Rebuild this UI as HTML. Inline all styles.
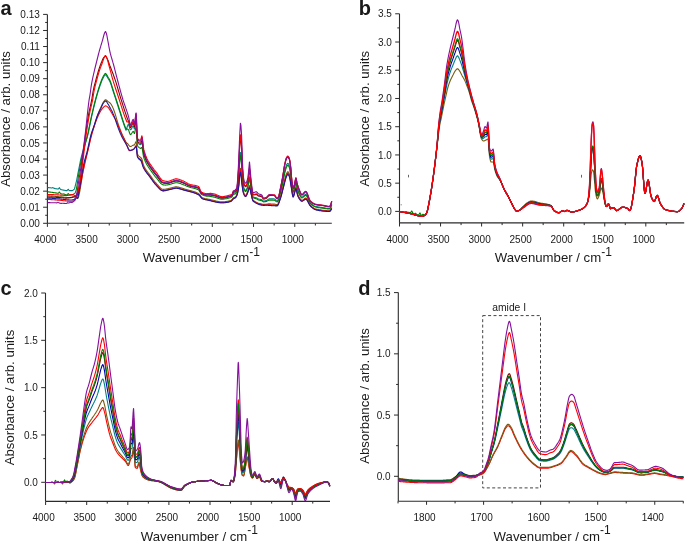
<!DOCTYPE html>
<html><head><meta charset="utf-8"><style>
html,body{margin:0;padding:0;background:#fff;}
svg{display:block;will-change:transform;}
text{font-family:"Liberation Sans", sans-serif;fill:#1a1a1a;}
</style></head><body>
<svg width="685" height="542" viewBox="0 0 685 542">
<rect width="685" height="542" fill="#fff"/>
<path d="M47.40 14.40 V223.30" stroke="#2b2b2b" stroke-width="1.1" fill="none"/>
<path d="M47.40 223.30 H331.80" stroke="#2b2b2b" stroke-width="1.1" fill="none"/>
<text x="39.80" y="226.90" font-size="10" text-anchor="end" font-weight="normal" >0.00</text>
<text x="39.80" y="210.83" font-size="10" text-anchor="end" font-weight="normal" >0.01</text>
<text x="39.80" y="194.76" font-size="10" text-anchor="end" font-weight="normal" >0.02</text>
<text x="39.80" y="178.69" font-size="10" text-anchor="end" font-weight="normal" >0.03</text>
<text x="39.80" y="162.62" font-size="10" text-anchor="end" font-weight="normal" >0.04</text>
<text x="39.80" y="146.55" font-size="10" text-anchor="end" font-weight="normal" >0.05</text>
<text x="39.80" y="130.49" font-size="10" text-anchor="end" font-weight="normal" >0.06</text>
<text x="39.80" y="114.42" font-size="10" text-anchor="end" font-weight="normal" >0.07</text>
<text x="39.80" y="98.35" font-size="10" text-anchor="end" font-weight="normal" >0.08</text>
<text x="39.80" y="82.28" font-size="10" text-anchor="end" font-weight="normal" >0.09</text>
<text x="39.80" y="66.21" font-size="10" text-anchor="end" font-weight="normal" >0.10</text>
<text x="39.80" y="50.14" font-size="10" text-anchor="end" font-weight="normal" >0.11</text>
<text x="39.80" y="34.07" font-size="10" text-anchor="end" font-weight="normal" >0.12</text>
<text x="39.80" y="18.00" font-size="10" text-anchor="end" font-weight="normal" >0.13</text>
<text x="45.40" y="243.10" font-size="10" text-anchor="middle" font-weight="normal" >4000</text>
<text x="86.62" y="243.10" font-size="10" text-anchor="middle" font-weight="normal" >3500</text>
<text x="127.85" y="243.10" font-size="10" text-anchor="middle" font-weight="normal" >3000</text>
<text x="169.07" y="243.10" font-size="10" text-anchor="middle" font-weight="normal" >2500</text>
<text x="210.30" y="243.10" font-size="10" text-anchor="middle" font-weight="normal" >2000</text>
<text x="251.53" y="243.10" font-size="10" text-anchor="middle" font-weight="normal" >1500</text>
<text x="292.75" y="243.10" font-size="10" text-anchor="middle" font-weight="normal" >1000</text>
<path d="M47.40 223.30 H43.10M47.40 207.23 H43.10M47.40 191.16 H43.10M47.40 175.09 H43.10M47.40 159.02 H43.10M47.40 142.95 H43.10M47.40 126.89 H43.10M47.40 110.82 H43.10M47.40 94.75 H43.10M47.40 78.68 H43.10M47.40 62.61 H43.10M47.40 46.54 H43.10M47.40 30.47 H43.10M47.40 14.40 H43.10M47.40 215.27 H45.20M47.40 199.20 H45.20M47.40 183.13 H45.20M47.40 167.06 H45.20M47.40 150.99 H45.20M47.40 134.92 H45.20M47.40 118.85 H45.20M47.40 102.78 H45.20M47.40 86.71 H45.20M47.40 70.64 H45.20M47.40 54.58 H45.20M47.40 38.51 H45.20M47.40 22.44 H45.20M47.40 223.30 V226.90M88.62 223.30 V226.90M129.85 223.30 V226.90M171.07 223.30 V226.90M212.30 223.30 V226.90M253.53 223.30 V226.90M294.75 223.30 V226.90M68.01 223.30 V225.50M109.24 223.30 V225.50M150.46 223.30 V225.50M191.69 223.30 V225.50M232.91 223.30 V225.50M274.14 223.30 V225.50M315.36 223.30 V225.50" stroke="#2b2b2b" stroke-width="1" fill="none"/>
<text x="142.70" y="262.30" font-size="13.2">Wavenumber / cm<tspan font-size="12" dy="-6.2">-1</tspan></text>
<text transform="translate(10.00 119.00) rotate(-90)" x="0" y="0" font-size="13.2" text-anchor="middle">Absorbance / arb. units</text>
<text x="0.60" y="14.50" font-size="20" font-weight="bold" fill="#000">a</text>
<path d="M47.4 187.4L47.9 187.5L48.4 187.6L48.9 187.6L49.4 187.7L49.9 187.8L50.4 187.8L50.9 187.9L51.4 188.0L51.9 188.0L52.4 187.8L52.9 187.6L53.4 187.9L53.9 188.3L54.4 188.4L54.9 188.5L55.0 188.5L55.4 188.6L55.9 188.7L56.4 188.8L56.9 188.9L57.4 189.0L57.9 189.0L58.4 188.9L58.9 188.3L59.4 187.7L59.9 188.4L60.0 188.7L60.4 189.3L60.9 189.6L61.4 189.7L61.9 189.8L62.0 189.8L62.4 189.9L62.9 190.0L63.4 190.1L63.9 190.2L64.4 190.3L64.9 190.4L65.4 190.5L65.9 190.6L66.0 190.6L66.4 190.6L66.9 190.6L67.4 190.3L67.9 189.5L68.4 189.3L68.9 190.1L69.4 190.6L69.9 190.6L70.0 190.6L70.4 190.6L70.9 190.6L71.0 190.6L71.4 190.6L71.9 190.6L72.4 190.5L72.5 190.5L72.9 190.3L73.4 189.9L73.9 189.5L74.0 189.5L74.4 189.0L74.9 187.5L75.3 185.7L75.4 185.3L75.9 183.3L76.0 182.9L76.4 181.3L76.9 179.0L77.0 178.4L77.4 176.3L77.9 173.6L78.4 171.1L78.7 169.6L78.9 168.6L79.3 166.6L79.4 166.1L79.9 163.5L80.4 160.9L80.9 158.7L81.4 156.6L81.9 154.7L82.4 152.9L82.9 151.1L83.1 150.4L83.4 149.3L83.9 147.6L84.4 146.0L84.9 144.3L85.4 142.7L85.9 141.3L86.4 139.8L86.9 138.3L87.3 137.0L87.4 136.6L87.7 135.5L87.9 134.7L88.4 132.6L88.9 130.2L89.1 129.2L89.4 127.7L89.9 125.2L90.4 122.6L90.9 120.1L91.4 117.7L91.5 117.3L91.9 115.5L92.4 113.3L92.9 111.2L93.4 109.1L93.8 107.4L93.9 107.0L94.4 105.0L94.5 104.6L94.9 103.0L95.4 101.1L95.9 99.2L96.4 97.4L96.5 97.1L96.9 95.6L97.4 93.9L97.5 93.6L97.9 92.2L98.4 90.6L98.9 89.0L99.3 87.8L99.4 87.5L99.9 86.0L100.4 84.6L100.5 84.3L100.9 83.2L101.4 81.8L101.9 80.6L102.4 79.4L102.6 79.0L102.9 78.4L103.0 78.2L103.4 77.4L103.9 76.5L104.4 75.8L104.9 75.1L105.4 74.7L105.6 74.8L105.9 75.0L106.4 75.7L106.9 76.4L107.4 77.2L107.8 78.0L107.9 78.1L108.0 78.3L108.4 79.0L108.9 79.8L109.4 80.6L109.9 81.6L110.0 81.8L110.4 82.8L110.9 84.1L111.4 85.7L111.9 87.3L112.4 88.9L112.9 90.5L113.0 90.8L113.4 92.0L113.5 92.3L113.9 93.6L114.4 95.1L114.9 96.6L115.4 98.2L115.9 99.7L116.4 101.3L116.6 101.9L116.9 102.8L117.4 104.4L117.5 104.7L117.9 105.9L118.4 107.5L118.9 109.0L119.4 110.6L119.9 112.1L120.4 113.7L120.9 115.3L121.4 116.9L121.9 118.5L122.4 120.0L122.6 120.7L122.9 121.6L123.0 121.9L123.4 123.1L123.9 124.6L124.4 126.0L124.9 127.4L125.4 128.7L125.9 130.0L126.0 130.3L126.4 129.1L126.9 127.7L127.4 126.3L127.9 125.1L128.4 124.1L128.6 124.2L128.9 125.2L129.4 127.2L129.6 127.9L129.9 128.9L130.4 129.8L130.5 129.8L130.9 129.6L131.4 128.9L131.9 127.9L132.0 127.6L132.4 126.9L132.9 126.2L133.2 126.0L133.4 126.2L133.9 127.7L134.0 128.0L134.4 128.9L134.5 128.9L134.9 127.5L135.4 123.9L135.9 120.9L136.1 120.6L136.4 123.3L136.9 134.4L137.4 141.8L137.9 142.7L138.4 143.3L138.9 143.8L139.4 144.2L139.9 144.4L140.4 144.6L140.6 144.7L140.9 144.4L141.3 143.5L141.4 143.3L141.9 142.8L142.4 144.8L142.9 148.6L143.2 151.0L143.4 152.4L143.8 154.4L143.9 154.7L144.4 156.2L144.9 157.5L145.4 158.8L145.9 159.9L146.4 161.0L146.9 161.9L147.4 162.8L147.9 163.7L148.4 164.5L148.9 165.3L149.4 166.0L149.9 166.7L150.0 166.9L150.4 167.5L150.9 168.2L151.4 168.9L151.9 169.6L152.4 170.3L152.9 171.0L153.4 171.7L153.9 172.4L154.4 173.1L154.9 173.7L155.4 174.3L155.9 174.9L156.0 175.0L156.4 175.5L156.6 175.7L156.9 176.1L157.4 176.7L157.9 177.4L158.4 178.1L158.9 178.8L159.4 179.5L159.9 180.1L160.4 180.7L160.9 181.3L161.4 181.8L161.9 182.2L162.4 182.5L162.9 182.8L163.1 182.8L163.4 182.9L163.9 183.0L164.4 183.0L164.9 183.1L165.4 183.1L165.9 183.2L166.4 183.2L166.9 183.2L167.1 183.1L167.4 183.1L167.9 183.1L168.4 183.0L168.9 182.8L169.4 182.7L169.9 182.6L170.0 182.5L170.4 182.4L170.9 182.2L171.4 182.1L171.9 181.9L172.4 181.7L172.9 181.5L173.4 181.4L173.9 181.2L174.4 181.1L174.9 181.0L175.4 180.9L175.9 180.9L176.3 180.9L176.4 180.9L176.9 180.9L177.4 181.0L177.9 181.0L178.4 181.2L178.9 181.3L179.4 181.4L179.9 181.6L180.4 181.8L180.9 182.0L181.4 182.2L181.9 182.4L182.4 182.5L182.9 182.7L183.4 182.9L183.9 183.1L184.2 183.3L184.4 183.4L184.9 183.6L185.4 183.8L185.9 184.1L186.4 184.3L186.9 184.6L187.4 184.8L187.9 185.0L188.4 185.3L188.9 185.4L189.4 185.6L189.9 185.8L190.4 185.9L190.9 186.1L191.4 186.2L191.9 186.3L192.4 186.4L192.9 186.5L193.4 186.6L193.9 186.7L194.4 186.8L194.9 187.0L195.4 187.1L195.9 187.2L196.4 187.4L196.9 187.6L197.4 187.8L197.9 188.0L198.4 188.2L198.6 188.3L198.9 188.6L199.4 189.4L199.9 190.4L200.4 191.5L200.9 192.4L201.2 192.7L201.4 192.9L201.9 193.2L202.4 193.6L202.6 193.7L202.9 193.8L203.4 194.0L203.9 194.2L204.4 194.4L204.9 194.5L205.4 194.6L205.9 194.7L206.4 194.8L206.5 194.8L206.9 194.8L207.4 194.8L207.8 194.8L207.9 194.8L208.4 194.9L208.9 194.9L209.4 194.9L209.9 194.9L210.4 195.0L210.9 195.0L211.4 195.1L211.9 195.2L212.4 195.3L212.9 195.4L213.4 195.5L213.9 195.6L214.4 195.7L214.9 195.8L215.4 196.0L215.9 196.2L216.4 196.3L216.9 196.5L217.4 196.7L217.9 196.9L218.4 197.1L218.9 197.3L219.4 197.4L219.9 197.6L220.4 197.7L220.9 197.8L221.4 197.9L221.9 197.9L222.0 197.9L222.4 197.9L222.9 197.9L223.4 197.8L223.9 197.8L224.4 197.7L224.9 197.7L225.4 197.6L225.9 197.5L226.4 197.4L226.9 197.3L227.4 197.2L227.9 197.0L228.4 196.9L228.9 196.8L229.4 196.6L229.9 196.5L230.4 196.4L230.9 196.2L231.4 195.9L231.9 195.6L232.0 195.5L232.4 194.9L232.9 193.8L233.1 193.4L233.4 193.1L233.9 193.0L234.4 192.9L234.9 192.9L235.3 192.8L235.4 192.7L235.7 192.6L235.9 192.5L236.4 192.0L236.8 191.3L236.9 191.1L237.1 190.2L237.4 188.3L237.5 187.6L237.9 184.3L238.2 181.3L238.4 179.1L238.6 176.7L238.9 172.4L239.4 163.8L239.7 159.5L239.9 157.1L240.4 152.6L240.5 152.4L240.9 154.5L241.4 160.5L241.6 162.9L241.9 167.4L242.4 176.4L242.5 177.7L242.9 181.8L243.4 185.7L243.5 186.3L243.9 187.9L244.4 189.0L244.9 189.9L245.4 190.4L245.6 190.4L245.9 190.3L246.4 189.6L246.9 188.5L247.4 187.1L247.8 185.9L247.9 185.6L248.4 182.9L248.7 181.1L248.9 179.8L249.4 177.0L249.5 176.9L249.9 178.8L250.2 181.2L250.4 182.7L250.9 186.3L251.0 186.9L251.4 189.4L251.9 192.5L252.4 195.1L252.9 196.7L253.1 196.9L253.4 197.1L253.9 197.3L254.4 197.4L254.9 197.5L255.4 197.6L255.9 197.7L256.3 197.7L256.4 197.8L256.9 198.0L257.4 198.4L257.9 198.7L258.4 199.0L258.9 199.1L259.4 199.2L259.9 199.3L260.4 199.4L260.9 199.5L261.4 199.6L261.6 199.6L261.9 199.8L262.4 200.2L262.9 200.7L263.4 201.0L263.7 201.1L263.9 201.1L264.4 201.0L264.9 200.9L265.4 200.8L265.9 200.6L266.0 200.6L266.4 200.5L266.9 200.2L267.4 199.9L267.9 199.5L268.4 199.2L268.9 199.0L269.3 198.9L269.4 198.9L269.9 198.9L270.4 198.9L270.9 198.9L271.4 198.9L271.9 198.9L272.4 198.9L272.9 198.9L273.4 198.9L273.9 198.9L274.3 198.9L274.4 199.0L274.9 199.2L275.4 199.6L275.9 200.2L276.4 200.6L276.9 200.9L277.1 200.9L277.4 200.8L277.9 200.3L278.4 199.3L278.7 198.7L278.9 198.2L279.4 196.4L279.9 194.2L280.4 192.1L280.9 190.1L281.4 187.9L281.9 185.7L282.4 183.3L282.6 182.3L282.9 180.8L283.4 178.1L283.7 176.5L283.9 175.4L284.4 172.8L284.8 171.0L284.9 170.5L285.4 168.5L285.9 166.6L286.4 165.3L286.5 165.1L286.9 164.3L287.4 163.6L287.8 163.4L287.9 163.4L288.4 163.8L288.9 164.6L289.3 165.5L289.4 165.7L289.9 168.0L290.4 171.3L290.6 172.7L290.9 175.3L291.4 180.4L291.5 181.4L291.9 184.9L292.0 185.6L292.4 188.1L292.9 190.4L293.1 190.9L293.4 191.2L293.5 191.1L293.9 190.2L294.4 188.1L294.9 185.8L295.0 185.4L295.4 183.5L295.9 182.0L296.4 183.5L296.9 186.2L297.0 186.6L297.4 188.3L297.6 188.9L297.9 189.8L298.4 191.2L298.9 192.4L299.2 193.0L299.4 193.4L299.9 194.5L300.4 195.4L300.9 196.3L301.4 196.9L301.9 197.1L302.4 197.0L302.9 196.6L303.4 196.2L303.9 195.6L304.4 195.1L304.9 194.7L305.4 194.4L305.7 194.4L305.9 194.4L306.4 194.8L306.9 195.6L307.4 196.6L307.9 197.7L308.4 199.0L308.9 200.2L309.4 201.3L309.9 202.3L310.4 202.9L310.9 203.4L311.4 203.9L311.9 204.3L312.4 204.7L312.9 205.1L313.4 205.4L313.9 205.7L314.4 206.0L314.9 206.2L315.4 206.3L315.7 206.4L315.9 206.5L316.4 206.6L316.9 206.7L317.4 206.8L317.9 206.9L318.4 207.0L318.9 207.1L319.4 207.1L319.9 207.2L320.4 207.3L320.9 207.3L321.4 207.4L321.9 207.5L322.4 207.5L322.9 207.6L323.1 207.6L323.4 207.7L323.9 207.8L324.4 207.9L324.9 208.0L325.4 208.0L325.9 208.1L326.4 208.2L326.9 208.3L327.4 208.4L327.9 208.4L328.4 208.5L328.9 208.5L329.4 208.5L329.5 208.5L329.9 208.3L330.4 207.6L330.9 206.5L331.4 205.2L331.8 204.3" stroke="#008080" stroke-width="1.10" fill="none" stroke-linejoin="round"/>
<path d="M47.4 191.7L47.9 191.8L48.4 191.9L48.9 191.9L49.4 192.0L49.9 192.1L50.4 192.1L50.9 192.2L51.4 192.3L51.9 192.3L52.4 192.4L52.9 192.5L53.4 192.6L53.9 192.6L54.4 192.7L54.9 192.8L55.0 192.8L55.4 192.9L55.9 192.9L56.4 193.0L56.9 193.1L57.4 193.2L57.9 193.2L58.4 193.2L58.9 192.5L59.4 192.0L59.9 192.7L60.0 192.9L60.4 193.5L60.9 193.8L61.4 193.9L61.9 194.0L62.0 194.0L62.4 194.0L62.9 194.1L63.4 194.0L63.9 193.9L64.4 194.1L64.9 194.5L65.4 194.6L65.9 194.7L66.0 194.7L66.4 194.8L66.9 194.8L67.4 194.5L67.9 193.7L68.4 193.6L68.9 194.4L69.4 194.8L69.9 194.9L70.0 194.9L70.4 194.9L70.9 194.9L71.0 194.9L71.4 194.9L71.9 194.8L72.4 194.7L72.5 194.7L72.9 194.6L73.4 194.2L73.9 193.9L74.0 193.9L74.4 193.6L74.9 193.2L75.3 192.5L75.4 192.3L75.9 191.1L76.0 190.8L76.4 188.9L76.9 186.1L77.0 185.5L77.4 183.0L77.9 179.6L78.4 176.4L78.7 174.5L78.9 173.3L79.3 170.9L79.4 170.3L79.9 167.4L80.4 164.6L80.9 161.9L81.4 159.5L81.9 157.4L82.4 155.4L82.9 153.4L83.1 152.6L83.4 151.4L83.9 149.4L84.4 147.4L84.9 145.4L85.4 143.4L85.9 141.5L86.4 139.5L86.9 137.5L87.3 135.9L87.4 135.5L87.7 134.2L87.9 133.3L88.4 131.0L88.9 128.6L89.1 127.6L89.4 126.1L89.9 123.6L90.4 121.2L90.9 118.8L91.4 116.4L91.5 116.0L91.9 114.2L92.4 112.0L92.9 109.9L93.4 107.8L93.8 106.1L93.9 105.7L94.4 103.7L94.5 103.3L94.9 101.7L95.4 99.8L95.9 97.9L96.4 96.1L96.5 95.8L96.9 94.3L97.4 92.6L97.5 92.3L97.9 90.9L98.4 89.3L98.9 87.7L99.3 86.5L99.4 86.2L99.9 84.7L100.4 83.3L100.5 83.0L100.9 81.9L101.4 80.5L101.9 79.3L102.4 78.1L102.6 77.7L102.9 77.1L103.0 76.9L103.4 76.1L103.9 75.2L104.4 74.5L104.9 73.8L105.4 73.4L105.6 73.5L105.9 73.7L106.4 74.4L106.9 75.1L107.4 75.9L107.8 76.7L107.9 76.8L108.0 77.0L108.4 77.7L108.9 78.5L109.4 79.3L109.9 80.3L110.0 80.5L110.4 81.5L110.9 82.8L111.4 84.4L111.9 86.0L112.4 87.6L112.9 89.2L113.0 89.5L113.4 90.7L113.5 91.0L113.9 92.3L114.4 93.8L114.9 95.3L115.4 96.9L115.9 98.4L116.4 100.0L116.6 100.6L116.9 101.5L117.4 103.1L117.5 103.4L117.9 104.6L118.4 106.2L118.9 107.7L119.4 109.3L119.9 110.8L120.4 112.4L120.9 114.0L121.4 115.6L121.9 117.2L122.4 118.7L122.6 119.4L122.9 120.3L123.0 120.6L123.4 121.8L123.9 123.3L124.4 124.7L124.9 126.1L125.4 127.4L125.9 128.7L126.0 129.0L126.4 129.0L126.9 129.0L127.4 129.1L127.9 129.3L128.4 129.6L128.6 129.9L128.9 130.9L129.4 132.5L129.6 133.1L129.9 133.9L130.4 134.6L130.5 134.6L130.9 134.4L131.4 133.8L131.9 133.0L132.0 132.8L132.4 132.2L132.9 131.6L133.2 131.4L133.4 131.5L133.9 132.6L134.0 132.9L134.4 133.5L134.5 133.5L134.9 132.2L135.4 129.2L135.9 126.8L136.1 126.5L136.4 128.9L136.9 138.8L137.4 145.4L137.9 146.3L138.4 146.9L138.9 147.4L139.4 147.8L139.9 148.1L140.4 148.3L140.6 148.4L140.9 148.3L141.3 147.7L141.4 147.5L141.9 147.5L142.4 149.4L142.9 152.8L143.2 154.8L143.4 156.0L143.8 157.7L143.9 158.0L144.4 159.4L144.9 160.6L145.4 161.7L145.9 162.8L146.4 163.8L146.9 164.7L147.4 165.5L147.9 166.3L148.4 167.1L148.9 167.8L149.4 168.6L149.9 169.3L150.0 169.4L150.4 170.0L150.9 170.7L151.4 171.4L151.9 172.1L152.4 172.8L152.9 173.5L153.4 174.2L153.9 174.9L154.4 175.5L154.9 176.2L155.4 176.8L155.9 177.3L156.0 177.4L156.4 177.9L156.6 178.1L156.9 178.5L157.4 179.1L157.9 179.8L158.4 180.4L158.9 181.1L159.4 181.8L159.9 182.4L160.4 183.0L160.9 183.5L161.4 183.9L161.9 184.3L162.4 184.6L162.9 184.8L163.1 184.9L163.4 184.9L163.9 185.0L164.4 185.0L164.9 185.0L165.4 185.1L165.9 185.0L166.4 185.0L166.9 185.0L167.1 185.0L167.4 184.9L167.9 184.8L168.4 184.7L168.9 184.6L169.4 184.5L169.9 184.4L170.0 184.3L170.4 184.2L170.9 184.0L171.4 183.9L171.9 183.7L172.4 183.5L172.9 183.4L173.4 183.2L173.9 183.1L174.4 183.0L174.9 182.9L175.4 182.8L175.9 182.7L176.3 182.7L176.4 182.7L176.9 182.8L177.4 182.8L177.9 182.9L178.4 183.0L178.9 183.1L179.4 183.3L179.9 183.4L180.4 183.6L180.9 183.8L181.4 184.0L181.9 184.2L182.4 184.3L182.9 184.5L183.4 184.7L183.9 184.9L184.2 185.0L184.4 185.1L184.9 185.3L185.4 185.5L185.9 185.8L186.4 186.0L186.9 186.2L187.4 186.4L187.9 186.6L188.4 186.8L188.9 187.0L189.4 187.1L189.9 187.3L190.4 187.4L190.9 187.6L191.4 187.7L191.9 187.8L192.4 187.9L192.9 188.0L193.4 188.1L193.9 188.3L194.4 188.4L194.9 188.5L195.4 188.7L195.9 188.8L196.4 189.0L196.9 189.2L197.4 189.4L197.9 189.6L198.4 189.9L198.6 190.0L198.9 190.2L199.4 190.9L199.9 191.9L200.4 192.8L200.9 193.7L201.2 194.0L201.4 194.2L201.9 194.6L202.4 194.9L202.6 195.0L202.9 195.1L203.4 195.3L203.9 195.5L204.4 195.7L204.9 195.8L205.4 195.9L205.9 196.0L206.4 196.1L206.5 196.1L206.9 196.1L207.4 196.2L207.8 196.2L207.9 196.2L208.4 196.2L208.9 196.3L209.4 196.3L209.9 196.4L210.4 196.4L210.9 196.5L211.4 196.6L211.9 196.7L212.4 196.8L212.9 196.9L213.4 197.0L213.9 197.1L214.4 197.2L214.9 197.3L215.4 197.5L215.9 197.6L216.4 197.8L216.9 198.0L217.4 198.1L217.9 198.3L218.4 198.4L218.9 198.6L219.4 198.7L219.9 198.9L220.4 199.0L220.9 199.1L221.4 199.1L221.9 199.1L222.0 199.1L222.4 199.1L222.9 199.1L223.4 199.1L223.9 199.0L224.4 199.0L224.9 198.9L225.4 198.8L225.9 198.8L226.4 198.7L226.9 198.6L227.4 198.4L227.9 198.3L228.4 198.2L228.9 198.1L229.4 197.9L229.9 197.8L230.4 197.7L230.9 197.5L231.4 197.2L231.9 196.8L232.0 196.7L232.4 196.1L232.9 195.1L233.1 194.8L233.4 194.5L233.9 194.3L234.4 194.1L234.9 194.0L235.3 193.9L235.4 193.8L235.7 193.7L235.9 193.5L236.4 192.9L236.8 192.2L236.9 191.9L237.1 191.1L237.4 189.3L237.5 188.7L237.9 185.6L238.2 182.8L238.4 180.7L238.6 178.4L238.9 174.3L239.4 166.1L239.7 162.0L239.9 159.8L240.4 155.5L240.5 155.3L240.9 157.5L241.4 163.4L241.6 165.7L241.9 169.9L242.4 178.2L242.5 179.4L242.9 183.3L243.4 187.0L243.5 187.5L243.9 189.0L244.4 190.2L244.9 191.0L245.4 191.5L245.6 191.5L245.9 191.4L246.4 190.7L246.9 189.6L247.4 188.2L247.8 187.1L247.9 186.7L248.4 184.2L248.7 182.4L248.9 181.2L249.4 178.7L249.5 178.6L249.9 180.3L250.2 182.6L250.4 184.0L250.9 187.5L251.0 188.0L251.4 190.4L251.9 193.3L252.4 195.9L252.9 197.5L253.1 197.7L253.4 197.9L253.9 198.1L254.4 198.3L254.9 198.4L255.4 198.5L255.9 198.6L256.3 198.7L256.4 198.7L256.9 199.0L257.4 199.3L257.9 199.7L258.4 199.9L258.9 200.1L259.4 200.2L259.9 200.3L260.4 200.4L260.9 200.5L261.4 200.6L261.6 200.6L261.9 200.8L262.4 201.1L262.9 201.5L263.4 201.8L263.7 201.9L263.9 201.9L264.4 201.8L264.9 201.7L265.4 201.6L265.9 201.5L266.0 201.5L266.4 201.4L266.9 201.2L267.4 200.9L267.9 200.6L268.4 200.4L268.9 200.2L269.3 200.1L269.4 200.1L269.9 200.1L270.4 200.1L270.9 200.1L271.4 200.1L271.9 200.1L272.4 200.1L272.9 200.1L273.4 200.2L273.9 200.2L274.3 200.2L274.4 200.2L274.9 200.4L275.4 200.8L275.9 201.2L276.4 201.6L276.9 201.9L277.1 201.9L277.4 201.8L277.9 201.2L278.4 200.3L278.7 199.6L278.9 199.1L279.4 197.4L279.9 195.4L280.4 193.4L280.9 191.4L281.4 189.3L281.9 187.1L282.4 184.8L282.6 183.8L282.9 182.4L283.4 179.8L283.7 178.3L283.9 177.2L284.4 174.8L284.8 173.0L284.9 172.5L285.4 170.5L285.9 168.7L286.4 167.3L286.5 167.1L286.9 166.3L287.4 165.6L287.8 165.3L287.9 165.3L288.4 165.7L288.9 166.6L289.3 167.4L289.4 167.7L289.9 169.9L290.4 173.1L290.6 174.6L290.9 177.0L291.4 181.8L291.5 182.7L291.9 186.0L292.0 186.7L292.4 189.2L292.9 191.6L293.1 192.1L293.4 192.2L293.5 192.1L293.9 191.2L294.4 189.1L294.9 186.9L295.0 186.5L295.4 184.7L295.9 183.2L296.4 184.6L296.9 187.3L297.0 187.8L297.4 189.4L297.6 190.1L297.9 191.0L298.4 192.3L298.9 193.5L299.2 194.1L299.4 194.4L299.9 195.4L300.4 196.3L300.9 197.1L301.4 197.7L301.9 197.9L302.4 197.7L302.9 197.4L303.4 197.0L303.9 196.5L304.4 196.0L304.9 195.5L305.4 195.3L305.7 195.3L305.9 195.3L306.4 195.7L306.9 196.4L307.4 197.3L307.9 198.5L308.4 199.7L308.9 200.8L309.4 201.9L309.9 202.8L310.4 203.5L310.9 204.0L311.4 204.4L311.9 204.8L312.4 205.3L312.9 205.6L313.4 206.0L313.9 206.3L314.4 206.5L314.9 206.8L315.4 206.9L315.7 207.0L315.9 207.1L316.4 207.2L316.9 207.3L317.4 207.4L317.9 207.5L318.4 207.6L318.9 207.7L319.4 207.7L319.9 207.8L320.4 207.9L320.9 207.9L321.4 208.0L321.9 208.1L322.4 208.1L322.9 208.2L323.1 208.2L323.4 208.3L323.9 208.4L324.4 208.4L324.9 208.5L325.4 208.6L325.9 208.7L326.4 208.8L326.9 208.8L327.4 208.9L327.9 209.0L328.4 209.0L328.9 209.0L329.4 209.0L329.5 209.0L329.9 208.8L330.4 208.1L330.9 207.1L331.4 205.9L331.8 205.0" stroke="#008000" stroke-width="1.10" fill="none" stroke-linejoin="round"/>
<path d="M47.4 195.8L47.9 195.8L48.4 195.9L48.9 195.9L49.4 195.9L49.9 196.0L50.4 196.0L50.9 196.0L51.4 196.1L51.9 196.1L52.4 196.1L52.9 196.2L53.4 196.2L53.9 196.3L54.4 196.3L54.9 196.3L55.0 196.3L55.4 196.4L55.9 196.4L56.4 196.5L56.9 196.5L57.4 196.5L57.9 196.6L58.4 196.6L58.9 196.7L59.4 196.7L59.9 196.7L60.0 196.8L60.4 196.8L60.9 196.8L61.4 196.9L61.9 196.9L62.0 196.9L62.4 197.0L62.9 197.1L63.4 197.1L63.9 197.2L64.4 197.2L64.9 197.3L65.4 197.3L65.9 197.4L66.0 197.4L66.4 197.4L66.9 197.5L67.4 197.5L67.9 197.5L68.4 197.6L68.9 197.6L69.4 197.6L69.9 197.6L70.0 197.6L70.4 197.6L70.9 197.6L71.0 197.6L71.4 197.6L71.9 197.5L72.4 197.4L72.5 197.4L72.9 197.3L73.4 197.2L73.9 197.0L74.0 197.0L74.4 196.7L74.9 196.2L75.3 196.0L75.4 196.0L75.9 196.2L76.0 196.2L76.4 196.5L76.9 197.2L77.0 197.4L77.4 198.2L77.9 198.3L78.4 197.4L78.7 196.3L78.9 195.5L79.3 193.7L79.4 193.2L79.9 190.8L80.4 187.9L80.9 184.6L81.4 181.5L81.9 178.3L82.4 175.0L82.9 171.8L83.1 170.6L83.4 168.9L83.9 166.3L84.4 163.8L84.9 161.4L85.4 159.3L85.9 157.4L86.4 155.6L86.9 153.8L87.3 152.3L87.4 151.9L87.7 150.7L87.9 149.9L88.4 147.7L88.9 145.4L89.1 144.5L89.4 143.0L89.9 140.7L90.4 138.4L90.9 136.3L91.4 134.4L91.5 134.0L91.9 132.6L92.4 131.1L92.9 129.6L93.4 128.2L93.8 127.1L93.9 126.8L94.4 125.3L94.5 125.0L94.9 123.7L95.4 122.1L95.9 120.5L96.4 118.8L96.5 118.5L96.9 117.2L97.4 115.7L97.5 115.4L97.9 114.3L98.4 113.0L98.9 111.7L99.3 110.8L99.4 110.6L99.9 109.4L100.4 108.3L100.5 108.1L100.9 107.3L101.4 106.2L101.9 105.1L102.4 104.0L102.6 103.6L102.9 103.0L103.0 102.8L103.4 102.1L103.9 101.4L104.4 100.7L104.9 100.2L105.4 99.8L105.6 99.8L105.9 99.8L106.4 100.1L106.9 100.5L107.4 101.0L107.8 101.3L107.9 101.4L108.0 101.5L108.4 101.8L108.9 102.1L109.4 102.5L109.9 102.9L110.0 103.0L110.4 103.4L110.9 104.0L111.4 104.8L111.9 105.7L112.4 106.6L112.9 107.7L113.0 107.9L113.4 108.9L113.5 109.1L113.9 110.2L114.4 111.6L114.9 113.2L115.4 114.8L115.9 116.4L116.4 118.1L116.6 118.8L116.9 119.8L117.4 121.5L117.5 121.8L117.9 123.1L118.4 124.7L118.9 126.1L119.4 127.5L119.9 128.8L120.4 130.1L120.9 131.4L121.4 132.6L121.9 133.8L122.4 134.9L122.6 135.3L122.9 136.0L123.0 136.2L123.4 137.0L123.9 138.0L124.4 139.0L124.9 140.0L125.4 140.9L125.9 141.8L126.0 142.0L126.4 142.7L126.9 143.1L127.4 143.5L127.9 144.0L128.4 144.7L128.6 145.0L128.9 145.3L129.4 146.0L129.6 146.2L129.9 146.4L130.4 146.5L130.5 146.5L130.9 146.4L131.4 146.2L131.9 145.9L132.0 145.8L132.4 145.6L132.9 145.3L133.2 145.1L133.4 145.0L133.9 145.1L134.0 145.1L134.4 144.9L134.5 144.8L134.9 144.0L135.4 142.7L135.9 141.8L136.1 141.6L136.4 143.2L136.9 149.5L137.4 154.0L137.9 154.9L138.4 155.6L138.9 156.1L139.4 156.5L139.9 156.9L140.4 157.3L140.6 157.4L140.9 157.7L141.3 158.0L141.4 158.2L141.9 159.2L142.4 161.0L142.9 163.1L143.2 164.1L143.4 164.7L143.8 165.8L143.9 166.0L144.4 167.0L144.9 167.9L145.4 168.8L145.9 169.6L146.4 170.3L146.9 171.0L147.4 171.7L147.9 172.4L148.4 173.0L148.9 173.7L149.4 174.3L149.9 175.0L150.0 175.2L150.4 175.7L150.9 176.4L151.4 177.1L151.9 177.8L152.4 178.6L152.9 179.3L153.4 179.9L153.9 180.6L154.4 181.3L154.9 181.9L155.4 182.4L155.9 183.0L156.0 183.1L156.4 183.5L156.6 183.8L156.9 184.1L157.4 184.7L157.9 185.2L158.4 185.8L158.9 186.4L159.4 187.0L159.9 187.5L160.4 188.0L160.9 188.4L161.4 188.7L161.9 189.0L162.4 189.2L162.9 189.3L163.1 189.4L163.4 189.4L163.9 189.4L164.4 189.3L164.9 189.3L165.4 189.2L165.9 189.1L166.4 189.0L166.9 188.9L167.1 188.9L167.4 188.8L167.9 188.7L168.4 188.6L168.9 188.4L169.4 188.3L169.9 188.2L170.0 188.2L170.4 188.1L170.9 188.0L171.4 187.8L171.9 187.7L172.4 187.6L172.9 187.4L173.4 187.3L173.9 187.2L174.4 187.1L174.9 187.0L175.4 186.9L175.9 186.9L176.3 186.9L176.4 186.9L176.9 186.9L177.4 187.0L177.9 187.0L178.4 187.1L178.9 187.2L179.4 187.4L179.9 187.5L180.4 187.7L180.9 187.8L181.4 188.0L181.9 188.1L182.4 188.3L182.9 188.5L183.4 188.6L183.9 188.8L184.2 188.9L184.4 188.9L184.9 189.1L185.4 189.2L185.9 189.4L186.4 189.5L186.9 189.7L187.4 189.8L187.9 190.0L188.4 190.1L188.9 190.2L189.4 190.4L189.9 190.5L190.4 190.6L190.9 190.8L191.4 190.9L191.9 191.0L192.4 191.2L192.9 191.3L193.4 191.5L193.9 191.6L194.4 191.8L194.9 192.0L195.4 192.1L195.9 192.3L196.4 192.5L196.9 192.7L197.4 193.0L197.9 193.2L198.4 193.5L198.6 193.6L198.9 193.8L199.4 194.3L199.9 194.9L200.4 195.6L200.9 196.3L201.2 196.7L201.4 196.9L201.9 197.4L202.4 197.7L202.6 197.8L202.9 197.9L203.4 198.1L203.9 198.3L204.4 198.4L204.9 198.6L205.4 198.7L205.9 198.8L206.4 198.9L206.5 198.9L206.9 198.9L207.4 199.0L207.8 199.1L207.9 199.1L208.4 199.2L208.9 199.3L209.4 199.4L209.9 199.5L210.4 199.6L210.9 199.7L211.4 199.9L211.9 200.0L212.4 200.1L212.9 200.2L213.4 200.3L213.9 200.5L214.4 200.6L214.9 200.7L215.4 200.8L215.9 200.9L216.4 201.1L216.9 201.2L217.4 201.3L217.9 201.4L218.4 201.5L218.9 201.6L219.4 201.7L219.9 201.7L220.4 201.8L220.9 201.8L221.4 201.9L221.9 201.9L222.0 201.9L222.4 201.9L222.9 201.9L223.4 201.8L223.9 201.8L224.4 201.8L224.9 201.7L225.4 201.6L225.9 201.6L226.4 201.5L226.9 201.4L227.4 201.3L227.9 201.2L228.4 201.1L228.9 201.0L229.4 200.8L229.9 200.7L230.4 200.6L230.9 200.4L231.4 200.1L231.9 199.6L232.0 199.5L232.4 199.0L232.9 198.3L233.1 198.1L233.4 197.8L233.9 197.6L234.4 197.4L234.9 197.1L235.3 196.9L235.4 196.8L235.7 196.6L235.9 196.4L236.4 195.6L236.8 194.8L236.9 194.5L237.1 193.9L237.4 192.8L237.5 192.4L237.9 190.3L238.2 188.5L238.4 187.1L238.6 185.6L238.9 182.5L239.4 176.0L239.7 173.0L239.9 171.4L240.4 168.5L240.5 168.4L240.9 170.6L241.4 176.1L241.6 178.0L241.9 180.8L242.4 185.6L242.5 186.4L242.9 189.2L243.4 191.8L243.5 192.1L243.9 193.2L244.4 194.2L244.9 195.0L245.4 195.4L245.6 195.4L245.9 195.3L246.4 194.6L246.9 193.5L247.4 192.3L247.8 191.3L247.9 191.0L248.4 189.1L248.7 187.9L248.9 187.1L249.4 185.7L249.5 185.6L249.9 186.6L250.2 188.1L250.4 189.2L250.9 191.8L251.0 192.3L251.4 194.1L251.9 196.5L252.4 198.6L252.9 200.0L253.1 200.3L253.4 200.5L253.9 200.8L254.4 201.2L254.9 201.5L255.4 201.7L255.9 202.0L256.3 202.2L256.4 202.2L256.9 202.5L257.4 202.7L257.9 203.0L258.4 203.2L258.9 203.4L259.4 203.5L259.9 203.6L260.4 203.8L260.9 203.8L261.4 203.9L261.6 204.0L261.9 204.0L262.4 204.2L262.9 204.3L263.4 204.4L263.7 204.4L263.9 204.4L264.4 204.4L264.9 204.3L265.4 204.3L265.9 204.2L266.0 204.2L266.4 204.2L266.9 204.1L267.4 204.1L267.9 204.0L268.4 203.9L268.9 203.9L269.3 203.9L269.4 203.9L269.9 203.9L270.4 203.9L270.9 204.0L271.4 204.0L271.9 204.0L272.4 204.0L272.9 204.1L273.4 204.1L273.9 204.1L274.3 204.1L274.4 204.1L274.9 204.2L275.4 204.3L275.9 204.5L276.4 204.6L276.9 204.7L277.1 204.7L277.4 204.6L277.9 204.0L278.4 203.1L278.7 202.4L278.9 201.8L279.4 200.3L279.9 198.7L280.4 197.1L280.9 195.4L281.4 193.6L281.9 191.6L282.4 189.5L282.6 188.7L282.9 187.4L283.4 185.3L283.7 184.0L283.9 183.2L284.4 181.1L284.8 179.4L284.9 179.0L285.4 177.1L285.9 175.3L286.4 174.0L286.5 173.7L286.9 172.9L287.4 172.0L287.8 171.7L287.9 171.7L288.4 172.1L288.9 173.0L289.3 173.8L289.4 174.1L289.9 176.2L290.4 179.2L290.6 180.6L290.9 182.7L291.4 186.3L291.5 187.0L291.9 189.7L292.0 190.4L292.4 193.0L292.9 195.3L293.1 195.6L293.4 195.4L293.5 195.3L293.9 194.2L294.4 192.3L294.9 190.3L295.0 190.0L295.4 188.4L295.9 187.1L296.4 188.3L296.9 190.8L297.0 191.3L297.4 193.1L297.6 193.8L297.9 194.6L298.4 195.8L298.9 196.8L299.2 197.3L299.4 197.6L299.9 198.4L300.4 199.1L300.9 199.7L301.4 200.1L301.9 200.3L302.4 200.2L302.9 199.9L303.4 199.5L303.9 199.1L304.4 198.6L304.9 198.3L305.4 198.1L305.7 198.0L305.9 198.0L306.4 198.4L306.9 199.0L307.4 199.8L307.9 200.8L308.4 201.8L308.9 202.8L309.4 203.8L309.9 204.6L310.4 205.2L310.9 205.7L311.4 206.2L311.9 206.6L312.4 207.1L312.9 207.5L313.4 207.8L313.9 208.2L314.4 208.5L314.9 208.7L315.4 208.9L315.7 209.0L315.9 209.0L316.4 209.1L316.9 209.2L317.4 209.3L317.9 209.4L318.4 209.5L318.9 209.6L319.4 209.7L319.9 209.8L320.4 209.9L320.9 210.0L321.4 210.0L321.9 210.1L322.4 210.2L322.9 210.2L323.1 210.3L323.4 210.3L323.9 210.4L324.4 210.4L324.9 210.5L325.4 210.5L325.9 210.6L326.4 210.6L326.9 210.7L327.4 210.7L327.9 210.7L328.4 210.7L328.9 210.8L329.4 210.8L329.5 210.8L329.9 210.6L330.4 210.0L330.9 209.2L331.4 208.3L331.8 207.6" stroke="#7a5a10" stroke-width="1.10" fill="none" stroke-linejoin="round"/>
<path d="M47.4 199.3L47.9 199.3L48.4 199.4L48.9 199.4L49.4 199.4L49.9 199.5L50.4 199.5L50.9 199.6L51.4 199.6L51.9 199.6L52.4 199.7L52.9 199.7L53.4 199.8L53.9 199.8L54.4 199.8L54.9 199.9L55.0 199.9L55.4 199.9L55.9 200.0L56.4 200.0L56.9 200.0L57.4 200.1L57.9 200.1L58.4 200.2L58.9 200.2L59.4 200.2L59.9 200.3L60.0 200.3L60.4 200.3L60.9 200.4L61.4 200.4L61.9 200.5L62.0 200.5L62.4 200.5L62.9 200.6L63.4 200.7L63.9 200.7L64.4 200.8L64.9 200.8L65.4 200.9L65.9 200.9L66.0 201.0L66.4 201.0L66.9 201.0L67.4 201.1L67.9 201.1L68.4 201.2L68.9 201.2L69.4 201.2L69.9 201.3L70.0 201.3L70.4 201.3L70.9 201.3L71.0 201.3L71.4 201.3L71.9 201.2L72.4 201.2L72.5 201.1L72.9 201.1L73.4 200.9L73.9 200.8L74.0 200.8L74.4 200.5L74.9 200.0L75.3 199.4L75.4 199.2L75.9 198.4L76.0 198.2L76.4 197.5L76.9 196.5L77.0 196.2L77.4 195.3L77.9 193.9L78.4 192.5L78.7 191.6L78.9 190.9L79.3 189.6L79.4 189.3L79.9 187.3L80.4 185.1L80.9 182.6L81.4 180.0L81.9 177.3L82.4 174.7L82.9 172.3L83.1 171.3L83.4 170.0L83.9 167.8L84.4 165.5L84.9 163.4L85.4 161.2L85.9 159.1L86.4 157.0L86.9 154.9L87.3 153.2L87.4 152.7L87.7 151.5L87.9 150.6L88.4 148.5L88.9 146.3L89.1 145.4L89.4 144.1L89.9 142.0L90.4 139.9L90.9 137.9L91.4 136.0L91.5 135.6L91.9 134.1L92.4 132.4L92.9 130.6L93.4 128.9L93.8 127.7L93.9 127.3L94.4 125.8L94.5 125.5L94.9 124.3L95.4 122.9L95.9 121.4L96.4 120.1L96.5 119.8L96.9 118.8L97.4 117.6L97.5 117.4L97.9 116.4L98.4 115.3L98.9 114.3L99.3 113.5L99.4 113.3L99.9 112.3L100.4 111.4L100.5 111.3L100.9 110.6L101.4 109.8L101.9 109.1L102.4 108.4L102.6 108.2L102.9 107.9L103.0 107.8L103.4 107.4L103.9 106.9L104.4 106.4L104.9 106.1L105.4 105.9L105.6 105.9L105.9 105.9L106.4 106.1L106.9 106.4L107.4 106.8L107.8 107.1L107.9 107.2L108.0 107.3L108.4 107.7L108.9 108.3L109.4 109.1L109.9 109.9L110.0 110.1L110.4 110.7L110.9 111.5L111.4 112.4L111.9 113.3L112.4 114.2L112.9 115.1L113.0 115.3L113.4 115.9L113.5 116.1L113.9 116.8L114.4 117.6L114.9 118.5L115.4 119.3L115.9 120.3L116.4 121.2L116.6 121.6L116.9 122.3L117.4 123.5L117.5 123.7L117.9 124.8L118.4 126.1L118.9 127.4L119.4 128.7L119.9 129.9L120.4 131.1L120.9 132.2L121.4 133.3L121.9 134.4L122.4 135.4L122.6 135.9L122.9 136.5L123.0 136.7L123.4 137.6L123.9 138.7L124.4 139.8L124.9 140.9L125.4 142.0L125.9 143.0L126.0 143.2L126.4 144.2L126.9 145.5L127.4 146.8L127.9 148.1L128.4 149.3L128.6 149.7L128.9 150.1L129.4 150.6L129.6 150.6L129.9 150.6L130.4 150.6L130.5 150.6L130.9 150.5L131.4 150.3L131.9 150.1L132.0 150.0L132.4 149.8L132.9 149.5L133.2 149.3L133.4 149.1L133.9 148.8L134.0 148.7L134.4 148.2L134.5 148.1L134.9 147.4L135.4 146.4L135.9 145.7L136.1 145.6L136.4 146.9L136.9 152.3L137.4 156.3L137.9 157.2L138.4 157.8L138.9 158.3L139.4 158.6L139.9 158.9L140.4 159.3L140.6 159.5L140.9 159.8L141.3 160.3L141.4 160.4L141.9 161.7L142.4 163.5L142.9 165.3L143.2 166.2L143.4 166.7L143.8 167.6L143.9 167.8L144.4 168.8L144.9 169.6L145.4 170.5L145.9 171.2L146.4 171.9L146.9 172.6L147.4 173.3L147.9 173.9L148.4 174.5L148.9 175.2L149.4 175.8L149.9 176.5L150.0 176.6L150.4 177.2L150.9 177.9L151.4 178.6L151.9 179.3L152.4 180.0L152.9 180.7L153.4 181.4L153.9 182.1L154.4 182.7L154.9 183.3L155.4 183.9L155.9 184.4L156.0 184.5L156.4 185.0L156.6 185.2L156.9 185.5L157.4 186.1L157.9 186.6L158.4 187.2L158.9 187.8L159.4 188.3L159.9 188.8L160.4 189.3L160.9 189.7L161.4 190.0L161.9 190.3L162.4 190.5L162.9 190.6L163.1 190.6L163.4 190.6L163.9 190.6L164.4 190.5L164.9 190.4L165.4 190.4L165.9 190.3L166.4 190.2L166.9 190.0L167.1 190.0L167.4 189.9L167.9 189.8L168.4 189.6L168.9 189.5L169.4 189.4L169.9 189.3L170.0 189.3L170.4 189.2L170.9 189.1L171.4 188.9L171.9 188.8L172.4 188.7L172.9 188.5L173.4 188.4L173.9 188.3L174.4 188.2L174.9 188.1L175.4 188.1L175.9 188.0L176.3 188.0L176.4 188.0L176.9 188.0L177.4 188.1L177.9 188.1L178.4 188.2L178.9 188.3L179.4 188.5L179.9 188.6L180.4 188.7L180.9 188.9L181.4 189.1L181.9 189.2L182.4 189.4L182.9 189.5L183.4 189.7L183.9 189.8L184.2 189.9L184.4 190.0L184.9 190.1L185.4 190.3L185.9 190.4L186.4 190.5L186.9 190.7L187.4 190.8L187.9 190.9L188.4 191.1L188.9 191.2L189.4 191.3L189.9 191.4L190.4 191.6L190.9 191.7L191.4 191.8L191.9 192.0L192.4 192.1L192.9 192.3L193.4 192.4L193.9 192.6L194.4 192.7L194.9 192.9L195.4 193.1L195.9 193.3L196.4 193.5L196.9 193.7L197.4 193.9L197.9 194.2L198.4 194.4L198.6 194.5L198.9 194.7L199.4 195.2L199.9 195.8L200.4 196.5L200.9 197.1L201.2 197.5L201.4 197.7L201.9 198.2L202.4 198.5L202.6 198.6L202.9 198.8L203.4 198.9L203.9 199.1L204.4 199.2L204.9 199.4L205.4 199.5L205.9 199.6L206.4 199.7L206.5 199.7L206.9 199.8L207.4 199.8L207.8 199.9L207.9 199.9L208.4 200.0L208.9 200.2L209.4 200.3L209.9 200.4L210.4 200.5L210.9 200.6L211.4 200.7L211.9 200.9L212.4 201.0L212.9 201.1L213.4 201.2L213.9 201.4L214.4 201.5L214.9 201.6L215.4 201.7L215.9 201.8L216.4 201.9L216.9 202.0L217.4 202.1L217.9 202.2L218.4 202.3L218.9 202.4L219.4 202.4L219.9 202.5L220.4 202.6L220.9 202.6L221.4 202.6L221.9 202.6L222.0 202.6L222.4 202.6L222.9 202.6L223.4 202.6L223.9 202.6L224.4 202.5L224.9 202.5L225.4 202.4L225.9 202.3L226.4 202.3L226.9 202.2L227.4 202.1L227.9 202.0L228.4 201.9L228.9 201.7L229.4 201.6L229.9 201.5L230.4 201.3L230.9 201.2L231.4 200.9L231.9 200.3L232.0 200.2L232.4 199.7L232.9 199.1L233.1 198.9L233.4 198.6L233.9 198.3L234.4 198.1L234.9 197.8L235.3 197.5L235.4 197.5L235.7 197.2L235.9 197.0L236.4 196.2L236.8 195.3L236.9 195.0L237.1 194.5L237.4 193.4L237.5 193.0L237.9 191.0L238.2 189.2L238.4 187.9L238.6 186.5L238.9 183.5L239.4 177.1L239.7 174.2L239.9 172.7L240.4 169.9L240.5 169.8L240.9 171.9L241.4 177.4L241.6 179.3L241.9 181.9L242.4 186.5L242.5 187.3L242.9 190.0L243.4 192.5L243.5 192.8L243.9 193.8L244.4 194.8L244.9 195.6L245.4 196.0L245.6 196.0L245.9 195.9L246.4 195.2L246.9 194.1L247.4 192.9L247.8 191.9L247.9 191.6L248.4 189.8L248.7 188.6L248.9 187.8L249.4 186.5L249.5 186.5L249.9 187.4L250.2 188.8L250.4 189.9L250.9 192.5L251.0 192.9L251.4 194.6L251.9 197.0L252.4 199.1L252.9 200.4L253.1 200.7L253.4 200.9L253.9 201.3L254.4 201.6L254.9 201.9L255.4 202.2L255.9 202.5L256.3 202.7L256.4 202.8L256.9 203.0L257.4 203.3L257.9 203.6L258.4 203.8L258.9 204.0L259.4 204.1L259.9 204.3L260.4 204.4L260.9 204.5L261.4 204.6L261.6 204.6L261.9 204.7L262.4 204.8L262.9 204.9L263.4 205.0L263.7 205.0L263.9 205.0L264.4 205.0L264.9 205.0L265.4 204.9L265.9 204.9L266.0 204.9L266.4 204.9L266.9 204.9L267.4 204.8L267.9 204.8L268.4 204.8L268.9 204.8L269.3 204.8L269.4 204.8L269.9 204.8L270.4 204.9L270.9 204.9L271.4 204.9L271.9 205.0L272.4 205.0L272.9 205.1L273.4 205.1L273.9 205.1L274.3 205.2L274.4 205.2L274.9 205.2L275.4 205.3L275.9 205.4L276.4 205.4L276.9 205.5L277.1 205.5L277.4 205.4L277.9 204.8L278.4 203.8L278.7 203.1L278.9 202.6L279.4 201.1L279.9 199.6L280.4 198.1L280.9 196.5L281.4 194.7L281.9 192.8L282.4 190.7L282.6 189.9L282.9 188.7L283.4 186.6L283.7 185.5L283.9 184.7L284.4 182.7L284.8 181.0L284.9 180.6L285.4 178.7L285.9 177.0L286.4 175.6L286.5 175.4L286.9 174.5L287.4 173.5L287.8 173.2L287.9 173.2L288.4 173.7L288.9 174.5L289.3 175.4L289.4 175.7L289.9 177.7L290.4 180.7L290.6 182.0L290.9 184.1L291.4 187.4L291.5 188.0L291.9 190.7L292.0 191.3L292.4 194.0L292.9 196.2L293.1 196.5L293.4 196.3L293.5 196.1L293.9 195.0L294.4 193.1L294.9 191.2L295.0 190.9L295.4 189.3L295.9 188.1L296.4 189.2L296.9 191.7L297.0 192.2L297.4 194.1L297.6 194.7L297.9 195.5L298.4 196.7L298.9 197.7L299.2 198.1L299.4 198.4L299.9 199.1L300.4 199.8L300.9 200.4L301.4 200.7L301.9 200.9L302.4 200.8L302.9 200.5L303.4 200.1L303.9 199.7L304.4 199.3L304.9 199.0L305.4 198.7L305.7 198.7L305.9 198.7L306.4 199.0L306.9 199.6L307.4 200.4L307.9 201.3L308.4 202.3L308.9 203.3L309.4 204.3L309.9 205.1L310.4 205.7L310.9 206.2L311.4 206.6L311.9 207.1L312.4 207.5L312.9 207.9L313.4 208.3L313.9 208.6L314.4 208.9L314.9 209.2L315.4 209.4L315.7 209.4L315.9 209.5L316.4 209.6L316.9 209.7L317.4 209.8L317.9 209.9L318.4 210.0L318.9 210.1L319.4 210.2L319.9 210.3L320.4 210.4L320.9 210.4L321.4 210.5L321.9 210.6L322.4 210.6L322.9 210.7L323.1 210.7L323.4 210.8L323.9 210.8L324.4 210.9L324.9 210.9L325.4 211.0L325.9 211.0L326.4 211.0L326.9 211.1L327.4 211.1L327.9 211.1L328.4 211.1L328.9 211.2L329.4 211.2L329.5 211.2L329.9 211.0L330.4 210.5L330.9 209.7L331.4 208.8L331.8 208.2" stroke="#ff0000" stroke-width="1.10" fill="none" stroke-linejoin="round"/>
<path d="M47.4 198.0L47.9 198.0L48.4 198.1L48.9 198.1L49.4 198.1L49.9 198.2L50.4 198.2L50.9 198.3L51.4 198.3L51.9 198.3L52.4 198.4L52.9 198.4L53.4 198.5L53.9 198.5L54.4 198.5L54.9 198.6L55.0 198.6L55.4 198.6L55.9 198.7L56.4 198.7L56.9 198.7L57.4 198.8L57.9 198.8L58.4 198.9L58.9 198.9L59.4 198.9L59.9 199.0L60.0 199.0L60.4 199.0L60.9 199.1L61.4 199.1L61.9 199.2L62.0 199.2L62.4 199.2L62.9 199.3L63.4 199.4L63.9 199.4L64.4 199.5L64.9 199.5L65.4 199.6L65.9 199.7L66.0 199.7L66.4 199.7L66.9 199.8L67.4 199.8L67.9 199.9L68.4 199.9L68.9 199.9L69.4 200.0L69.9 200.0L70.0 200.0L70.4 200.0L70.9 200.0L71.0 200.0L71.4 200.0L71.9 200.0L72.4 199.9L72.5 199.9L72.9 199.8L73.4 199.7L73.9 199.5L74.0 199.5L74.4 199.3L74.9 198.7L75.3 198.3L75.4 198.2L75.9 198.0L76.0 197.9L76.4 197.9L76.9 198.0L77.0 198.1L77.4 198.4L77.9 197.5L78.4 195.1L78.7 193.5L78.9 192.5L79.3 190.3L79.4 189.7L79.9 186.7L80.4 183.6L80.9 180.5L81.4 177.3L81.9 174.1L82.4 171.1L82.9 168.3L83.1 167.3L83.4 165.7L83.9 163.3L84.4 161.2L84.9 159.3L85.4 157.6L85.9 155.9L86.4 154.2L86.9 152.4L87.3 150.8L87.4 150.4L87.7 149.1L87.9 148.2L88.4 145.9L88.9 143.6L89.1 142.6L89.4 141.3L89.9 139.1L90.4 137.0L90.9 135.2L91.4 133.5L91.5 133.2L91.9 132.0L92.4 130.5L92.9 129.1L93.4 127.7L93.8 126.5L93.9 126.2L94.4 124.7L94.5 124.3L94.9 123.1L95.4 121.5L95.9 120.0L96.4 118.5L96.5 118.2L96.9 117.0L97.4 115.7L97.5 115.5L97.9 114.5L98.4 113.4L98.9 112.3L99.3 111.5L99.4 111.3L99.9 110.2L100.4 109.2L100.5 109.0L100.9 108.2L101.4 107.1L101.9 106.0L102.4 104.9L102.6 104.5L102.9 103.9L103.0 103.8L103.4 103.1L103.9 102.5L104.4 101.8L104.9 101.3L105.4 101.0L105.6 101.0L105.9 101.1L106.4 101.5L106.9 102.2L107.4 103.0L107.8 103.7L107.9 103.8L108.0 104.0L108.4 104.6L108.9 105.5L109.4 106.4L109.9 107.4L110.0 107.5L110.4 108.3L110.9 109.2L111.4 110.2L111.9 111.1L112.4 112.1L112.9 113.2L113.0 113.4L113.4 114.4L113.5 114.6L113.9 115.6L114.4 117.0L114.9 118.4L115.4 119.8L115.9 121.3L116.4 122.8L116.6 123.4L116.9 124.3L117.4 125.7L117.5 126.0L117.9 127.1L118.4 128.5L118.9 129.8L119.4 131.0L119.9 132.3L120.4 133.5L120.9 134.6L121.4 135.7L121.9 136.8L122.4 137.8L122.6 138.2L122.9 138.7L123.0 138.9L123.4 139.6L123.9 140.5L124.4 141.3L124.9 142.1L125.4 143.0L125.9 143.8L126.0 144.0L126.4 144.7L126.9 145.6L127.4 146.5L127.9 147.5L128.4 148.7L128.6 149.1L128.9 149.7L129.4 150.3L129.6 150.4L129.9 150.4L130.4 150.3L130.5 150.3L130.9 150.3L131.4 150.1L131.9 150.0L132.0 150.0L132.4 149.9L132.9 149.7L133.2 149.5L133.4 149.4L133.9 149.1L134.0 149.0L134.4 148.6L134.5 148.4L134.9 147.8L135.4 147.0L135.9 146.6L136.1 146.5L136.4 147.8L136.9 153.0L137.4 156.8L137.9 157.8L138.4 158.5L138.9 159.0L139.4 159.4L139.9 159.8L140.4 160.2L140.6 160.4L140.9 160.8L141.3 161.4L141.4 161.6L141.9 163.0L142.4 164.8L142.9 166.4L143.2 167.2L143.4 167.6L143.8 168.4L143.9 168.6L144.4 169.5L144.9 170.3L145.4 171.1L145.9 171.8L146.4 172.5L146.9 173.2L147.4 173.8L147.9 174.4L148.4 175.0L148.9 175.7L149.4 176.3L149.9 177.0L150.0 177.1L150.4 177.7L150.9 178.4L151.4 179.1L151.9 179.8L152.4 180.5L152.9 181.2L153.4 181.9L153.9 182.5L154.4 183.2L154.9 183.8L155.4 184.4L155.9 184.9L156.0 185.0L156.4 185.4L156.6 185.6L156.9 186.0L157.4 186.5L157.9 187.1L158.4 187.6L158.9 188.2L159.4 188.7L159.9 189.2L160.4 189.6L160.9 190.0L161.4 190.4L161.9 190.6L162.4 190.8L162.9 190.9L163.1 190.9L163.4 190.9L163.9 190.9L164.4 190.8L164.9 190.7L165.4 190.6L165.9 190.5L166.4 190.4L166.9 190.3L167.1 190.2L167.4 190.1L167.9 190.0L168.4 189.9L168.9 189.7L169.4 189.6L169.9 189.5L170.0 189.5L170.4 189.4L170.9 189.3L171.4 189.2L171.9 189.1L172.4 188.9L172.9 188.8L173.4 188.7L173.9 188.6L174.4 188.5L174.9 188.4L175.4 188.3L175.9 188.3L176.3 188.3L176.4 188.3L176.9 188.3L177.4 188.4L177.9 188.4L178.4 188.5L178.9 188.6L179.4 188.7L179.9 188.9L180.4 189.0L180.9 189.2L181.4 189.3L181.9 189.5L182.4 189.7L182.9 189.8L183.4 190.0L183.9 190.1L184.2 190.2L184.4 190.3L184.9 190.4L185.4 190.5L185.9 190.6L186.4 190.8L186.9 190.9L187.4 191.0L187.9 191.1L188.4 191.3L188.9 191.4L189.4 191.5L189.9 191.6L190.4 191.8L190.9 191.9L191.4 192.0L191.9 192.2L192.4 192.3L192.9 192.5L193.4 192.6L193.9 192.8L194.4 193.0L194.9 193.1L195.4 193.3L195.9 193.5L196.4 193.7L196.9 194.0L197.4 194.2L197.9 194.4L198.4 194.7L198.6 194.8L198.9 195.0L199.4 195.4L199.9 196.0L200.4 196.6L200.9 197.2L201.2 197.6L201.4 197.8L201.9 198.3L202.4 198.7L202.6 198.8L202.9 198.9L203.4 199.1L203.9 199.2L204.4 199.4L204.9 199.5L205.4 199.6L205.9 199.7L206.4 199.8L206.5 199.8L206.9 199.9L207.4 200.0L207.8 200.1L207.9 200.1L208.4 200.2L208.9 200.4L209.4 200.5L209.9 200.6L210.4 200.7L210.9 200.8L211.4 201.0L211.9 201.1L212.4 201.2L212.9 201.4L213.4 201.5L213.9 201.6L214.4 201.7L214.9 201.8L215.4 202.0L215.9 202.1L216.4 202.2L216.9 202.3L217.4 202.4L217.9 202.4L218.4 202.5L218.9 202.6L219.4 202.6L219.9 202.7L220.4 202.7L220.9 202.8L221.4 202.8L221.9 202.8L222.0 202.8L222.4 202.8L222.9 202.8L223.4 202.8L223.9 202.7L224.4 202.7L224.9 202.7L225.4 202.6L225.9 202.5L226.4 202.5L226.9 202.4L227.4 202.3L227.9 202.2L228.4 202.1L228.9 202.0L229.4 201.8L229.9 201.7L230.4 201.6L230.9 201.4L231.4 201.1L231.9 200.5L232.0 200.4L232.4 199.9L232.9 199.3L233.1 199.2L233.4 198.9L233.9 198.6L234.4 198.4L234.9 198.1L235.3 197.9L235.4 197.8L235.7 197.5L235.9 197.3L236.4 196.5L236.8 195.6L236.9 195.4L237.1 194.8L237.4 193.9L237.5 193.5L237.9 191.8L238.2 190.2L238.4 189.0L238.6 187.7L238.9 184.9L239.4 178.9L239.7 176.1L239.9 174.8L240.4 172.3L240.5 172.2L240.9 174.3L241.4 179.8L241.6 181.6L241.9 183.9L242.4 187.8L242.5 188.5L242.9 191.0L243.4 193.2L243.5 193.5L243.9 194.4L244.4 195.4L244.9 196.2L245.4 196.5L245.6 196.6L245.9 196.5L246.4 195.8L246.9 194.7L247.4 193.5L247.8 192.5L247.9 192.3L248.4 190.6L248.7 189.5L248.9 188.8L249.4 187.7L249.5 187.7L249.9 188.5L250.2 189.7L250.4 190.7L250.9 193.1L251.0 193.5L251.4 195.2L251.9 197.4L252.4 199.4L252.9 200.8L253.1 201.0L253.4 201.3L253.9 201.7L254.4 202.0L254.9 202.4L255.4 202.7L255.9 203.0L256.3 203.2L256.4 203.3L256.9 203.6L257.4 203.8L257.9 204.1L258.4 204.3L258.9 204.5L259.4 204.6L259.9 204.8L260.4 204.9L260.9 205.0L261.4 205.1L261.6 205.1L261.9 205.2L262.4 205.3L262.9 205.3L263.4 205.4L263.7 205.4L263.9 205.4L264.4 205.4L264.9 205.3L265.4 205.3L265.9 205.3L266.0 205.3L266.4 205.3L266.9 205.3L267.4 205.3L267.9 205.3L268.4 205.4L268.9 205.4L269.3 205.4L269.4 205.4L269.9 205.5L270.4 205.5L270.9 205.5L271.4 205.6L271.9 205.6L272.4 205.7L272.9 205.7L273.4 205.7L273.9 205.8L274.3 205.8L274.4 205.8L274.9 205.8L275.4 205.9L275.9 205.9L276.4 205.9L276.9 205.9L277.1 205.9L277.4 205.8L277.9 205.2L278.4 204.3L278.7 203.6L278.9 203.0L279.4 201.6L279.9 200.1L280.4 198.7L280.9 197.2L281.4 195.4L281.9 193.5L282.4 191.6L282.6 190.8L282.9 189.6L283.4 187.6L283.7 186.5L283.9 185.8L284.4 183.8L284.8 182.2L284.9 181.8L285.4 179.9L285.9 178.2L286.4 176.8L286.5 176.6L286.9 175.7L287.4 174.7L287.8 174.4L287.9 174.4L288.4 174.9L288.9 175.7L289.3 176.6L289.4 176.9L289.9 178.9L290.4 181.8L290.6 183.2L290.9 185.1L291.4 188.2L291.5 188.8L291.9 191.3L292.0 192.0L292.4 194.6L292.9 196.9L293.1 197.1L293.4 196.8L293.5 196.7L293.9 195.5L294.4 193.7L294.9 191.8L295.0 191.5L295.4 190.0L295.9 188.8L296.4 189.9L296.9 192.3L297.0 192.8L297.4 194.7L297.6 195.4L297.9 196.2L298.4 197.3L298.9 198.2L299.2 198.7L299.4 199.0L299.9 199.7L300.4 200.3L300.9 200.8L301.4 201.2L301.9 201.3L302.4 201.2L302.9 200.9L303.4 200.6L303.9 200.2L304.4 199.8L304.9 199.4L305.4 199.2L305.7 199.2L305.9 199.2L306.4 199.5L306.9 200.1L307.4 200.8L307.9 201.7L308.4 202.7L308.9 203.7L309.4 204.6L309.9 205.4L310.4 206.0L310.9 206.5L311.4 207.0L311.9 207.4L312.4 207.9L312.9 208.3L313.4 208.6L313.9 209.0L314.4 209.3L314.9 209.5L315.4 209.7L315.7 209.8L315.9 209.8L316.4 210.0L316.9 210.1L317.4 210.2L317.9 210.3L318.4 210.4L318.9 210.5L319.4 210.6L319.9 210.7L320.4 210.7L320.9 210.8L321.4 210.9L321.9 211.0L322.4 211.0L322.9 211.1L323.1 211.1L323.4 211.2L323.9 211.2L324.4 211.3L324.9 211.3L325.4 211.3L325.9 211.4L326.4 211.4L326.9 211.4L327.4 211.5L327.9 211.5L328.4 211.5L328.9 211.5L329.4 211.5L329.5 211.5L329.9 211.4L330.4 210.9L330.9 210.1L331.4 209.3L331.8 208.7" stroke="#1a1aa0" stroke-width="1.10" fill="none" stroke-linejoin="round"/>
<path d="M47.4 197.0L47.9 197.0L48.4 197.0L48.9 197.0L49.4 197.1L49.9 197.1L50.4 197.1L50.9 197.1L51.4 197.1L51.9 197.1L52.4 197.2L52.9 197.2L53.4 197.2L53.9 197.2L54.4 197.3L54.9 197.3L55.0 197.3L55.4 197.3L55.9 197.3L56.4 197.4L56.9 197.4L57.4 197.4L57.9 197.5L58.4 197.5L58.9 197.5L59.4 197.6L59.9 197.6L60.0 197.6L60.4 197.6L60.9 197.7L61.4 197.7L61.9 197.7L62.0 197.7L62.4 197.8L62.9 197.8L63.4 197.9L63.9 197.9L64.4 198.0L64.9 198.0L65.4 198.1L65.9 198.1L66.0 198.1L66.4 198.1L66.9 198.1L67.4 198.0L67.9 197.9L68.4 197.9L68.9 197.8L69.4 197.7L69.9 197.6L70.0 197.6L70.4 197.5L70.9 197.4L71.0 197.4L71.4 197.3L71.9 197.2L72.4 197.1L72.5 197.0L72.9 196.9L73.4 196.8L73.9 196.8L74.0 196.8L74.4 196.8L74.9 197.0L75.3 196.8L75.4 196.8L75.9 196.3L76.0 196.2L76.4 195.6L76.9 194.8L77.0 194.5L77.4 193.4L77.9 191.8L78.4 189.9L78.7 188.7L78.9 187.7L79.3 185.7L79.4 185.1L79.9 182.1L80.4 178.7L80.9 174.9L81.4 170.4L81.9 165.6L82.4 160.9L82.9 156.5L83.1 154.7L83.4 152.0L83.9 147.6L84.4 143.3L84.9 139.2L85.4 135.3L85.9 131.7L86.4 128.2L86.9 124.9L87.3 122.3L87.4 121.6L87.7 119.8L87.9 118.6L88.4 115.7L88.9 112.9L89.1 111.9L89.4 110.5L89.9 108.2L90.4 106.0L90.9 103.7L91.4 101.3L91.5 100.8L91.9 98.7L92.4 95.6L92.9 92.5L93.4 89.8L93.8 88.0L93.9 87.5L94.4 85.5L94.5 85.1L94.9 83.6L95.4 81.8L95.9 79.9L96.4 78.0L96.5 77.6L96.9 76.1L97.4 74.3L97.5 74.0L97.9 72.6L98.4 71.0L98.9 69.4L99.3 68.2L99.4 67.9L99.9 66.4L100.4 65.0L100.5 64.8L100.9 63.7L101.4 62.4L101.9 61.3L102.4 60.1L102.6 59.6L102.9 59.0L103.0 58.8L103.4 58.0L103.9 57.3L104.4 56.8L104.9 56.5L105.4 56.3L105.6 56.4L105.9 56.6L106.4 57.3L106.9 58.2L107.4 59.1L107.8 60.0L107.9 60.3L108.0 60.5L108.4 61.6L108.9 63.0L109.4 64.4L109.9 65.7L110.0 66.0L110.4 67.0L110.9 68.3L111.4 69.6L111.9 70.9L112.4 72.2L112.9 73.6L113.0 73.8L113.4 74.9L113.5 75.2L113.9 76.3L114.4 77.7L114.9 79.1L115.4 80.6L115.9 82.1L116.4 83.7L116.6 84.4L116.9 85.4L117.4 87.1L117.5 87.4L117.9 88.8L118.4 90.5L118.9 92.2L119.4 93.9L119.9 95.6L120.4 97.2L120.9 98.8L121.4 100.4L121.9 102.0L122.4 103.6L122.6 104.2L122.9 105.2L123.0 105.5L123.4 106.7L123.9 108.3L124.4 109.8L124.9 111.4L125.4 112.9L125.9 114.3L126.0 114.6L126.4 115.8L126.9 117.2L127.4 118.6L127.9 119.9L128.4 121.1L128.6 121.5L128.9 122.4L129.4 124.1L129.6 124.9L129.9 126.1L130.4 127.5L130.5 127.6L130.9 127.3L131.4 126.4L131.9 125.2L132.0 125.0L132.4 124.0L132.9 123.2L133.2 123.1L133.4 123.3L133.9 125.2L134.0 125.6L134.4 126.8L134.5 126.8L134.9 125.2L135.4 121.0L135.9 117.5L136.1 117.1L136.4 120.2L136.9 132.5L137.4 140.7L137.9 141.5L138.4 142.1L138.9 142.6L139.4 142.9L139.9 143.1L140.4 143.3L140.6 143.3L140.9 143.0L141.3 141.7L141.4 141.4L141.9 140.5L142.4 142.5L142.9 146.8L143.2 149.5L143.4 151.1L143.8 153.4L143.9 153.7L144.4 155.3L144.9 156.7L145.4 158.1L145.9 159.3L146.4 160.4L146.9 161.5L147.4 162.4L147.9 163.3L148.4 164.2L148.9 165.0L149.4 165.7L149.9 166.5L150.0 166.6L150.4 167.2L150.9 167.9L151.4 168.6L151.9 169.3L152.4 170.0L152.9 170.7L153.4 171.4L153.9 172.1L154.4 172.8L154.9 173.4L155.4 174.0L155.9 174.6L156.0 174.7L156.4 175.2L156.6 175.4L156.9 175.8L157.4 176.4L157.9 177.1L158.4 177.9L158.9 178.6L159.4 179.3L159.9 180.0L160.4 180.6L160.9 181.2L161.4 181.8L161.9 182.2L162.4 182.6L162.9 182.8L163.1 182.9L163.4 182.9L163.9 183.0L164.4 183.1L164.9 183.2L165.4 183.3L165.9 183.3L166.4 183.4L166.9 183.4L167.1 183.4L167.4 183.3L167.9 183.3L168.4 183.2L168.9 183.1L169.4 182.9L169.9 182.8L170.0 182.8L170.4 182.6L170.9 182.4L171.4 182.2L171.9 182.0L172.4 181.8L172.9 181.7L173.4 181.5L173.9 181.3L174.4 181.2L174.9 181.1L175.4 181.0L175.9 180.9L176.3 180.9L176.4 180.9L176.9 180.9L177.4 181.0L177.9 181.1L178.4 181.2L178.9 181.3L179.4 181.5L179.9 181.6L180.4 181.8L180.9 182.0L181.4 182.2L181.9 182.4L182.4 182.6L182.9 182.8L183.4 183.0L183.9 183.2L184.2 183.3L184.4 183.4L184.9 183.7L185.4 183.9L185.9 184.2L186.4 184.5L186.9 184.7L187.4 185.0L187.9 185.2L188.4 185.5L188.9 185.7L189.4 185.9L189.9 186.0L190.4 186.2L190.9 186.3L191.4 186.4L191.9 186.5L192.4 186.6L192.9 186.7L193.4 186.8L193.9 186.9L194.4 187.0L194.9 187.1L195.4 187.2L195.9 187.3L196.4 187.5L196.9 187.6L197.4 187.8L197.9 188.0L198.4 188.3L198.6 188.4L198.9 188.6L199.4 189.5L199.9 190.6L200.4 191.8L200.9 192.7L201.2 193.0L201.4 193.2L201.9 193.5L202.4 193.8L202.6 193.9L202.9 194.1L203.4 194.3L203.9 194.5L204.4 194.7L204.9 194.8L205.4 194.9L205.9 195.0L206.4 195.0L206.5 195.0L206.9 195.0L207.4 195.0L207.8 195.0L207.9 195.0L208.4 195.0L208.9 195.0L209.4 195.0L209.9 195.0L210.4 195.0L210.9 195.0L211.4 195.1L211.9 195.2L212.4 195.2L212.9 195.3L213.4 195.5L213.9 195.6L214.4 195.7L214.9 195.8L215.4 195.9L215.9 196.1L216.4 196.3L216.9 196.5L217.4 196.7L217.9 196.9L218.4 197.1L218.9 197.3L219.4 197.5L219.9 197.6L220.4 197.8L220.9 197.9L221.4 198.0L221.9 198.0L222.0 198.0L222.4 198.0L222.9 198.0L223.4 197.9L223.9 197.9L224.4 197.8L224.9 197.7L225.4 197.6L225.9 197.5L226.4 197.4L226.9 197.3L227.4 197.2L227.9 197.0L228.4 196.9L228.9 196.7L229.4 196.6L229.9 196.5L230.4 196.3L230.9 196.1L231.4 195.9L231.9 195.5L232.0 195.5L232.4 194.8L232.9 193.4L233.1 192.9L233.4 192.4L233.9 192.0L234.4 191.8L234.9 191.6L235.3 191.4L235.4 191.3L235.7 191.1L235.9 190.9L236.4 190.3L236.8 189.5L236.9 189.2L237.1 187.9L237.4 185.2L237.5 184.3L237.9 179.6L238.2 175.4L238.4 172.3L238.6 168.9L238.9 163.2L239.4 152.5L239.7 146.8L239.9 143.6L240.4 137.2L240.5 136.9L240.9 139.1L241.4 145.5L241.6 148.4L241.9 154.9L242.4 168.2L242.5 170.0L242.9 175.5L243.4 180.9L243.5 181.7L243.9 183.8L244.4 185.1L244.9 186.1L245.4 186.6L245.6 186.7L245.9 186.6L246.4 185.9L246.9 184.7L247.4 183.1L247.8 181.8L247.9 181.3L248.4 177.7L248.7 175.3L248.9 173.4L249.4 169.2L249.5 169.1L249.9 171.9L250.2 175.3L250.4 177.3L250.9 182.0L251.0 182.7L251.4 185.8L251.9 189.6L252.4 192.8L252.9 194.6L253.1 194.8L253.4 194.9L253.9 194.9L254.4 194.8L254.9 194.8L255.4 194.6L255.9 194.5L256.3 194.5L256.4 194.5L256.9 194.8L257.4 195.2L257.9 195.7L258.4 196.0L258.9 196.2L259.4 196.3L259.9 196.3L260.4 196.4L260.9 196.5L261.4 196.6L261.6 196.7L261.9 196.9L262.4 197.6L262.9 198.4L263.4 199.0L263.7 199.1L263.9 199.1L264.4 199.0L264.9 198.8L265.4 198.7L265.9 198.5L266.0 198.4L266.4 198.2L266.9 197.8L267.4 197.2L267.9 196.6L268.4 196.1L268.9 195.8L269.3 195.6L269.4 195.6L269.9 195.5L270.4 195.5L270.9 195.5L271.4 195.5L271.9 195.4L272.4 195.4L272.9 195.5L273.4 195.5L273.9 195.5L274.3 195.6L274.4 195.6L274.9 195.9L275.4 196.7L275.9 197.5L276.4 198.2L276.9 198.6L277.1 198.7L277.4 198.6L277.9 198.0L278.4 197.1L278.7 196.5L278.9 196.0L279.4 194.0L279.9 191.4L280.4 188.9L280.9 186.5L281.4 184.1L281.9 181.6L282.4 179.0L282.6 177.9L282.9 176.1L283.4 173.0L283.7 171.0L283.9 169.7L284.4 166.7L284.8 164.7L284.9 164.3L285.4 162.1L285.9 160.2L286.4 158.8L286.5 158.7L286.9 158.0L287.4 157.4L287.8 157.2L287.9 157.2L288.4 157.6L288.9 158.4L289.3 159.2L289.4 159.5L289.9 161.9L290.4 165.4L290.6 166.9L290.9 169.8L291.4 176.2L291.5 177.4L291.9 181.5L292.0 182.2L292.4 184.6L292.9 187.0L293.1 187.7L293.4 188.3L293.5 188.3L293.9 187.5L294.4 185.3L294.9 182.7L295.0 182.2L295.4 180.1L295.9 178.4L296.4 180.0L296.9 182.9L297.0 183.3L297.4 184.8L297.6 185.5L297.9 186.5L298.4 188.0L298.9 189.3L299.2 190.0L299.4 190.5L299.9 191.7L300.4 192.9L300.9 194.0L301.4 194.7L301.9 195.0L302.4 194.8L302.9 194.4L303.4 193.9L303.9 193.3L304.4 192.7L304.9 192.2L305.4 191.9L305.7 191.8L305.9 191.9L306.4 192.3L306.9 193.1L307.4 194.3L307.9 195.6L308.4 197.0L308.9 198.4L309.4 199.7L309.9 200.7L310.4 201.4L310.9 201.8L311.4 202.2L311.9 202.6L312.4 203.0L312.9 203.3L313.4 203.7L313.9 203.9L314.4 204.2L314.9 204.4L315.4 204.5L315.7 204.6L315.9 204.6L316.4 204.7L316.9 204.8L317.4 204.9L317.9 205.0L318.4 205.1L318.9 205.1L319.4 205.2L319.9 205.2L320.4 205.3L320.9 205.4L321.4 205.4L321.9 205.5L322.4 205.5L322.9 205.6L323.1 205.6L323.4 205.7L323.9 205.8L324.4 205.9L324.9 206.0L325.4 206.1L325.9 206.2L326.4 206.3L326.9 206.4L327.4 206.5L327.9 206.6L328.4 206.7L328.9 206.7L329.4 206.7L329.5 206.7L329.9 206.5L330.4 205.6L330.9 204.3L331.4 202.7L331.8 201.5" stroke="#800000" stroke-width="1.10" fill="none" stroke-linejoin="round"/>
<path d="M47.4 194.4L47.9 194.5L48.4 194.5L48.9 194.5L49.4 194.5L49.9 194.5L50.4 194.5L50.9 194.5L51.4 194.6L51.9 194.6L52.4 194.6L52.9 194.6L53.4 194.6L53.9 194.7L54.4 194.7L54.9 194.7L55.0 194.7L55.4 194.7L55.9 194.8L56.4 194.8L56.9 194.8L57.4 194.9L57.9 194.9L58.4 194.9L58.9 195.0L59.4 195.0L59.9 195.0L60.0 195.0L60.4 195.1L60.9 195.1L61.4 195.1L61.9 195.2L62.0 195.2L62.4 195.2L62.9 195.3L63.4 195.3L63.9 195.4L64.4 195.4L64.9 195.5L65.4 195.5L65.9 195.5L66.0 195.5L66.4 195.5L66.9 195.5L67.4 195.5L67.9 195.4L68.4 195.3L68.9 195.2L69.4 195.1L69.9 195.0L70.0 195.0L70.4 194.9L70.9 194.8L71.0 194.8L71.4 194.8L71.9 194.6L72.4 194.5L72.5 194.5L72.9 194.6L73.4 194.8L73.9 195.1L74.0 195.1L74.4 195.4L74.9 195.9L75.3 195.8L75.4 195.8L75.9 195.3L76.0 195.2L76.4 194.6L76.9 193.8L77.0 193.6L77.4 192.6L77.9 191.1L78.4 189.4L78.7 188.2L78.9 187.3L79.3 185.3L79.4 184.7L79.9 181.7L80.4 178.6L80.9 175.4L81.4 172.0L81.9 168.3L82.4 164.5L82.9 160.8L83.1 159.2L83.4 156.9L83.9 152.9L84.4 148.7L84.9 144.6L85.4 140.6L85.9 136.8L86.4 133.2L86.9 129.8L87.3 127.1L87.4 126.5L87.7 124.5L87.9 123.3L88.4 120.2L88.9 117.3L89.1 116.2L89.4 114.5L89.9 112.0L90.4 109.7L90.9 107.5L91.4 105.4L91.5 105.0L91.9 103.2L92.4 100.8L92.9 98.1L93.4 95.0L93.8 92.5L93.9 91.9L94.4 89.3L94.5 88.9L94.9 87.1L95.4 85.1L95.9 83.2L96.4 81.4L96.5 81.0L96.9 79.5L97.4 77.6L97.5 77.2L97.9 75.8L98.4 74.0L98.9 72.3L99.3 71.0L99.4 70.7L99.9 69.2L100.4 67.9L100.5 67.6L100.9 66.5L101.4 65.3L101.9 64.0L102.4 62.6L102.6 62.1L102.9 61.2L103.0 60.9L103.4 59.7L103.9 58.2L104.4 57.0L104.9 56.0L105.4 55.5L105.6 55.6L105.9 55.9L106.4 56.8L106.9 57.9L107.4 59.5L107.8 60.9L107.9 61.3L108.0 61.7L108.4 63.3L108.9 65.3L109.4 67.1L109.9 68.9L110.0 69.3L110.4 70.8L110.9 72.7L111.4 74.6L111.9 76.5L112.4 78.3L112.9 80.0L113.0 80.3L113.4 81.7L113.5 82.0L113.9 83.3L114.4 84.9L114.9 86.4L115.4 88.0L115.9 89.5L116.4 91.0L116.6 91.6L116.9 92.5L117.4 94.0L117.5 94.3L117.9 95.5L118.4 97.0L118.9 98.5L119.4 100.1L119.9 101.6L120.4 103.2L120.9 104.8L121.4 106.4L121.9 108.0L122.4 109.6L122.6 110.2L122.9 111.1L123.0 111.4L123.4 112.6L123.9 114.1L124.4 115.5L124.9 116.9L125.4 118.2L125.9 119.5L126.0 119.8L126.4 120.8L126.9 122.0L127.4 122.0L127.9 121.8L128.4 121.8L128.6 121.8L128.9 122.1L129.4 123.2L129.6 123.9L129.9 125.1L130.4 126.3L130.5 126.3L130.9 126.0L131.4 125.1L131.9 123.9L132.0 123.6L132.4 122.5L132.9 121.5L133.2 121.2L133.4 121.3L133.9 123.2L134.0 123.6L134.4 124.7L134.5 124.8L134.9 123.0L135.4 118.2L135.9 114.2L136.1 113.7L136.4 116.8L136.9 129.8L137.4 138.3L137.9 139.0L138.4 139.5L138.9 139.8L139.4 140.0L139.9 140.1L140.4 140.1L140.6 140.0L140.9 139.4L141.3 137.7L141.4 137.2L141.9 135.8L142.4 137.7L142.9 142.3L143.2 145.4L143.4 147.2L143.8 149.7L143.9 150.0L144.4 151.7L144.9 153.2L145.4 154.6L145.9 156.0L146.4 157.2L146.9 158.4L147.4 159.4L147.9 160.4L148.4 161.3L148.9 162.1L149.4 162.9L149.9 163.6L150.0 163.8L150.4 164.4L150.9 165.1L151.4 165.8L151.9 166.5L152.4 167.2L152.9 167.9L153.4 168.6L153.9 169.3L154.4 170.0L154.9 170.6L155.4 171.2L155.9 171.8L156.0 171.9L156.4 172.4L156.6 172.6L156.9 173.0L157.4 173.7L157.9 174.5L158.4 175.2L158.9 176.0L159.4 176.7L159.9 177.5L160.4 178.2L160.9 178.8L161.4 179.4L161.9 179.9L162.4 180.3L162.9 180.6L163.1 180.6L163.4 180.7L163.9 180.9L164.4 181.0L164.9 181.1L165.4 181.3L165.9 181.3L166.4 181.4L166.9 181.4L167.1 181.5L167.4 181.5L167.9 181.4L168.4 181.3L168.9 181.2L169.4 181.1L169.9 180.9L170.0 180.9L170.4 180.7L170.9 180.5L171.4 180.3L171.9 180.1L172.4 179.9L172.9 179.7L173.4 179.5L173.9 179.3L174.4 179.2L174.9 179.0L175.4 178.9L175.9 178.9L176.3 178.9L176.4 178.9L176.9 178.9L177.4 179.0L177.9 179.1L178.4 179.2L178.9 179.3L179.4 179.5L179.9 179.7L180.4 179.9L180.9 180.0L181.4 180.2L181.9 180.5L182.4 180.7L182.9 180.8L183.4 181.1L183.9 181.3L184.2 181.4L184.4 181.6L184.9 181.8L185.4 182.1L185.9 182.4L186.4 182.7L186.9 183.0L187.4 183.3L187.9 183.6L188.4 183.9L188.9 184.1L189.4 184.3L189.9 184.4L190.4 184.6L190.9 184.7L191.4 184.8L191.9 184.9L192.4 185.0L192.9 185.1L193.4 185.2L193.9 185.2L194.4 185.3L194.9 185.4L195.4 185.5L195.9 185.6L196.4 185.7L196.9 185.9L197.4 186.1L197.9 186.3L198.4 186.5L198.6 186.6L198.9 186.9L199.4 187.8L199.9 189.1L200.4 190.4L200.9 191.4L201.2 191.7L201.4 191.9L201.9 192.2L202.4 192.4L202.6 192.5L202.9 192.7L203.4 192.9L203.9 193.1L204.4 193.3L204.9 193.5L205.4 193.6L205.9 193.6L206.4 193.7L206.5 193.7L206.9 193.6L207.4 193.6L207.8 193.6L207.9 193.6L208.4 193.5L208.9 193.5L209.4 193.5L209.9 193.4L210.4 193.4L210.9 193.4L211.4 193.5L211.9 193.5L212.4 193.6L212.9 193.7L213.4 193.8L213.9 193.9L214.4 194.0L214.9 194.1L215.4 194.3L215.9 194.5L216.4 194.7L216.9 194.9L217.4 195.1L217.9 195.4L218.4 195.6L218.9 195.8L219.4 196.1L219.9 196.2L220.4 196.4L220.9 196.5L221.4 196.6L221.9 196.7L222.0 196.7L222.4 196.7L222.9 196.6L223.4 196.6L223.9 196.5L224.4 196.4L224.9 196.4L225.4 196.3L225.9 196.1L226.4 196.0L226.9 195.9L227.4 195.7L227.9 195.6L228.4 195.5L228.9 195.3L229.4 195.2L229.9 195.0L230.4 194.9L230.9 194.7L231.4 194.5L231.9 194.2L232.0 194.1L232.4 193.4L232.9 191.9L233.1 191.4L233.4 190.9L233.9 190.7L234.4 190.6L234.9 190.5L235.3 190.4L235.4 190.3L235.7 190.2L235.9 190.1L236.4 189.6L236.8 188.9L236.9 188.6L237.1 187.3L237.4 184.5L237.5 183.5L237.9 178.7L238.2 174.4L238.4 171.1L238.6 167.6L238.9 161.8L239.4 150.7L239.7 144.9L239.9 141.6L240.4 135.0L240.5 134.7L240.9 136.9L241.4 143.4L241.6 146.3L241.9 153.0L242.4 166.9L242.5 168.7L242.9 174.4L243.4 180.0L243.5 180.8L243.9 183.0L244.4 184.4L244.9 185.4L245.4 185.9L245.6 185.9L245.9 185.8L246.4 185.1L246.9 183.9L247.4 182.4L247.8 181.0L247.9 180.5L248.4 176.8L248.7 174.3L248.9 172.4L249.4 168.0L249.5 167.8L249.9 170.8L250.2 174.3L250.4 176.4L250.9 181.1L251.0 181.9L251.4 185.1L251.9 189.0L252.4 192.2L252.9 194.1L253.1 194.3L253.4 194.4L253.9 194.3L254.4 194.3L254.9 194.2L255.4 194.0L255.9 193.9L256.3 193.8L256.4 193.8L256.9 194.1L257.4 194.6L257.9 195.1L258.4 195.4L258.9 195.5L259.4 195.6L259.9 195.7L260.4 195.7L260.9 195.8L261.4 195.9L261.6 196.0L261.9 196.2L262.4 197.0L262.9 197.8L263.4 198.4L263.7 198.6L263.9 198.5L264.4 198.4L264.9 198.3L265.4 198.1L265.9 197.9L266.0 197.9L266.4 197.6L266.9 197.2L267.4 196.6L267.9 196.0L268.4 195.4L268.9 195.0L269.3 194.9L269.4 194.9L269.9 194.8L270.4 194.8L270.9 194.7L271.4 194.7L271.9 194.7L272.4 194.7L272.9 194.7L273.4 194.7L273.9 194.8L274.3 194.8L274.4 194.8L274.9 195.2L275.4 196.0L275.9 196.8L276.4 197.6L276.9 198.1L277.1 198.1L277.4 198.0L277.9 197.4L278.4 196.5L278.7 195.9L278.9 195.4L279.4 193.4L279.9 190.8L280.4 188.2L280.9 185.7L281.4 183.3L281.9 180.7L282.4 178.1L282.6 177.0L282.9 175.2L283.4 172.0L283.7 170.0L283.9 168.7L284.4 165.6L284.8 163.6L284.9 163.1L285.4 160.9L285.9 159.0L286.4 157.6L286.5 157.4L286.9 156.8L287.4 156.3L287.8 156.1L287.9 156.1L288.4 156.5L288.9 157.3L289.3 158.1L289.4 158.4L289.9 160.7L290.4 164.3L290.6 165.8L290.9 168.8L291.4 175.3L291.5 176.6L291.9 180.8L292.0 181.5L292.4 183.9L292.9 186.4L293.1 187.1L293.4 187.6L293.5 187.7L293.9 187.0L294.4 184.7L294.9 182.0L295.0 181.6L295.4 179.4L295.9 177.6L296.4 179.4L296.9 182.3L297.0 182.7L297.4 184.1L297.6 184.8L297.9 185.8L298.4 187.3L298.9 188.7L299.2 189.4L299.4 189.9L299.9 191.2L300.4 192.4L300.9 193.5L301.4 194.2L301.9 194.5L302.4 194.4L302.9 194.0L303.4 193.4L303.9 192.8L304.4 192.2L304.9 191.7L305.4 191.4L305.7 191.3L305.9 191.3L306.4 191.8L306.9 192.7L307.4 193.8L307.9 195.2L308.4 196.6L308.9 198.0L309.4 199.3L309.9 200.3L310.4 201.0L310.9 201.5L311.4 201.9L311.9 202.3L312.4 202.7L312.9 203.0L313.4 203.3L313.9 203.6L314.4 203.8L314.9 204.0L315.4 204.2L315.7 204.2L315.9 204.3L316.4 204.4L316.9 204.5L317.4 204.6L317.9 204.6L318.4 204.7L318.9 204.8L319.4 204.8L319.9 204.9L320.4 204.9L320.9 205.0L321.4 205.0L321.9 205.1L322.4 205.2L322.9 205.2L323.1 205.3L323.4 205.3L323.9 205.4L324.4 205.5L324.9 205.6L325.4 205.8L325.9 205.9L326.4 206.0L326.9 206.1L327.4 206.2L327.9 206.3L328.4 206.4L328.9 206.4L329.4 206.4L329.5 206.4L329.9 206.2L330.4 205.3L330.9 203.9L331.4 202.3L331.8 201.1" stroke="#ff0000" stroke-width="1.10" fill="none" stroke-linejoin="round"/>
<path d="M47.4 202.6L47.9 202.6L48.4 202.6L48.9 202.6L49.4 202.6L49.9 202.6L50.4 202.7L50.9 202.7L51.4 202.7L51.9 202.7L52.4 202.7L52.9 202.7L53.4 202.7L53.9 202.8L54.4 202.8L54.9 202.8L55.0 202.8L55.4 202.8L55.9 202.8L56.4 202.9L56.9 202.8L57.4 202.7L57.9 202.4L58.4 202.6L58.9 202.9L59.4 203.0L59.9 203.1L60.0 203.1L60.4 203.3L60.9 203.5L61.4 203.4L61.9 203.3L62.0 203.3L62.4 203.2L62.9 203.3L63.4 203.3L63.9 203.4L64.4 203.4L64.9 203.5L65.4 203.5L65.9 203.5L66.0 203.5L66.4 203.4L66.9 203.2L67.4 202.8L67.9 202.8L68.4 203.0L68.9 203.0L69.4 202.8L69.9 202.4L70.0 202.3L70.4 202.3L70.9 202.4L71.0 202.5L71.4 202.5L71.9 202.4L72.4 202.2L72.5 202.2L72.9 202.0L73.4 201.6L73.9 201.1L74.0 201.0L74.4 200.7L74.9 200.2L75.3 199.6L75.4 199.4L75.9 197.8L76.0 197.4L76.4 195.5L76.9 192.8L77.0 192.3L77.4 190.0L77.9 186.7L78.4 183.2L78.7 181.2L78.9 179.9L79.3 177.5L79.4 176.9L79.9 173.8L80.4 170.7L80.9 167.4L81.4 163.8L81.9 160.1L82.4 156.2L82.9 152.3L83.1 150.7L83.4 148.4L83.9 144.6L84.4 140.7L84.9 136.7L85.4 132.6L85.9 128.1L86.4 123.4L86.9 118.6L87.3 115.0L87.4 114.1L87.7 111.4L87.9 109.6L88.4 105.1L88.9 101.2L89.1 99.8L89.4 98.1L89.9 95.4L90.4 92.0L90.9 88.3L91.4 84.9L91.5 84.3L91.9 82.1L92.4 79.6L92.9 77.2L93.4 75.0L93.8 73.2L93.9 72.8L94.4 70.6L94.5 70.2L94.9 68.5L95.4 66.5L95.9 64.5L96.4 62.5L96.5 62.1L96.9 60.5L97.4 58.5L97.5 58.1L97.9 56.5L98.4 54.5L98.9 52.6L99.3 51.1L99.4 50.7L99.9 49.0L100.4 47.3L100.5 47.0L100.9 45.7L101.4 44.0L101.9 42.4L102.4 40.7L102.6 40.0L102.9 38.9L103.0 38.5L103.4 36.9L103.9 35.0L104.4 33.5L104.9 32.2L105.4 31.5L105.6 31.6L105.9 32.2L106.4 33.5L106.9 35.5L107.4 38.3L107.8 40.5L107.9 41.0L108.0 41.5L108.4 43.7L108.9 46.5L109.4 49.1L109.9 51.6L110.0 52.0L110.4 53.7L110.9 55.6L111.4 57.3L111.9 59.0L112.4 60.7L112.9 62.4L113.0 62.7L113.4 64.1L113.5 64.5L113.9 66.0L114.4 67.9L114.9 69.9L115.4 71.8L115.9 73.8L116.4 75.8L116.6 76.6L116.9 77.7L117.4 79.6L117.5 80.0L117.9 81.5L118.4 83.4L118.9 85.3L119.4 87.1L119.9 89.0L120.4 90.8L120.9 92.6L121.4 94.4L121.9 96.1L122.4 97.8L122.6 98.5L122.9 99.5L123.0 99.8L123.4 101.1L123.9 102.6L124.4 104.1L124.9 105.5L125.4 106.9L125.9 108.4L126.0 108.7L126.4 109.8L126.9 111.3L127.4 112.9L127.9 114.5L128.4 116.2L128.6 116.9L128.9 118.2L129.4 120.8L129.6 121.9L129.9 123.2L130.4 124.6L130.5 124.6L130.9 124.3L131.4 123.3L131.9 121.9L132.0 121.6L132.4 120.5L132.9 119.6L133.2 119.4L133.4 119.7L133.9 122.0L134.0 122.5L134.4 123.9L134.5 124.0L134.9 122.3L135.4 117.4L135.9 113.4L136.1 112.9L136.4 116.3L136.9 129.9L137.4 138.8L137.9 139.6L138.4 140.2L138.9 140.7L139.4 141.0L139.9 141.2L140.4 141.3L140.6 141.3L140.9 140.8L141.3 139.2L141.4 138.8L141.9 137.5L142.4 139.6L142.9 144.3L143.2 147.3L143.4 149.2L143.8 151.7L143.9 152.1L144.4 153.8L144.9 155.3L145.4 156.7L145.9 158.1L146.4 159.3L146.9 160.4L147.4 161.4L147.9 162.3L148.4 163.2L148.9 164.0L149.4 164.8L149.9 165.6L150.0 165.7L150.4 166.3L150.9 167.0L151.4 167.7L151.9 168.4L152.4 169.1L152.9 169.8L153.4 170.5L153.9 171.2L154.4 171.8L154.9 172.5L155.4 173.1L155.9 173.7L156.0 173.8L156.4 174.3L156.6 174.5L156.9 174.9L157.4 175.6L157.9 176.3L158.4 177.0L158.9 177.8L159.4 178.5L159.9 179.2L160.4 179.9L160.9 180.6L161.4 181.1L161.9 181.6L162.4 182.0L162.9 182.2L163.1 182.3L163.4 182.4L163.9 182.5L164.4 182.6L164.9 182.8L165.4 182.8L165.9 182.9L166.4 183.0L166.9 183.0L167.1 183.0L167.4 183.0L167.9 182.9L168.4 182.9L168.9 182.7L169.4 182.6L169.9 182.4L170.0 182.4L170.4 182.2L170.9 182.0L171.4 181.8L171.9 181.6L172.4 181.4L172.9 181.2L173.4 181.0L173.9 180.8L174.4 180.7L174.9 180.6L175.4 180.5L175.9 180.4L176.3 180.4L176.4 180.4L176.9 180.4L177.4 180.5L177.9 180.6L178.4 180.7L178.9 180.8L179.4 181.0L179.9 181.2L180.4 181.3L180.9 181.5L181.4 181.7L181.9 181.9L182.4 182.1L182.9 182.3L183.4 182.5L183.9 182.7L184.2 182.9L184.4 183.0L184.9 183.3L185.4 183.5L185.9 183.8L186.4 184.1L186.9 184.4L187.4 184.7L187.9 184.9L188.4 185.2L188.9 185.4L189.4 185.6L189.9 185.8L190.4 185.9L190.9 186.0L191.4 186.1L191.9 186.2L192.4 186.3L192.9 186.4L193.4 186.5L193.9 186.5L194.4 186.6L194.9 186.7L195.4 186.8L195.9 186.9L196.4 187.0L196.9 187.2L197.4 187.4L197.9 187.6L198.4 187.8L198.6 187.9L198.9 188.2L199.4 189.1L199.9 190.4L200.4 191.6L200.9 192.6L201.2 192.9L201.4 193.0L201.9 193.3L202.4 193.6L202.6 193.7L202.9 193.9L203.4 194.1L203.9 194.3L204.4 194.5L204.9 194.6L205.4 194.7L205.9 194.8L206.4 194.8L206.5 194.8L206.9 194.8L207.4 194.8L207.8 194.7L207.9 194.7L208.4 194.7L208.9 194.7L209.4 194.6L209.9 194.6L210.4 194.6L210.9 194.6L211.4 194.7L211.9 194.7L212.4 194.8L212.9 194.9L213.4 195.0L213.9 195.1L214.4 195.2L214.9 195.3L215.4 195.5L215.9 195.6L216.4 195.8L216.9 196.1L217.4 196.3L217.9 196.5L218.4 196.7L218.9 196.9L219.4 197.1L219.9 197.3L220.4 197.5L220.9 197.6L221.4 197.7L221.9 197.7L222.0 197.7L222.4 197.7L222.9 197.7L223.4 197.6L223.9 197.6L224.4 197.5L224.9 197.4L225.4 197.3L225.9 197.2L226.4 197.0L226.9 196.9L227.4 196.8L227.9 196.6L228.4 196.5L228.9 196.3L229.4 196.2L229.9 196.1L230.4 195.9L230.9 195.7L231.4 195.5L231.9 195.2L232.0 195.1L232.4 194.3L232.9 192.6L233.1 192.0L233.4 191.4L233.9 190.9L234.4 190.6L234.9 190.2L235.3 189.9L235.4 189.8L235.7 189.5L235.9 189.3L236.4 188.6L236.8 187.7L236.9 187.3L237.1 185.7L237.4 182.3L237.5 181.1L237.9 175.3L238.2 170.0L238.4 166.1L238.6 161.8L238.9 155.0L239.4 142.3L239.7 135.5L239.9 131.5L240.4 123.5L240.5 123.2L240.9 125.4L241.4 132.2L241.6 135.5L241.9 143.7L242.4 160.8L242.5 163.0L242.9 169.8L243.4 176.4L243.5 177.4L243.9 180.0L244.4 181.5L244.9 182.6L245.4 183.1L245.6 183.2L245.9 183.1L246.4 182.4L246.9 181.1L247.4 179.5L247.8 177.9L247.9 177.4L248.4 173.0L248.7 170.0L248.9 167.7L249.4 162.2L249.5 162.0L249.9 165.7L250.2 170.0L250.4 172.4L250.9 177.9L251.0 178.8L251.4 182.5L251.9 187.0L252.4 190.6L252.9 192.6L253.1 192.8L253.4 192.8L253.9 192.6L254.4 192.4L254.9 192.1L255.4 191.9L255.9 191.7L256.3 191.7L256.4 191.7L256.9 192.1L257.4 192.7L257.9 193.3L258.4 193.8L258.9 194.0L259.4 194.2L259.9 194.3L260.4 194.4L260.9 194.6L261.4 194.8L261.6 194.9L261.9 195.2L262.4 196.1L262.9 197.2L263.4 197.9L263.7 198.1L263.9 198.1L264.4 198.0L264.9 197.9L265.4 197.8L265.9 197.6L266.0 197.6L266.4 197.4L266.9 196.9L267.4 196.4L267.9 195.8L268.4 195.3L268.9 194.9L269.3 194.8L269.4 194.8L269.9 194.8L270.4 194.8L270.9 194.9L271.4 194.9L271.9 195.0L272.4 195.0L272.9 195.1L273.4 195.2L273.9 195.3L274.3 195.4L274.4 195.4L274.9 195.9L275.4 196.6L275.9 197.5L276.4 198.2L276.9 198.7L277.1 198.7L277.4 198.6L277.9 198.0L278.4 197.1L278.7 196.5L278.9 196.0L279.4 194.0L279.9 191.4L280.4 188.8L280.9 186.4L281.4 184.0L281.9 181.4L282.4 178.8L282.6 177.7L282.9 176.0L283.4 172.7L283.7 170.8L283.9 169.5L284.4 166.4L284.8 164.4L284.9 164.0L285.4 161.8L285.9 159.8L286.4 158.5L286.5 158.3L286.9 157.7L287.4 157.1L287.8 156.9L287.9 156.9L288.4 157.3L288.9 158.1L289.3 158.9L289.4 159.2L289.9 161.5L290.4 165.1L290.6 166.6L290.9 169.6L291.4 176.0L291.5 177.2L291.9 181.4L292.0 182.1L292.4 184.5L292.9 186.9L293.1 187.6L293.4 188.2L293.5 188.2L293.9 187.5L294.4 185.2L294.9 182.5L295.0 182.1L295.4 180.0L295.9 178.2L296.4 179.9L296.9 182.8L297.0 183.2L297.4 184.6L297.6 185.3L297.9 186.3L298.4 187.8L298.9 189.2L299.2 189.9L299.4 190.4L299.9 191.6L300.4 192.8L300.9 193.9L301.4 194.6L301.9 194.9L302.4 194.7L302.9 194.4L303.4 193.8L303.9 193.2L304.4 192.6L304.9 192.1L305.4 191.8L305.7 191.7L305.9 191.7L306.4 192.2L306.9 193.0L307.4 194.2L307.9 195.5L308.4 196.9L308.9 198.3L309.4 199.6L309.9 200.6L310.4 201.3L310.9 201.8L311.4 202.2L311.9 202.6L312.4 202.9L312.9 203.3L313.4 203.6L313.9 203.8L314.4 204.1L314.9 204.3L315.4 204.4L315.7 204.5L315.9 204.5L316.4 204.6L316.9 204.7L317.4 204.8L317.9 204.9L318.4 205.0L318.9 205.0L319.4 205.1L319.9 205.1L320.4 205.2L320.9 205.2L321.4 205.3L321.9 205.3L322.4 205.4L322.9 205.5L323.1 205.5L323.4 205.5L323.9 205.6L324.4 205.7L324.9 205.9L325.4 206.0L325.9 206.1L326.4 206.2L326.9 206.3L327.4 206.4L327.9 206.5L328.4 206.5L328.9 206.6L329.4 206.6L329.5 206.6L329.9 206.3L330.4 205.4L330.9 204.1L331.4 202.5L331.8 201.3" stroke="#84109c" stroke-width="1.10" fill="none" stroke-linejoin="round"/>
<path d="M399.50 13.80 V222.90" stroke="#2b2b2b" stroke-width="1.1" fill="none"/>
<path d="M399.50 222.90 H684.20" stroke="#2b2b2b" stroke-width="1.1" fill="none"/>
<text x="391.90" y="215.00" font-size="10" text-anchor="end" font-weight="normal" >0.0</text>
<text x="391.90" y="186.77" font-size="10" text-anchor="end" font-weight="normal" >0.5</text>
<text x="391.90" y="158.54" font-size="10" text-anchor="end" font-weight="normal" >1.0</text>
<text x="391.90" y="130.31" font-size="10" text-anchor="end" font-weight="normal" >1.5</text>
<text x="391.90" y="102.08" font-size="10" text-anchor="end" font-weight="normal" >2.0</text>
<text x="391.90" y="73.85" font-size="10" text-anchor="end" font-weight="normal" >2.5</text>
<text x="391.90" y="45.62" font-size="10" text-anchor="end" font-weight="normal" >3.0</text>
<text x="391.90" y="17.39" font-size="10" text-anchor="end" font-weight="normal" >3.5</text>
<text x="397.50" y="243.10" font-size="10" text-anchor="middle" font-weight="normal" >4000</text>
<text x="438.55" y="243.10" font-size="10" text-anchor="middle" font-weight="normal" >3500</text>
<text x="479.60" y="243.10" font-size="10" text-anchor="middle" font-weight="normal" >3000</text>
<text x="520.65" y="243.10" font-size="10" text-anchor="middle" font-weight="normal" >2500</text>
<text x="561.70" y="243.10" font-size="10" text-anchor="middle" font-weight="normal" >2000</text>
<text x="602.75" y="243.10" font-size="10" text-anchor="middle" font-weight="normal" >1500</text>
<text x="643.80" y="243.10" font-size="10" text-anchor="middle" font-weight="normal" >1000</text>
<path d="M399.50 211.40 H395.20M399.50 183.17 H395.20M399.50 154.94 H395.20M399.50 126.71 H395.20M399.50 98.48 H395.20M399.50 70.25 H395.20M399.50 42.02 H395.20M399.50 13.79 H395.20M399.50 197.28 H397.30M399.50 169.06 H397.30M399.50 140.82 H397.30M399.50 112.59 H397.30M399.50 84.37 H397.30M399.50 56.13 H397.30M399.50 27.91 H397.30M399.50 222.90 V226.50M440.55 222.90 V226.50M481.60 222.90 V226.50M522.65 222.90 V226.50M563.70 222.90 V226.50M604.75 222.90 V226.50M645.80 222.90 V226.50M420.02 222.90 V225.10M461.07 222.90 V225.10M502.12 222.90 V225.10M543.17 222.90 V225.10M584.23 222.90 V225.10M625.27 222.90 V225.10M666.33 222.90 V225.10" stroke="#2b2b2b" stroke-width="1" fill="none"/>
<text x="494.70" y="261.70" font-size="13.2">Wavenumber / cm<tspan font-size="12" dy="-6.2">-1</tspan></text>
<text transform="translate(369.00 118.70) rotate(-90)" x="0" y="0" font-size="13.2" text-anchor="middle">Absorbance / arb. units</text>
<text x="358.70" y="14.60" font-size="20" font-weight="bold" fill="#000">b</text>
<path d="M408.5 174.8V177.4M581.5 174.8V177.6M401.2 204.3V205.3" stroke="#555" stroke-width="0.9"/>
<path d="M399.5 211.6L400.0 211.7L400.5 211.8L401.0 211.8L401.5 211.9L402.0 212.0L402.5 212.1L403.0 212.2L403.5 212.3L404.0 212.4L404.5 212.5L405.0 212.5L405.5 212.6L406.0 212.7L406.5 212.8L407.0 212.9L407.5 213.0L408.0 213.1L408.5 213.2L409.0 213.3L409.5 213.4L410.0 213.5L410.5 213.6L411.0 213.7L411.5 213.8L412.0 214.0L412.5 214.1L413.0 214.3L413.5 214.4L414.0 214.6L414.5 214.7L415.0 214.9L415.5 215.0L416.0 215.2L416.5 215.3L417.0 215.4L417.5 215.6L418.0 215.7L418.5 215.8L419.0 215.9L419.5 216.0L420.0 216.1L420.5 216.1L421.0 216.2L421.5 216.2L421.9 216.2L422.0 216.2L422.5 216.2L423.0 216.1L423.5 215.9L424.0 215.7L424.5 215.5L425.0 215.2L425.3 215.0L425.5 214.8L426.0 214.2L426.5 213.2L427.0 212.0L427.5 210.4L428.0 208.2L428.5 205.8L428.8 204.3L429.0 203.3L429.5 200.8L430.0 198.1L430.5 195.2L431.0 192.2L431.5 189.2L432.0 186.0L432.3 184.0L432.5 182.7L433.0 179.1L433.5 175.4L434.0 171.6L434.5 167.6L435.0 163.5L435.5 159.4L436.0 155.3L436.5 151.2L436.9 148.0L437.0 147.2L437.5 142.9L438.0 138.5L438.5 134.1L438.6 133.3L439.0 130.1L439.5 126.6L439.6 126.0L440.0 123.8L440.2 122.8L440.5 121.5L441.0 119.3L441.5 117.0L441.8 115.5L442.0 114.5L442.5 112.0L443.0 109.4L443.5 106.9L444.0 104.4L444.2 103.5L444.3 103.0L444.5 102.1L445.0 99.9L445.5 97.7L446.0 95.5L446.5 93.3L446.8 91.9L447.0 91.0L447.5 88.9L448.0 87.0L448.5 85.4L449.0 83.9L449.5 82.5L450.0 81.2L450.5 80.0L451.0 78.9L451.5 77.9L452.0 76.9L452.5 75.9L453.0 75.0L453.5 74.0L454.0 73.0L454.5 72.1L455.0 71.2L455.1 71.1L455.5 70.5L456.0 69.9L456.5 69.3L457.0 68.8L457.4 68.7L457.5 68.7L458.0 69.0L458.5 69.5L459.0 70.1L459.3 70.5L459.5 70.8L459.7 71.1L460.0 71.6L460.5 72.5L461.0 73.5L461.5 74.5L462.0 75.5L462.5 76.4L463.0 77.2L463.5 78.1L464.0 78.9L464.5 79.9L464.8 80.5L465.0 80.9L465.2 81.4L465.5 82.1L466.0 83.4L466.5 84.7L467.0 86.0L467.5 87.3L468.0 88.6L468.5 90.0L469.0 91.5L469.5 93.0L470.0 94.8L470.5 96.8L471.0 98.7L471.5 100.5L472.0 102.0L472.5 103.4L473.0 104.7L473.5 106.1L474.0 107.5L474.5 109.0L475.0 110.6L475.5 112.3L476.0 114.0L476.5 115.8L476.8 116.8L477.0 117.6L477.5 119.4L478.0 121.4L478.5 123.5L479.0 126.1L479.3 127.9L479.5 129.1L480.0 132.3L480.5 135.3L481.0 137.7L481.5 139.0L482.0 139.7L482.5 140.3L483.0 140.7L483.5 141.0L483.8 141.0L484.0 141.0L484.5 140.8L485.0 140.6L485.5 140.3L486.0 140.0L486.5 139.7L487.0 139.4L487.5 139.1L488.0 139.0L488.5 142.6L489.0 150.2L489.5 156.4L489.6 157.0L490.0 158.9L490.5 160.8L491.0 161.9L491.2 162.0L491.5 162.0L492.0 162.0L492.5 162.0L493.0 162.0L493.1 162.0L493.5 162.8L494.0 165.2L494.5 168.1L494.9 170.0L495.0 170.3L495.5 172.0L496.0 173.5L496.5 174.9L497.0 176.0L497.5 176.9L498.0 177.6L498.5 178.3L499.0 178.9L499.5 179.5L500.0 180.2L500.5 181.0L501.0 182.0L501.5 183.0L502.0 184.2L502.5 185.4L503.0 186.6L503.5 187.8L504.0 188.9L504.1 189.1L504.5 189.9L505.0 190.8L505.5 191.7L506.0 192.6L506.5 193.4L507.0 194.3L507.5 195.1L508.0 196.0L508.3 196.6L508.5 197.0L509.0 198.0L509.5 199.0L510.0 200.0L510.5 201.1L511.0 202.1L511.5 203.1L512.0 204.1L512.4 204.9L512.5 205.1L513.0 206.1L513.5 207.0L514.0 208.0L514.5 208.8L515.0 209.5L515.5 210.2L516.0 210.8L516.5 211.1L516.6 211.1L517.0 211.1L517.5 211.0L518.0 210.9L518.5 210.7L519.0 210.5L519.5 210.2L520.0 209.9L520.5 209.4L521.0 208.8L521.5 208.3L522.0 207.7L522.5 207.1L523.0 206.6L523.1 206.5L523.5 206.1L524.0 205.6L524.5 205.1L525.0 204.6L525.5 204.2L526.0 203.7L526.5 203.3L527.0 203.0L527.5 202.7L528.0 202.4L528.5 202.0L529.0 201.7L529.5 201.5L530.0 201.2L530.5 201.1L531.0 201.0L531.2 201.0L531.5 201.0L532.0 201.0L532.5 201.1L533.0 201.1L533.5 201.2L534.0 201.3L534.5 201.4L535.0 201.5L535.5 201.6L536.0 201.7L536.5 201.9L537.0 202.1L537.5 202.2L538.0 202.4L538.5 202.6L539.0 202.7L539.3 202.8L539.5 202.9L540.0 203.0L540.5 203.1L541.0 203.2L541.5 203.3L542.0 203.3L542.5 203.4L543.0 203.5L543.5 203.6L544.0 203.6L544.5 203.7L545.0 203.8L545.5 203.9L546.0 203.9L546.5 204.0L547.0 204.1L547.5 204.2L548.0 204.4L548.5 204.5L549.0 204.6L549.5 204.8L550.0 205.0L550.5 205.2L550.8 205.3L551.0 205.4L551.5 206.0L552.0 206.8L552.5 207.8L553.0 208.9L553.5 209.8L554.0 210.5L554.3 210.8L554.5 210.9L555.0 211.3L555.5 211.6L556.0 211.8L556.5 212.1L557.0 212.3L557.5 212.5L558.0 212.6L558.5 212.7L558.9 212.7L559.0 212.7L559.5 212.6L560.0 212.3L560.5 211.9L561.0 211.5L561.5 211.1L562.0 210.9L562.4 210.8L562.5 210.8L563.0 210.9L563.5 211.1L564.0 211.3L564.5 211.5L564.7 211.5L565.0 211.4L565.5 211.2L566.0 210.8L566.5 210.5L567.0 210.4L567.5 210.5L568.0 210.6L568.5 210.8L569.0 211.0L569.5 211.3L570.0 211.6L570.5 211.8L571.0 211.9L571.5 212.0L571.6 212.0L572.0 212.0L572.5 212.0L573.0 211.9L573.5 211.8L574.0 211.7L574.5 211.6L575.0 211.5L575.5 211.4L576.0 211.2L576.5 211.1L577.0 210.9L577.5 210.7L578.0 210.6L578.5 210.4L579.0 210.2L579.5 210.1L580.0 209.9L580.5 209.7L581.0 209.5L581.5 209.2L582.0 209.0L582.5 208.7L583.0 208.4L583.5 208.0L584.0 207.6L584.3 207.4L584.5 207.2L585.0 206.7L585.5 206.1L586.0 205.3L586.5 204.5L587.0 203.5L587.5 202.3L587.8 201.6L588.0 201.1L588.5 199.3L588.7 198.5L589.0 197.0L589.5 194.0L590.0 188.5L590.3 184.4L590.5 182.0L591.0 176.5L591.2 174.5L591.5 172.5L592.0 170.6L592.2 170.1L592.5 169.8L592.9 170.1L593.0 170.3L593.5 171.5L593.6 171.9L594.0 175.3L594.4 179.9L594.5 181.0L595.0 187.0L595.3 190.4L595.5 192.0L596.0 194.9L596.3 196.3L596.5 197.2L597.0 198.6L597.3 198.9L597.5 198.8L598.0 198.2L598.5 197.1L599.0 195.8L599.3 195.0L599.5 194.4L600.0 192.3L600.4 190.5L600.5 190.1L601.0 188.4L601.3 188.1L601.5 188.2L602.0 189.2L602.3 190.3L602.5 191.1L603.0 193.2L603.4 195.0L603.5 195.5L604.0 198.5L604.5 201.7L604.8 203.3L605.0 204.0L605.5 205.3L606.0 206.2L606.4 206.5L606.5 206.5L607.0 206.0L607.5 205.1L608.0 204.3L608.5 203.9L609.0 204.6L609.5 206.2L610.0 207.9L610.5 208.6L611.0 208.5L611.5 208.3L612.0 208.1L612.5 207.9L613.0 207.7L613.5 207.6L614.0 207.8L614.5 208.3L615.0 209.0L615.5 209.7L616.0 210.3L616.5 210.6L616.6 210.6L617.0 210.6L617.5 210.4L618.0 210.1L618.5 209.8L619.0 209.4L619.5 209.0L620.0 208.6L620.5 208.2L621.0 207.8L621.5 207.5L622.0 207.3L622.5 207.2L622.7 207.2L623.0 207.2L623.5 207.2L624.0 207.3L624.5 207.4L625.0 207.5L625.5 207.7L626.0 207.8L626.5 208.0L627.0 208.2L627.5 208.5L627.8 208.6L628.0 208.7L628.5 209.3L629.0 210.0L629.5 210.5L629.8 210.6L630.0 210.5L630.5 209.7L631.0 208.2L631.5 206.0L632.0 203.3L632.5 200.3L633.0 197.1L633.5 193.8L633.9 191.3L634.0 190.6L634.5 186.6L635.0 181.6L635.5 176.4L636.0 171.4L636.5 167.2L636.9 164.9L637.0 164.5L637.5 162.3L638.0 160.2L638.5 158.4L639.0 157.0L639.5 156.0L640.0 155.7L640.5 156.3L641.0 158.0L641.5 160.3L642.0 162.8L642.5 166.8L643.0 173.0L643.5 180.0L644.0 186.5L644.5 191.4L645.0 193.3L645.5 192.4L646.0 190.1L646.5 187.0L647.0 183.9L647.5 181.4L648.0 180.1L648.1 180.1L648.5 180.8L649.0 183.1L649.5 186.6L650.0 190.3L650.5 193.7L651.0 196.1L651.1 196.4L651.5 197.4L652.0 198.6L652.5 199.6L653.0 200.5L653.5 201.1L654.0 201.5L654.2 201.5L654.5 201.3L655.0 200.4L655.5 199.1L656.0 197.5L656.5 196.2L657.0 195.5L657.2 195.4L657.5 195.6L658.0 196.5L658.5 197.9L659.0 199.7L659.5 201.4L660.0 202.9L660.3 203.5L660.5 203.8L661.0 204.7L661.5 205.5L662.0 206.2L662.5 207.0L663.0 207.6L663.5 208.2L664.0 208.7L664.5 209.1L665.0 209.4L665.4 209.6L665.5 209.6L666.0 209.8L666.5 209.9L667.0 210.1L667.5 210.2L668.0 210.4L668.5 210.5L669.0 210.6L669.5 210.7L670.0 210.8L670.5 210.9L671.0 211.0L671.5 211.1L672.0 211.2L672.5 211.2L673.0 211.3L673.5 211.4L674.0 211.4L674.5 211.5L675.0 211.5L675.5 211.5L676.0 211.6L676.5 211.6L677.0 211.6L677.5 211.6L677.6 211.6L678.0 211.6L678.5 211.4L679.0 211.1L679.5 210.8L680.0 210.3L680.5 209.8L681.0 209.3L681.5 208.7L681.6 208.6L682.0 208.0L682.5 207.1L683.0 206.0L683.5 204.8L684.0 203.5" stroke="#7a5a10" stroke-width="1.10" fill="none" stroke-linejoin="round"/>
<path d="M399.5 211.6L400.0 211.7L400.5 211.8L401.0 211.8L401.5 211.9L402.0 212.0L402.5 212.1L403.0 212.2L403.5 212.3L404.0 212.4L404.5 212.5L405.0 212.5L405.5 212.6L406.0 212.7L406.5 212.8L407.0 212.9L407.5 213.0L408.0 213.1L408.5 213.2L409.0 213.3L409.5 213.4L410.0 213.5L410.5 213.6L411.0 213.7L411.5 213.8L412.0 214.0L412.5 214.1L413.0 214.3L413.5 214.4L414.0 214.6L414.5 214.7L415.0 214.9L415.5 215.0L416.0 215.2L416.5 215.3L417.0 215.4L417.5 215.6L418.0 215.7L418.5 215.8L419.0 215.9L419.5 216.0L420.0 216.1L420.5 216.1L421.0 216.2L421.5 216.2L421.9 216.2L422.0 216.2L422.5 216.2L423.0 216.1L423.5 215.9L424.0 215.7L424.5 215.5L425.0 215.2L425.3 215.0L425.5 214.8L426.0 214.2L426.5 213.2L427.0 212.0L427.5 210.4L428.0 208.1L428.5 205.6L428.8 204.1L429.0 203.1L429.5 200.6L430.0 197.8L430.5 195.0L431.0 192.0L431.5 188.9L432.0 185.7L432.3 183.7L432.5 182.4L433.0 178.9L433.5 175.2L434.0 171.4L434.5 167.5L435.0 163.4L435.5 159.3L436.0 155.1L436.5 150.9L436.9 147.5L437.0 146.6L437.5 141.9L438.0 136.8L438.5 132.0L438.6 131.1L439.0 127.7L439.5 124.0L439.6 123.4L440.0 121.0L440.2 119.9L440.5 118.4L441.0 116.0L441.5 113.6L441.8 112.0L442.0 111.0L442.5 108.2L443.0 105.5L443.5 102.7L444.0 99.9L444.2 98.8L444.3 98.3L444.5 97.2L445.0 94.5L445.5 91.8L446.0 89.1L446.5 86.5L446.8 84.9L447.0 84.0L447.5 81.6L448.0 79.5L448.5 77.6L449.0 75.9L449.5 74.3L450.0 72.7L450.5 71.3L451.0 69.9L451.5 68.6L452.0 67.4L452.5 66.2L453.0 65.0L453.5 63.8L454.0 62.5L454.5 61.3L455.0 60.1L455.1 59.9L455.5 58.9L456.0 57.8L456.5 56.8L457.0 56.1L457.4 55.8L457.5 55.8L458.0 56.2L458.5 57.0L459.0 58.1L459.3 58.8L459.5 59.4L459.7 59.9L460.0 60.6L460.5 61.9L461.0 63.2L461.5 64.7L462.0 66.2L462.5 67.9L463.0 69.5L463.5 71.2L464.0 73.0L464.5 74.7L464.8 75.8L465.0 76.5L465.2 77.2L465.5 78.2L466.0 79.9L466.5 81.6L467.0 83.3L467.5 84.9L468.0 86.5L468.5 88.1L469.0 89.8L469.5 91.5L470.0 93.3L470.5 95.3L471.0 97.3L471.5 99.1L472.0 100.7L472.5 102.2L473.0 103.6L473.5 105.1L474.0 106.6L474.5 108.2L475.0 109.7L475.5 111.4L476.0 113.1L476.5 114.9L476.8 116.0L477.0 116.7L477.5 118.7L478.0 120.7L478.5 122.9L479.0 125.4L479.3 127.1L479.5 128.3L480.0 131.4L480.5 134.3L481.0 136.6L481.5 137.8L482.0 138.3L482.5 138.5L483.0 138.5L483.5 138.3L483.8 138.1L484.0 137.9L484.5 137.3L485.0 136.9L485.5 136.8L486.0 136.7L486.5 136.6L487.0 136.0L487.5 135.0L488.0 134.5L488.5 138.7L489.0 147.4L489.5 154.2L489.6 154.8L490.0 156.4L490.5 158.0L491.0 159.0L491.2 159.1L491.5 159.1L492.0 159.0L492.5 158.7L493.0 158.6L493.1 158.6L493.5 159.6L494.0 162.8L494.5 166.5L494.9 168.7L495.0 169.1L495.5 170.8L496.0 172.4L496.5 173.8L497.0 175.0L497.5 176.0L498.0 176.8L498.5 177.6L499.0 178.3L499.5 179.1L500.0 179.9L500.5 180.8L501.0 181.9L501.5 183.0L502.0 184.2L502.5 185.4L503.0 186.6L503.5 187.8L504.0 188.9L504.1 189.1L504.5 189.9L505.0 190.8L505.5 191.7L506.0 192.6L506.5 193.4L507.0 194.3L507.5 195.1L508.0 196.0L508.3 196.6L508.5 197.0L509.0 198.0L509.5 199.0L510.0 200.0L510.5 201.1L511.0 202.1L511.5 203.1L512.0 204.1L512.4 204.9L512.5 205.1L513.0 206.1L513.5 207.0L514.0 208.0L514.5 208.8L515.0 209.5L515.5 210.2L516.0 210.8L516.5 211.1L516.6 211.1L517.0 211.1L517.5 211.0L518.0 210.9L518.5 210.7L519.0 210.5L519.5 210.3L520.0 209.9L520.5 209.5L521.0 209.0L521.5 208.5L522.0 208.0L522.5 207.4L523.0 207.0L523.1 206.9L523.5 206.5L524.0 206.1L524.5 205.6L525.0 205.2L525.5 204.8L526.0 204.3L526.5 203.9L527.0 203.6L527.5 203.3L528.0 202.9L528.5 202.6L529.0 202.3L529.5 202.1L530.0 201.9L530.5 201.7L531.0 201.7L531.2 201.7L531.5 201.7L532.0 201.7L532.5 201.7L533.0 201.8L533.5 201.9L534.0 202.0L534.5 202.1L535.0 202.2L535.5 202.3L536.0 202.4L536.5 202.6L537.0 202.7L537.5 202.9L538.0 203.1L538.5 203.2L539.0 203.3L539.3 203.4L539.5 203.4L540.0 203.6L540.5 203.6L541.0 203.7L541.5 203.8L542.0 203.9L542.5 203.9L543.0 204.0L543.5 204.1L544.0 204.1L544.5 204.2L545.0 204.2L545.5 204.3L546.0 204.4L546.5 204.5L547.0 204.5L547.5 204.6L548.0 204.7L548.5 204.8L549.0 205.0L549.5 205.1L550.0 205.3L550.5 205.4L550.8 205.5L551.0 205.6L551.5 206.2L552.0 207.0L552.5 207.9L553.0 208.9L553.5 209.8L554.0 210.5L554.3 210.8L554.5 210.9L555.0 211.3L555.5 211.6L556.0 211.8L556.5 212.1L557.0 212.3L557.5 212.5L558.0 212.6L558.5 212.7L558.9 212.7L559.0 212.7L559.5 212.6L560.0 212.3L560.5 211.9L561.0 211.5L561.5 211.1L562.0 210.9L562.4 210.8L562.5 210.8L563.0 210.9L563.5 211.1L564.0 211.3L564.5 211.5L564.7 211.5L565.0 211.4L565.5 211.2L566.0 210.8L566.5 210.5L567.0 210.4L567.5 210.5L568.0 210.6L568.5 210.8L569.0 211.0L569.5 211.3L570.0 211.6L570.5 211.8L571.0 211.9L571.5 212.0L571.6 212.0L572.0 212.0L572.5 212.0L573.0 211.9L573.5 211.8L574.0 211.7L574.5 211.6L575.0 211.5L575.5 211.4L576.0 211.2L576.5 211.1L577.0 210.9L577.5 210.7L578.0 210.6L578.5 210.4L579.0 210.2L579.5 210.1L580.0 209.9L580.5 209.7L581.0 209.5L581.5 209.2L582.0 209.0L582.5 208.7L583.0 208.4L583.5 208.0L584.0 207.6L584.3 207.4L584.5 207.2L585.0 206.7L585.5 206.1L586.0 205.4L586.5 204.6L587.0 203.6L587.5 202.4L587.8 201.6L588.0 200.9L588.5 198.2L588.7 196.9L589.0 194.8L589.5 190.0L590.0 181.8L590.3 175.9L590.5 172.0L591.0 162.5L591.2 159.3L591.5 155.4L592.0 150.6L592.2 149.6L592.5 149.0L592.9 148.9L593.0 149.0L593.5 150.7L593.6 151.3L594.0 156.8L594.4 164.6L594.5 166.4L595.0 176.2L595.3 181.4L595.5 184.2L596.0 189.9L596.3 192.2L596.5 193.3L597.0 195.3L597.3 195.8L597.5 195.8L598.0 195.3L598.5 194.1L599.0 192.6L599.3 191.6L599.5 190.6L600.0 186.7L600.4 183.7L600.5 183.0L601.0 180.1L601.3 179.5L601.5 179.7L602.0 181.8L602.3 183.5L602.5 184.8L603.0 188.6L603.4 191.6L603.5 192.3L604.0 196.2L604.5 200.1L604.8 201.8L605.0 202.7L605.5 204.7L606.0 206.1L606.4 206.5L606.5 206.5L607.0 206.0L607.5 205.1L608.0 204.3L608.5 203.9L609.0 204.6L609.5 206.2L610.0 207.9L610.5 208.6L611.0 208.5L611.5 208.3L612.0 208.1L612.5 207.9L613.0 207.7L613.5 207.6L614.0 207.8L614.5 208.3L615.0 209.0L615.5 209.7L616.0 210.3L616.5 210.6L616.6 210.6L617.0 210.6L617.5 210.4L618.0 210.1L618.5 209.8L619.0 209.4L619.5 209.0L620.0 208.6L620.5 208.2L621.0 207.8L621.5 207.5L622.0 207.3L622.5 207.2L622.7 207.2L623.0 207.2L623.5 207.2L624.0 207.3L624.5 207.4L625.0 207.5L625.5 207.7L626.0 207.8L626.5 208.0L627.0 208.2L627.5 208.5L627.8 208.6L628.0 208.7L628.5 209.3L629.0 210.0L629.5 210.5L629.8 210.6L630.0 210.5L630.5 209.7L631.0 208.2L631.5 206.0L632.0 203.3L632.5 200.3L633.0 197.1L633.5 193.8L633.9 191.3L634.0 190.6L634.5 186.6L635.0 181.6L635.5 176.4L636.0 171.4L636.5 167.2L636.9 164.9L637.0 164.5L637.5 162.3L638.0 160.2L638.5 158.4L639.0 157.0L639.5 156.0L640.0 155.7L640.5 156.3L641.0 158.0L641.5 160.3L642.0 162.8L642.5 166.8L643.0 173.0L643.5 180.0L644.0 186.5L644.5 191.4L645.0 193.3L645.5 192.4L646.0 190.1L646.5 187.0L647.0 183.9L647.5 181.4L648.0 180.1L648.1 180.1L648.5 180.8L649.0 183.1L649.5 186.6L650.0 190.3L650.5 193.7L651.0 196.1L651.1 196.4L651.5 197.4L652.0 198.6L652.5 199.6L653.0 200.5L653.5 201.1L654.0 201.5L654.2 201.5L654.5 201.3L655.0 200.4L655.5 199.1L656.0 197.5L656.5 196.2L657.0 195.5L657.2 195.4L657.5 195.6L658.0 196.5L658.5 197.9L659.0 199.7L659.5 201.4L660.0 202.9L660.3 203.5L660.5 203.8L661.0 204.7L661.5 205.5L662.0 206.2L662.5 207.0L663.0 207.6L663.5 208.2L664.0 208.7L664.5 209.1L665.0 209.4L665.4 209.6L665.5 209.6L666.0 209.8L666.5 209.9L667.0 210.1L667.5 210.2L668.0 210.4L668.5 210.5L669.0 210.6L669.5 210.7L670.0 210.8L670.5 210.9L671.0 211.0L671.5 211.1L672.0 211.2L672.5 211.2L673.0 211.3L673.5 211.4L674.0 211.4L674.5 211.5L675.0 211.5L675.5 211.5L676.0 211.6L676.5 211.6L677.0 211.6L677.5 211.6L677.6 211.6L678.0 211.6L678.5 211.4L679.0 211.1L679.5 210.8L680.0 210.3L680.5 209.8L681.0 209.3L681.5 208.7L681.6 208.6L682.0 208.0L682.5 207.1L683.0 206.0L683.5 204.8L684.0 203.5" stroke="#008080" stroke-width="1.10" fill="none" stroke-linejoin="round"/>
<path d="M399.5 211.6L400.0 211.7L400.5 211.8L401.0 211.8L401.5 211.9L402.0 212.0L402.5 212.1L403.0 212.2L403.5 212.3L404.0 212.4L404.5 212.5L405.0 212.5L405.5 212.6L406.0 212.7L406.5 212.8L407.0 212.9L407.5 213.0L408.0 213.1L408.5 213.2L409.0 213.3L409.5 213.4L410.0 213.5L410.5 213.6L411.0 213.7L411.5 213.8L412.0 214.0L412.5 214.1L413.0 214.3L413.5 214.4L414.0 214.6L414.5 214.7L415.0 214.9L415.5 215.0L416.0 215.2L416.5 215.3L417.0 215.4L417.5 215.6L418.0 215.7L418.5 215.8L419.0 215.9L419.5 216.0L420.0 216.1L420.5 216.1L421.0 216.2L421.5 216.2L421.9 216.2L422.0 216.2L422.5 216.2L423.0 216.1L423.5 215.9L424.0 215.7L424.5 215.5L425.0 215.2L425.3 215.0L425.5 214.8L426.0 214.2L426.5 213.2L427.0 212.0L427.5 210.3L428.0 208.1L428.5 205.6L428.8 204.0L429.0 203.0L429.5 200.4L430.0 197.7L430.5 194.9L431.0 191.9L431.5 188.8L432.0 185.6L432.3 183.6L432.5 182.2L433.0 178.7L433.5 175.1L434.0 171.3L434.5 167.4L435.0 163.4L435.5 159.2L436.0 155.0L436.5 150.7L436.9 147.1L437.0 146.2L437.5 141.2L438.0 135.7L438.5 130.6L438.6 129.7L439.0 126.2L439.5 122.4L439.6 121.7L440.0 119.2L440.2 118.0L440.5 116.4L441.0 113.9L441.5 111.4L441.8 109.8L442.0 108.7L442.5 105.8L443.0 102.9L443.5 99.9L444.0 97.0L444.2 95.8L444.3 95.2L444.5 94.1L445.0 91.1L445.5 88.0L446.0 85.0L446.5 82.1L446.8 80.5L447.0 79.4L447.5 76.9L448.0 74.7L448.5 72.7L449.0 70.8L449.5 69.0L450.0 67.3L450.5 65.7L451.0 64.2L451.5 62.7L452.0 61.3L452.5 60.0L453.0 58.6L453.5 57.2L454.0 55.7L454.5 54.3L455.0 52.9L455.1 52.7L455.5 51.5L456.0 50.1L456.5 48.8L457.0 47.9L457.4 47.5L457.5 47.5L458.0 48.0L458.5 49.0L459.0 50.4L459.3 51.4L459.5 52.0L459.7 52.7L460.0 53.6L460.5 55.1L461.0 56.6L461.5 58.3L462.0 60.3L462.5 62.4L463.0 64.6L463.5 66.8L464.0 69.1L464.5 71.4L464.8 72.8L465.0 73.6L465.2 74.5L465.5 75.7L466.0 77.7L466.5 79.6L467.0 81.5L467.5 83.3L468.0 85.1L468.5 86.9L469.0 88.7L469.5 90.5L470.0 92.4L470.5 94.4L471.0 96.3L471.5 98.1L472.0 99.8L472.5 101.4L473.0 102.9L473.5 104.4L474.0 106.0L474.5 107.6L475.0 109.2L475.5 110.8L476.0 112.5L476.5 114.3L476.8 115.4L477.0 116.2L477.5 118.2L478.0 120.3L478.5 122.5L479.0 125.0L479.3 126.6L479.5 127.8L480.0 130.8L480.5 133.7L481.0 136.0L481.5 137.1L482.0 137.3L482.5 137.3L483.0 137.0L483.5 136.7L483.8 136.3L484.0 135.9L484.5 135.0L485.0 134.5L485.5 134.5L486.0 134.6L486.5 134.7L487.0 133.8L487.5 132.4L488.0 131.6L488.5 136.2L489.0 145.6L489.5 152.7L489.6 153.3L490.0 154.8L490.5 156.3L491.0 157.1L491.2 157.2L491.5 157.2L492.0 157.0L492.5 156.7L493.0 156.4L493.1 156.4L493.5 157.6L494.0 161.2L494.5 165.4L494.9 167.8L495.0 168.2L495.5 170.1L496.0 171.7L496.5 173.1L497.0 174.3L497.5 175.4L498.0 176.3L498.5 177.1L499.0 177.9L499.5 178.8L500.0 179.7L500.5 180.7L501.0 181.8L501.5 183.0L502.0 184.2L502.5 185.4L503.0 186.6L503.5 187.8L504.0 188.9L504.1 189.1L504.5 189.9L505.0 190.8L505.5 191.7L506.0 192.6L506.5 193.4L507.0 194.3L507.5 195.1L508.0 196.0L508.3 196.6L508.5 197.0L509.0 198.0L509.5 199.0L510.0 200.0L510.5 201.1L511.0 202.1L511.5 203.1L512.0 204.1L512.4 204.9L512.5 205.1L513.0 206.1L513.5 207.0L514.0 208.0L514.5 208.8L515.0 209.5L515.5 210.2L516.0 210.8L516.5 211.1L516.6 211.1L517.0 211.1L517.5 211.0L518.0 210.8L518.5 210.7L519.0 210.5L519.5 210.3L520.0 209.9L520.5 209.5L521.0 209.1L521.5 208.6L522.0 208.1L522.5 207.7L523.0 207.2L523.1 207.1L523.5 206.8L524.0 206.4L524.5 206.0L525.0 205.5L525.5 205.1L526.0 204.7L526.5 204.3L527.0 204.0L527.5 203.6L528.0 203.3L528.5 203.0L529.0 202.7L529.5 202.5L530.0 202.3L530.5 202.2L531.0 202.1L531.2 202.1L531.5 202.1L532.0 202.1L532.5 202.2L533.0 202.2L533.5 202.3L534.0 202.4L534.5 202.5L535.0 202.6L535.5 202.7L536.0 202.9L536.5 203.0L537.0 203.2L537.5 203.3L538.0 203.5L538.5 203.6L539.0 203.7L539.3 203.8L539.5 203.8L540.0 203.9L540.5 204.0L541.0 204.1L541.5 204.2L542.0 204.2L542.5 204.3L543.0 204.3L543.5 204.4L544.0 204.4L544.5 204.5L545.0 204.5L545.5 204.6L546.0 204.7L546.5 204.7L547.0 204.8L547.5 204.9L548.0 205.0L548.5 205.1L549.0 205.2L549.5 205.3L550.0 205.4L550.5 205.6L550.8 205.7L551.0 205.8L551.5 206.3L552.0 207.1L552.5 208.0L553.0 209.0L553.5 209.9L554.0 210.5L554.3 210.8L554.5 210.9L555.0 211.3L555.5 211.6L556.0 211.8L556.5 212.1L557.0 212.3L557.5 212.5L558.0 212.6L558.5 212.7L558.9 212.7L559.0 212.7L559.5 212.6L560.0 212.3L560.5 211.9L561.0 211.5L561.5 211.1L562.0 210.9L562.4 210.8L562.5 210.8L563.0 210.9L563.5 211.1L564.0 211.3L564.5 211.5L564.7 211.5L565.0 211.4L565.5 211.2L566.0 210.8L566.5 210.5L567.0 210.4L567.5 210.5L568.0 210.6L568.5 210.8L569.0 211.0L569.5 211.3L570.0 211.6L570.5 211.8L571.0 211.9L571.5 212.0L571.6 212.0L572.0 212.0L572.5 212.0L573.0 211.9L573.5 211.8L574.0 211.7L574.5 211.6L575.0 211.5L575.5 211.4L576.0 211.2L576.5 211.1L577.0 210.9L577.5 210.7L578.0 210.6L578.5 210.4L579.0 210.2L579.5 210.1L580.0 209.9L580.5 209.7L581.0 209.5L581.5 209.2L582.0 209.0L582.5 208.7L583.0 208.4L583.5 208.0L584.0 207.6L584.3 207.4L584.5 207.2L585.0 206.7L585.5 206.2L586.0 205.4L586.5 204.6L587.0 203.6L587.5 202.4L587.8 201.6L588.0 200.9L588.5 198.2L588.7 196.8L589.0 194.6L589.5 189.8L590.0 181.3L590.3 175.3L590.5 171.4L591.0 161.6L591.2 158.3L591.5 154.2L592.0 149.2L592.2 148.2L592.5 147.5L592.9 147.4L593.0 147.5L593.5 149.3L593.6 149.9L594.0 155.5L594.4 163.5L594.5 165.4L595.0 175.5L595.3 180.8L595.5 183.7L596.0 189.6L596.3 192.0L596.5 193.0L597.0 195.0L597.3 195.6L597.5 195.6L598.0 195.1L598.5 193.9L599.0 192.4L599.3 191.3L599.5 190.4L600.0 186.4L600.4 183.2L600.5 182.5L601.0 179.6L601.3 178.9L601.5 179.1L602.0 181.3L602.3 183.1L602.5 184.4L603.0 188.3L603.4 191.3L603.5 192.1L604.0 196.1L604.5 200.0L604.8 201.7L605.0 202.7L605.5 204.6L606.0 206.1L606.4 206.5L606.5 206.5L607.0 206.0L607.5 205.1L608.0 204.3L608.5 203.9L609.0 204.6L609.5 206.2L610.0 207.9L610.5 208.6L611.0 208.5L611.5 208.3L612.0 208.1L612.5 207.9L613.0 207.7L613.5 207.6L614.0 207.8L614.5 208.3L615.0 209.0L615.5 209.7L616.0 210.3L616.5 210.6L616.6 210.6L617.0 210.6L617.5 210.4L618.0 210.1L618.5 209.8L619.0 209.4L619.5 209.0L620.0 208.6L620.5 208.2L621.0 207.8L621.5 207.5L622.0 207.3L622.5 207.2L622.7 207.2L623.0 207.2L623.5 207.2L624.0 207.3L624.5 207.4L625.0 207.5L625.5 207.7L626.0 207.8L626.5 208.0L627.0 208.2L627.5 208.5L627.8 208.6L628.0 208.7L628.5 209.3L629.0 210.0L629.5 210.5L629.8 210.6L630.0 210.5L630.5 209.7L631.0 208.2L631.5 206.0L632.0 203.3L632.5 200.3L633.0 197.1L633.5 193.8L633.9 191.3L634.0 190.6L634.5 186.6L635.0 181.6L635.5 176.4L636.0 171.4L636.5 167.2L636.9 164.9L637.0 164.5L637.5 162.3L638.0 160.2L638.5 158.4L639.0 157.0L639.5 156.0L640.0 155.7L640.5 156.3L641.0 158.0L641.5 160.3L642.0 162.8L642.5 166.8L643.0 173.0L643.5 180.0L644.0 186.5L644.5 191.4L645.0 193.3L645.5 192.4L646.0 190.1L646.5 187.0L647.0 183.9L647.5 181.4L648.0 180.1L648.1 180.1L648.5 180.8L649.0 183.1L649.5 186.6L650.0 190.3L650.5 193.7L651.0 196.1L651.1 196.4L651.5 197.4L652.0 198.6L652.5 199.6L653.0 200.5L653.5 201.1L654.0 201.5L654.2 201.5L654.5 201.3L655.0 200.4L655.5 199.1L656.0 197.5L656.5 196.2L657.0 195.5L657.2 195.4L657.5 195.6L658.0 196.5L658.5 197.9L659.0 199.7L659.5 201.4L660.0 202.9L660.3 203.5L660.5 203.8L661.0 204.7L661.5 205.5L662.0 206.2L662.5 207.0L663.0 207.6L663.5 208.2L664.0 208.7L664.5 209.1L665.0 209.4L665.4 209.6L665.5 209.6L666.0 209.8L666.5 209.9L667.0 210.1L667.5 210.2L668.0 210.4L668.5 210.5L669.0 210.6L669.5 210.7L670.0 210.8L670.5 210.9L671.0 211.0L671.5 211.1L672.0 211.2L672.5 211.2L673.0 211.3L673.5 211.4L674.0 211.4L674.5 211.5L675.0 211.5L675.5 211.5L676.0 211.6L676.5 211.6L677.0 211.6L677.5 211.6L677.6 211.6L678.0 211.6L678.5 211.4L679.0 211.1L679.5 210.8L680.0 210.3L680.5 209.8L681.0 209.3L681.5 208.7L681.6 208.6L682.0 208.0L682.5 207.1L683.0 206.0L683.5 204.8L684.0 203.5" stroke="#0000b0" stroke-width="1.10" fill="none" stroke-linejoin="round"/>
<path d="M399.5 211.6L400.0 211.7L400.5 211.8L401.0 211.8L401.5 211.9L402.0 212.0L402.5 212.1L403.0 212.2L403.5 212.3L404.0 212.4L404.5 212.5L405.0 212.5L405.5 212.6L406.0 212.7L406.5 212.8L407.0 212.9L407.5 213.0L408.0 213.1L408.5 213.2L409.0 213.3L409.5 213.4L410.0 213.5L410.5 213.6L411.0 213.7L411.5 213.8L412.0 214.0L412.5 214.1L413.0 214.3L413.5 214.4L414.0 214.6L414.5 214.7L415.0 214.9L415.5 215.0L416.0 215.2L416.5 215.3L417.0 215.4L417.5 215.6L418.0 215.7L418.5 215.8L419.0 215.9L419.5 216.0L420.0 216.1L420.5 216.1L421.0 216.2L421.5 216.2L421.9 216.2L422.0 216.2L422.5 216.2L423.0 216.1L423.5 215.9L424.0 215.7L424.5 215.5L425.0 215.2L425.3 215.0L425.5 214.8L426.0 214.2L426.5 213.2L427.0 212.0L427.5 210.3L428.0 208.0L428.5 205.5L428.8 204.0L429.0 202.9L429.5 200.3L430.0 197.6L430.5 194.7L431.0 191.7L431.5 188.6L432.0 185.4L432.3 183.4L432.5 182.1L433.0 178.6L433.5 175.0L434.0 171.2L434.5 167.4L435.0 163.3L435.5 159.2L436.0 154.9L436.5 150.5L436.9 146.8L437.0 145.9L437.5 140.6L438.0 134.8L438.5 129.5L438.6 128.5L439.0 125.0L439.5 121.0L439.6 120.3L440.0 117.6L440.2 116.4L440.5 114.7L441.0 112.1L441.5 109.6L441.8 107.9L442.0 106.8L442.5 103.8L443.0 100.7L443.5 97.6L444.0 94.5L444.2 93.3L444.3 92.6L444.5 91.4L445.0 88.1L445.5 84.8L446.0 81.5L446.5 78.4L446.8 76.6L447.0 75.6L447.5 73.0L448.0 70.6L448.5 68.5L449.0 66.4L449.5 64.5L450.0 62.7L450.5 60.9L451.0 59.2L451.5 57.7L452.0 56.2L452.5 54.6L453.0 53.1L453.5 51.6L454.0 50.0L454.5 48.4L455.0 46.9L455.1 46.5L455.5 45.2L456.0 43.5L456.5 42.0L457.0 41.0L457.4 40.5L457.5 40.5L458.0 41.0L458.5 42.1L459.0 43.8L459.3 45.0L459.5 45.8L459.7 46.5L460.0 47.6L460.5 49.3L461.0 51.0L461.5 52.9L462.0 55.2L462.5 57.8L463.0 60.4L463.5 63.1L464.0 65.8L464.5 68.6L464.8 70.2L465.0 71.2L465.2 72.2L465.5 73.6L466.0 75.8L466.5 77.9L467.0 80.0L467.5 82.0L468.0 83.9L468.5 85.8L469.0 87.7L469.5 89.6L470.0 91.6L470.5 93.6L471.0 95.5L471.5 97.4L472.0 99.1L472.5 100.7L473.0 102.3L473.5 103.9L474.0 105.5L474.5 107.1L475.0 108.7L475.5 110.3L476.0 112.0L476.5 113.8L476.8 114.9L477.0 115.7L477.5 117.7L478.0 119.9L478.5 122.2L479.0 124.7L479.3 126.2L479.5 127.3L480.0 130.3L480.5 133.2L481.0 135.4L481.5 136.5L482.0 136.6L482.5 136.3L483.0 135.8L483.5 135.2L483.8 134.7L484.0 134.3L484.5 133.1L485.0 132.5L485.5 132.6L486.0 132.9L486.5 133.0L487.0 131.9L487.5 130.1L488.0 129.2L488.5 134.1L489.0 144.0L489.5 151.5L489.6 152.1L490.0 153.4L490.5 154.7L491.0 155.5L491.2 155.6L491.5 155.7L492.0 155.4L492.5 154.9L493.0 154.5L493.1 154.5L493.5 155.8L494.0 159.9L494.5 164.5L494.9 167.1L495.0 167.5L495.5 169.4L496.0 171.1L496.5 172.6L497.0 173.8L497.5 174.9L498.0 175.8L498.5 176.7L499.0 177.6L499.5 178.5L500.0 179.5L500.5 180.6L501.0 181.8L501.5 183.0L502.0 184.2L502.5 185.4L503.0 186.6L503.5 187.8L504.0 188.9L504.1 189.1L504.5 189.9L505.0 190.8L505.5 191.7L506.0 192.6L506.5 193.4L507.0 194.3L507.5 195.1L508.0 196.0L508.3 196.6L508.5 197.0L509.0 198.0L509.5 199.0L510.0 200.0L510.5 201.1L511.0 202.1L511.5 203.1L512.0 204.1L512.4 204.9L512.5 205.1L513.0 206.1L513.5 207.0L514.0 208.0L514.5 208.8L515.0 209.5L515.5 210.2L516.0 210.8L516.5 211.1L516.6 211.1L517.0 211.1L517.5 211.0L518.0 210.8L518.5 210.7L519.0 210.5L519.5 210.3L520.0 210.0L520.5 209.6L521.0 209.2L521.5 208.7L522.0 208.3L522.5 207.8L523.0 207.4L523.1 207.4L523.5 207.1L524.0 206.7L524.5 206.3L525.0 205.8L525.5 205.4L526.0 205.0L526.5 204.7L527.0 204.3L527.5 204.0L528.0 203.6L528.5 203.3L529.0 203.1L529.5 202.8L530.0 202.6L530.5 202.5L531.0 202.4L531.2 202.4L531.5 202.4L532.0 202.5L532.5 202.5L533.0 202.6L533.5 202.7L534.0 202.8L534.5 202.9L535.0 203.0L535.5 203.1L536.0 203.3L536.5 203.4L537.0 203.5L537.5 203.7L538.0 203.8L538.5 204.0L539.0 204.1L539.3 204.1L539.5 204.2L540.0 204.2L540.5 204.3L541.0 204.4L541.5 204.4L542.0 204.5L542.5 204.6L543.0 204.6L543.5 204.7L544.0 204.7L544.5 204.7L545.0 204.8L545.5 204.8L546.0 204.9L546.5 205.0L547.0 205.0L547.5 205.1L548.0 205.2L548.5 205.3L549.0 205.4L549.5 205.5L550.0 205.6L550.5 205.7L550.8 205.8L551.0 205.9L551.5 206.4L552.0 207.2L552.5 208.1L553.0 209.0L553.5 209.9L554.0 210.5L554.3 210.8L554.5 210.9L555.0 211.2L555.5 211.6L556.0 211.8L556.5 212.1L557.0 212.3L557.5 212.5L558.0 212.6L558.5 212.7L558.9 212.7L559.0 212.7L559.5 212.6L560.0 212.3L560.5 211.9L561.0 211.5L561.5 211.1L562.0 210.9L562.4 210.8L562.5 210.8L563.0 210.9L563.5 211.1L564.0 211.3L564.5 211.5L564.7 211.5L565.0 211.4L565.5 211.2L566.0 210.8L566.5 210.5L567.0 210.4L567.5 210.5L568.0 210.6L568.5 210.8L569.0 211.0L569.5 211.3L570.0 211.6L570.5 211.8L571.0 211.9L571.5 212.0L571.6 212.0L572.0 212.0L572.5 212.0L573.0 211.9L573.5 211.8L574.0 211.7L574.5 211.6L575.0 211.5L575.5 211.4L576.0 211.2L576.5 211.1L577.0 210.9L577.5 210.7L578.0 210.6L578.5 210.4L579.0 210.2L579.5 210.1L580.0 209.9L580.5 209.7L581.0 209.5L581.5 209.2L582.0 209.0L582.5 208.7L583.0 208.4L583.5 208.0L584.0 207.6L584.3 207.4L584.5 207.2L585.0 206.7L585.5 206.2L586.0 205.4L586.5 204.6L587.0 203.6L587.5 202.4L587.8 201.6L588.0 200.9L588.5 198.1L588.7 196.8L589.0 194.6L589.5 189.7L590.0 181.2L590.3 175.1L590.5 171.1L591.0 161.2L591.2 157.9L591.5 153.8L592.0 148.8L592.2 147.7L592.5 147.1L592.9 146.9L593.0 147.1L593.5 148.8L593.6 149.4L594.0 155.1L594.4 163.2L594.5 165.0L595.0 175.2L595.3 180.6L595.5 183.5L596.0 189.5L596.3 191.9L596.5 192.9L597.0 194.9L597.3 195.5L597.5 195.6L598.0 195.0L598.5 193.8L599.0 192.3L599.3 191.3L599.5 190.3L600.0 186.2L600.4 183.0L600.5 182.4L601.0 179.4L601.3 178.7L601.5 178.9L602.0 181.2L602.3 182.9L602.5 184.2L603.0 188.2L603.4 191.3L603.5 192.0L604.0 196.0L604.5 199.9L604.8 201.7L605.0 202.6L605.5 204.6L606.0 206.1L606.4 206.5L606.5 206.5L607.0 206.0L607.5 205.1L608.0 204.3L608.5 203.9L609.0 204.6L609.5 206.2L610.0 207.9L610.5 208.6L611.0 208.5L611.5 208.3L612.0 208.1L612.5 207.9L613.0 207.7L613.5 207.6L614.0 207.8L614.5 208.3L615.0 209.0L615.5 209.7L616.0 210.3L616.5 210.6L616.6 210.6L617.0 210.6L617.5 210.4L618.0 210.1L618.5 209.8L619.0 209.4L619.5 209.0L620.0 208.6L620.5 208.2L621.0 207.8L621.5 207.5L622.0 207.3L622.5 207.2L622.7 207.2L623.0 207.2L623.5 207.2L624.0 207.3L624.5 207.4L625.0 207.5L625.5 207.7L626.0 207.8L626.5 208.0L627.0 208.2L627.5 208.5L627.8 208.6L628.0 208.7L628.5 209.3L629.0 210.0L629.5 210.5L629.8 210.6L630.0 210.5L630.5 209.7L631.0 208.2L631.5 206.0L632.0 203.3L632.5 200.3L633.0 197.1L633.5 193.8L633.9 191.3L634.0 190.6L634.5 186.6L635.0 181.6L635.5 176.4L636.0 171.4L636.5 167.2L636.9 164.9L637.0 164.5L637.5 162.3L638.0 160.2L638.5 158.4L639.0 157.0L639.5 156.0L640.0 155.7L640.5 156.3L641.0 158.0L641.5 160.3L642.0 162.8L642.5 166.8L643.0 173.0L643.5 180.0L644.0 186.5L644.5 191.4L645.0 193.3L645.5 192.4L646.0 190.1L646.5 187.0L647.0 183.9L647.5 181.4L648.0 180.1L648.1 180.1L648.5 180.8L649.0 183.1L649.5 186.6L650.0 190.3L650.5 193.7L651.0 196.1L651.1 196.4L651.5 197.4L652.0 198.6L652.5 199.6L653.0 200.5L653.5 201.1L654.0 201.5L654.2 201.5L654.5 201.3L655.0 200.4L655.5 199.1L656.0 197.5L656.5 196.2L657.0 195.5L657.2 195.4L657.5 195.6L658.0 196.5L658.5 197.9L659.0 199.7L659.5 201.4L660.0 202.9L660.3 203.5L660.5 203.8L661.0 204.7L661.5 205.5L662.0 206.2L662.5 207.0L663.0 207.6L663.5 208.2L664.0 208.7L664.5 209.1L665.0 209.4L665.4 209.6L665.5 209.6L666.0 209.8L666.5 209.9L667.0 210.1L667.5 210.2L668.0 210.4L668.5 210.5L669.0 210.6L669.5 210.7L670.0 210.8L670.5 210.9L671.0 211.0L671.5 211.1L672.0 211.2L672.5 211.2L673.0 211.3L673.5 211.4L674.0 211.4L674.5 211.5L675.0 211.5L675.5 211.5L676.0 211.6L676.5 211.6L677.0 211.6L677.5 211.6L677.6 211.6L678.0 211.6L678.5 211.4L679.0 211.1L679.5 210.8L680.0 210.3L680.5 209.8L681.0 209.3L681.5 208.7L681.6 208.6L682.0 208.0L682.5 207.1L683.0 206.0L683.5 204.8L684.0 203.5" stroke="#800000" stroke-width="1.10" fill="none" stroke-linejoin="round"/>
<path d="M399.5 211.6L400.0 211.7L400.5 211.8L401.0 211.8L401.5 211.9L402.0 212.0L402.5 212.1L403.0 212.2L403.5 212.2L404.0 212.1L404.5 212.1L405.0 212.0L405.5 211.7L406.0 211.5L406.5 211.7L407.0 211.9L407.5 212.1L408.0 212.2L408.5 212.3L409.0 212.4L409.5 212.5L410.0 212.6L410.5 212.6L411.0 212.2L411.5 211.1L412.0 211.1L412.5 212.4L413.0 213.2L413.5 213.5L414.0 213.7L414.5 213.7L415.0 213.4L415.5 213.2L416.0 213.7L416.5 214.3L417.0 214.5L417.5 214.7L418.0 214.8L418.5 214.9L419.0 214.6L419.5 213.4L420.0 212.9L420.5 214.1L421.0 215.1L421.5 215.3L421.9 215.2L422.0 215.2L422.5 214.7L423.0 214.2L423.5 214.4L424.0 214.7L424.5 214.7L425.0 214.6L425.3 214.5L425.5 214.4L426.0 213.9L426.5 213.0L427.0 212.0L427.5 210.3L428.0 208.0L428.5 205.5L428.8 203.9L429.0 202.9L429.5 200.3L430.0 197.6L430.5 194.7L431.0 191.7L431.5 188.6L432.0 185.4L432.3 183.4L432.5 182.0L433.0 178.6L433.5 175.0L434.0 171.2L434.5 167.3L435.0 163.3L435.5 159.2L436.0 154.9L436.5 150.4L436.9 146.8L437.0 145.8L437.5 140.4L438.0 134.6L438.5 129.2L438.6 128.2L439.0 124.6L439.5 120.6L439.6 119.9L440.0 117.2L440.2 116.0L440.5 114.2L441.0 111.7L441.5 109.1L441.8 107.4L442.0 106.3L442.5 103.3L443.0 100.2L443.5 97.0L444.0 93.9L444.2 92.6L444.3 92.0L444.5 90.7L445.0 87.4L445.5 83.9L446.0 80.6L446.5 77.4L446.8 75.7L447.0 74.6L447.5 71.9L448.0 69.6L448.5 67.4L449.0 65.3L449.5 63.3L450.0 61.5L450.5 59.7L451.0 58.0L451.5 56.4L452.0 54.8L452.5 53.3L453.0 51.7L453.5 50.1L454.0 48.5L454.5 46.9L455.0 45.3L455.1 45.0L455.5 43.6L456.0 41.8L456.5 40.3L457.0 39.2L457.4 38.7L457.5 38.7L458.0 39.2L458.5 40.4L459.0 42.1L459.3 43.3L459.5 44.2L459.7 45.0L460.0 46.1L460.5 47.8L461.0 49.5L461.5 51.5L462.0 53.9L462.5 56.6L463.0 59.3L463.5 62.1L464.0 65.0L464.5 67.9L464.8 69.5L465.0 70.6L465.2 71.6L465.5 73.0L466.0 75.3L466.5 77.5L467.0 79.6L467.5 81.7L468.0 83.6L468.5 85.6L469.0 87.5L469.5 89.4L470.0 91.4L470.5 93.4L471.0 95.3L471.5 97.2L472.0 98.9L472.5 100.5L473.0 102.1L473.5 103.8L474.0 105.4L474.5 107.0L475.0 108.6L475.5 110.2L476.0 111.9L476.5 113.7L476.8 114.8L477.0 115.6L477.5 117.6L478.0 119.8L478.5 122.1L479.0 124.6L479.3 126.1L479.5 127.2L480.0 130.1L480.5 133.0L481.0 135.2L481.5 136.3L482.0 136.4L482.5 136.0L483.0 135.5L483.5 134.9L483.8 134.3L484.0 133.8L484.5 132.6L485.0 131.9L485.5 132.1L486.0 132.4L486.5 132.5L487.0 131.4L487.5 129.5L488.0 128.5L488.5 133.5L489.0 143.6L489.5 151.2L489.6 151.8L490.0 153.1L490.5 154.4L491.0 155.1L491.2 155.2L491.5 155.3L492.0 155.0L492.5 154.4L493.0 154.0L493.1 154.0L493.5 155.4L494.0 159.5L494.5 164.3L494.9 166.9L495.0 167.3L495.5 169.3L496.0 170.9L496.5 172.4L497.0 173.7L497.5 174.7L498.0 175.7L498.5 176.6L499.0 177.5L499.5 178.4L500.0 179.5L500.5 180.6L501.0 181.7L501.5 183.0L502.0 184.2L502.5 185.4L503.0 186.6L503.5 187.8L504.0 188.9L504.1 189.1L504.5 189.9L505.0 190.8L505.5 191.7L506.0 192.6L506.5 193.4L507.0 194.3L507.5 195.1L508.0 196.0L508.3 196.6L508.5 197.0L509.0 198.0L509.5 199.0L510.0 200.0L510.5 201.1L511.0 202.1L511.5 203.1L512.0 204.1L512.4 204.9L512.5 205.1L513.0 206.1L513.5 207.0L514.0 208.0L514.5 208.8L515.0 209.5L515.5 210.2L516.0 210.8L516.5 211.1L516.6 211.1L517.0 211.1L517.5 211.0L518.0 210.8L518.5 210.7L519.0 210.5L519.5 210.3L520.0 210.0L520.5 209.6L521.0 209.2L521.5 208.8L522.0 208.3L522.5 207.9L523.0 207.5L523.1 207.4L523.5 207.1L524.0 206.7L524.5 206.3L525.0 205.9L525.5 205.5L526.0 205.1L526.5 204.7L527.0 204.4L527.5 204.1L528.0 203.7L528.5 203.4L529.0 203.2L529.5 202.9L530.0 202.7L530.5 202.6L531.0 202.5L531.2 202.5L531.5 202.5L532.0 202.6L532.5 202.6L533.0 202.7L533.5 202.8L534.0 202.9L534.5 203.0L535.0 203.1L535.5 203.2L536.0 203.4L536.5 203.5L537.0 203.6L537.5 203.8L538.0 203.9L538.5 204.0L539.0 204.2L539.3 204.2L539.5 204.2L540.0 204.3L540.5 204.4L541.0 204.5L541.5 204.5L542.0 204.6L542.5 204.6L543.0 204.7L543.5 204.7L544.0 204.8L544.5 204.8L545.0 204.9L545.5 204.9L546.0 205.0L546.5 205.0L547.0 205.1L547.5 205.1L548.0 205.2L548.5 205.3L549.0 205.4L549.5 205.5L550.0 205.6L550.5 205.8L550.8 205.9L551.0 205.9L551.5 206.4L552.0 207.2L552.5 208.1L553.0 209.0L553.5 209.9L554.0 210.5L554.3 210.8L554.5 210.9L555.0 211.2L555.5 211.5L556.0 211.8L556.5 212.1L557.0 212.3L557.5 212.5L558.0 212.6L558.5 212.7L558.9 212.7L559.0 212.7L559.5 212.6L560.0 212.3L560.5 211.9L561.0 211.5L561.5 211.1L562.0 210.9L562.4 210.8L562.5 210.8L563.0 210.9L563.5 211.1L564.0 211.3L564.5 211.5L564.7 211.5L565.0 211.4L565.5 211.2L566.0 210.8L566.5 210.5L567.0 210.4L567.5 210.5L568.0 210.6L568.5 210.8L569.0 211.0L569.5 211.3L570.0 211.6L570.5 211.8L571.0 211.9L571.5 212.0L571.6 212.0L572.0 212.0L572.5 212.0L573.0 211.9L573.5 211.8L574.0 211.7L574.5 211.6L575.0 211.5L575.5 211.4L576.0 211.2L576.5 211.1L577.0 210.9L577.5 210.7L578.0 210.6L578.5 210.4L579.0 210.2L579.5 210.1L580.0 209.9L580.5 209.7L581.0 209.5L581.5 209.2L582.0 209.0L582.5 208.7L583.0 208.4L583.5 208.0L584.0 207.6L584.3 207.4L584.5 207.2L585.0 206.7L585.5 206.2L586.0 205.5L586.5 204.6L587.0 203.6L587.5 202.4L587.8 201.6L588.0 200.9L588.5 198.1L588.7 196.7L589.0 194.5L589.5 189.5L590.0 180.9L590.3 174.7L590.5 170.7L591.0 160.6L591.2 157.3L591.5 153.1L592.0 147.8L592.2 146.8L592.5 146.1L592.9 146.0L593.0 146.1L593.5 147.9L593.6 148.5L594.0 154.2L594.4 162.5L594.5 164.4L595.0 174.7L595.3 180.2L595.5 183.1L596.0 189.3L596.3 191.7L596.5 192.8L597.0 194.8L597.3 195.4L597.5 195.4L598.0 194.9L598.5 193.7L599.0 192.1L599.3 191.1L599.5 190.1L600.0 186.0L600.4 182.7L600.5 182.1L601.0 179.0L601.3 178.3L601.5 178.6L602.0 180.8L602.3 182.6L602.5 184.0L603.0 188.0L603.4 191.1L603.5 191.8L604.0 195.9L604.5 199.8L604.8 201.6L605.0 202.6L605.5 204.6L606.0 206.1L606.4 206.5L606.5 206.5L607.0 206.0L607.5 205.1L608.0 204.3L608.5 203.9L609.0 204.6L609.5 206.2L610.0 207.9L610.5 208.6L611.0 208.5L611.5 208.3L612.0 208.1L612.5 207.9L613.0 207.7L613.5 207.6L614.0 207.8L614.5 208.3L615.0 209.0L615.5 209.7L616.0 210.3L616.5 210.6L616.6 210.6L617.0 210.6L617.5 210.4L618.0 210.1L618.5 209.8L619.0 209.4L619.5 209.0L620.0 208.6L620.5 208.2L621.0 207.8L621.5 207.5L622.0 207.3L622.5 207.2L622.7 207.2L623.0 207.2L623.5 207.2L624.0 207.3L624.5 207.4L625.0 207.5L625.5 207.7L626.0 207.8L626.5 208.0L627.0 208.2L627.5 208.5L627.8 208.6L628.0 208.7L628.5 209.3L629.0 210.0L629.5 210.5L629.8 210.6L630.0 210.5L630.5 209.7L631.0 208.2L631.5 206.0L632.0 203.3L632.5 200.3L633.0 197.1L633.5 193.8L633.9 191.3L634.0 190.6L634.5 186.6L635.0 181.6L635.5 176.4L636.0 171.4L636.5 167.2L636.9 164.9L637.0 164.5L637.5 162.3L638.0 160.2L638.5 158.4L639.0 157.0L639.5 156.0L640.0 155.7L640.5 156.3L641.0 158.0L641.5 160.3L642.0 162.8L642.5 166.8L643.0 173.0L643.5 180.0L644.0 186.5L644.5 191.4L645.0 193.3L645.5 192.4L646.0 190.1L646.5 187.0L647.0 183.9L647.5 181.4L648.0 180.1L648.1 180.1L648.5 180.8L649.0 183.1L649.5 186.6L650.0 190.3L650.5 193.7L651.0 196.1L651.1 196.4L651.5 197.4L652.0 198.6L652.5 199.6L653.0 200.5L653.5 201.1L654.0 201.5L654.2 201.5L654.5 201.3L655.0 200.4L655.5 199.1L656.0 197.5L656.5 196.2L657.0 195.5L657.2 195.4L657.5 195.6L658.0 196.5L658.5 197.9L659.0 199.7L659.5 201.4L660.0 202.9L660.3 203.5L660.5 203.8L661.0 204.7L661.5 205.5L662.0 206.2L662.5 207.0L663.0 207.6L663.5 208.2L664.0 208.7L664.5 209.1L665.0 209.4L665.4 209.6L665.5 209.6L666.0 209.8L666.5 209.9L667.0 210.1L667.5 210.2L668.0 210.4L668.5 210.5L669.0 210.6L669.5 210.7L670.0 210.8L670.5 210.9L671.0 211.0L671.5 211.1L672.0 211.2L672.5 211.2L673.0 211.3L673.5 211.4L674.0 211.4L674.5 211.5L675.0 211.5L675.5 211.5L676.0 211.6L676.5 211.6L677.0 211.6L677.5 211.6L677.6 211.6L678.0 211.6L678.5 211.4L679.0 211.1L679.5 210.8L680.0 210.3L680.5 209.8L681.0 209.3L681.5 208.7L681.6 208.6L682.0 208.0L682.5 207.1L683.0 206.0L683.5 204.8L684.0 203.5" stroke="#008000" stroke-width="1.10" fill="none" stroke-linejoin="round"/>
<path d="M399.5 211.6L400.0 211.7L400.5 211.8L401.0 211.8L401.5 211.9L402.0 212.0L402.5 212.1L403.0 212.2L403.5 212.3L404.0 212.4L404.5 212.5L405.0 212.5L405.5 212.6L406.0 212.7L406.5 212.8L407.0 212.9L407.5 213.0L408.0 213.1L408.5 213.2L409.0 213.3L409.5 213.4L410.0 213.5L410.5 213.6L411.0 213.7L411.5 213.8L412.0 214.0L412.5 214.1L413.0 214.3L413.5 214.4L414.0 214.6L414.5 214.7L415.0 214.9L415.5 215.0L416.0 215.2L416.5 215.3L417.0 215.4L417.5 215.6L418.0 215.7L418.5 215.8L419.0 215.9L419.5 216.0L420.0 216.1L420.5 216.1L421.0 216.2L421.5 216.2L421.9 216.2L422.0 216.2L422.5 216.2L423.0 216.1L423.5 215.9L424.0 215.7L424.5 215.5L425.0 215.2L425.3 215.0L425.5 214.8L426.0 214.2L426.5 213.2L427.0 212.0L427.5 210.3L428.0 207.9L428.5 205.3L428.8 203.7L429.0 202.7L429.5 200.0L430.0 197.2L430.5 194.4L431.0 191.4L431.5 188.3L432.0 185.0L432.3 183.0L432.5 181.6L433.0 178.2L433.5 174.7L434.0 171.0L434.5 167.2L435.0 163.2L435.5 159.0L436.0 154.6L436.5 149.9L436.9 146.0L437.0 145.0L437.5 138.8L438.0 132.1L438.5 126.0L438.6 125.0L439.0 121.2L439.5 116.9L439.6 116.0L440.0 113.0L440.2 111.6L440.5 109.7L441.0 106.8L441.5 104.1L441.8 102.3L442.0 101.0L442.5 97.7L443.0 94.3L443.5 90.8L444.0 87.2L444.2 85.7L444.3 85.0L444.5 83.5L445.0 79.5L445.5 75.3L446.0 71.2L446.5 67.4L446.8 65.4L447.0 64.2L447.5 61.3L448.0 58.5L448.5 56.0L449.0 53.6L449.5 51.3L450.0 49.0L450.5 46.8L451.0 44.8L451.5 42.8L452.0 40.9L452.5 39.0L453.0 37.0L453.5 35.0L454.0 33.0L454.5 31.0L455.0 28.9L455.1 28.5L455.5 26.6L456.0 24.0L456.5 22.0L457.0 20.5L457.4 19.7L457.5 19.7L458.0 20.5L458.5 22.0L459.0 24.4L459.3 26.2L459.5 27.4L459.7 28.5L460.0 29.9L460.5 32.2L461.0 34.4L461.5 37.0L462.0 40.3L462.5 44.1L463.0 48.0L463.5 52.0L464.0 56.2L464.5 60.3L464.8 62.6L465.0 64.1L465.2 65.4L465.5 67.3L466.0 70.2L466.5 73.0L467.0 75.6L467.5 78.1L468.0 80.5L468.5 82.8L469.0 85.0L469.5 87.2L470.0 89.2L470.5 91.2L471.0 93.2L471.5 95.1L472.0 96.9L472.5 98.7L473.0 100.5L473.5 102.3L474.0 104.0L474.5 105.7L475.0 107.3L475.5 108.9L476.0 110.6L476.5 112.4L476.8 113.5L477.0 114.3L477.5 116.5L478.0 118.8L478.5 121.2L479.0 123.6L479.3 125.0L479.5 126.0L480.0 128.8L480.5 131.6L481.0 133.7L481.5 134.6L482.0 134.3L482.5 133.4L483.0 132.2L483.5 131.0L483.8 130.1L484.0 129.3L484.5 127.4L485.0 126.5L485.5 126.9L486.0 127.6L486.5 128.0L487.0 126.4L487.5 123.5L488.0 121.9L488.5 127.8L489.0 139.5L489.5 148.0L489.6 148.5L490.0 149.4L490.5 150.3L491.0 150.8L491.2 150.9L491.5 151.0L492.0 150.5L492.5 149.6L493.0 149.0L493.1 149.0L493.5 150.7L494.0 156.0L494.5 161.9L494.9 165.0L495.0 165.5L495.5 167.5L496.0 169.3L496.5 170.8L497.0 172.2L497.5 173.4L498.0 174.5L498.5 175.6L499.0 176.6L499.5 177.8L500.0 179.0L500.5 180.3L501.0 181.6L501.5 182.9L502.0 184.2L502.5 185.4L503.0 186.6L503.5 187.8L504.0 188.9L504.1 189.1L504.5 189.9L505.0 190.8L505.5 191.7L506.0 192.6L506.5 193.4L507.0 194.3L507.5 195.1L508.0 196.0L508.3 196.6L508.5 197.0L509.0 198.0L509.5 199.0L510.0 200.0L510.5 201.1L511.0 202.1L511.5 203.1L512.0 204.1L512.4 204.9L512.5 205.1L513.0 206.1L513.5 207.0L514.0 208.0L514.5 208.8L515.0 209.5L515.5 210.2L516.0 210.8L516.5 211.1L516.6 211.1L517.0 211.1L517.5 211.0L518.0 210.8L518.5 210.7L519.0 210.5L519.5 210.3L520.0 210.0L520.5 209.7L521.0 209.4L521.5 209.1L522.0 208.7L522.5 208.4L523.0 208.1L523.1 208.0L523.5 207.8L524.0 207.4L524.5 207.1L525.0 206.7L525.5 206.4L526.0 206.0L526.5 205.6L527.0 205.3L527.5 204.9L528.0 204.6L528.5 204.3L529.0 204.1L529.5 203.8L530.0 203.7L530.5 203.6L531.0 203.5L531.2 203.5L531.5 203.5L532.0 203.5L532.5 203.6L533.0 203.7L533.5 203.8L534.0 203.9L534.5 204.0L535.0 204.1L535.5 204.2L536.0 204.4L536.5 204.5L537.0 204.6L537.5 204.8L538.0 204.9L538.5 205.0L539.0 205.1L539.3 205.1L539.5 205.1L540.0 205.2L540.5 205.2L541.0 205.3L541.5 205.3L542.0 205.4L542.5 205.4L543.0 205.4L543.5 205.5L544.0 205.5L544.5 205.5L545.0 205.5L545.5 205.6L546.0 205.6L546.5 205.6L547.0 205.7L547.5 205.7L548.0 205.8L548.5 205.8L549.0 205.9L549.5 206.0L550.0 206.0L550.5 206.1L550.8 206.2L551.0 206.3L551.5 206.7L552.0 207.4L552.5 208.2L553.0 209.1L553.5 209.9L554.0 210.5L554.3 210.8L554.5 210.9L555.0 211.2L555.5 211.5L556.0 211.8L556.5 212.1L557.0 212.3L557.5 212.5L558.0 212.6L558.5 212.7L558.9 212.7L559.0 212.7L559.5 212.6L560.0 212.3L560.5 211.9L561.0 211.5L561.5 211.1L562.0 210.9L562.4 210.8L562.5 210.8L563.0 210.9L563.5 211.1L564.0 211.3L564.5 211.5L564.7 211.5L565.0 211.4L565.5 211.2L566.0 210.8L566.5 210.5L567.0 210.4L567.5 210.5L568.0 210.6L568.5 210.8L569.0 211.0L569.5 211.3L570.0 211.6L570.5 211.8L571.0 211.9L571.5 212.0L571.6 212.0L572.0 212.0L572.5 212.0L573.0 211.9L573.5 211.8L574.0 211.7L574.5 211.6L575.0 211.5L575.5 211.4L576.0 211.2L576.5 211.1L577.0 210.9L577.5 210.7L578.0 210.6L578.5 210.4L579.0 210.2L579.5 210.1L580.0 209.9L580.5 209.7L581.0 209.5L581.5 209.2L582.0 209.0L582.5 208.7L583.0 208.4L583.5 208.0L584.0 207.6L584.3 207.4L584.5 207.2L585.0 206.8L585.5 206.2L586.0 205.6L586.5 204.7L587.0 203.7L587.5 202.5L587.8 201.6L588.0 200.7L588.5 196.9L588.7 195.0L589.0 191.9L589.5 185.0L590.0 173.2L590.3 165.0L590.5 159.4L591.0 144.8L591.2 140.0L591.5 133.6L592.0 125.1L592.2 123.5L592.5 122.4L592.9 121.8L593.0 121.9L593.5 124.3L593.6 125.0L594.0 133.1L594.4 145.0L594.5 147.7L595.0 162.4L595.3 170.0L595.5 174.3L596.0 183.7L596.3 187.0L596.5 188.3L597.0 190.9L597.3 191.8L597.5 192.0L598.0 191.5L598.5 190.3L599.0 188.5L599.3 187.2L599.5 185.8L600.0 179.7L600.4 175.0L600.5 174.1L601.0 169.6L601.3 168.5L601.5 168.9L602.0 172.4L602.3 175.0L602.5 176.9L603.0 182.7L603.4 187.2L603.5 188.2L604.0 193.4L604.5 197.9L604.8 200.0L605.0 201.1L605.5 203.9L606.0 205.9L606.4 206.5L606.5 206.5L607.0 206.0L607.5 205.1L608.0 204.3L608.5 203.9L609.0 204.6L609.5 206.2L610.0 207.9L610.5 208.6L611.0 208.5L611.5 208.3L612.0 208.1L612.5 207.9L613.0 207.7L613.5 207.6L614.0 207.8L614.5 208.3L615.0 209.0L615.5 209.7L616.0 210.3L616.5 210.6L616.6 210.6L617.0 210.6L617.5 210.4L618.0 210.1L618.5 209.8L619.0 209.4L619.5 209.0L620.0 208.6L620.5 208.2L621.0 207.8L621.5 207.5L622.0 207.3L622.5 207.2L622.7 207.2L623.0 207.2L623.5 207.2L624.0 207.3L624.5 207.4L625.0 207.5L625.5 207.7L626.0 207.8L626.5 208.0L627.0 208.2L627.5 208.5L627.8 208.6L628.0 208.7L628.5 209.3L629.0 210.0L629.5 210.5L629.8 210.6L630.0 210.5L630.5 209.7L631.0 208.2L631.5 206.0L632.0 203.3L632.5 200.3L633.0 197.1L633.5 193.8L633.9 191.3L634.0 190.6L634.5 186.6L635.0 181.6L635.5 176.4L636.0 171.4L636.5 167.2L636.9 164.9L637.0 164.5L637.5 162.3L638.0 160.2L638.5 158.4L639.0 157.0L639.5 156.0L640.0 155.7L640.5 156.3L641.0 158.0L641.5 160.3L642.0 162.8L642.5 166.8L643.0 173.0L643.5 180.0L644.0 186.5L644.5 191.4L645.0 193.3L645.5 192.4L646.0 190.1L646.5 187.0L647.0 183.9L647.5 181.4L648.0 180.1L648.1 180.1L648.5 180.8L649.0 183.1L649.5 186.6L650.0 190.3L650.5 193.7L651.0 196.1L651.1 196.4L651.5 197.4L652.0 198.6L652.5 199.6L653.0 200.5L653.5 201.1L654.0 201.5L654.2 201.5L654.5 201.3L655.0 200.4L655.5 199.1L656.0 197.5L656.5 196.2L657.0 195.5L657.2 195.4L657.5 195.6L658.0 196.5L658.5 197.9L659.0 199.7L659.5 201.4L660.0 202.9L660.3 203.5L660.5 203.8L661.0 204.7L661.5 205.5L662.0 206.2L662.5 207.0L663.0 207.6L663.5 208.2L664.0 208.7L664.5 209.1L665.0 209.4L665.4 209.6L665.5 209.6L666.0 209.8L666.5 209.9L667.0 210.1L667.5 210.2L668.0 210.4L668.5 210.5L669.0 210.6L669.5 210.7L670.0 210.8L670.5 210.9L671.0 211.0L671.5 211.1L672.0 211.2L672.5 211.2L673.0 211.3L673.5 211.4L674.0 211.4L674.5 211.5L675.0 211.5L675.5 211.5L676.0 211.6L676.5 211.6L677.0 211.6L677.5 211.6L677.6 211.6L678.0 211.6L678.5 211.4L679.0 211.1L679.5 210.8L680.0 210.3L680.5 209.8L681.0 209.3L681.5 208.7L681.6 208.6L682.0 208.0L682.5 207.1L683.0 206.0L683.5 204.8L684.0 203.5" stroke="#84109c" stroke-width="1.10" fill="none" stroke-linejoin="round"/>
<path d="M399.5 211.6L400.0 211.7L400.5 211.8L401.0 211.8L401.5 211.9L402.0 212.0L402.5 212.1L403.0 212.2L403.5 212.3L404.0 212.4L404.5 212.5L405.0 212.5L405.5 212.6L406.0 212.7L406.5 212.8L407.0 212.9L407.5 213.0L408.0 213.1L408.5 213.2L409.0 213.3L409.5 213.4L410.0 213.5L410.5 213.6L411.0 213.7L411.5 213.8L412.0 214.0L412.5 214.1L413.0 214.3L413.5 214.4L414.0 214.6L414.5 214.7L415.0 214.9L415.5 215.0L416.0 215.2L416.5 215.3L417.0 215.4L417.5 215.6L418.0 215.7L418.5 215.8L419.0 215.9L419.5 216.0L420.0 216.1L420.5 216.1L421.0 216.2L421.5 216.2L421.9 216.2L422.0 216.2L422.5 216.2L423.0 216.1L423.5 215.9L424.0 215.7L424.5 215.5L425.0 215.2L425.3 215.0L425.5 214.8L426.0 214.2L426.5 213.2L427.0 212.0L427.5 210.3L428.0 208.0L428.5 205.4L428.8 203.8L429.0 202.8L429.5 200.2L430.0 197.4L430.5 194.6L431.0 191.6L431.5 188.5L432.0 185.2L432.3 183.2L432.5 181.9L433.0 178.4L433.5 174.8L434.0 171.1L434.5 167.3L435.0 163.3L435.5 159.1L436.0 154.8L436.5 150.2L436.9 146.5L437.0 145.5L437.5 139.8L438.0 133.6L438.5 127.9L438.6 127.0L439.0 123.3L439.5 119.2L439.6 118.4L440.0 115.6L440.2 114.3L440.5 112.5L441.0 109.8L441.5 107.1L441.8 105.4L442.0 104.2L442.5 101.1L443.0 97.9L443.5 94.6L444.0 91.3L444.2 89.9L444.3 89.3L444.5 87.9L445.0 84.3L445.5 80.6L446.0 76.9L446.5 73.5L446.8 71.7L447.0 70.5L447.5 67.8L448.0 65.3L448.5 62.9L449.0 60.7L449.5 58.6L450.0 56.6L450.5 54.7L451.0 52.8L451.5 51.1L452.0 49.4L452.5 47.7L453.0 46.0L453.5 44.2L454.0 42.5L454.5 40.7L455.0 38.9L455.1 38.5L455.5 36.9L456.0 34.8L456.5 33.2L457.0 31.9L457.4 31.3L457.5 31.3L458.0 31.9L458.5 33.2L459.0 35.2L459.3 36.7L459.5 37.6L459.7 38.5L460.0 39.8L460.5 41.7L461.0 43.6L461.5 45.9L462.0 48.6L462.5 51.7L463.0 54.9L463.5 58.1L464.0 61.6L464.5 64.9L464.8 66.8L465.0 68.0L465.2 69.2L465.5 70.8L466.0 73.3L466.5 75.8L467.0 78.1L467.5 80.3L468.0 82.4L468.5 84.5L469.0 86.5L469.5 88.5L470.0 90.5L470.5 92.5L471.0 94.5L471.5 96.3L472.0 98.1L472.5 99.8L473.0 101.5L473.5 103.2L474.0 104.9L474.5 106.5L475.0 108.1L475.5 109.7L476.0 111.4L476.5 113.2L476.8 114.3L477.0 115.1L477.5 117.2L478.0 119.4L478.5 121.8L479.0 124.2L479.3 125.7L479.5 126.7L480.0 129.6L480.5 132.4L481.0 134.7L481.5 135.6L482.0 135.5L482.5 135.0L483.0 134.2L483.5 133.3L483.8 132.7L484.0 132.1L484.5 130.6L485.0 129.8L485.5 130.0L486.0 130.5L486.5 130.8L487.0 129.5L487.5 127.2L488.0 125.9L488.5 131.3L489.0 142.0L489.5 150.0L489.6 150.5L490.0 151.6L490.5 152.8L491.0 153.4L491.2 153.5L491.5 153.6L492.0 153.2L492.5 152.6L493.0 152.1L493.1 152.1L493.5 153.5L494.0 158.2L494.5 163.4L494.9 166.2L495.0 166.6L495.5 168.6L496.0 170.3L496.5 171.8L497.0 173.1L497.5 174.2L498.0 175.2L498.5 176.2L499.0 177.2L499.5 178.2L500.0 179.3L500.5 180.5L501.0 181.7L501.5 182.9L502.0 184.2L502.5 185.4L503.0 186.6L503.5 187.8L504.0 188.9L504.1 189.1L504.5 189.9L505.0 190.8L505.5 191.7L506.0 192.6L506.5 193.4L507.0 194.3L507.5 195.1L508.0 196.0L508.3 196.6L508.5 197.0L509.0 198.0L509.5 199.0L510.0 200.0L510.5 201.1L511.0 202.1L511.5 203.1L512.0 204.1L512.4 204.9L512.5 205.1L513.0 206.1L513.5 207.0L514.0 208.0L514.5 208.8L515.0 209.5L515.5 210.2L516.0 210.8L516.5 211.1L516.6 211.1L517.0 211.1L517.5 211.0L518.0 210.8L518.5 210.7L519.0 210.5L519.5 210.3L520.0 210.0L520.5 209.7L521.0 209.3L521.5 208.9L522.0 208.5L522.5 208.1L523.0 207.7L523.1 207.6L523.5 207.4L524.0 207.0L524.5 206.6L525.0 206.2L525.5 205.8L526.0 205.5L526.5 205.1L527.0 204.7L527.5 204.4L528.0 204.1L528.5 203.8L529.0 203.5L529.5 203.3L530.0 203.1L530.5 203.0L531.0 202.9L531.2 202.9L531.5 202.9L532.0 202.9L532.5 203.0L533.0 203.1L533.5 203.2L534.0 203.3L534.5 203.4L535.0 203.5L535.5 203.6L536.0 203.7L536.5 203.9L537.0 204.0L537.5 204.2L538.0 204.3L538.5 204.4L539.0 204.5L539.3 204.6L539.5 204.6L540.0 204.7L540.5 204.7L541.0 204.8L541.5 204.8L542.0 204.9L542.5 204.9L543.0 205.0L543.5 205.0L544.0 205.0L544.5 205.1L545.0 205.1L545.5 205.2L546.0 205.2L546.5 205.3L547.0 205.3L547.5 205.4L548.0 205.4L548.5 205.5L549.0 205.6L549.5 205.7L550.0 205.8L550.5 205.9L550.8 206.0L551.0 206.1L551.5 206.5L552.0 207.3L552.5 208.1L553.0 209.0L553.5 209.9L554.0 210.5L554.3 210.8L554.5 210.9L555.0 211.2L555.5 211.5L556.0 211.8L556.5 212.1L557.0 212.3L557.5 212.5L558.0 212.6L558.5 212.7L558.9 212.7L559.0 212.7L559.5 212.6L560.0 212.3L560.5 211.9L561.0 211.5L561.5 211.1L562.0 210.9L562.4 210.8L562.5 210.8L563.0 210.9L563.5 211.1L564.0 211.3L564.5 211.5L564.7 211.5L565.0 211.4L565.5 211.2L566.0 210.8L566.5 210.5L567.0 210.4L567.5 210.5L568.0 210.6L568.5 210.8L569.0 211.0L569.5 211.3L570.0 211.6L570.5 211.8L571.0 211.9L571.5 212.0L571.6 212.0L572.0 212.0L572.5 212.0L573.0 211.9L573.5 211.8L574.0 211.7L574.5 211.6L575.0 211.5L575.5 211.4L576.0 211.2L576.5 211.1L577.0 210.9L577.5 210.7L578.0 210.6L578.5 210.4L579.0 210.2L579.5 210.1L580.0 209.9L580.5 209.7L581.0 209.5L581.5 209.2L582.0 209.0L582.5 208.7L583.0 208.4L583.5 208.0L584.0 207.6L584.3 207.4L584.5 207.2L585.0 206.8L585.5 206.2L586.0 205.6L586.5 204.7L587.0 203.7L587.5 202.5L587.8 201.6L588.0 200.7L588.5 196.9L588.7 195.1L589.0 192.1L589.5 185.3L590.0 173.7L590.3 165.6L590.5 160.1L591.0 145.7L591.2 141.0L591.5 134.8L592.0 126.4L592.2 124.9L592.5 123.9L592.9 123.2L593.0 123.3L593.5 125.7L593.6 126.4L594.0 134.4L594.4 146.0L594.5 148.7L595.0 163.2L595.3 170.6L595.5 174.8L596.0 184.0L596.3 187.3L596.5 188.6L597.0 191.2L597.3 192.0L597.5 192.2L598.0 191.7L598.5 190.5L599.0 188.7L599.3 187.4L599.5 186.0L600.0 180.0L600.4 175.5L600.5 174.6L601.0 170.2L601.3 169.1L601.5 169.5L602.0 172.9L602.3 175.5L602.5 177.3L603.0 183.0L603.4 187.4L603.5 188.4L604.0 193.5L604.5 198.1L604.8 200.1L605.0 201.2L605.5 203.9L606.0 205.9L606.4 206.5L606.5 206.5L607.0 206.0L607.5 205.1L608.0 204.3L608.5 203.9L609.0 204.6L609.5 206.2L610.0 207.9L610.5 208.6L611.0 208.5L611.5 208.3L612.0 208.1L612.5 207.9L613.0 207.7L613.5 207.6L614.0 207.8L614.5 208.3L615.0 209.0L615.5 209.7L616.0 210.3L616.5 210.6L616.6 210.6L617.0 210.6L617.5 210.4L618.0 210.1L618.5 209.8L619.0 209.4L619.5 209.0L620.0 208.6L620.5 208.2L621.0 207.8L621.5 207.5L622.0 207.3L622.5 207.2L622.7 207.2L623.0 207.2L623.5 207.2L624.0 207.3L624.5 207.4L625.0 207.5L625.5 207.7L626.0 207.8L626.5 208.0L627.0 208.2L627.5 208.5L627.8 208.6L628.0 208.7L628.5 209.3L629.0 210.0L629.5 210.5L629.8 210.6L630.0 210.5L630.5 209.7L631.0 208.2L631.5 206.0L632.0 203.3L632.5 200.3L633.0 197.1L633.5 193.8L633.9 191.3L634.0 190.6L634.5 186.6L635.0 181.6L635.5 176.4L636.0 171.4L636.5 167.2L636.9 164.9L637.0 164.5L637.5 162.3L638.0 160.2L638.5 158.4L639.0 157.0L639.5 156.0L640.0 155.7L640.5 156.3L641.0 158.0L641.5 160.3L642.0 162.8L642.5 166.8L643.0 173.0L643.5 180.0L644.0 186.5L644.5 191.4L645.0 193.3L645.5 192.4L646.0 190.1L646.5 187.0L647.0 183.9L647.5 181.4L648.0 180.1L648.1 180.1L648.5 180.8L649.0 183.1L649.5 186.6L650.0 190.3L650.5 193.7L651.0 196.1L651.1 196.4L651.5 197.4L652.0 198.6L652.5 199.6L653.0 200.5L653.5 201.1L654.0 201.5L654.2 201.5L654.5 201.3L655.0 200.4L655.5 199.1L656.0 197.5L656.5 196.2L657.0 195.5L657.2 195.4L657.5 195.6L658.0 196.5L658.5 197.9L659.0 199.7L659.5 201.4L660.0 202.9L660.3 203.5L660.5 203.8L661.0 204.7L661.5 205.5L662.0 206.2L662.5 207.0L663.0 207.6L663.5 208.2L664.0 208.7L664.5 209.1L665.0 209.4L665.4 209.6L665.5 209.6L666.0 209.8L666.5 209.9L667.0 210.1L667.5 210.2L668.0 210.4L668.5 210.5L669.0 210.6L669.5 210.7L670.0 210.8L670.5 210.9L671.0 211.0L671.5 211.1L672.0 211.2L672.5 211.2L673.0 211.3L673.5 211.4L674.0 211.4L674.5 211.5L675.0 211.5L675.5 211.5L676.0 211.6L676.5 211.6L677.0 211.6L677.5 211.6L677.6 211.6L678.0 211.6L678.5 211.4L679.0 211.1L679.5 210.8L680.0 210.3L680.5 209.8L681.0 209.3L681.5 208.7L681.6 208.6L682.0 208.0L682.5 207.1L683.0 206.0L683.5 204.8L684.0 203.5" stroke="#ff0000" stroke-width="1.35" fill="none" stroke-linejoin="round"/>
<path d="M45.50 293.00 V501.40" stroke="#2b2b2b" stroke-width="1.1" fill="none"/>
<path d="M45.50 501.40 H330.00" stroke="#2b2b2b" stroke-width="1.1" fill="none"/>
<text x="37.90" y="485.90" font-size="10" text-anchor="end" font-weight="normal" >0.0</text>
<text x="37.90" y="438.58" font-size="10" text-anchor="end" font-weight="normal" >0.5</text>
<text x="37.90" y="391.25" font-size="10" text-anchor="end" font-weight="normal" >1.0</text>
<text x="37.90" y="343.93" font-size="10" text-anchor="end" font-weight="normal" >1.5</text>
<text x="37.90" y="296.60" font-size="10" text-anchor="end" font-weight="normal" >2.0</text>
<text x="43.60" y="521.30" font-size="10" text-anchor="middle" font-weight="normal" >4000</text>
<text x="84.70" y="521.30" font-size="10" text-anchor="middle" font-weight="normal" >3500</text>
<text x="125.80" y="521.30" font-size="10" text-anchor="middle" font-weight="normal" >3000</text>
<text x="166.90" y="521.30" font-size="10" text-anchor="middle" font-weight="normal" >2500</text>
<text x="208.00" y="521.30" font-size="10" text-anchor="middle" font-weight="normal" >2000</text>
<text x="249.10" y="521.30" font-size="10" text-anchor="middle" font-weight="normal" >1500</text>
<text x="290.20" y="521.30" font-size="10" text-anchor="middle" font-weight="normal" >1000</text>
<path d="M45.50 482.30 H41.20M45.50 434.98 H41.20M45.50 387.65 H41.20M45.50 340.32 H41.20M45.50 293.00 H41.20M45.50 458.64 H43.30M45.50 411.31 H43.30M45.50 363.99 H43.30M45.50 316.66 H43.30M45.60 501.40 V505.00M86.70 501.40 V505.00M127.80 501.40 V505.00M168.90 501.40 V505.00M210.00 501.40 V505.00M251.10 501.40 V505.00M292.20 501.40 V505.00M66.15 501.40 V503.60M107.25 501.40 V503.60M148.35 501.40 V503.60M189.45 501.40 V503.60M230.55 501.40 V503.60M271.65 501.40 V503.60M312.75 501.40 V503.60" stroke="#2b2b2b" stroke-width="1" fill="none"/>
<text x="140.80" y="540.50" font-size="13.2">Wavenumber / cm<tspan font-size="12" dy="-6.2">-1</tspan></text>
<text transform="translate(14.00 397.50) rotate(-90)" x="0" y="0" font-size="13.2" text-anchor="middle">Absorbance / arb. units</text>
<text x="0.60" y="294.50" font-size="20" font-weight="bold" fill="#000">c</text>
<path d="M45.6 482.5L46.1 482.5L46.6 482.5L47.1 482.5L47.6 482.5L48.1 482.5L48.6 482.5L49.1 482.5L49.6 482.5L50.1 482.5L50.6 482.5L51.1 482.5L51.6 482.5L52.1 482.5L52.6 482.5L53.1 482.5L53.6 482.5L54.1 482.5L54.6 482.5L55.1 482.5L55.6 482.5L56.1 482.5L56.6 482.5L57.1 482.5L57.6 482.5L58.1 482.5L58.6 482.5L59.1 482.5L59.6 482.5L60.0 482.5L60.1 482.5L60.6 482.5L61.1 482.5L61.6 482.4L62.1 482.4L62.6 482.4L63.1 482.3L63.6 482.3L64.1 482.3L64.6 482.2L65.1 482.2L65.6 482.2L66.0 482.2L66.1 482.2L66.6 482.2L67.1 482.3L67.6 482.3L68.1 482.4L68.6 482.4L69.1 482.5L69.6 482.5L69.7 482.5L70.0 482.5L70.1 482.5L70.6 482.4L71.1 482.2L71.6 481.9L72.1 481.5L72.5 481.2L72.6 481.1L73.0 480.7L73.1 480.6L73.6 479.9L74.1 479.0L74.6 478.0L75.1 476.5L75.5 474.7L75.6 474.2L76.1 471.7L76.6 468.9L77.1 466.4L77.6 464.0L78.0 461.9L78.1 461.4L78.6 458.8L79.1 456.3L79.6 453.8L80.1 451.5L80.5 449.8L80.6 449.4L81.1 447.4L81.6 445.5L82.1 443.7L82.6 442.0L83.0 440.6L83.1 440.3L83.6 438.8L83.8 438.2L84.1 437.3L84.6 435.9L85.1 434.6L85.6 433.3L86.1 432.0L86.5 431.1L86.6 430.8L87.1 429.7L87.6 428.7L87.9 428.2L88.1 427.9L88.6 427.0L89.0 426.4L89.1 426.3L89.6 425.6L90.1 424.9L90.6 424.3L91.1 423.7L91.6 423.1L92.0 422.5L92.1 422.4L92.6 421.7L93.1 421.1L93.6 420.5L94.1 419.9L94.5 419.4L94.6 419.3L95.1 418.6L95.6 418.0L96.1 417.4L96.6 416.7L97.0 416.2L97.1 416.1L97.6 415.3L97.9 414.9L98.1 414.6L98.6 413.7L99.1 412.8L99.6 411.8L100.1 410.9L100.6 410.1L101.0 409.5L101.1 409.4L101.6 408.6L102.1 408.0L102.6 407.5L102.8 407.5L103.1 407.7L103.6 408.9L104.1 410.6L104.3 411.3L104.5 412.0L104.6 412.3L105.1 414.4L105.6 416.8L106.1 419.4L106.6 421.8L106.8 422.7L107.1 424.0L107.6 426.1L108.1 428.3L108.4 429.5L108.6 430.3L109.1 432.3L109.6 434.2L110.1 435.9L110.3 436.5L110.6 437.4L111.0 438.5L111.1 438.8L111.6 440.1L112.1 441.3L112.6 442.5L113.0 443.5L113.1 443.8L113.6 445.0L114.1 446.4L114.6 447.6L115.1 448.8L115.6 449.9L115.8 450.3L116.1 450.8L116.6 451.7L117.1 452.5L117.6 453.2L117.9 453.6L118.1 453.9L118.6 454.5L119.0 455.0L119.1 455.1L119.6 455.7L120.0 456.1L120.1 456.2L120.6 456.7L121.1 457.1L121.6 457.6L122.0 458.0L122.1 458.1L122.6 458.6L122.7 458.7L123.1 459.1L123.6 459.5L124.1 460.0L124.6 460.5L125.0 460.9L125.1 461.0L125.5 461.5L125.6 461.6L126.1 462.4L126.6 463.3L127.1 464.3L127.6 465.0L128.1 465.5L128.3 465.5L128.5 465.4L128.6 465.3L129.1 464.2L129.6 462.5L129.8 461.8L130.1 460.8L130.6 459.4L130.7 459.2L131.0 458.8L131.1 458.6L131.6 458.1L132.0 457.4L132.1 457.1L132.6 454.7L132.8 453.5L133.1 452.0L133.5 451.0L133.6 451.2L134.1 455.0L134.2 456.0L134.4 458.0L134.6 460.2L134.8 463.0L135.1 466.5L135.3 467.5L135.6 467.8L136.1 468.1L136.6 468.3L137.1 468.4L137.5 467.9L137.6 467.6L138.1 465.9L138.6 464.3L139.0 463.8L139.1 463.8L139.5 464.9L139.6 465.3L140.1 467.8L140.6 470.4L140.8 471.2L141.1 472.3L141.6 474.0L141.8 474.7L142.1 475.6L142.6 476.6L142.7 476.7L143.1 477.1L143.6 477.5L144.1 477.9L144.5 478.2L144.6 478.3L145.1 478.6L145.6 478.9L146.1 479.2L146.6 479.4L147.1 479.6L147.6 479.8L148.1 479.9L148.6 480.1L149.1 480.2L149.6 480.3L150.0 480.4L150.1 480.4L150.6 480.5L151.1 480.6L151.6 480.7L152.1 480.7L152.6 480.8L153.1 480.8L153.6 480.8L154.1 480.9L154.6 480.9L155.1 481.0L155.6 481.0L156.1 481.1L156.6 481.2L157.1 481.2L157.4 481.3L157.6 481.3L158.1 481.5L158.6 481.6L159.1 481.8L159.6 481.9L160.1 482.1L160.6 482.3L161.0 482.5L161.1 482.5L161.6 482.8L162.1 483.0L162.6 483.3L163.1 483.6L163.6 483.9L164.1 484.2L164.6 484.5L165.1 484.8L165.6 485.1L166.1 485.4L166.6 485.7L167.1 486.0L167.6 486.3L168.1 486.6L168.6 486.9L169.1 487.2L169.6 487.5L170.1 487.7L170.6 488.0L171.1 488.2L171.6 488.4L171.9 488.5L172.1 488.6L172.6 488.7L173.1 488.9L173.6 489.1L174.1 489.2L174.6 489.4L175.1 489.5L175.6 489.7L176.1 489.8L176.6 489.9L177.1 490.1L177.6 490.2L178.1 490.3L178.6 490.3L179.1 490.4L179.6 490.5L180.1 490.5L180.6 490.5L180.7 490.5L181.1 490.4L181.6 490.1L182.1 489.6L182.6 489.0L183.1 488.3L183.6 487.6L184.1 486.9L184.6 486.3L185.0 486.0L185.1 485.9L185.6 485.6L186.1 485.3L186.6 484.9L187.1 484.6L187.6 484.3L188.1 484.0L188.6 483.7L189.1 483.5L189.6 483.2L190.1 483.0L190.6 482.7L191.1 482.5L191.6 482.4L192.1 482.2L192.6 482.1L193.1 481.9L193.6 481.8L193.8 481.8L194.1 481.8L194.6 481.7L195.1 481.6L195.6 481.6L196.1 481.5L196.6 481.5L197.1 481.4L197.6 481.4L198.1 481.3L198.6 481.3L199.1 481.2L199.6 481.2L200.1 481.2L200.6 481.1L201.1 481.1L201.6 481.1L202.1 481.0L202.6 481.0L203.1 481.0L203.6 480.9L204.1 480.9L204.6 480.9L205.1 480.8L205.5 480.8L205.6 480.8L206.1 480.8L206.6 480.7L207.1 480.7L207.6 480.6L208.1 480.6L208.6 480.5L209.1 480.5L209.6 480.5L210.1 480.4L210.6 480.4L211.1 480.4L211.3 480.4L211.6 480.4L212.1 480.5L212.6 480.7L213.1 480.9L213.6 481.2L214.1 481.5L214.6 481.8L215.1 482.1L215.6 482.5L216.1 482.8L216.6 483.0L217.1 483.3L217.2 483.3L217.6 483.5L218.1 483.7L218.6 483.9L219.1 484.1L219.6 484.3L220.1 484.5L220.6 484.7L221.1 484.8L221.6 485.0L222.1 485.1L222.6 485.3L223.1 485.4L223.6 485.4L224.1 485.5L224.5 485.5L224.6 485.5L225.1 485.5L225.6 485.5L226.1 485.5L226.6 485.5L227.1 485.5L227.6 485.5L228.1 485.5L228.6 485.5L229.1 485.5L229.6 485.5L230.1 484.0L230.6 481.4L231.0 480.4L231.1 480.4L231.6 480.7L232.1 481.1L232.6 481.5L233.1 481.8L233.2 481.8L233.6 481.4L234.1 480.0L234.6 478.0L235.0 476.0L235.1 475.4L235.6 470.7L235.7 469.5L236.1 464.3L236.3 461.6L236.6 458.0L237.1 452.1L237.3 449.9L237.5 448.0L237.6 447.1L238.1 443.0L238.3 442.5L238.6 443.6L239.1 448.0L239.3 449.9L239.6 453.4L240.0 458.0L240.1 459.1L240.3 461.3L240.6 464.6L241.1 469.3L241.2 470.0L241.3 470.6L241.6 472.5L242.1 474.9L242.4 475.5L242.6 475.6L243.1 475.9L243.6 476.0L244.1 474.8L244.6 472.2L245.1 469.1L245.2 468.5L245.3 468.0L245.6 466.3L246.1 462.8L246.2 462.2L246.6 459.7L247.1 458.1L247.2 458.0L247.6 458.7L248.1 461.2L248.3 462.4L248.6 464.4L249.1 467.5L249.2 468.0L249.6 470.1L250.1 472.9L250.6 475.1L250.9 476.0L251.1 476.4L251.6 477.3L252.1 477.9L252.4 478.0L252.6 477.9L253.1 477.3L253.6 476.2L254.1 475.2L254.6 474.6L254.8 474.5L255.1 474.7L255.6 475.7L256.1 477.0L256.6 478.2L257.0 478.5L257.1 478.5L257.6 478.3L258.1 477.8L258.6 477.4L259.1 477.1L259.4 477.0L259.6 477.1L260.1 477.9L260.6 479.1L261.1 480.4L261.6 481.3L261.9 481.5L262.1 481.5L262.6 481.5L263.1 481.5L263.6 481.5L264.1 481.5L264.6 481.5L265.0 481.5L265.1 481.5L265.6 481.3L266.1 480.9L266.6 480.6L267.0 480.5L267.1 480.5L267.6 480.7L268.1 481.0L268.6 481.4L269.1 481.5L269.6 481.3L270.1 480.9L270.6 480.4L271.1 479.8L271.6 479.2L272.1 478.7L272.6 478.5L272.7 478.5L273.1 478.9L273.6 479.9L274.1 480.9L274.2 481.0L274.6 481.4L275.1 481.9L275.6 482.3L276.1 482.5L276.2 482.5L276.6 482.2L277.1 481.3L277.6 480.3L278.1 479.6L278.3 479.5L278.6 479.7L279.1 480.4L279.6 481.3L280.1 481.9L280.3 482.0L280.6 481.9L280.8 481.7L281.1 481.3L281.6 480.4L282.1 479.5L282.6 478.6L283.1 478.0L283.4 477.9L283.6 477.9L284.1 478.3L284.6 479.1L285.1 479.9L285.4 480.4L285.6 480.8L286.1 481.9L286.6 483.2L287.0 484.0L287.1 484.2L287.6 485.1L288.1 486.0L288.6 486.7L289.0 487.0L289.1 487.0L289.6 487.2L290.1 487.3L290.6 487.4L291.1 487.5L291.6 487.6L292.1 487.8L292.6 488.1L293.1 488.5L293.6 489.0L294.1 489.9L294.6 491.3L295.1 492.5L295.6 493.0L296.1 492.5L296.6 491.2L297.1 489.9L297.6 489.1L297.7 489.0L298.1 488.9L298.6 488.7L299.1 488.6L299.6 488.5L300.1 488.5L300.2 488.5L300.6 488.6L301.1 488.7L301.6 489.0L302.1 489.4L302.6 489.8L302.8 490.0L303.1 490.4L303.6 491.3L304.1 492.4L304.6 493.4L305.1 493.9L305.3 494.0L305.6 493.9L306.1 493.3L306.6 492.3L307.1 491.3L307.6 490.4L307.9 490.0L308.1 489.8L308.6 489.3L309.1 488.8L309.6 488.4L310.1 488.0L310.6 487.6L311.1 487.2L311.6 486.9L312.1 486.6L312.6 486.2L313.0 486.0L313.1 485.9L313.6 485.6L314.1 485.4L314.6 485.1L315.1 484.8L315.6 484.5L316.1 484.3L316.6 484.1L317.1 483.9L317.6 483.7L318.1 483.5L318.6 483.3L319.1 483.2L319.6 483.1L320.1 483.0L320.6 482.9L321.1 482.8L321.6 482.6L322.1 482.5L322.2 482.5L322.6 482.4L323.1 482.2L323.6 482.1L324.1 481.9L324.6 481.8L325.1 481.6L325.6 481.6L326.1 481.5L326.3 481.5L326.6 481.5L327.1 481.7L327.6 482.0L328.1 482.3L328.3 482.5L328.6 482.8L329.1 483.8L329.6 485.0L329.8 485.5" stroke="#ff0000" stroke-width="1.10" fill="none" stroke-linejoin="round"/>
<path d="M45.6 482.5L46.1 482.5L46.6 482.5L47.1 482.5L47.6 482.5L48.1 482.5L48.6 482.5L49.1 482.5L49.6 482.5L50.1 482.5L50.6 482.5L51.1 482.5L51.6 482.5L52.1 482.5L52.6 482.5L53.1 482.5L53.6 482.8L54.1 483.6L54.6 484.0L55.1 483.2L55.6 482.6L56.1 482.5L56.6 482.5L57.1 482.5L57.6 482.5L58.1 482.5L58.6 482.5L59.1 482.5L59.6 482.5L60.0 482.5L60.1 482.5L60.6 482.5L61.1 482.5L61.6 482.8L62.1 483.6L62.6 484.0L63.1 483.1L63.6 482.4L64.1 482.3L64.6 482.2L65.1 482.2L65.6 482.2L66.0 482.2L66.1 482.2L66.6 482.2L67.1 482.2L67.6 482.3L68.1 482.3L68.6 482.4L69.1 482.5L69.6 483.0L69.7 483.1L70.0 483.2L70.1 483.2L70.6 482.6L71.1 482.1L71.6 481.7L72.1 481.2L72.5 480.9L72.6 480.8L73.0 480.4L73.1 480.2L73.6 479.5L74.1 478.5L74.6 477.3L75.1 475.7L75.5 473.9L75.6 473.4L76.1 470.8L76.6 468.1L77.1 465.5L77.6 463.0L78.0 460.9L78.1 460.4L78.6 457.8L79.1 455.2L79.6 452.6L80.1 450.2L80.5 448.4L80.6 448.0L81.1 445.9L81.6 443.8L82.1 441.8L82.6 439.9L83.0 438.5L83.1 438.1L83.6 436.4L83.8 435.8L84.1 434.8L84.6 433.2L85.1 431.7L85.6 430.2L86.1 428.8L86.5 427.8L86.6 427.5L87.1 426.4L87.6 425.3L87.9 424.8L88.1 424.4L88.6 423.5L89.0 422.9L89.1 422.7L89.6 421.9L90.1 421.1L90.6 420.4L91.1 419.6L91.6 418.9L92.0 418.3L92.1 418.1L92.6 417.4L93.1 416.7L93.6 416.0L94.1 415.3L94.5 414.7L94.6 414.5L95.1 413.8L95.6 413.1L96.1 412.3L96.6 411.5L97.0 410.8L97.1 410.6L97.6 409.7L97.9 409.1L98.1 408.7L98.6 407.6L99.1 406.5L99.6 405.3L100.1 404.2L100.6 403.1L101.0 402.4L101.1 402.2L101.6 401.3L102.1 400.5L102.6 400.1L102.8 400.0L103.1 400.2L103.6 401.5L104.1 403.3L104.3 404.1L104.5 404.8L104.6 405.2L105.1 407.5L105.6 410.2L106.1 412.8L106.6 415.4L106.8 416.3L107.1 417.7L107.6 419.9L108.1 422.2L108.4 423.5L108.6 424.4L109.1 426.5L109.6 428.5L110.1 430.4L110.3 431.1L110.6 432.2L111.0 433.4L111.1 433.7L111.6 435.2L112.1 436.7L112.6 438.1L113.0 439.3L113.1 439.6L113.6 441.1L114.1 442.6L114.6 444.1L115.1 445.5L115.6 446.7L115.8 447.2L116.1 447.8L116.6 448.8L117.1 449.7L117.6 450.5L117.9 451.0L118.1 451.3L118.6 452.0L119.0 452.6L119.1 452.7L119.6 453.3L120.0 453.8L120.1 453.9L120.6 454.4L121.1 455.0L121.6 455.6L122.0 456.0L122.1 456.1L122.6 456.7L122.7 456.8L123.1 457.3L123.6 457.8L124.1 458.4L124.6 458.9L125.0 459.4L125.1 459.5L125.5 460.1L125.6 460.2L126.1 461.1L126.6 462.1L127.1 463.0L127.6 463.7L128.1 464.1L128.3 464.1L128.5 464.0L128.6 463.9L129.1 462.8L129.6 461.2L129.8 460.4L130.1 459.2L130.6 457.0L130.7 456.7L131.0 456.1L131.1 456.0L131.6 455.5L132.0 455.0L132.1 454.7L132.6 451.9L132.8 450.5L133.1 448.7L133.5 447.4L133.6 447.6L134.1 451.9L134.2 453.0L134.4 455.2L134.6 457.7L134.8 460.6L135.1 464.8L135.3 466.1L135.6 466.4L136.1 466.7L136.6 466.8L137.1 466.8L137.5 466.3L137.6 466.0L138.1 464.3L138.6 462.7L139.0 462.1L139.1 462.1L139.5 463.0L139.6 463.4L140.1 465.9L140.6 468.6L140.8 469.5L141.1 470.9L141.6 473.3L141.8 474.1L142.1 475.0L142.6 476.1L142.7 476.2L143.1 476.6L143.6 477.1L144.1 477.6L144.5 477.9L144.6 477.9L145.1 478.3L145.6 478.6L146.1 478.9L146.6 479.1L147.1 479.4L147.6 479.6L148.1 479.7L148.6 479.9L149.1 480.0L149.6 480.2L150.0 480.2L150.1 480.3L150.6 480.4L151.1 480.5L151.6 480.5L152.1 480.6L152.6 480.7L153.1 480.7L153.6 480.8L154.1 480.8L154.6 480.9L155.1 480.9L155.6 481.0L156.1 481.0L156.6 481.1L157.1 481.2L157.4 481.3L157.6 481.3L158.1 481.4L158.6 481.6L159.1 481.7L159.6 481.9L160.1 482.1L160.6 482.3L161.0 482.4L161.1 482.5L161.6 482.7L162.1 482.9L162.6 483.2L163.1 483.5L163.6 483.8L164.1 484.1L164.6 484.4L165.1 484.7L165.6 485.0L166.1 485.3L166.6 485.6L167.1 485.9L167.6 486.2L168.1 486.5L168.6 486.8L169.1 487.1L169.6 487.4L170.1 487.6L170.6 487.9L171.1 488.1L171.6 488.3L171.9 488.4L172.1 488.4L172.6 488.6L173.1 488.8L173.6 488.9L174.1 489.1L174.6 489.2L175.1 489.4L175.6 489.5L176.1 489.7L176.6 489.8L177.1 489.9L177.6 490.0L178.1 490.1L178.6 490.2L179.1 490.3L179.6 490.3L180.1 490.4L180.6 490.4L180.7 490.4L181.1 490.3L181.6 490.0L182.1 489.5L182.6 488.8L183.1 488.2L183.6 487.5L184.1 486.8L184.6 486.2L185.0 485.9L185.1 485.8L185.6 485.5L186.1 485.2L186.6 484.9L187.1 484.6L187.6 484.3L188.1 484.0L188.6 483.7L189.1 483.4L189.6 483.2L190.1 482.9L190.6 482.7L191.1 482.5L191.6 482.4L192.1 482.2L192.6 482.0L193.1 481.9L193.6 481.8L193.8 481.8L194.1 481.8L194.6 481.7L195.1 481.6L195.6 481.6L196.1 481.5L196.6 481.5L197.1 481.4L197.6 481.4L198.1 481.3L198.6 481.3L199.1 481.2L199.6 481.2L200.1 481.2L200.6 481.1L201.1 481.1L201.6 481.1L202.1 481.0L202.6 481.0L203.1 481.0L203.6 480.9L204.1 480.9L204.6 480.9L205.1 480.8L205.5 480.8L205.6 480.8L206.1 480.8L206.6 480.7L207.1 480.7L207.6 480.6L208.1 480.6L208.6 480.5L209.1 480.5L209.6 480.5L210.1 480.4L210.6 480.4L211.1 480.4L211.3 480.4L211.6 480.4L212.1 480.5L212.6 480.7L213.1 480.9L213.6 481.2L214.1 481.5L214.6 481.8L215.1 482.1L215.6 482.5L216.1 482.8L216.6 483.0L217.1 483.3L217.2 483.3L217.6 483.5L218.1 483.7L218.6 483.9L219.1 484.1L219.6 484.3L220.1 484.5L220.6 484.7L221.1 484.8L221.6 485.0L222.1 485.1L222.6 485.3L223.1 485.4L223.6 485.4L224.1 485.5L224.5 485.5L224.6 485.5L225.1 485.5L225.6 485.5L226.1 485.5L226.6 485.5L227.1 485.5L227.6 485.5L228.1 485.5L228.6 485.5L229.1 485.5L229.6 485.5L230.1 484.0L230.6 481.4L231.0 480.4L231.1 480.4L231.6 480.7L232.1 481.1L232.6 481.5L233.1 481.8L233.2 481.8L233.6 481.4L234.1 480.0L234.6 477.8L235.0 475.8L235.1 475.2L235.6 470.2L235.7 468.9L236.1 463.2L236.3 460.3L236.6 456.4L237.1 450.3L237.3 448.0L237.5 445.9L237.6 445.0L238.1 440.7L238.3 440.1L238.6 441.3L239.1 445.9L239.3 448.0L239.6 451.6L240.0 456.4L240.1 457.6L240.3 459.9L240.6 463.5L241.1 468.6L241.2 469.4L241.3 470.0L241.6 472.0L242.1 474.5L242.4 475.1L242.6 475.3L243.1 475.5L243.6 475.6L244.1 474.4L244.6 471.7L245.1 468.6L245.2 468.0L245.3 467.5L245.6 465.6L246.1 462.0L246.2 461.3L246.6 458.7L247.1 456.9L247.2 456.8L247.6 457.6L248.1 460.2L248.3 461.5L248.6 463.6L249.1 466.8L249.2 467.3L249.6 469.5L250.1 472.4L250.6 474.8L250.9 475.8L251.1 476.2L251.6 477.2L252.1 477.8L252.4 477.9L252.6 477.9L253.1 477.2L253.6 476.1L254.1 475.1L254.6 474.4L254.8 474.4L255.1 474.6L255.6 475.6L256.1 476.9L256.6 478.0L257.0 478.4L257.1 478.4L257.6 478.1L258.1 477.7L258.6 477.2L259.1 476.9L259.4 476.8L259.6 476.9L260.1 477.7L260.6 478.9L261.1 480.3L261.6 481.2L261.9 481.4L262.1 481.4L262.6 481.4L263.1 481.5L263.6 481.5L264.1 481.5L264.6 481.5L265.0 481.5L265.1 481.5L265.6 481.3L266.1 481.0L266.6 480.6L267.0 480.5L267.1 480.5L267.6 480.7L268.1 481.1L268.6 481.4L269.1 481.5L269.6 481.4L270.1 481.0L270.6 480.4L271.1 479.8L271.6 479.2L272.1 478.8L272.6 478.5L272.7 478.5L273.1 478.9L273.6 479.9L274.1 480.9L274.2 481.0L274.6 481.5L275.1 482.0L275.6 482.4L276.1 482.6L276.2 482.6L276.6 482.3L277.1 481.4L277.6 480.4L278.1 479.7L278.3 479.6L278.6 479.8L279.1 480.6L279.6 481.6L280.1 482.4L280.3 482.5L280.6 482.4L280.8 482.3L281.1 481.9L281.6 481.0L282.1 479.8L282.6 478.8L283.1 478.2L283.4 478.0L283.6 478.1L284.1 478.5L284.6 479.1L285.1 480.0L285.4 480.5L285.6 480.8L286.1 482.0L286.6 483.3L287.0 484.2L287.1 484.4L287.6 485.4L288.1 486.4L288.6 487.2L289.0 487.5L289.1 487.5L289.6 487.6L290.1 487.6L290.6 487.6L291.1 487.6L291.6 487.7L292.1 488.0L292.6 488.3L293.1 488.8L293.6 489.3L294.1 490.3L294.6 491.8L295.1 493.1L295.6 493.7L296.1 493.1L296.6 491.7L297.1 490.3L297.6 489.3L297.7 489.3L298.1 489.1L298.6 488.9L299.1 488.8L299.6 488.7L300.1 488.7L300.2 488.7L300.6 488.8L301.1 489.0L301.6 489.3L302.1 489.7L302.6 490.2L302.8 490.3L303.1 490.7L303.6 491.7L304.1 492.9L304.6 493.9L305.1 494.5L305.3 494.6L305.6 494.4L306.1 493.8L306.6 492.8L307.1 491.7L307.6 490.8L307.9 490.3L308.1 490.1L308.6 489.6L309.1 489.1L309.6 488.7L310.1 488.2L310.6 487.8L311.1 487.5L311.6 487.1L312.1 486.8L312.6 486.5L313.0 486.2L313.1 486.1L313.6 485.8L314.1 485.6L314.6 485.3L315.1 485.0L315.6 484.7L316.1 484.5L316.6 484.3L317.1 484.0L317.6 483.8L318.1 483.7L318.6 483.5L319.1 483.4L319.6 483.2L320.1 483.1L320.6 483.0L321.1 482.9L321.6 482.7L322.1 482.6L322.2 482.6L322.6 482.5L323.1 482.3L323.6 482.1L324.1 482.0L324.6 481.8L325.1 481.7L325.6 481.6L326.1 481.5L326.3 481.5L326.6 481.6L327.1 481.7L327.6 482.0L328.1 482.4L328.3 482.5L328.6 482.9L329.1 483.8L329.6 485.1L329.8 485.6" stroke="#7a5a10" stroke-width="1.10" fill="none" stroke-linejoin="round"/>
<path d="M45.6 482.5L46.1 482.5L46.6 482.5L47.1 482.5L47.6 482.5L48.1 482.5L48.6 482.5L49.1 482.5L49.6 482.5L50.1 482.5L50.6 482.5L51.1 482.5L51.6 482.5L52.1 482.5L52.6 482.5L53.1 482.5L53.6 482.5L54.1 482.5L54.6 482.5L55.1 482.5L55.6 482.5L56.1 482.5L56.6 482.5L57.1 482.5L57.6 482.5L58.1 482.5L58.6 482.5L59.1 482.5L59.6 482.5L60.0 482.5L60.1 482.5L60.6 482.5L61.1 482.5L61.6 482.5L62.1 482.4L62.6 482.4L63.1 482.4L63.6 482.3L64.1 482.3L64.6 482.3L65.1 482.2L65.6 482.2L66.0 482.2L66.1 482.2L66.6 482.2L67.1 482.2L67.6 482.2L68.1 482.2L68.6 482.2L69.1 482.2L69.6 482.2L69.7 482.1L70.0 482.1L70.1 482.1L70.6 481.9L71.1 481.5L71.6 481.0L72.1 480.5L72.5 480.0L72.6 479.9L73.0 479.3L73.1 479.2L73.6 478.2L74.1 476.9L74.6 475.3L75.1 473.4L75.5 471.5L75.6 471.1L76.1 468.4L76.6 465.6L77.1 462.9L77.6 460.2L78.0 458.0L78.1 457.5L78.6 454.7L79.1 451.9L79.6 449.2L80.1 446.5L80.5 444.5L80.6 444.0L81.1 441.5L81.6 439.0L82.1 436.6L82.6 434.2L83.0 432.4L83.1 432.0L83.6 429.7L83.8 428.9L84.1 427.6L84.6 425.5L85.1 423.5L85.6 421.6L86.1 419.8L86.5 418.6L86.6 418.3L87.1 416.9L87.6 415.7L87.9 415.1L88.1 414.7L88.6 413.6L89.0 412.8L89.1 412.6L89.6 411.5L90.1 410.4L90.6 409.3L91.1 408.3L91.6 407.2L92.0 406.4L92.1 406.2L92.6 405.2L93.1 404.2L93.6 403.3L94.1 402.3L94.5 401.5L94.6 401.3L95.1 400.2L95.6 399.1L96.1 397.9L96.6 396.7L97.0 395.7L97.1 395.4L97.6 393.9L97.9 392.9L98.1 392.3L98.6 390.5L99.1 388.8L99.6 387.0L100.1 385.2L100.6 383.6L101.0 382.5L101.1 382.2L101.6 380.9L102.1 379.7L102.6 379.0L102.8 379.0L103.1 379.2L103.6 380.7L104.1 382.8L104.3 383.7L104.5 384.6L104.6 385.2L105.1 388.2L105.6 391.5L106.1 394.5L106.6 397.4L106.8 398.4L107.1 400.0L107.6 402.5L108.1 405.1L108.4 406.6L108.6 407.7L109.1 410.2L109.6 412.7L110.1 415.1L110.3 416.1L110.6 417.4L111.0 419.2L111.1 419.6L111.6 421.7L112.1 423.7L112.6 425.7L113.0 427.3L113.1 427.8L113.6 429.9L114.1 432.1L114.6 434.1L115.1 436.0L115.6 437.7L115.8 438.3L116.1 439.2L116.6 440.6L117.1 441.9L117.6 443.1L117.9 443.7L118.1 444.1L118.6 445.0L119.0 445.7L119.1 445.8L119.6 446.6L120.0 447.3L120.1 447.4L120.6 448.2L121.1 449.0L121.6 449.8L122.0 450.5L122.1 450.6L122.6 451.4L122.7 451.6L123.1 452.2L123.6 453.0L124.1 453.8L124.6 454.6L125.0 455.2L125.1 455.4L125.5 456.1L125.6 456.2L126.1 457.3L126.6 458.4L127.1 459.4L127.6 460.1L128.1 460.3L128.3 460.3L128.5 460.2L128.6 460.0L129.1 459.0L129.6 457.3L129.8 456.6L130.1 454.7L130.6 450.4L130.7 449.7L131.0 448.6L131.1 448.5L131.6 448.5L132.0 448.2L132.1 447.9L132.6 444.0L132.8 442.2L133.1 439.5L133.5 437.4L133.6 437.6L134.1 443.1L134.2 444.5L134.4 447.3L134.6 450.4L134.8 454.0L135.1 460.1L135.3 462.2L135.6 462.4L136.1 462.5L136.6 462.5L137.1 462.4L137.5 461.8L137.6 461.6L138.1 459.9L138.6 458.1L139.0 457.3L139.1 457.2L139.5 457.7L139.6 458.0L140.1 460.5L140.6 463.6L140.8 464.7L141.1 466.9L141.6 471.3L141.8 472.4L142.1 473.4L142.6 474.6L142.7 474.8L143.1 475.4L143.6 476.0L144.1 476.5L144.5 476.9L144.6 477.0L145.1 477.4L145.6 477.8L146.1 478.1L146.6 478.4L147.1 478.7L147.6 478.9L148.1 479.2L148.6 479.4L149.1 479.5L149.6 479.7L150.0 479.8L150.1 479.9L150.6 480.0L151.1 480.1L151.6 480.2L152.1 480.3L152.6 480.4L153.1 480.5L153.6 480.5L154.1 480.6L154.6 480.7L155.1 480.8L155.6 480.8L156.1 480.9L156.6 481.0L157.1 481.1L157.4 481.1L157.6 481.2L158.1 481.3L158.6 481.4L159.1 481.6L159.6 481.7L160.1 481.9L160.6 482.0L161.0 482.2L161.1 482.2L161.6 482.4L162.1 482.7L162.6 483.0L163.1 483.3L163.6 483.5L164.1 483.8L164.6 484.1L165.1 484.4L165.6 484.7L166.1 485.0L166.6 485.3L167.1 485.6L167.6 485.9L168.1 486.2L168.6 486.4L169.1 486.7L169.6 487.0L170.1 487.2L170.6 487.5L171.1 487.7L171.6 487.9L171.9 488.0L172.1 488.1L172.6 488.2L173.1 488.4L173.6 488.5L174.1 488.7L174.6 488.9L175.1 489.0L175.6 489.2L176.1 489.3L176.6 489.4L177.1 489.6L177.6 489.7L178.1 489.8L178.6 489.9L179.1 489.9L179.6 490.0L180.1 490.0L180.6 490.0L180.7 490.0L181.1 489.9L181.6 489.6L182.1 489.1L182.6 488.5L183.1 487.9L183.6 487.2L184.1 486.5L184.6 486.0L185.0 485.7L185.1 485.6L185.6 485.3L186.1 485.0L186.6 484.7L187.1 484.4L187.6 484.1L188.1 483.8L188.6 483.6L189.1 483.3L189.6 483.1L190.1 482.9L190.6 482.7L191.1 482.5L191.6 482.3L192.1 482.2L192.6 482.0L193.1 481.9L193.6 481.8L193.8 481.8L194.1 481.8L194.6 481.7L195.1 481.6L195.6 481.6L196.1 481.5L196.6 481.5L197.1 481.4L197.6 481.4L198.1 481.3L198.6 481.3L199.1 481.2L199.6 481.2L200.1 481.2L200.6 481.1L201.1 481.1L201.6 481.1L202.1 481.0L202.6 481.0L203.1 481.0L203.6 480.9L204.1 480.9L204.6 480.9L205.1 480.8L205.5 480.8L205.6 480.8L206.1 480.8L206.6 480.7L207.1 480.7L207.6 480.6L208.1 480.6L208.6 480.5L209.1 480.5L209.6 480.5L210.1 480.4L210.6 480.4L211.1 480.4L211.3 480.4L211.6 480.4L212.1 480.5L212.6 480.7L213.1 480.9L213.6 481.2L214.1 481.5L214.6 481.8L215.1 482.1L215.6 482.5L216.1 482.8L216.6 483.0L217.1 483.3L217.2 483.3L217.6 483.5L218.1 483.7L218.6 483.9L219.1 484.1L219.6 484.3L220.1 484.5L220.6 484.7L221.1 484.8L221.6 485.0L222.1 485.1L222.6 485.3L223.1 485.4L223.6 485.4L224.1 485.5L224.5 485.5L224.6 485.5L225.1 485.5L225.6 485.5L226.1 485.5L226.6 485.5L227.1 485.5L227.6 485.5L228.1 485.5L228.6 485.5L229.1 485.5L229.6 485.5L230.1 484.0L230.6 481.4L231.0 480.4L231.1 480.4L231.6 480.7L232.1 481.1L232.6 481.5L233.1 481.8L233.2 481.8L233.6 481.3L234.1 479.5L234.6 476.7L235.0 474.0L235.1 473.2L235.6 466.6L235.7 464.9L236.1 455.0L236.3 450.2L236.6 444.7L237.1 436.6L237.3 433.7L237.5 430.8L237.6 429.4L238.1 423.2L238.3 422.4L238.6 424.1L239.1 430.8L239.3 433.7L239.6 438.4L240.0 445.0L240.1 446.7L240.3 450.0L240.6 455.3L241.1 463.6L241.2 464.7L241.3 465.7L241.6 468.3L242.1 471.6L242.4 472.4L242.6 472.5L243.1 472.5L243.6 472.2L244.1 470.9L244.6 468.1L245.1 464.8L245.2 464.1L245.3 463.5L245.6 460.8L246.1 455.6L246.2 454.6L246.6 451.0L247.1 448.2L247.2 448.1L247.6 449.4L248.1 453.1L248.3 454.8L248.6 457.4L249.1 461.5L249.2 462.3L249.6 465.3L250.1 469.2L250.6 472.6L250.9 474.0L251.1 474.7L251.6 476.2L252.1 477.2L252.4 477.4L252.6 477.3L253.1 476.6L253.6 475.5L254.1 474.4L254.6 473.7L254.8 473.7L255.1 473.9L255.6 474.9L256.1 476.3L256.6 477.5L257.0 477.9L257.1 477.8L257.6 477.6L258.1 477.0L258.6 476.5L259.1 476.0L259.4 476.0L259.6 476.0L260.1 476.8L260.6 478.2L261.1 479.6L261.6 480.7L261.9 481.0L262.1 481.1L262.6 481.2L263.1 481.4L263.6 481.5L264.1 481.6L264.6 481.7L265.0 481.7L265.1 481.7L265.6 481.5L266.1 481.1L266.6 480.8L267.0 480.7L267.1 480.7L267.6 480.9L268.1 481.2L268.6 481.6L269.1 481.7L269.6 481.5L270.1 481.1L270.6 480.6L271.1 480.0L271.6 479.4L272.1 478.9L272.6 478.7L272.7 478.7L273.1 479.0L273.6 480.1L274.1 481.1L274.2 481.2L274.6 481.7L275.1 482.2L275.6 482.7L276.1 482.9L276.2 482.9L276.6 482.6L277.1 481.8L277.6 480.8L278.1 480.2L278.3 480.1L278.6 480.3L279.1 481.4L279.6 482.8L280.1 484.0L280.3 484.3L280.6 484.5L280.8 484.5L281.1 484.1L281.6 482.9L282.1 481.3L282.6 479.8L283.1 478.7L283.4 478.5L283.6 478.6L284.1 478.9L284.6 479.5L285.1 480.2L285.4 480.6L285.6 481.0L286.1 482.3L286.6 483.9L287.0 485.0L287.1 485.3L287.6 486.6L288.1 487.9L288.6 488.9L289.0 489.3L289.1 489.3L289.6 489.2L290.1 488.9L290.6 488.5L291.1 488.2L291.6 488.2L292.1 488.4L292.6 489.0L293.1 489.8L293.6 490.6L294.1 491.9L294.6 493.8L295.1 495.5L295.6 496.2L296.1 495.4L296.6 493.5L297.1 491.5L297.6 490.3L297.7 490.2L298.1 490.0L298.6 489.8L299.1 489.6L299.6 489.5L300.1 489.5L300.2 489.5L300.6 489.6L301.1 489.8L301.6 490.3L302.1 490.8L302.6 491.4L302.8 491.6L303.1 492.1L303.6 493.3L304.1 494.7L304.6 495.9L305.1 496.6L305.3 496.7L305.6 496.6L306.1 495.8L306.6 494.6L307.1 493.2L307.6 492.1L307.9 491.6L308.1 491.3L308.6 490.7L309.1 490.2L309.6 489.7L310.1 489.2L310.6 488.8L311.1 488.4L311.6 488.0L312.1 487.6L312.6 487.3L313.0 487.0L313.1 486.9L313.6 486.6L314.1 486.3L314.6 486.0L315.1 485.7L315.6 485.5L316.1 485.2L316.6 485.0L317.1 484.7L317.6 484.5L318.1 484.3L318.6 484.1L319.1 483.9L319.6 483.7L320.1 483.6L320.6 483.4L321.1 483.2L321.6 483.1L322.1 482.9L322.2 482.9L322.6 482.8L323.1 482.6L323.6 482.4L324.1 482.2L324.6 482.0L325.1 481.9L325.6 481.8L326.1 481.7L326.3 481.7L326.6 481.7L327.1 481.9L327.6 482.2L328.1 482.5L328.3 482.7L328.6 483.1L329.1 484.1L329.6 485.4L329.8 485.9" stroke="#008080" stroke-width="1.10" fill="none" stroke-linejoin="round"/>
<path d="M45.6 482.5L46.1 482.5L46.6 482.5L47.1 482.5L47.6 482.5L48.1 482.5L48.6 482.5L49.1 482.5L49.6 482.5L50.1 482.5L50.6 482.5L51.1 482.5L51.6 482.5L52.1 482.5L52.6 482.5L53.1 482.5L53.6 482.5L54.1 482.5L54.6 482.5L55.1 482.5L55.6 482.5L56.1 482.5L56.6 482.5L57.1 482.5L57.6 482.5L58.1 482.5L58.6 482.5L59.1 482.5L59.6 482.5L60.0 482.5L60.1 482.5L60.6 482.5L61.1 482.5L61.6 482.5L62.1 482.4L62.6 482.4L63.1 482.4L63.6 482.3L64.1 482.3L64.6 482.3L65.1 482.2L65.6 482.2L66.0 482.2L66.1 482.2L66.6 482.2L67.1 482.2L67.6 482.2L68.1 482.1L68.6 482.1L69.1 482.1L69.6 482.0L69.7 482.0L70.0 481.9L70.1 481.9L70.6 481.6L71.1 481.2L71.6 480.6L72.1 480.0L72.5 479.4L72.6 479.3L73.0 478.6L73.1 478.5L73.6 477.3L74.1 475.8L74.6 474.0L75.1 471.9L75.5 470.0L75.6 469.4L76.1 466.8L76.6 463.9L77.1 461.1L77.6 458.4L78.0 456.1L78.1 455.5L78.6 452.6L79.1 449.8L79.6 446.9L80.1 444.0L80.5 441.8L80.6 441.3L81.1 438.5L81.6 435.8L82.1 433.0L82.6 430.3L83.0 428.3L83.1 427.7L83.6 425.2L83.8 424.2L84.1 422.7L84.6 420.2L85.1 417.9L85.6 415.7L86.1 413.7L86.5 412.3L86.6 412.0L87.1 410.5L87.6 409.2L87.9 408.5L88.1 408.0L88.6 406.9L89.0 405.9L89.1 405.7L89.6 404.4L90.1 403.1L90.6 401.8L91.1 400.5L91.6 399.2L92.0 398.2L92.1 398.0L92.6 396.8L93.1 395.7L93.6 394.6L94.1 393.5L94.5 392.5L94.6 392.3L95.1 391.0L95.6 389.6L96.1 388.2L96.6 386.6L97.0 385.3L97.1 385.0L97.6 383.1L97.9 381.9L98.1 381.0L98.6 378.8L99.1 376.7L99.6 374.5L100.1 372.3L100.6 370.2L101.0 368.9L101.1 368.6L101.6 367.0L102.1 365.5L102.6 364.7L102.8 364.6L103.1 364.9L103.6 366.5L104.1 368.8L104.3 369.8L104.5 370.9L104.6 371.5L105.1 375.1L105.6 378.8L106.1 382.0L106.6 385.1L106.8 386.2L107.1 387.9L107.6 390.6L108.1 393.4L108.4 395.1L108.6 396.3L109.1 399.1L109.6 401.9L110.1 404.7L110.3 405.8L110.6 407.4L111.0 409.4L111.1 409.9L111.6 412.4L112.1 414.8L112.6 417.3L113.0 419.2L113.1 419.7L113.6 422.3L114.1 424.9L114.6 427.4L115.1 429.6L115.6 431.6L115.8 432.3L116.1 433.4L116.6 435.1L117.1 436.6L117.6 438.0L117.9 438.7L118.1 439.2L118.6 440.2L119.0 441.0L119.1 441.2L119.6 442.1L120.0 442.8L120.1 443.0L120.6 444.0L121.1 444.9L121.6 445.9L122.0 446.7L122.1 446.9L122.6 447.8L122.7 448.0L123.1 448.8L123.6 449.7L124.1 450.6L124.6 451.6L125.0 452.3L125.1 452.5L125.5 453.3L125.6 453.5L126.1 454.7L126.6 456.0L127.1 457.0L127.6 457.6L128.1 457.7L128.3 457.6L128.5 457.5L128.6 457.4L129.1 456.4L129.6 454.7L129.8 453.9L130.1 451.6L130.6 445.9L130.7 444.9L131.0 443.4L131.1 443.4L131.6 443.6L132.0 443.6L132.1 443.3L132.6 438.6L132.8 436.4L133.1 433.2L133.5 430.6L133.6 430.8L134.1 437.1L134.2 438.7L134.4 441.8L134.6 445.5L134.8 449.5L135.1 456.9L135.3 459.5L135.6 459.6L136.1 459.7L136.6 459.6L137.1 459.3L137.5 458.8L137.6 458.6L138.1 456.9L138.6 455.0L139.0 454.0L139.1 453.9L139.5 454.2L139.6 454.4L140.1 456.8L140.6 460.1L140.8 461.4L141.1 464.2L141.6 469.9L141.8 471.2L142.1 472.3L142.6 473.7L142.7 473.9L143.1 474.5L143.6 475.2L144.1 475.8L144.5 476.2L144.6 476.3L145.1 476.8L145.6 477.2L146.1 477.6L146.6 477.9L147.1 478.2L147.6 478.5L148.1 478.8L148.6 479.0L149.1 479.2L149.6 479.4L150.0 479.5L150.1 479.6L150.6 479.7L151.1 479.8L151.6 480.0L152.1 480.1L152.6 480.2L153.1 480.3L153.6 480.4L154.1 480.5L154.6 480.6L155.1 480.6L155.6 480.7L156.1 480.8L156.6 480.9L157.1 481.0L157.4 481.1L157.6 481.1L158.1 481.2L158.6 481.3L159.1 481.4L159.6 481.6L160.1 481.7L160.6 481.9L161.0 482.0L161.1 482.1L161.6 482.3L162.1 482.5L162.6 482.8L163.1 483.1L163.6 483.4L164.1 483.6L164.6 483.9L165.1 484.2L165.6 484.5L166.1 484.8L166.6 485.0L167.1 485.3L167.6 485.6L168.1 485.9L168.6 486.2L169.1 486.5L169.6 486.7L170.1 487.0L170.6 487.2L171.1 487.4L171.6 487.6L171.9 487.7L172.1 487.8L172.6 488.0L173.1 488.1L173.6 488.3L174.1 488.5L174.6 488.6L175.1 488.8L175.6 488.9L176.1 489.1L176.6 489.2L177.1 489.3L177.6 489.4L178.1 489.5L178.6 489.6L179.1 489.7L179.6 489.7L180.1 489.8L180.6 489.8L180.7 489.8L181.1 489.7L181.6 489.4L182.1 488.9L182.6 488.3L183.1 487.6L183.6 487.0L184.1 486.3L184.6 485.8L185.0 485.5L185.1 485.5L185.6 485.2L186.1 484.9L186.6 484.6L187.1 484.3L187.6 484.0L188.1 483.8L188.6 483.5L189.1 483.3L189.6 483.1L190.1 482.8L190.6 482.6L191.1 482.5L191.6 482.3L192.1 482.2L192.6 482.0L193.1 481.9L193.6 481.8L193.8 481.8L194.1 481.8L194.6 481.7L195.1 481.6L195.6 481.6L196.1 481.5L196.6 481.5L197.1 481.4L197.6 481.4L198.1 481.3L198.6 481.3L199.1 481.2L199.6 481.2L200.1 481.2L200.6 481.1L201.1 481.1L201.6 481.1L202.1 481.0L202.6 481.0L203.1 481.0L203.6 480.9L204.1 480.9L204.6 480.9L205.1 480.8L205.5 480.8L205.6 480.8L206.1 480.8L206.6 480.7L207.1 480.7L207.6 480.6L208.1 480.6L208.6 480.5L209.1 480.5L209.6 480.5L210.1 480.4L210.6 480.4L211.1 480.4L211.3 480.4L211.6 480.4L212.1 480.5L212.6 480.7L213.1 480.9L213.6 481.2L214.1 481.5L214.6 481.8L215.1 482.1L215.6 482.5L216.1 482.8L216.6 483.0L217.1 483.3L217.2 483.3L217.6 483.5L218.1 483.7L218.6 483.9L219.1 484.1L219.6 484.3L220.1 484.5L220.6 484.7L221.1 484.8L221.6 485.0L222.1 485.1L222.6 485.3L223.1 485.4L223.6 485.4L224.1 485.5L224.5 485.5L224.6 485.5L225.1 485.5L225.6 485.5L226.1 485.5L226.6 485.5L227.1 485.5L227.6 485.5L228.1 485.5L228.6 485.5L229.1 485.5L229.6 485.5L230.1 484.0L230.6 481.4L231.0 480.4L231.1 480.4L231.6 480.7L232.1 481.1L232.6 481.5L233.1 481.8L233.2 481.8L233.6 481.2L234.1 479.2L234.6 476.2L235.0 473.2L235.1 472.3L235.6 465.0L235.7 463.0L236.1 451.3L236.3 445.7L236.6 439.4L237.1 430.5L237.3 427.2L237.5 423.9L237.6 422.3L238.1 415.3L238.3 414.4L238.6 416.3L239.1 423.9L239.3 427.2L239.6 432.4L240.0 439.8L240.1 441.7L240.3 445.4L240.6 451.6L241.1 461.2L241.2 462.6L241.3 463.8L241.6 466.7L242.1 470.3L242.4 471.1L242.6 471.2L243.1 471.1L243.6 470.8L244.1 469.3L244.6 466.5L245.1 463.1L245.2 462.4L245.3 461.6L245.6 458.6L246.1 452.7L246.2 451.6L246.6 447.6L247.1 444.3L247.2 444.2L247.6 445.6L248.1 449.9L248.3 451.8L248.6 454.5L249.1 459.2L249.2 460.0L249.6 463.4L250.1 467.8L250.6 471.6L250.9 473.2L251.1 474.0L251.6 475.8L252.1 476.9L252.4 477.1L252.6 477.1L253.1 476.3L253.6 475.2L254.1 474.1L254.6 473.4L254.8 473.3L255.1 473.5L255.6 474.6L256.1 476.0L256.6 477.2L257.0 477.6L257.1 477.6L257.6 477.3L258.1 476.7L258.6 476.1L259.1 475.7L259.4 475.6L259.6 475.6L260.1 476.5L260.6 477.8L261.1 479.3L261.6 480.5L261.9 480.8L262.1 480.9L262.6 481.1L263.1 481.4L263.6 481.5L264.1 481.7L264.6 481.8L265.0 481.8L265.1 481.8L265.6 481.6L266.1 481.2L266.6 480.9L267.0 480.8L267.1 480.8L267.6 481.0L268.1 481.3L268.6 481.6L269.1 481.8L269.6 481.6L270.1 481.2L270.6 480.6L271.1 480.0L271.6 479.4L272.1 479.0L272.6 478.8L272.7 478.8L273.1 479.1L273.6 480.1L274.1 481.1L274.2 481.3L274.6 481.8L275.1 482.3L275.6 482.8L276.1 482.9L276.2 482.9L276.6 482.5L277.1 481.3L277.6 479.9L278.1 478.9L278.3 478.8L278.6 479.0L279.1 480.4L279.6 482.4L280.1 484.3L280.3 484.8L280.6 485.2L280.8 485.2L281.1 484.8L281.6 483.2L282.1 481.0L282.6 478.7L283.1 477.2L283.4 477.0L283.6 477.1L284.1 477.7L284.6 478.7L285.1 479.8L285.4 480.4L285.6 480.9L286.1 482.4L286.6 484.2L287.0 485.4L287.1 485.7L287.6 487.2L288.1 488.7L288.6 489.8L289.0 490.1L289.1 490.1L289.6 489.9L290.1 489.5L290.6 488.9L291.1 488.5L291.6 488.4L292.1 488.7L292.6 489.3L293.1 490.2L293.6 491.2L294.1 492.7L294.6 494.8L295.1 496.6L295.6 497.4L296.1 496.5L296.6 494.4L297.1 492.2L297.6 490.7L297.7 490.6L298.1 490.4L298.6 490.2L299.1 490.0L299.6 489.9L300.1 489.9L300.2 489.9L300.6 490.0L301.1 490.3L301.6 490.7L302.1 491.3L302.6 491.9L302.8 492.2L303.1 492.7L303.6 494.0L304.1 495.5L304.6 496.9L305.1 497.7L305.3 497.7L305.6 497.6L306.1 496.7L306.6 495.4L307.1 494.0L307.6 492.7L307.9 492.2L308.1 491.9L308.6 491.3L309.1 490.7L309.6 490.2L310.1 489.7L310.6 489.2L311.1 488.8L311.6 488.4L312.1 488.0L312.6 487.7L313.0 487.4L313.1 487.3L313.6 487.0L314.1 486.7L314.6 486.4L315.1 486.1L315.6 485.8L316.1 485.5L316.6 485.3L317.1 485.1L317.6 484.8L318.1 484.6L318.6 484.4L319.1 484.2L319.6 484.0L320.1 483.8L320.6 483.6L321.1 483.4L321.6 483.3L322.1 483.1L322.2 483.1L322.6 482.9L323.1 482.7L323.6 482.5L324.1 482.3L324.6 482.1L325.1 482.0L325.6 481.8L326.1 481.8L326.3 481.8L326.6 481.8L327.1 482.0L327.6 482.2L328.1 482.6L328.3 482.8L328.6 483.1L329.1 484.2L329.6 485.5L329.8 486.1" stroke="#0000b0" stroke-width="1.10" fill="none" stroke-linejoin="round"/>
<path d="M45.6 482.5L46.1 482.5L46.6 482.5L47.1 482.5L47.6 482.5L48.1 482.5L48.6 482.5L49.1 482.5L49.6 482.5L50.1 482.5L50.6 482.5L51.1 482.5L51.6 482.5L52.1 482.5L52.6 482.5L53.1 482.5L53.6 482.5L54.1 482.5L54.6 482.5L55.1 482.5L55.6 482.5L56.1 482.5L56.6 482.5L57.1 482.5L57.6 482.5L58.1 482.5L58.6 482.5L59.1 482.5L59.6 482.5L60.0 482.5L60.1 482.5L60.6 482.5L61.1 482.5L61.6 482.5L62.1 482.4L62.6 482.4L63.1 482.4L63.6 482.4L64.1 482.3L64.6 482.3L65.1 482.3L65.6 482.2L66.0 482.2L66.1 482.2L66.6 482.2L67.1 482.1L67.6 482.1L68.1 482.1L68.6 482.0L69.1 481.9L69.6 481.8L69.7 481.8L70.0 481.7L70.1 481.7L70.6 481.4L71.1 480.9L71.6 480.3L72.1 479.6L72.5 478.9L72.6 478.8L73.0 478.1L73.1 477.9L73.6 476.6L74.1 474.9L74.6 472.9L75.1 470.6L75.5 468.6L75.6 468.1L76.1 465.4L76.6 462.5L77.1 459.7L77.6 456.8L78.0 454.5L78.1 453.9L78.6 450.9L79.1 447.9L79.6 444.9L80.1 441.9L80.5 439.6L80.6 439.0L81.1 436.0L81.6 433.0L82.1 430.0L82.6 427.1L83.0 424.8L83.1 424.2L83.6 421.4L83.8 420.2L84.1 418.6L84.6 415.8L85.1 413.3L85.6 410.8L86.1 408.6L86.5 407.0L86.6 406.7L87.1 405.1L87.6 403.7L87.9 403.0L88.1 402.5L88.6 401.2L89.0 400.2L89.1 399.9L89.6 398.5L90.1 397.0L90.6 395.5L91.1 394.0L91.6 392.5L92.0 391.4L92.1 391.1L92.6 389.8L93.1 388.6L93.6 387.4L94.1 386.1L94.5 385.0L94.6 384.7L95.1 383.2L95.6 381.6L96.1 380.0L96.6 378.2L97.0 376.7L97.1 376.3L97.6 374.0L97.9 372.6L98.1 371.6L98.6 369.1L99.1 366.5L99.6 364.0L100.1 361.4L100.6 359.0L101.0 357.4L101.1 357.1L101.6 355.3L102.1 353.6L102.6 352.7L102.8 352.6L103.1 352.9L103.6 354.6L104.1 357.1L104.3 358.1L104.5 359.3L104.6 360.0L105.1 364.0L105.6 368.1L106.1 371.5L106.6 374.7L106.8 376.0L107.1 377.7L107.6 380.7L108.1 383.6L108.4 385.5L108.6 386.7L109.1 389.8L109.6 392.9L110.1 396.0L110.3 397.2L110.6 398.9L111.0 401.2L111.1 401.8L111.6 404.6L112.1 407.4L112.6 410.2L113.0 412.4L113.1 413.0L113.6 415.9L114.1 418.8L114.6 421.7L115.1 424.2L115.6 426.4L115.8 427.3L116.1 428.5L116.6 430.4L117.1 432.2L117.6 433.7L117.9 434.6L118.1 435.1L118.6 436.2L119.0 437.1L119.1 437.3L119.6 438.3L120.0 439.1L120.1 439.3L120.6 440.4L121.1 441.5L121.6 442.6L122.0 443.5L122.1 443.7L122.6 444.8L122.7 445.0L123.1 445.9L123.6 446.9L124.1 448.0L124.6 449.1L125.0 449.9L125.1 450.1L125.5 451.0L125.6 451.3L126.1 452.6L126.6 453.9L127.1 454.9L127.6 455.5L128.1 455.5L128.3 455.4L128.5 455.3L128.6 455.2L129.1 454.2L129.6 452.5L129.8 451.7L130.1 449.0L130.6 442.1L130.7 440.9L131.0 439.1L131.1 439.1L131.6 439.6L132.0 439.7L132.1 439.4L132.6 434.1L132.8 431.6L133.1 427.9L133.5 424.8L133.6 425.1L134.1 432.1L134.2 433.8L134.4 437.3L134.6 441.3L134.8 445.7L135.1 454.3L135.3 457.3L135.6 457.4L136.1 457.3L136.6 457.1L137.1 456.8L137.5 456.2L137.6 456.0L138.1 454.4L138.6 452.4L139.0 451.3L139.1 451.1L139.5 451.1L139.6 451.3L140.1 453.7L140.6 457.2L140.8 458.7L141.1 462.0L141.6 468.8L141.8 470.3L142.1 471.4L142.6 472.9L142.7 473.1L143.1 473.8L143.6 474.6L144.1 475.2L144.5 475.6L144.6 475.7L145.1 476.2L145.6 476.7L146.1 477.1L146.6 477.5L147.1 477.9L147.6 478.2L148.1 478.5L148.6 478.7L149.1 478.9L149.6 479.1L150.0 479.3L150.1 479.3L150.6 479.5L151.1 479.6L151.6 479.8L152.1 479.9L152.6 480.0L153.1 480.1L153.6 480.2L154.1 480.3L154.6 480.4L155.1 480.5L155.6 480.6L156.1 480.7L156.6 480.8L157.1 480.9L157.4 481.0L157.6 481.0L158.1 481.1L158.6 481.2L159.1 481.4L159.6 481.5L160.1 481.6L160.6 481.8L161.0 481.9L161.1 481.9L161.6 482.1L162.1 482.4L162.6 482.6L163.1 482.9L163.6 483.2L164.1 483.5L164.6 483.8L165.1 484.0L165.6 484.3L166.1 484.6L166.6 484.9L167.1 485.2L167.6 485.4L168.1 485.7L168.6 486.0L169.1 486.3L169.6 486.5L170.1 486.8L170.6 487.0L171.1 487.2L171.6 487.4L171.9 487.5L172.1 487.6L172.6 487.7L173.1 487.9L173.6 488.1L174.1 488.2L174.6 488.4L175.1 488.6L175.6 488.7L176.1 488.8L176.6 489.0L177.1 489.1L177.6 489.2L178.1 489.3L178.6 489.4L179.1 489.5L179.6 489.5L180.1 489.6L180.6 489.6L180.7 489.6L181.1 489.5L181.6 489.2L182.1 488.7L182.6 488.1L183.1 487.5L183.6 486.8L184.1 486.2L184.6 485.7L185.0 485.4L185.1 485.3L185.6 485.0L186.1 484.7L186.6 484.5L187.1 484.2L187.6 483.9L188.1 483.7L188.6 483.4L189.1 483.2L189.6 483.0L190.1 482.8L190.6 482.6L191.1 482.4L191.6 482.3L192.1 482.2L192.6 482.0L193.1 481.9L193.6 481.8L193.8 481.8L194.1 481.8L194.6 481.7L195.1 481.6L195.6 481.6L196.1 481.5L196.6 481.5L197.1 481.4L197.6 481.4L198.1 481.3L198.6 481.3L199.1 481.2L199.6 481.2L200.1 481.2L200.6 481.1L201.1 481.1L201.6 481.1L202.1 481.0L202.6 481.0L203.1 481.0L203.6 480.9L204.1 480.9L204.6 480.9L205.1 480.8L205.5 480.8L205.6 480.8L206.1 480.8L206.6 480.7L207.1 480.7L207.6 480.6L208.1 480.6L208.6 480.5L209.1 480.5L209.6 480.5L210.1 480.4L210.6 480.4L211.1 480.4L211.3 480.4L211.6 480.4L212.1 480.5L212.6 480.7L213.1 480.9L213.6 481.2L214.1 481.5L214.6 481.8L215.1 482.1L215.6 482.5L216.1 482.8L216.6 483.0L217.1 483.3L217.2 483.3L217.6 483.5L218.1 483.7L218.6 483.9L219.1 484.1L219.6 484.3L220.1 484.5L220.6 484.7L221.1 484.8L221.6 485.0L222.1 485.1L222.6 485.3L223.1 485.4L223.6 485.4L224.1 485.5L224.5 485.5L224.6 485.5L225.1 485.5L225.6 485.5L226.1 485.5L226.6 485.5L227.1 485.5L227.6 485.5L228.1 485.5L228.6 485.5L229.1 485.5L229.6 485.5L230.1 484.0L230.6 481.4L231.0 480.4L231.1 480.4L231.6 480.7L232.1 481.1L232.6 481.5L233.1 481.8L233.2 481.8L233.6 481.2L234.1 479.0L234.6 475.6L235.0 472.4L235.1 471.4L235.6 463.3L235.7 461.2L236.1 447.6L236.3 441.1L236.6 434.1L237.1 424.3L237.3 420.7L237.5 417.1L237.6 415.2L238.1 407.4L238.3 406.4L238.6 408.5L239.1 417.1L239.3 420.7L239.6 426.4L240.0 434.7L240.1 436.7L240.3 440.9L240.6 447.9L241.1 458.9L241.2 460.5L241.3 461.8L241.6 465.0L242.1 469.0L242.4 469.9L242.6 469.9L243.1 469.7L243.6 469.2L244.1 467.8L244.6 464.9L245.1 461.4L245.2 460.6L245.3 459.8L245.6 456.4L246.1 449.7L246.2 448.6L246.6 444.1L247.1 440.4L247.2 440.2L247.6 441.9L248.1 446.7L248.3 448.7L248.6 451.7L249.1 456.8L249.2 457.7L249.6 461.5L250.1 466.3L250.6 470.6L250.9 472.4L251.1 473.3L251.6 475.3L252.1 476.7L252.4 476.9L252.6 476.9L253.1 476.2L253.6 475.1L254.1 474.0L254.6 473.4L254.8 473.3L255.1 473.6L255.6 474.7L256.1 476.1L256.6 477.4L257.0 477.8L257.1 477.7L257.6 477.5L258.1 477.0L258.6 476.5L259.1 476.1L259.4 476.0L259.6 476.1L260.1 477.0L260.6 478.3L261.1 479.8L261.6 480.8L261.9 481.1L262.1 481.2L262.6 481.3L263.1 481.4L263.6 481.5L264.1 481.6L264.6 481.6L265.0 481.6L265.1 481.6L265.6 481.4L266.1 481.1L266.6 480.8L267.0 480.6L267.1 480.7L267.6 480.8L268.1 481.2L268.6 481.5L269.1 481.6L269.6 481.5L270.1 481.1L270.6 480.5L271.1 479.9L271.6 479.3L272.1 478.9L272.6 478.7L272.7 478.6L273.1 479.0L273.6 480.0L274.1 481.0L274.2 481.1L274.6 481.6L275.1 482.2L275.6 482.6L276.1 482.8L276.2 482.8L276.6 482.5L277.1 481.7L277.6 480.7L278.1 480.0L278.3 479.9L278.6 480.1L279.1 481.1L279.6 482.4L280.1 483.5L280.3 483.7L280.6 483.9L280.8 483.8L281.1 483.4L281.6 482.3L282.1 480.8L282.6 479.5L283.1 478.6L283.4 478.4L283.6 478.4L284.1 478.8L284.6 479.4L285.1 480.1L285.4 480.6L285.6 480.9L286.1 482.2L286.6 483.7L287.0 484.8L287.1 485.0L287.6 486.3L288.1 487.5L288.6 488.4L289.0 488.7L289.1 488.7L289.6 488.7L290.1 488.5L290.6 488.2L291.1 488.0L291.6 488.0L292.1 488.3L292.6 488.8L293.1 489.5L293.6 490.2L294.1 491.4L294.6 493.2L295.1 494.7L295.6 495.4L296.1 494.7L296.6 493.0L297.1 491.1L297.6 490.0L297.7 489.9L298.1 489.7L298.6 489.5L299.1 489.4L299.6 489.3L300.1 489.3L300.2 489.2L300.6 489.3L301.1 489.6L301.6 490.0L302.1 490.4L302.6 491.0L302.8 491.2L303.1 491.6L303.6 492.8L304.1 494.1L304.6 495.3L305.1 496.0L305.3 496.0L305.6 495.9L306.1 495.2L306.6 494.0L307.1 492.8L307.6 491.7L307.9 491.2L308.1 491.0L308.6 490.4L309.1 489.9L309.6 489.4L310.1 488.9L310.6 488.5L311.1 488.1L311.6 487.7L312.1 487.4L312.6 487.0L313.0 486.8L313.1 486.7L313.6 486.4L314.1 486.1L314.6 485.8L315.1 485.5L315.6 485.2L316.1 485.0L316.6 484.7L317.1 484.5L317.6 484.3L318.1 484.1L318.6 483.9L319.1 483.7L319.6 483.6L320.1 483.4L320.6 483.3L321.1 483.1L321.6 483.0L322.1 482.8L322.2 482.8L322.6 482.7L323.1 482.5L323.6 482.3L324.1 482.1L324.6 482.0L325.1 481.8L325.6 481.7L326.1 481.7L326.3 481.6L326.6 481.7L327.1 481.8L327.6 482.1L328.1 482.5L328.3 482.6L328.6 483.0L329.1 484.0L329.6 485.3L329.8 485.8" stroke="#800000" stroke-width="1.10" fill="none" stroke-linejoin="round"/>
<path d="M45.6 482.5L46.1 482.5L46.6 482.5L47.1 482.5L47.6 482.5L48.1 482.5L48.6 482.5L49.1 482.5L49.6 482.5L50.1 482.5L50.6 482.5L51.1 482.5L51.6 482.5L52.1 482.5L52.6 482.5L53.1 482.5L53.6 482.5L54.1 482.5L54.6 482.5L55.1 482.5L55.6 482.5L56.1 482.5L56.6 482.5L57.1 482.5L57.6 482.5L58.1 482.5L58.6 482.5L59.1 482.5L59.6 482.5L60.0 482.5L60.1 482.5L60.6 482.5L61.1 482.5L61.6 482.5L62.1 482.4L62.6 482.4L63.1 482.4L63.6 482.4L64.1 482.3L64.6 482.3L65.1 482.3L65.6 482.2L66.0 482.2L66.1 482.2L66.6 482.2L67.1 482.1L67.6 482.1L68.1 482.0L68.6 481.9L69.1 481.8L69.6 481.7L69.7 481.6L70.0 481.5L70.1 481.5L70.6 481.1L71.1 480.5L71.6 479.9L72.1 479.0L72.5 478.3L72.6 478.1L73.0 477.3L73.1 477.1L73.6 475.7L74.1 473.7L74.6 471.5L75.1 469.0L75.5 467.0L75.6 466.5L76.1 463.7L76.6 460.8L77.1 457.9L77.6 454.9L78.0 452.5L78.1 451.9L78.6 448.8L79.1 445.7L79.6 442.5L80.1 439.4L80.5 436.8L80.6 436.2L81.1 433.0L81.6 429.7L82.1 426.4L82.6 423.1L83.0 420.5L83.1 419.9L83.6 416.7L83.8 415.4L84.1 413.5L84.6 410.4L85.1 407.6L85.6 404.8L86.1 402.3L86.5 400.6L86.6 400.2L87.1 398.5L87.6 397.0L87.9 396.2L88.1 395.7L88.6 394.3L89.0 393.1L89.1 392.8L89.6 391.2L90.1 389.5L90.6 387.8L91.1 386.0L91.6 384.4L92.0 383.1L92.1 382.8L92.6 381.3L93.1 379.9L93.6 378.5L94.1 377.0L94.5 375.7L94.6 375.4L95.1 373.7L95.6 371.9L96.1 369.9L96.6 367.8L97.0 366.1L97.1 365.6L97.6 363.0L97.9 361.3L98.1 360.1L98.6 357.1L99.1 354.1L99.6 351.2L100.1 348.1L100.6 345.3L101.0 343.5L101.1 343.1L101.6 341.0L102.1 339.1L102.6 337.9L102.8 337.8L103.1 338.2L103.6 340.1L104.1 342.8L104.3 343.9L104.5 345.2L104.6 346.0L105.1 350.5L105.6 355.0L106.1 358.7L106.6 362.1L106.8 363.4L107.1 365.3L107.6 368.5L108.1 371.7L108.4 373.7L108.6 375.0L109.1 378.4L109.6 381.9L110.1 385.3L110.3 386.6L110.6 388.6L111.0 391.3L111.1 391.9L111.6 395.1L112.1 398.3L112.6 401.5L113.0 404.1L113.1 404.7L113.6 408.1L114.1 411.5L114.6 414.7L115.1 417.6L115.6 420.1L115.8 421.1L116.1 422.5L116.6 424.7L117.1 426.7L117.6 428.5L117.9 429.5L118.1 430.1L118.6 431.3L119.0 432.3L119.1 432.5L119.6 433.6L120.0 434.5L120.1 434.8L120.6 436.0L121.1 437.3L121.6 438.6L122.0 439.6L122.1 439.9L122.6 441.1L122.7 441.4L123.1 442.3L123.6 443.6L124.1 444.8L124.6 446.0L125.0 446.9L125.1 447.2L125.5 448.2L125.6 448.5L126.1 450.0L126.6 451.3L127.1 452.4L127.6 452.9L128.1 452.9L128.3 452.7L128.5 452.6L128.6 452.5L129.1 451.5L129.6 449.8L129.8 449.0L130.1 445.9L130.6 437.4L130.7 436.0L131.0 433.9L131.1 433.9L131.6 434.6L132.0 435.0L132.1 434.7L132.6 428.5L132.8 425.8L133.1 421.5L133.5 417.8L133.6 418.1L134.1 426.0L134.2 427.9L134.4 431.8L134.6 436.2L134.8 441.1L135.1 451.0L135.3 454.5L135.6 454.6L136.1 454.4L136.6 454.1L137.1 453.7L137.5 453.1L137.6 452.9L138.1 451.3L138.6 449.2L139.0 447.9L139.1 447.7L139.5 447.5L139.6 447.6L140.1 449.9L140.6 453.7L140.8 455.3L141.1 459.2L141.6 467.3L141.8 469.1L142.1 470.3L142.6 471.9L142.7 472.1L143.1 473.0L143.6 473.8L144.1 474.4L144.5 474.9L144.6 475.0L145.1 475.6L145.6 476.1L146.1 476.6L146.6 477.0L147.1 477.4L147.6 477.7L148.1 478.1L148.6 478.3L149.1 478.6L149.6 478.8L150.0 479.0L150.1 479.0L150.6 479.2L151.1 479.4L151.6 479.6L152.1 479.7L152.6 479.8L153.1 480.0L153.6 480.1L154.1 480.2L154.6 480.3L155.1 480.4L155.6 480.5L156.1 480.6L156.6 480.7L157.1 480.8L157.4 480.9L157.6 481.0L158.1 481.1L158.6 481.2L159.1 481.3L159.6 481.4L160.1 481.5L160.6 481.6L161.0 481.7L161.1 481.8L161.6 481.9L162.1 482.2L162.6 482.4L163.1 482.7L163.6 483.0L164.1 483.3L164.6 483.6L165.1 483.8L165.6 484.1L166.1 484.4L166.6 484.6L167.1 484.9L167.6 485.2L168.1 485.5L168.6 485.8L169.1 486.0L169.6 486.3L170.1 486.5L170.6 486.8L171.1 487.0L171.6 487.1L171.9 487.3L172.1 487.3L172.6 487.5L173.1 487.6L173.6 487.8L174.1 488.0L174.6 488.1L175.1 488.3L175.6 488.4L176.1 488.6L176.6 488.7L177.1 488.9L177.6 489.0L178.1 489.1L178.6 489.2L179.1 489.2L179.6 489.3L180.1 489.3L180.6 489.3L180.7 489.3L181.1 489.2L181.6 489.0L182.1 488.5L182.6 487.9L183.1 487.3L183.6 486.6L184.1 486.0L184.6 485.5L185.0 485.2L185.1 485.2L185.6 484.9L186.1 484.6L186.6 484.3L187.1 484.1L187.6 483.8L188.1 483.6L188.6 483.4L189.1 483.2L189.6 483.0L190.1 482.8L190.6 482.6L191.1 482.4L191.6 482.3L192.1 482.1L192.6 482.0L193.1 481.9L193.6 481.8L193.8 481.8L194.1 481.8L194.6 481.7L195.1 481.6L195.6 481.6L196.1 481.5L196.6 481.5L197.1 481.4L197.6 481.4L198.1 481.3L198.6 481.3L199.1 481.2L199.6 481.2L200.1 481.2L200.6 481.1L201.1 481.1L201.6 481.1L202.1 481.0L202.6 481.0L203.1 481.0L203.6 480.9L204.1 480.9L204.6 480.9L205.1 480.8L205.5 480.8L205.6 480.8L206.1 480.8L206.6 480.7L207.1 480.7L207.6 480.6L208.1 480.6L208.6 480.5L209.1 480.5L209.6 480.5L210.1 480.4L210.6 480.4L211.1 480.4L211.3 480.4L211.6 480.4L212.1 480.5L212.6 480.7L213.1 480.9L213.6 481.2L214.1 481.5L214.6 481.8L215.1 482.1L215.6 482.5L216.1 482.8L216.6 483.0L217.1 483.3L217.2 483.3L217.6 483.5L218.1 483.7L218.6 483.9L219.1 484.1L219.6 484.3L220.1 484.5L220.6 484.7L221.1 484.8L221.6 485.0L222.1 485.1L222.6 485.3L223.1 485.4L223.6 485.4L224.1 485.5L224.5 485.5L224.6 485.5L225.1 485.5L225.6 485.5L226.1 485.5L226.6 485.5L227.1 485.5L227.6 485.5L228.1 485.5L228.6 485.5L229.1 485.5L229.6 485.5L230.1 484.0L230.6 481.4L231.0 480.4L231.1 480.4L231.6 480.7L232.1 481.1L232.6 481.5L233.1 481.8L233.2 481.8L233.6 481.1L234.1 478.8L234.6 475.2L235.0 471.8L235.1 470.7L235.6 462.0L235.7 459.7L236.1 444.6L236.3 437.5L236.6 429.8L237.1 419.3L237.3 415.5L237.5 411.6L237.6 409.5L238.1 401.0L238.3 399.9L238.6 402.2L239.1 411.6L239.3 415.5L239.6 421.6L240.0 430.5L240.1 432.8L240.3 437.3L240.6 444.9L241.1 457.1L241.2 458.8L241.3 460.2L241.6 463.7L242.1 467.9L242.4 468.9L242.6 468.9L243.1 468.6L243.6 468.1L244.1 466.5L244.6 463.6L245.1 460.0L245.2 459.2L245.3 458.4L245.6 454.7L246.1 447.4L246.2 446.2L246.6 441.3L247.1 437.2L247.2 437.1L247.6 438.9L248.1 444.1L248.3 446.3L248.6 449.5L249.1 454.9L249.2 455.9L249.6 460.0L250.1 465.2L250.6 469.8L250.9 471.8L251.1 472.7L251.6 475.0L252.1 476.5L252.4 476.8L252.6 476.7L253.1 476.1L253.6 475.0L254.1 474.0L254.6 473.3L254.8 473.3L255.1 473.5L255.6 474.7L256.1 476.2L256.6 477.4L257.0 477.8L257.1 477.8L257.6 477.6L258.1 477.1L258.6 476.6L259.1 476.3L259.4 476.3L259.6 476.4L260.1 477.3L260.6 478.6L261.1 480.0L261.6 481.1L261.9 481.3L262.1 481.3L262.6 481.4L263.1 481.5L263.6 481.5L264.1 481.5L264.6 481.6L265.0 481.6L265.1 481.6L265.6 481.4L266.1 481.0L266.6 480.7L267.0 480.6L267.1 480.6L267.6 480.8L268.1 481.1L268.6 481.4L269.1 481.6L269.6 481.4L270.1 481.0L270.6 480.4L271.1 479.8L271.6 479.2L272.1 478.8L272.6 478.6L272.7 478.6L273.1 478.9L273.6 480.0L274.1 480.9L274.2 481.1L274.6 481.5L275.1 482.0L275.6 482.4L276.1 482.6L276.2 482.6L276.6 482.4L277.1 481.5L277.6 480.5L278.1 479.8L278.3 479.7L278.6 479.9L279.1 480.7L279.6 481.9L280.1 482.7L280.3 482.9L280.6 482.9L280.8 482.7L281.1 482.4L281.6 481.4L282.1 480.1L282.6 479.0L283.1 478.3L283.4 478.1L283.6 478.2L284.1 478.6L284.6 479.2L285.1 480.0L285.4 480.5L285.6 480.9L286.1 482.1L286.6 483.4L287.0 484.4L287.1 484.6L287.6 485.7L288.1 486.7L288.6 487.5L289.0 487.9L289.1 487.9L289.6 487.9L290.1 487.9L290.6 487.8L291.1 487.7L291.6 487.8L292.1 488.1L292.6 488.5L293.1 489.0L293.6 489.6L294.1 490.7L294.6 492.2L295.1 493.6L295.6 494.2L296.1 493.6L296.6 492.1L297.1 490.5L297.6 489.5L297.7 489.4L298.1 489.3L298.6 489.1L299.1 489.0L299.6 488.9L300.1 488.9L300.2 488.9L300.6 488.9L301.1 489.2L301.6 489.5L302.1 489.9L302.6 490.4L302.8 490.6L303.1 491.0L303.6 492.0L304.1 493.2L304.6 494.3L305.1 495.0L305.3 495.0L305.6 494.9L306.1 494.2L306.6 493.2L307.1 492.0L307.6 491.0L307.9 490.6L308.1 490.4L308.6 489.8L309.1 489.3L309.6 488.9L310.1 488.4L310.6 488.0L311.1 487.7L311.6 487.3L312.1 487.0L312.6 486.6L313.0 486.4L313.1 486.3L313.6 486.0L314.1 485.7L314.6 485.4L315.1 485.1L315.6 484.9L316.1 484.6L316.6 484.4L317.1 484.2L317.6 484.0L318.1 483.8L318.6 483.6L319.1 483.5L319.6 483.3L320.1 483.2L320.6 483.1L321.1 482.9L321.6 482.8L322.1 482.7L322.2 482.6L322.6 482.5L323.1 482.4L323.6 482.2L324.1 482.0L324.6 481.9L325.1 481.7L325.6 481.6L326.1 481.6L326.3 481.6L326.6 481.6L327.1 481.8L327.6 482.0L328.1 482.4L328.3 482.6L328.6 482.9L329.1 483.9L329.6 485.1L329.8 485.7" stroke="#ff0000" stroke-width="1.10" fill="none" stroke-linejoin="round"/>
<path d="M45.6 482.5L46.1 482.5L46.6 482.5L47.1 482.5L47.6 482.5L48.1 482.5L48.6 482.5L49.1 482.5L49.6 482.5L50.1 482.5L50.6 482.5L51.1 482.3L51.6 481.9L52.1 481.7L52.6 482.1L53.1 482.4L53.6 482.5L54.1 482.5L54.6 482.1L55.1 480.9L55.6 480.3L56.1 481.4L56.6 482.3L57.1 482.3L57.6 481.6L58.1 481.3L58.6 481.9L59.1 482.4L59.6 482.5L60.0 482.4L60.1 482.3L60.6 481.8L61.1 481.6L61.6 482.0L62.1 482.4L62.6 482.4L63.1 482.3L63.6 481.9L64.1 480.6L64.6 479.9L65.1 481.1L65.6 482.0L66.0 482.0L66.1 482.0L66.6 481.3L67.1 481.0L67.6 481.5L68.1 481.9L68.6 482.0L69.1 481.9L69.6 481.8L69.7 481.8L70.0 481.7L70.1 481.6L70.6 481.0L71.1 479.7L71.6 478.7L72.1 478.7L72.5 478.5L72.6 478.3L73.0 477.3L73.1 477.0L73.6 475.4L74.1 474.1L74.6 472.5L75.1 470.2L75.5 468.2L75.6 467.7L76.1 465.0L76.6 462.2L77.1 459.3L77.6 456.4L78.0 454.0L78.1 453.4L78.6 450.4L79.1 447.4L79.6 444.4L80.1 441.4L80.5 439.0L80.6 438.4L81.1 435.3L81.6 432.3L82.1 429.2L82.6 426.2L83.0 423.8L83.1 423.3L83.6 420.3L83.8 419.2L84.1 417.4L84.6 414.6L85.1 412.0L85.6 409.5L86.1 407.2L86.5 405.6L86.6 405.2L87.1 403.6L87.6 402.2L87.9 401.5L88.1 400.9L88.6 399.7L89.0 398.6L89.1 398.3L89.6 396.8L90.1 395.3L90.6 393.8L91.1 392.2L91.6 390.7L92.0 389.5L92.1 389.3L92.6 387.9L93.1 386.6L93.6 385.4L94.1 384.0L94.5 382.9L94.6 382.6L95.1 381.1L95.6 379.4L96.1 377.7L96.6 375.9L97.0 374.3L97.1 373.9L97.6 371.6L97.9 370.1L98.1 369.0L98.6 366.4L99.1 363.8L99.6 361.1L100.1 358.4L100.6 356.0L101.0 354.3L101.1 354.0L101.6 352.1L102.1 350.4L102.6 349.4L102.8 349.3L103.1 349.6L103.6 351.3L104.1 353.9L104.3 354.9L104.5 356.2L104.6 356.9L105.1 361.0L105.6 365.2L106.1 368.7L106.6 371.9L106.8 373.1L107.1 375.0L107.6 377.9L108.1 380.9L108.4 382.8L108.6 384.1L109.1 387.3L109.6 390.4L110.1 393.6L110.3 394.8L110.6 396.6L111.0 399.0L111.1 399.6L111.6 402.5L112.1 405.4L112.6 408.2L113.0 410.5L113.1 411.1L113.6 414.1L114.1 417.2L114.6 420.1L115.1 422.7L115.6 425.0L115.8 425.9L116.1 427.1L116.6 429.1L117.1 430.9L117.6 432.6L117.9 433.4L118.1 434.0L118.6 435.1L119.0 436.0L119.1 436.2L119.6 437.2L120.0 438.1L120.1 438.3L120.6 439.4L121.1 440.5L121.6 441.7L122.0 442.6L122.1 442.8L122.6 444.0L122.7 444.2L123.1 445.1L123.6 446.2L124.1 447.3L124.6 448.4L125.0 449.2L125.1 449.4L125.5 450.4L125.6 450.7L126.1 452.0L126.6 453.3L127.1 454.4L127.6 454.9L128.1 454.9L128.3 454.8L128.5 454.7L128.6 454.6L129.1 453.6L129.6 451.9L129.8 451.1L130.1 448.3L130.6 441.0L130.7 439.8L131.0 438.0L131.1 437.9L131.6 438.5L132.0 438.7L132.1 438.4L132.6 432.8L132.8 430.3L133.1 426.5L133.5 423.2L133.6 423.6L134.1 430.8L134.2 432.5L134.4 436.1L134.6 440.2L134.8 444.7L135.1 453.5L135.3 456.7L135.6 456.7L136.1 456.7L136.6 456.4L137.1 456.1L137.5 455.5L137.6 455.3L138.1 453.7L138.6 451.7L139.0 450.5L139.1 450.4L139.5 450.3L139.6 450.5L140.1 452.8L140.6 456.4L140.8 457.9L141.1 461.4L141.6 468.4L141.8 470.0L142.1 471.2L142.6 472.6L142.7 472.9L143.1 473.6L143.6 474.4L144.1 475.0L144.5 475.5L144.6 475.6L145.1 476.1L145.6 476.6L146.1 477.0L146.6 477.4L147.1 477.8L147.6 478.1L148.1 478.4L148.6 478.6L149.1 478.9L149.6 479.1L150.0 479.2L150.1 479.3L150.6 479.4L151.1 479.6L151.6 479.7L152.1 479.9L152.6 480.0L153.1 480.1L153.6 480.2L154.1 480.3L154.6 480.4L155.1 480.5L155.6 480.6L156.1 480.7L156.6 480.8L157.1 480.9L157.4 481.0L157.6 481.0L158.1 481.1L158.6 481.2L159.1 481.3L159.6 481.5L160.1 481.6L160.6 481.7L161.0 481.8L161.1 481.9L161.6 482.1L162.1 482.3L162.6 482.6L163.1 482.9L163.6 483.2L164.1 483.4L164.6 483.7L165.1 484.0L165.6 484.3L166.1 484.5L166.6 484.8L167.1 485.1L167.6 485.4L168.1 485.7L168.6 486.0L169.1 486.2L169.6 486.5L170.1 486.7L170.6 487.0L171.1 487.2L171.6 487.4L171.9 487.5L172.1 487.5L172.6 487.7L173.1 487.9L173.6 488.0L174.1 488.2L174.6 488.3L175.1 488.5L175.6 488.6L176.1 488.8L176.6 488.9L177.1 489.0L177.6 489.2L178.1 489.3L178.6 489.3L179.1 489.4L179.6 489.5L180.1 489.5L180.6 489.5L180.7 489.5L181.1 489.4L181.6 489.1L182.1 488.7L182.6 488.1L183.1 487.4L183.6 486.8L184.1 486.2L184.6 485.6L185.0 485.3L185.1 485.3L185.6 485.0L186.1 484.7L186.6 484.4L187.1 484.2L187.6 483.9L188.1 483.7L188.6 483.4L189.1 483.2L189.6 483.0L190.1 482.8L190.6 482.6L191.1 482.4L191.6 482.3L192.1 482.1L192.6 482.0L193.1 481.9L193.6 481.8L193.8 481.8L194.1 481.8L194.6 481.7L195.1 481.6L195.6 481.6L196.1 481.5L196.6 481.5L197.1 481.4L197.6 481.4L198.1 481.3L198.6 481.3L199.1 481.2L199.6 481.2L200.1 481.2L200.6 481.1L201.1 481.1L201.6 481.1L202.1 481.0L202.6 481.0L203.1 481.0L203.6 480.9L204.1 480.9L204.6 480.9L205.1 480.8L205.5 480.8L205.6 480.8L206.1 480.8L206.6 480.7L207.1 480.7L207.6 480.6L208.1 480.6L208.6 480.5L209.1 480.5L209.6 480.5L210.1 480.4L210.6 480.4L211.1 480.4L211.3 480.4L211.6 480.4L212.1 480.5L212.6 480.7L213.1 480.9L213.6 481.2L214.1 481.5L214.6 481.8L215.1 482.1L215.6 482.5L216.1 482.8L216.6 483.0L217.1 483.3L217.2 483.3L217.6 483.5L218.1 483.7L218.6 483.9L219.1 484.1L219.6 484.3L220.1 484.5L220.6 484.7L221.1 484.8L221.6 485.0L222.1 485.1L222.6 485.3L223.1 485.4L223.6 485.4L224.1 485.5L224.5 485.5L224.6 485.5L225.1 485.5L225.6 485.5L226.1 485.5L226.6 485.5L227.1 485.5L227.6 485.5L228.1 485.5L228.6 485.5L229.1 485.5L229.6 485.5L230.1 484.0L230.6 481.4L231.0 480.4L231.1 480.4L231.6 480.7L232.1 481.1L232.6 481.5L233.1 481.8L233.2 481.8L233.6 481.2L234.1 478.9L234.6 475.4L235.0 472.1L235.1 471.1L235.6 462.7L235.7 460.4L236.1 446.1L236.3 439.3L236.6 432.0L237.1 421.8L237.3 418.1L237.5 414.3L237.6 412.4L238.1 404.2L238.3 403.2L238.6 405.3L239.1 414.3L239.3 418.1L239.6 424.0L240.0 432.6L240.1 434.7L240.3 439.1L240.6 446.4L241.1 458.0L241.2 459.7L241.3 461.0L241.6 464.3L242.1 468.5L242.4 469.4L242.6 469.4L243.1 469.2L243.6 468.6L244.1 467.1L244.6 464.3L245.1 460.7L245.2 459.9L245.3 459.1L245.6 455.6L246.1 448.6L246.2 447.4L246.6 442.7L247.1 438.8L247.2 438.6L247.6 440.4L248.1 445.4L248.3 447.5L248.6 450.6L249.1 455.8L249.2 456.8L249.6 460.7L250.1 465.7L250.6 470.2L250.9 472.1L251.1 473.0L251.6 475.1L252.1 476.5L252.4 476.8L252.6 476.7L253.1 476.0L253.6 474.9L254.1 473.7L254.6 473.0L254.8 472.9L255.1 473.1L255.6 474.2L256.1 475.7L256.6 476.9L257.0 477.3L257.1 477.3L257.6 477.0L258.1 476.4L258.6 475.7L259.1 475.2L259.4 475.1L259.6 475.2L260.1 476.1L260.6 477.5L261.1 479.0L261.6 480.2L261.9 480.6L262.1 480.7L262.6 481.0L263.1 481.3L263.6 481.5L264.1 481.7L264.6 481.8L265.0 481.9L265.1 481.8L265.6 481.6L266.1 481.3L266.6 481.0L267.0 480.9L267.1 480.9L267.6 481.0L268.1 481.4L268.6 481.7L269.1 481.9L269.6 481.7L270.1 481.3L270.6 480.7L271.1 480.1L271.6 479.5L272.1 479.1L272.6 478.9L272.7 478.9L273.1 479.2L273.6 480.2L274.1 481.2L274.2 481.4L274.6 481.9L275.1 482.5L275.6 483.0L276.1 483.2L276.2 483.2L276.6 482.9L277.1 482.2L277.6 481.2L278.1 480.6L278.3 480.6L278.6 480.8L279.1 482.1L279.6 483.9L280.1 485.6L280.3 486.1L280.6 486.5L280.8 486.5L281.1 486.2L281.6 484.7L282.1 482.7L282.6 480.7L283.1 479.3L283.4 479.0L283.6 479.0L284.1 479.3L284.6 479.8L285.1 480.4L285.4 480.8L285.6 481.2L286.1 482.7L286.6 484.5L287.0 485.8L287.1 486.1L287.6 487.8L288.1 489.4L288.6 490.6L289.0 491.0L289.1 491.0L289.6 490.7L290.1 490.1L290.6 489.4L291.1 488.8L291.6 488.6L292.1 488.9L292.6 489.7L293.1 490.7L293.6 491.8L294.1 493.5L294.6 495.7L295.1 497.7L295.6 498.6L296.1 497.6L296.6 495.3L297.1 492.8L297.6 491.2L297.7 491.1L298.1 490.9L298.6 490.6L299.1 490.4L299.6 490.3L300.1 490.3L300.2 490.2L300.6 490.3L301.1 490.7L301.6 491.2L302.1 491.8L302.6 492.5L302.8 492.8L303.1 493.4L303.6 494.8L304.1 496.4L304.6 497.8L305.1 498.7L305.3 498.8L305.6 498.6L306.1 497.7L306.6 496.2L307.1 494.7L307.6 493.4L307.9 492.8L308.1 492.5L308.6 491.8L309.1 491.2L309.6 490.7L310.1 490.2L310.6 489.7L311.1 489.2L311.6 488.8L312.1 488.4L312.6 488.0L313.0 487.8L313.1 487.7L313.6 487.3L314.1 487.0L314.6 486.7L315.1 486.4L315.6 486.1L316.1 485.9L316.6 485.6L317.1 485.4L317.6 485.1L318.1 484.9L318.6 484.7L319.1 484.4L319.6 484.2L320.1 484.0L320.6 483.8L321.1 483.6L321.6 483.4L322.1 483.2L322.2 483.2L322.6 483.0L323.1 482.8L323.6 482.6L324.1 482.4L324.6 482.2L325.1 482.0L325.6 481.9L326.1 481.9L326.3 481.9L326.6 481.9L327.1 482.0L327.6 482.3L328.1 482.7L328.3 482.9L328.6 483.2L329.1 484.3L329.6 485.7L329.8 486.3" stroke="#008000" stroke-width="1.10" fill="none" stroke-linejoin="round"/>
<path d="M45.6 482.5L46.1 482.5L46.6 482.5L47.1 482.5L47.6 482.5L48.1 482.5L48.6 482.5L49.1 482.5L49.6 482.5L50.1 482.5L50.6 482.5L51.1 482.5L51.6 482.5L52.1 482.5L52.6 482.5L53.1 482.5L53.6 482.5L54.1 482.5L54.6 482.5L55.1 482.5L55.6 482.5L56.1 482.5L56.6 482.5L57.1 482.4L57.6 482.2L58.1 482.1L58.6 482.3L59.1 482.5L59.6 482.5L60.0 482.5L60.1 482.5L60.6 482.5L61.1 482.5L61.6 482.5L62.1 482.5L62.6 482.4L63.1 482.4L63.6 482.4L64.1 482.3L64.6 482.3L65.1 482.2L65.6 481.9L66.0 481.7L66.1 481.7L66.6 481.9L67.1 482.0L67.6 482.0L68.1 481.9L68.6 481.8L69.1 481.6L69.6 481.4L69.7 481.4L70.0 481.2L70.1 481.2L70.6 480.7L71.1 480.1L71.6 479.3L72.1 478.4L72.5 477.5L72.6 477.3L73.0 476.4L73.1 476.2L73.6 474.5L74.1 472.3L74.6 469.7L75.1 466.9L75.5 464.8L75.6 464.3L76.1 461.5L76.6 458.5L77.1 455.5L77.6 452.3L78.0 449.8L78.1 449.2L78.6 446.0L79.1 442.7L79.6 439.4L80.1 436.0L80.5 433.2L80.6 432.5L81.1 428.9L81.6 425.2L82.1 421.5L82.6 417.8L83.0 414.9L83.1 414.2L83.6 410.5L83.8 409.0L84.1 406.8L84.6 403.3L85.1 400.0L85.6 396.9L86.1 393.9L86.5 392.0L86.6 391.6L87.1 389.7L87.6 388.1L87.9 387.2L88.1 386.7L88.6 385.1L89.0 383.8L89.1 383.4L89.6 381.6L90.1 379.6L90.6 377.5L91.1 375.5L91.6 373.5L92.0 372.0L92.1 371.6L92.6 369.9L93.1 368.3L93.6 366.7L94.1 365.0L94.5 363.5L94.6 363.1L95.1 361.1L95.6 358.9L96.1 356.6L96.6 354.1L97.0 352.0L97.1 351.4L97.6 348.3L97.9 346.2L98.1 344.8L98.6 341.2L99.1 337.7L99.6 334.2L100.1 330.5L100.6 327.2L101.0 325.0L101.1 324.5L101.6 322.0L102.1 319.8L102.6 318.4L102.8 318.3L103.1 318.7L103.6 320.8L104.1 323.7L104.3 325.0L104.5 326.5L104.6 327.4L105.1 332.6L105.6 337.7L106.1 341.7L106.6 345.4L106.8 346.8L107.1 348.9L107.6 352.3L108.1 355.8L108.4 358.0L108.6 359.5L109.1 363.3L109.6 367.2L110.1 371.1L110.3 372.6L110.6 374.9L111.0 378.0L111.1 378.8L111.6 382.5L112.1 386.3L112.6 390.0L113.0 393.0L113.1 393.8L113.6 397.7L114.1 401.7L114.6 405.5L115.1 408.8L115.6 411.8L115.8 412.9L116.1 414.5L116.6 417.1L117.1 419.5L117.6 421.6L117.9 422.7L118.1 423.4L118.6 424.8L119.0 425.9L119.1 426.2L119.6 427.4L120.0 428.5L120.1 428.8L120.6 430.2L121.1 431.7L121.6 433.2L122.0 434.4L122.1 434.7L122.6 436.2L122.7 436.5L123.1 437.7L123.6 439.1L124.1 440.5L124.6 441.9L125.0 443.0L125.1 443.3L125.5 444.5L125.6 444.8L126.1 446.5L126.6 448.0L127.1 449.1L127.6 449.5L128.1 449.3L128.3 449.2L128.5 449.0L128.6 448.9L129.1 448.0L129.6 446.3L129.8 445.4L130.1 441.7L130.6 431.3L130.7 429.5L131.0 426.9L131.1 427.0L131.6 428.1L132.0 428.7L132.1 428.4L132.6 421.2L132.8 418.0L133.1 412.9L133.5 408.5L133.6 408.9L134.1 417.9L134.2 420.0L134.4 424.4L134.6 429.5L134.8 435.0L135.1 446.7L135.3 450.9L135.6 450.9L136.1 450.6L136.6 450.1L137.1 449.5L137.5 449.0L137.6 448.8L138.1 447.2L138.6 445.0L139.0 443.5L139.1 443.2L139.5 442.6L139.6 442.7L140.1 444.9L140.6 449.0L140.8 450.9L141.1 455.6L141.6 465.5L141.8 467.5L142.1 468.8L142.6 470.5L142.7 470.8L143.1 471.8L143.6 472.7L144.1 473.5L144.5 474.0L144.6 474.1L145.1 474.8L145.6 475.3L146.1 475.9L146.6 476.3L147.1 476.8L147.6 477.2L148.1 477.5L148.6 477.9L149.1 478.1L149.6 478.4L150.0 478.6L150.1 478.6L150.6 478.9L151.1 479.1L151.6 479.2L152.1 479.4L152.6 479.6L153.1 479.7L153.6 479.9L154.1 480.0L154.6 480.1L155.1 480.3L155.6 480.4L156.1 480.5L156.6 480.6L157.1 480.7L157.4 480.8L157.6 480.8L158.1 480.9L158.6 481.0L159.1 481.1L159.6 481.2L160.1 481.3L160.6 481.4L161.0 481.5L161.1 481.5L161.6 481.7L162.1 481.9L162.6 482.2L163.1 482.5L163.6 482.8L164.1 483.0L164.6 483.3L165.1 483.6L165.6 483.8L166.1 484.1L166.6 484.4L167.1 484.6L167.6 484.9L168.1 485.2L168.6 485.4L169.1 485.7L169.6 485.9L170.1 486.2L170.6 486.4L171.1 486.6L171.6 486.8L171.9 486.9L172.1 487.0L172.6 487.1L173.1 487.3L173.6 487.5L174.1 487.6L174.6 487.8L175.1 488.0L175.6 488.1L176.1 488.3L176.6 488.4L177.1 488.5L177.6 488.6L178.1 488.7L178.6 488.8L179.1 488.9L179.6 488.9L180.1 489.0L180.6 489.0L180.7 489.0L181.1 488.9L181.6 488.6L182.1 488.2L182.6 487.6L183.1 487.0L183.6 486.3L184.1 485.8L184.6 485.3L185.0 485.0L185.1 484.9L185.6 484.7L186.1 484.4L186.6 484.2L187.1 483.9L187.6 483.7L188.1 483.5L188.6 483.3L189.1 483.1L189.6 482.9L190.1 482.7L190.6 482.5L191.1 482.4L191.6 482.2L192.1 482.1L192.6 482.0L193.1 481.9L193.6 481.8L193.8 481.8L194.1 481.8L194.6 481.7L195.1 481.6L195.6 481.6L196.1 481.5L196.6 481.5L197.1 481.4L197.6 481.4L198.1 481.3L198.6 481.3L199.1 481.2L199.6 481.2L200.1 481.2L200.6 481.1L201.1 481.1L201.6 481.1L202.1 481.0L202.6 481.0L203.1 481.0L203.6 480.9L204.1 480.9L204.6 480.9L205.1 480.8L205.5 480.8L205.6 480.8L206.1 480.8L206.6 480.7L207.1 480.7L207.6 480.6L208.1 480.6L208.6 480.5L209.1 480.5L209.6 480.5L210.1 480.4L210.6 480.4L211.1 480.4L211.3 480.4L211.6 480.4L212.1 480.5L212.6 480.7L213.1 480.9L213.6 481.2L214.1 481.5L214.6 481.8L215.1 482.1L215.6 482.5L216.1 482.8L216.6 483.0L217.1 483.3L217.2 483.3L217.6 483.5L218.1 483.7L218.6 483.9L219.1 484.1L219.6 484.3L220.1 484.5L220.6 484.7L221.1 484.8L221.6 485.0L222.1 485.1L222.6 485.3L223.1 485.4L223.6 485.4L224.1 485.5L224.5 485.5L224.6 485.5L225.1 485.5L225.6 485.5L226.1 485.5L226.6 485.5L227.1 485.5L227.6 485.5L228.1 485.5L228.6 485.5L229.1 485.5L229.6 485.5L230.1 484.0L230.6 481.4L231.0 480.4L231.1 480.4L231.6 480.7L232.1 481.1L232.6 481.5L233.1 481.8L233.2 481.8L233.6 480.9L234.1 477.7L234.6 472.8L235.0 468.0L235.1 466.6L235.6 454.3L235.7 451.0L236.1 427.2L236.3 416.0L236.6 404.9L237.1 390.3L237.3 385.0L237.5 379.3L237.6 376.2L238.1 363.7L238.3 362.2L238.6 365.5L239.1 379.3L239.3 385.0L239.6 393.5L240.0 406.1L240.1 409.4L240.3 416.0L240.6 427.3L241.1 446.3L241.2 449.0L241.3 451.0L241.6 455.9L242.1 461.8L242.4 463.0L242.6 462.9L243.1 462.2L243.6 461.0L244.1 459.1L244.6 456.1L245.1 452.0L245.2 451.0L245.3 449.8L245.6 444.4L246.1 433.7L246.2 432.0L246.6 425.0L247.1 418.7L247.2 418.5L247.6 421.3L248.1 429.0L248.3 432.0L248.6 436.2L249.1 443.7L249.2 445.2L249.6 451.0L250.1 458.4L250.6 465.1L250.9 468.0L251.1 469.5L251.6 472.9L252.1 475.2L252.4 475.6L252.6 475.5L253.1 474.8L253.6 473.6L254.1 472.4L254.6 471.7L254.8 471.6L255.1 471.8L255.6 473.1L256.1 474.7L256.6 476.1L257.0 476.5L257.1 476.5L257.6 476.1L258.1 475.4L258.6 474.7L259.1 474.2L259.4 474.1L259.6 474.2L260.1 475.1L260.6 476.7L261.1 478.4L261.6 479.7L261.9 480.2L262.1 480.4L262.6 480.8L263.1 481.2L263.6 481.6L264.1 481.8L264.6 482.0L265.0 482.0L265.1 482.0L265.6 481.8L266.1 481.4L266.6 481.1L267.0 481.0L267.1 481.0L267.6 481.2L268.1 481.5L268.6 481.9L269.1 482.0L269.6 481.8L270.1 481.4L270.6 480.9L271.1 480.3L271.6 479.7L272.1 479.2L272.6 479.0L272.7 479.0L273.1 479.3L273.6 480.3L274.1 481.4L274.2 481.5L274.6 482.0L275.1 482.7L275.6 483.2L276.1 483.5L276.2 483.5L276.6 483.3L277.1 482.5L277.6 481.6L278.1 481.1L278.3 481.0L278.6 481.3L279.1 482.8L279.6 485.0L280.1 487.1L280.3 487.8L280.6 488.5L280.8 488.6L281.1 488.3L281.6 486.5L282.1 484.0L282.6 481.6L283.1 479.8L283.4 479.5L283.6 479.5L284.1 479.7L284.6 480.1L285.1 480.6L285.4 481.0L285.6 481.4L286.1 483.0L286.6 485.1L287.0 486.6L287.1 486.9L287.6 488.9L288.1 490.8L288.6 492.3L289.0 492.7L289.1 492.7L289.6 492.2L290.1 491.3L290.6 490.2L291.1 489.4L291.6 489.0L292.1 489.4L292.6 490.3L293.1 491.6L293.6 493.0L294.1 495.0L294.6 497.7L295.1 500.0L295.6 501.0L296.1 499.8L296.6 497.0L297.1 494.0L297.6 492.1L297.7 492.0L298.1 491.7L298.6 491.4L299.1 491.2L299.6 491.1L300.1 491.0L300.2 491.0L300.6 491.1L301.1 491.5L301.6 492.1L302.1 492.9L302.6 493.7L302.8 494.0L303.1 494.6L303.6 496.2L304.1 498.1L304.6 499.7L305.1 500.7L305.3 500.8L305.6 500.6L306.1 499.5L306.6 497.9L307.1 496.1L307.6 494.6L307.9 494.0L308.1 493.7L308.6 492.9L309.1 492.3L309.6 491.7L310.1 491.1L310.6 490.6L311.1 490.1L311.6 489.6L312.1 489.2L312.6 488.8L313.0 488.5L313.1 488.4L313.6 488.1L314.1 487.7L314.6 487.4L315.1 487.1L315.6 486.8L316.1 486.6L316.6 486.3L317.1 486.0L317.6 485.8L318.1 485.5L318.6 485.2L319.1 485.0L319.6 484.7L320.1 484.5L320.6 484.2L321.1 484.0L321.6 483.8L322.1 483.5L322.2 483.5L322.6 483.3L323.1 483.1L323.6 482.8L324.1 482.6L324.6 482.4L325.1 482.2L325.6 482.1L326.1 482.0L326.3 482.0L326.6 482.0L327.1 482.2L327.6 482.5L328.1 482.8L328.3 483.0L328.6 483.4L329.1 484.5L329.6 486.0L329.8 486.6" stroke="#84109c" stroke-width="1.10" fill="none" stroke-linejoin="round"/>
<path d="M398.30 292.60 V501.20" stroke="#2b2b2b" stroke-width="1.1" fill="none"/>
<path d="M398.30 501.20 H683.40" stroke="#2b2b2b" stroke-width="1.1" fill="none"/>
<text x="390.70" y="479.90" font-size="10" text-anchor="end" font-weight="normal" >0.0</text>
<text x="390.70" y="418.67" font-size="10" text-anchor="end" font-weight="normal" >0.5</text>
<text x="390.70" y="357.43" font-size="10" text-anchor="end" font-weight="normal" >1.0</text>
<text x="390.70" y="296.20" font-size="10" text-anchor="end" font-weight="normal" >1.5</text>
<text x="424.55" y="521.30" font-size="10" text-anchor="middle" font-weight="normal" >1800</text>
<text x="481.60" y="521.30" font-size="10" text-anchor="middle" font-weight="normal" >1700</text>
<text x="538.65" y="521.30" font-size="10" text-anchor="middle" font-weight="normal" >1600</text>
<text x="595.70" y="521.30" font-size="10" text-anchor="middle" font-weight="normal" >1500</text>
<text x="652.75" y="521.30" font-size="10" text-anchor="middle" font-weight="normal" >1400</text>
<path d="M398.30 476.30 H394.00M398.30 415.06 H394.00M398.30 353.83 H394.00M398.30 292.60 H394.00M398.30 445.68 H396.10M398.30 384.45 H396.10M398.30 323.21 H396.10M426.55 501.20 V504.80M483.60 501.20 V504.80M540.65 501.20 V504.80M597.70 501.20 V504.80M654.75 501.20 V504.80M398.03 501.20 V503.40M455.07 501.20 V503.40M512.12 501.20 V503.40M569.17 501.20 V503.40M626.23 501.20 V503.40M683.28 501.20 V503.40" stroke="#2b2b2b" stroke-width="1" fill="none"/>
<text x="493.60" y="540.50" font-size="13.2">Wavenumber / cm<tspan font-size="12" dy="-6.2">-1</tspan></text>
<text transform="translate(369.00 396.00) rotate(-90)" x="0" y="0" font-size="13.2" text-anchor="middle">Absorbance / arb. units</text>
<text x="358.30" y="294.60" font-size="20" font-weight="bold" fill="#000">d</text>
<rect x="482.7" y="315.6" width="57.8" height="172.3" fill="none" stroke="#444" stroke-width="1" stroke-dasharray="3 2.4"/>
<text x="492.3" y="310.8" font-size="10.3">amide I</text>
<path d="M398.3 478.7L398.8 478.8L399.3 478.9L399.8 478.9L400.3 479.0L400.8 479.1L401.3 479.2L401.8 479.3L402.3 479.3L402.8 479.4L403.3 479.5L403.8 479.5L404.3 479.6L404.8 479.7L405.3 479.8L405.8 479.8L406.3 479.9L406.8 480.0L407.3 480.0L407.8 480.1L408.3 480.1L408.8 480.2L409.3 480.2L409.8 480.3L410.3 480.3L410.8 480.3L411.3 480.4L411.8 480.4L412.3 480.4L412.8 480.5L413.3 480.5L413.8 480.5L414.3 480.5L414.8 480.5L415.3 480.5L415.8 480.5L416.3 480.6L416.8 480.6L417.3 480.6L417.8 480.6L418.3 480.6L418.8 480.6L419.3 480.6L419.8 480.6L420.3 480.6L420.8 480.7L421.3 480.7L421.8 480.7L422.3 480.7L422.8 480.7L423.3 480.7L423.8 480.7L424.3 480.7L424.8 480.7L425.3 480.7L425.8 480.7L426.3 480.7L426.8 480.7L427.3 480.8L427.8 480.8L428.3 480.8L428.8 480.8L429.3 480.8L429.8 480.8L430.3 480.8L430.8 480.8L431.3 480.8L431.8 480.8L432.3 480.8L432.8 480.8L433.3 480.8L433.8 480.8L434.3 480.8L434.8 480.8L435.3 480.8L435.7 480.8L435.8 480.8L436.3 480.8L436.8 480.8L437.3 480.8L437.8 480.8L438.3 480.8L438.8 480.8L439.3 480.8L439.8 480.8L440.3 480.7L440.8 480.7L441.3 480.7L441.8 480.7L442.3 480.7L442.8 480.6L443.3 480.6L443.8 480.6L444.3 480.6L444.8 480.5L445.3 480.5L445.8 480.5L446.3 480.4L446.8 480.4L447.3 480.4L447.8 480.3L448.3 480.3L448.8 480.2L449.3 480.2L449.8 480.2L450.3 480.1L450.8 480.0L451.3 479.8L451.8 479.6L452.3 479.3L452.8 479.0L453.3 478.7L453.8 478.3L454.3 478.0L454.8 477.6L455.0 477.5L455.3 477.3L455.8 476.9L456.3 476.5L456.8 476.0L457.3 475.5L457.8 475.0L458.3 474.6L458.8 474.2L459.3 473.9L459.8 473.6L460.3 473.5L460.5 473.5L460.8 473.5L461.3 473.6L461.8 473.7L462.3 473.8L462.8 473.9L463.3 474.1L463.8 474.3L464.3 474.4L464.8 474.6L465.3 474.8L465.8 474.9L466.0 475.0L466.3 475.1L466.8 475.2L467.3 475.4L467.8 475.6L468.3 475.7L468.8 475.8L469.3 475.9L469.8 476.0L470.0 476.0L470.3 476.0L470.8 476.0L471.3 476.0L471.8 476.0L472.3 475.9L472.8 475.9L473.3 475.9L473.8 475.8L474.3 475.8L474.8 475.8L475.0 475.8L475.3 475.7L475.8 475.7L476.3 475.6L476.8 475.6L477.3 475.5L477.4 475.5L477.8 475.4L478.3 475.4L478.8 475.3L479.3 475.1L479.8 475.0L480.0 474.9L480.3 474.8L480.8 474.7L481.3 474.5L481.8 474.2L482.3 474.0L482.8 473.8L482.9 473.7L483.3 473.4L483.8 473.0L484.3 472.4L484.8 471.8L485.3 471.1L485.8 470.3L486.0 469.9L486.3 469.4L486.8 468.5L487.3 467.6L487.8 466.7L488.3 465.8L488.5 465.4L488.8 464.8L489.3 463.8L489.8 462.8L490.3 461.6L490.8 460.5L491.0 460.0L491.3 459.3L491.8 458.1L492.3 457.0L492.8 455.9L493.0 455.5L493.3 454.9L493.8 454.0L494.0 453.6L494.3 453.1L494.8 452.2L495.3 451.3L495.8 450.5L496.3 449.6L496.8 448.7L497.3 447.7L497.7 446.9L497.8 446.7L497.9 446.5L498.3 445.6L498.8 444.4L499.3 443.2L499.8 442.0L500.3 440.7L500.8 439.4L501.3 438.2L501.8 437.0L502.0 436.5L502.3 435.8L502.8 434.5L503.3 433.2L503.8 432.0L504.3 430.8L504.8 429.7L504.9 429.5L505.3 428.8L505.5 428.5L505.8 428.1L506.3 427.4L506.8 426.7L507.0 426.5L507.3 426.1L507.8 425.8L508.2 425.7L508.3 425.7L508.8 425.9L509.3 426.3L509.4 426.4L509.8 426.9L510.3 427.5L510.8 428.2L511.0 428.5L511.3 429.0L511.5 429.3L511.8 429.9L512.3 431.0L512.8 432.3L513.3 433.5L513.8 434.8L514.0 435.2L514.3 435.9L514.8 437.0L515.3 438.0L515.8 439.1L516.3 440.1L516.5 440.5L516.8 441.1L517.3 442.2L517.8 443.2L518.3 444.1L518.8 445.1L519.0 445.5L519.3 446.0L519.8 446.9L520.3 447.8L520.8 448.6L521.3 449.4L521.7 450.1L521.8 450.2L522.3 451.0L522.8 451.8L523.3 452.5L523.5 452.8L523.8 453.2L524.0 453.5L524.3 453.9L524.8 454.6L525.3 455.3L525.8 455.9L526.0 456.2L526.3 456.6L526.8 457.2L527.3 457.8L527.8 458.4L528.3 459.0L528.8 459.6L529.0 459.8L529.3 460.1L529.8 460.7L530.3 461.2L530.8 461.7L530.9 461.8L531.3 462.2L531.8 462.7L532.3 463.1L532.8 463.5L533.3 464.0L533.8 464.4L534.0 464.5L534.3 464.7L534.8 465.1L535.0 465.3L535.3 465.5L535.8 465.9L536.3 466.3L536.8 466.7L537.3 467.0L537.8 467.3L538.3 467.6L538.8 467.8L539.3 468.0L539.8 468.1L540.1 468.1L540.3 468.1L540.8 468.1L541.3 468.1L541.8 468.1L542.3 468.1L542.8 468.1L543.3 468.1L543.8 468.1L544.3 468.1L544.8 468.1L545.3 468.1L545.6 468.1L545.8 468.1L546.3 468.1L546.8 468.1L547.3 468.1L547.5 468.1L547.8 468.1L548.3 468.1L548.8 468.0L549.3 467.9L549.8 467.8L550.0 467.8L550.3 467.7L550.8 467.5L551.3 467.4L551.8 467.2L552.3 467.1L552.8 466.9L553.0 466.8L553.3 466.7L553.8 466.6L554.0 466.5L554.3 466.4L554.8 466.3L555.3 466.1L555.8 465.9L556.3 465.8L556.8 465.6L557.3 465.4L557.4 465.4L557.8 465.2L558.3 465.0L558.8 464.8L559.3 464.5L559.8 464.3L560.0 464.2L560.3 464.0L560.8 463.7L561.1 463.5L561.3 463.4L561.8 462.9L562.3 462.4L562.8 461.8L562.9 461.7L563.3 461.2L563.8 460.5L564.3 459.8L564.8 459.1L565.0 458.8L565.3 458.4L565.8 457.8L566.0 457.5L566.3 457.1L566.8 456.4L567.3 455.6L567.5 455.2L567.8 454.7L568.3 453.9L568.8 453.2L569.3 452.5L569.5 452.3L569.8 452.0L570.3 451.6L570.8 451.5L571.3 451.6L571.8 451.7L572.3 452.0L572.8 452.4L573.3 452.8L573.8 453.3L574.3 453.8L574.8 454.3L575.3 454.8L575.8 455.3L576.0 455.5L576.3 455.8L576.8 456.3L577.3 456.9L577.8 457.6L578.3 458.3L578.5 458.5L578.8 459.0L579.3 459.7L579.8 460.4L580.3 461.1L580.8 461.8L581.3 462.5L581.4 462.6L581.8 463.1L582.3 463.7L582.8 464.2L583.2 464.5L583.3 464.6L583.8 465.0L584.3 465.3L584.8 465.6L585.0 465.8L585.3 466.0L585.8 466.2L586.3 466.5L586.8 466.8L587.3 467.1L587.8 467.3L588.3 467.6L588.7 467.8L588.8 467.9L589.0 468.0L589.3 468.2L589.8 468.5L590.3 468.7L590.8 469.0L591.3 469.3L591.8 469.6L592.0 469.7L592.3 469.9L592.8 470.1L593.3 470.4L593.8 470.6L594.3 470.9L594.8 471.2L595.3 471.4L595.8 471.7L596.1 471.8L596.3 471.9L596.8 472.2L597.3 472.4L597.8 472.7L598.3 472.9L598.8 473.1L599.3 473.3L599.8 473.4L600.0 473.5L600.3 473.6L600.8 473.7L601.3 473.9L601.8 474.0L602.3 474.1L602.8 474.3L603.3 474.4L603.5 474.4L603.8 474.5L604.3 474.5L604.8 474.6L605.3 474.6L605.4 474.6L605.8 474.6L606.3 474.5L606.8 474.4L607.2 474.3L607.3 474.3L607.8 474.1L608.3 474.0L608.8 473.8L609.3 473.7L609.8 473.5L610.0 473.5L610.3 473.4L610.5 473.4L610.8 473.3L611.3 473.2L611.8 473.1L612.3 472.9L612.8 472.8L613.3 472.7L613.8 472.6L614.3 472.5L614.6 472.5L614.8 472.5L615.1 472.5L615.3 472.5L615.8 472.5L616.3 472.5L616.8 472.6L617.3 472.6L617.8 472.6L618.0 472.6L618.3 472.7L618.8 472.7L619.3 472.8L619.8 472.8L620.3 472.9L620.8 472.9L621.3 473.0L621.8 473.0L622.0 473.0L622.3 473.0L622.7 473.0L622.8 473.0L623.3 473.1L623.8 473.1L624.3 473.1L624.8 473.1L625.3 473.2L625.8 473.2L626.3 473.2L626.8 473.2L627.0 473.2L627.3 473.2L627.8 473.3L628.3 473.3L628.8 473.3L629.3 473.3L629.8 473.3L630.3 473.4L630.8 473.4L631.3 473.4L631.8 473.5L632.1 473.5L632.3 473.5L632.8 473.6L633.3 473.7L633.8 473.7L634.3 473.9L634.8 474.0L635.3 474.1L635.8 474.2L636.3 474.4L636.8 474.5L637.3 474.6L637.8 474.8L638.3 474.9L638.8 475.0L639.3 475.1L639.6 475.1L639.8 475.2L640.3 475.2L640.8 475.3L641.3 475.3L641.5 475.3L641.8 475.3L642.3 475.3L642.8 475.2L643.3 475.2L643.8 475.1L644.3 475.1L644.8 475.0L645.3 474.9L645.8 474.8L646.3 474.8L646.8 474.7L647.1 474.6L647.3 474.6L647.8 474.5L648.0 474.5L648.3 474.5L648.8 474.4L649.3 474.3L649.8 474.2L650.3 474.1L650.8 474.0L651.3 473.9L651.8 473.8L652.0 473.8L652.3 473.7L652.8 473.6L653.3 473.6L653.8 473.5L654.3 473.5L654.7 473.5L654.8 473.5L655.3 473.5L655.6 473.6L655.8 473.6L656.3 473.7L656.8 473.8L657.3 473.9L657.8 474.0L658.3 474.1L658.8 474.3L659.0 474.3L659.3 474.4L659.8 474.5L660.0 474.5L660.3 474.5L660.8 474.6L661.3 474.7L661.8 474.8L662.2 474.8L662.3 474.8L662.8 474.9L663.3 474.9L663.8 475.0L664.3 475.1L664.8 475.1L665.3 475.2L665.8 475.3L666.0 475.3L666.3 475.4L666.8 475.4L667.3 475.6L667.8 475.7L668.3 475.8L668.8 475.9L669.3 476.0L669.7 476.1L669.8 476.1L670.3 476.2L670.8 476.3L671.3 476.4L671.8 476.5L672.0 476.5L672.3 476.5L672.8 476.6L673.3 476.6L673.8 476.7L674.3 476.7L674.8 476.8L675.3 476.8L675.8 476.8L676.0 476.9L676.3 476.9L676.8 476.9L677.3 477.0L677.8 477.0L678.3 477.0L678.8 477.1L679.3 477.1L679.8 477.1L680.3 477.1L680.8 477.2L681.3 477.2L681.8 477.2L682.3 477.2L682.8 477.2L683.3 477.2L683.4 477.2" stroke="#ff0000" stroke-width="1.10" fill="none" stroke-linejoin="round"/>
<path d="M398.3 478.2L398.8 478.3L399.3 478.4L399.8 478.5L400.3 478.5L400.8 478.6L401.3 478.7L401.8 478.8L402.3 478.8L402.8 478.9L403.3 479.0L403.8 479.1L404.3 479.1L404.8 479.2L405.3 479.3L405.8 479.3L406.3 479.4L406.8 479.5L407.3 479.5L407.8 479.6L408.3 479.6L408.8 479.7L409.3 479.7L409.8 479.8L410.3 479.8L410.8 479.9L411.3 479.9L411.8 479.9L412.3 480.0L412.8 480.0L413.3 480.0L413.8 480.0L414.3 480.0L414.8 480.0L415.3 480.1L415.8 480.1L416.3 480.1L416.8 480.1L417.3 480.1L417.8 480.1L418.3 480.1L418.8 480.1L419.3 480.1L419.8 480.2L420.3 480.2L420.8 480.2L421.3 480.2L421.8 480.2L422.3 480.2L422.8 480.2L423.3 480.2L423.8 480.2L424.3 480.2L424.8 480.2L425.3 480.2L425.8 480.3L426.3 480.3L426.8 480.3L427.3 480.3L427.8 480.3L428.3 480.3L428.8 480.3L429.3 480.3L429.8 480.3L430.3 480.3L430.8 480.3L431.3 480.3L431.8 480.3L432.3 480.3L432.8 480.3L433.3 480.3L433.8 480.3L434.3 480.3L434.8 480.3L435.3 480.3L435.7 480.3L435.8 480.3L436.3 480.3L436.8 480.3L437.3 480.3L437.8 480.3L438.3 480.3L438.8 480.3L439.3 480.3L439.8 480.3L440.3 480.3L440.8 480.2L441.3 480.2L441.8 480.2L442.3 480.2L442.8 480.2L443.3 480.1L443.8 480.1L444.3 480.1L444.8 480.1L445.3 480.0L445.8 480.0L446.3 480.0L446.8 479.9L447.3 479.9L447.8 479.9L448.3 479.8L448.8 479.8L449.3 479.7L449.8 479.7L450.3 479.6L450.8 479.5L451.3 479.4L451.8 479.1L452.3 478.8L452.8 478.5L453.3 478.2L453.8 477.8L454.3 477.5L454.8 477.1L455.0 477.0L455.3 476.8L455.8 476.4L456.3 476.0L456.8 475.5L457.3 475.0L457.8 474.5L458.3 474.1L458.8 473.7L459.3 473.4L459.8 473.1L460.3 473.0L460.5 473.0L460.8 473.0L461.3 473.1L461.8 473.2L462.3 473.3L462.8 473.4L463.3 473.6L463.8 473.8L464.3 474.0L464.8 474.1L465.3 474.3L465.8 474.5L466.0 474.5L466.3 474.6L466.8 474.8L467.3 474.9L467.8 475.1L468.3 475.2L468.8 475.4L469.3 475.5L469.8 475.5L470.0 475.5L470.3 475.5L470.8 475.5L471.3 475.5L471.8 475.5L472.3 475.5L472.8 475.4L473.3 475.4L473.8 475.4L474.3 475.3L474.8 475.3L475.0 475.3L475.3 475.2L475.8 475.2L476.3 475.1L476.8 475.1L477.3 475.0L477.4 475.0L477.8 474.9L478.3 474.9L478.8 474.8L479.3 474.6L479.8 474.5L480.0 474.4L480.3 474.3L480.8 474.1L481.3 473.9L481.8 473.7L482.3 473.5L482.8 473.2L482.9 473.2L483.3 472.9L483.8 472.5L484.3 471.9L484.8 471.3L485.3 470.5L485.8 469.7L486.0 469.4L486.3 468.9L486.8 468.0L487.3 467.0L487.8 466.1L488.3 465.2L488.5 464.8L488.8 464.3L489.3 463.3L489.8 462.2L490.3 461.0L490.8 459.8L491.0 459.3L491.3 458.6L491.8 457.5L492.3 456.3L492.8 455.2L493.0 454.8L493.3 454.2L493.8 453.3L494.0 452.9L494.3 452.3L494.8 451.4L495.3 450.6L495.8 449.7L496.3 448.7L496.8 447.8L497.3 446.8L497.7 446.0L497.8 445.7L497.9 445.5L498.3 444.6L498.8 443.4L499.3 442.2L499.8 440.9L500.3 439.6L500.8 438.3L501.3 437.0L501.8 435.8L502.0 435.3L502.3 434.6L502.8 433.3L503.3 432.0L503.8 430.7L504.3 429.4L504.8 428.3L504.9 428.1L505.3 427.4L505.5 427.1L505.8 426.7L506.3 425.9L506.8 425.2L507.0 425.0L507.3 424.7L507.8 424.3L508.2 424.2L508.3 424.2L508.8 424.4L509.3 424.8L509.4 424.9L509.8 425.3L510.3 426.0L510.8 426.7L511.0 427.0L511.3 427.5L511.5 427.8L511.8 428.4L512.3 429.6L512.8 430.8L513.3 432.1L513.8 433.3L514.0 433.8L514.3 434.5L514.8 435.6L515.3 436.7L515.8 437.7L516.3 438.8L516.5 439.2L516.8 439.9L517.3 440.9L517.8 441.9L518.3 442.9L518.8 443.9L519.0 444.3L519.3 444.8L519.8 445.8L520.3 446.7L520.8 447.5L521.3 448.4L521.7 449.0L521.8 449.2L522.3 450.0L522.8 450.7L523.3 451.5L523.5 451.8L523.8 452.2L524.0 452.5L524.3 452.9L524.8 453.7L525.3 454.4L525.8 455.0L526.0 455.3L526.3 455.7L526.8 456.4L527.3 457.0L527.8 457.6L528.3 458.2L528.8 458.8L529.0 459.0L529.3 459.3L529.8 459.9L530.3 460.4L530.8 460.9L530.9 461.0L531.3 461.4L531.8 461.9L532.3 462.4L532.8 462.8L533.3 463.2L533.8 463.6L534.0 463.8L534.3 464.0L534.8 464.4L535.0 464.6L535.3 464.8L535.8 465.2L536.3 465.6L536.8 466.0L537.3 466.3L537.8 466.7L538.3 466.9L538.8 467.2L539.3 467.3L539.8 467.4L540.1 467.4L540.3 467.4L540.8 467.4L541.3 467.4L541.8 467.4L542.3 467.4L542.8 467.4L543.3 467.4L543.8 467.4L544.3 467.4L544.8 467.4L545.3 467.4L545.6 467.4L545.8 467.4L546.3 467.4L546.8 467.4L547.3 467.4L547.5 467.4L547.8 467.4L548.3 467.4L548.8 467.3L549.3 467.2L549.8 467.1L550.0 467.1L550.3 467.0L550.8 466.9L551.3 466.7L551.8 466.6L552.3 466.4L552.8 466.2L553.0 466.2L553.3 466.1L553.8 465.9L554.0 465.8L554.3 465.7L554.8 465.6L555.3 465.4L555.8 465.2L556.3 465.1L556.8 464.9L557.3 464.7L557.4 464.6L557.8 464.5L558.3 464.3L558.8 464.0L559.3 463.8L559.8 463.5L560.0 463.4L560.3 463.2L560.8 462.9L561.1 462.7L561.3 462.6L561.8 462.1L562.3 461.6L562.8 461.0L562.9 460.9L563.3 460.4L563.8 459.7L564.3 458.9L564.8 458.2L565.0 457.9L565.3 457.5L565.8 456.8L566.0 456.6L566.3 456.1L566.8 455.4L567.3 454.6L567.5 454.2L567.8 453.7L568.3 452.9L568.8 452.1L569.3 451.4L569.5 451.2L569.8 450.9L570.3 450.6L570.8 450.4L571.3 450.5L571.8 450.7L572.3 450.9L572.8 451.3L573.3 451.7L573.8 452.2L574.3 452.7L574.8 453.2L575.3 453.8L575.8 454.3L576.0 454.5L576.3 454.8L576.8 455.3L577.3 455.9L577.8 456.6L578.3 457.3L578.5 457.6L578.8 458.0L579.3 458.7L579.8 459.5L580.3 460.2L580.8 460.9L581.3 461.6L581.4 461.7L581.8 462.2L582.3 462.8L582.8 463.3L583.2 463.6L583.3 463.7L583.8 464.1L584.3 464.5L584.8 464.8L585.0 464.9L585.3 465.1L585.8 465.4L586.3 465.7L586.8 466.0L587.3 466.3L587.8 466.6L588.3 466.9L588.7 467.1L588.8 467.1L589.0 467.3L589.3 467.4L589.8 467.7L590.3 468.0L590.8 468.3L591.3 468.6L591.8 468.9L592.0 469.0L592.3 469.2L592.8 469.5L593.3 469.7L593.8 470.0L594.3 470.3L594.8 470.5L595.3 470.8L595.8 471.1L596.1 471.2L596.3 471.3L596.8 471.6L597.3 471.8L597.8 472.1L598.3 472.3L598.8 472.5L599.3 472.7L599.8 472.9L600.0 472.9L600.3 473.0L600.8 473.2L601.3 473.3L601.8 473.5L602.3 473.6L602.8 473.7L603.3 473.8L603.5 473.9L603.8 473.9L604.3 474.0L604.8 474.0L605.3 474.1L605.4 474.1L605.8 474.0L606.3 474.0L606.8 473.9L607.2 473.8L607.3 473.8L607.8 473.6L608.3 473.5L608.8 473.3L609.3 473.1L609.8 473.0L610.0 473.0L610.3 472.9L610.5 472.8L610.8 472.8L611.3 472.6L611.8 472.5L612.3 472.4L612.8 472.2L613.3 472.1L613.8 472.0L614.3 471.9L614.6 471.9L614.8 471.9L615.1 471.9L615.3 471.9L615.8 471.9L616.3 471.9L616.8 472.0L617.3 472.0L617.8 472.0L618.0 472.1L618.3 472.1L618.8 472.1L619.3 472.2L619.8 472.2L620.3 472.3L620.8 472.3L621.3 472.3L621.8 472.4L622.0 472.4L622.3 472.4L622.7 472.4L622.8 472.4L623.3 472.5L623.8 472.5L624.3 472.5L624.8 472.5L625.3 472.6L625.8 472.6L626.3 472.6L626.8 472.6L627.0 472.6L627.3 472.6L627.8 472.7L628.3 472.7L628.8 472.7L629.3 472.7L629.8 472.8L630.3 472.8L630.8 472.8L631.3 472.9L631.8 472.9L632.1 472.9L632.3 472.9L632.8 473.0L633.3 473.1L633.8 473.2L634.3 473.3L634.8 473.4L635.3 473.5L635.8 473.7L636.3 473.8L636.8 473.9L637.3 474.1L637.8 474.2L638.3 474.3L638.8 474.4L639.3 474.5L639.6 474.6L639.8 474.6L640.3 474.7L640.8 474.7L641.3 474.8L641.5 474.8L641.8 474.7L642.3 474.7L642.8 474.7L643.3 474.7L643.8 474.6L644.3 474.5L644.8 474.5L645.3 474.4L645.8 474.3L646.3 474.2L646.8 474.1L647.1 474.1L647.3 474.1L647.8 474.0L648.0 474.0L648.3 473.9L648.8 473.8L649.3 473.7L649.8 473.6L650.3 473.5L650.8 473.4L651.3 473.3L651.8 473.2L652.0 473.2L652.3 473.2L652.8 473.1L653.3 473.0L653.8 473.0L654.3 472.9L654.7 472.9L654.8 472.9L655.3 473.0L655.6 473.0L655.8 473.0L656.3 473.1L656.8 473.2L657.3 473.3L657.8 473.4L658.3 473.6L658.8 473.7L659.0 473.7L659.3 473.8L659.8 473.9L660.0 473.9L660.3 474.0L660.8 474.1L661.3 474.1L661.8 474.2L662.2 474.2L662.3 474.3L662.8 474.3L663.3 474.4L663.8 474.4L664.3 474.5L664.8 474.6L665.3 474.7L665.8 474.7L666.0 474.8L666.3 474.8L666.8 474.9L667.3 475.0L667.8 475.1L668.3 475.3L668.8 475.4L669.3 475.5L669.7 475.6L669.8 475.6L670.3 475.7L670.8 475.8L671.3 475.9L671.8 476.0L672.0 476.0L672.3 476.0L672.8 476.1L673.3 476.1L673.8 476.2L674.3 476.2L674.8 476.3L675.3 476.3L675.8 476.4L676.0 476.4L676.3 476.4L676.8 476.4L677.3 476.5L677.8 476.5L678.3 476.5L678.8 476.6L679.3 476.6L679.8 476.6L680.3 476.6L680.8 476.7L681.3 476.7L681.8 476.7L682.3 476.7L682.8 476.7L683.3 476.7L683.4 476.7" stroke="#7a5a10" stroke-width="1.10" fill="none" stroke-linejoin="round"/>
<path d="M398.3 479.3L398.8 479.4L399.3 479.5L399.8 479.5L400.3 479.6L400.8 479.7L401.3 479.7L401.8 479.8L402.3 479.8L402.8 479.9L403.3 480.0L403.8 480.0L404.3 480.1L404.8 480.1L405.3 480.2L405.8 480.2L406.3 480.3L406.8 480.3L407.3 480.4L407.8 480.4L408.3 480.5L408.8 480.5L409.3 480.6L409.8 480.6L410.3 480.6L410.8 480.7L411.3 480.7L411.8 480.7L412.3 480.7L412.8 480.8L413.3 480.8L413.8 480.8L414.3 480.8L414.8 480.8L415.3 480.8L415.8 480.9L416.3 480.9L416.8 480.9L417.3 480.9L417.8 480.9L418.3 480.9L418.8 480.9L419.3 480.9L419.8 481.0L420.3 481.0L420.8 481.0L421.3 481.0L421.8 481.0L422.3 481.0L422.8 481.0L423.3 481.0L423.8 481.0L424.3 481.0L424.8 481.1L425.3 481.1L425.8 481.1L426.3 481.1L426.8 481.1L427.3 481.1L427.8 481.1L428.3 481.1L428.8 481.1L429.3 481.1L429.8 481.1L430.3 481.1L430.8 481.1L431.3 481.1L431.8 481.1L432.3 481.1L432.8 481.1L433.3 481.1L433.8 481.1L434.3 481.1L434.8 481.1L435.3 481.1L435.7 481.1L435.8 481.1L436.3 481.1L436.8 481.1L437.3 481.1L437.8 481.1L438.3 481.1L438.8 481.1L439.3 481.1L439.8 481.1L440.3 481.1L440.8 481.1L441.3 481.1L441.8 481.1L442.3 481.1L442.8 481.1L443.3 481.0L443.8 481.0L444.3 481.0L444.8 481.0L445.3 481.0L445.8 480.9L446.3 480.9L446.8 480.9L447.3 480.9L447.8 480.8L448.3 480.8L448.8 480.8L449.3 480.8L449.8 480.7L450.3 480.7L450.8 480.6L451.3 480.4L451.8 480.2L452.3 479.9L452.8 479.6L453.3 479.2L453.8 478.8L454.3 478.5L454.8 478.1L455.0 478.0L455.3 477.8L455.8 477.4L456.3 476.9L456.8 476.5L457.3 476.0L457.8 475.5L458.3 475.1L458.8 474.7L459.3 474.4L459.8 474.1L460.3 474.0L460.5 474.0L460.8 474.0L461.3 474.0L461.8 474.1L462.3 474.2L462.8 474.3L463.3 474.5L463.8 474.6L464.3 474.8L464.8 474.9L465.3 475.1L465.8 475.2L466.0 475.2L466.3 475.3L466.8 475.5L467.3 475.6L467.8 475.8L468.3 476.0L468.8 476.1L469.3 476.2L469.8 476.2L470.0 476.2L470.3 476.2L470.8 476.2L471.3 476.2L471.8 476.2L472.3 476.2L472.8 476.1L473.3 476.1L473.8 476.0L474.3 476.0L474.8 475.9L475.0 475.9L475.3 475.8L475.8 475.7L476.3 475.5L476.8 475.3L477.3 475.1L477.4 475.1L477.8 474.9L478.3 474.6L478.8 474.4L479.3 474.1L479.8 473.8L480.0 473.7L480.3 473.6L480.8 473.3L481.3 473.1L481.8 472.9L482.3 472.6L482.8 472.3L482.9 472.2L483.3 471.9L483.8 471.5L484.3 470.8L484.8 469.9L485.3 468.8L485.8 467.7L486.0 467.2L486.3 466.6L486.8 465.4L487.3 464.3L487.8 463.0L488.3 461.7L488.5 461.2L488.8 460.4L489.3 458.8L489.8 457.1L490.3 455.3L490.8 453.5L491.0 452.8L491.3 451.7L491.8 450.0L492.3 448.4L492.8 446.7L493.0 446.0L493.3 445.0L493.8 443.2L494.0 442.4L494.3 441.2L494.8 439.0L495.3 436.6L495.8 434.1L496.3 431.5L496.8 428.8L497.3 426.2L497.7 424.1L497.8 423.5L497.9 423.0L498.3 421.0L498.8 418.4L499.3 415.7L499.8 413.1L500.3 410.4L500.8 407.7L501.3 405.1L501.8 402.4L502.0 401.3L502.3 399.7L502.8 397.1L503.3 394.4L503.8 391.7L504.3 389.1L504.8 386.6L504.9 386.2L505.3 384.4L505.5 383.6L505.8 382.4L506.3 380.4L506.8 378.7L507.0 378.1L507.3 377.2L507.8 375.8L508.2 374.8L508.3 374.6L508.8 373.9L509.3 373.7L509.4 373.7L509.8 374.2L510.3 375.5L510.8 377.1L511.0 377.8L511.3 378.8L511.5 379.5L511.8 380.5L512.3 382.3L512.8 384.2L513.3 386.2L513.8 388.2L514.0 389.1L514.3 390.3L514.8 392.5L515.3 394.7L515.8 397.0L516.3 399.2L516.5 400.1L516.8 401.4L517.3 403.5L517.8 405.7L518.3 407.8L518.8 409.9L519.0 410.7L519.3 412.1L519.8 414.4L520.3 416.7L520.8 418.9L521.3 420.9L521.7 422.3L521.8 422.7L522.3 424.1L522.8 425.3L523.3 426.6L523.5 427.2L523.8 428.1L524.0 428.7L524.3 429.7L524.8 431.4L525.3 433.2L525.8 434.8L526.0 435.4L526.3 436.3L526.8 437.8L527.3 439.3L527.8 440.7L528.3 442.2L528.8 443.5L529.0 444.0L529.3 444.8L529.8 446.0L530.3 447.2L530.8 448.2L530.9 448.4L531.3 449.1L531.8 450.0L532.3 450.8L532.8 451.5L533.3 452.2L533.8 452.9L534.0 453.2L534.3 453.5L534.8 454.2L535.0 454.4L535.3 454.8L535.8 455.4L536.3 456.0L536.8 456.7L537.3 457.3L537.8 457.8L538.3 458.3L538.8 458.7L539.3 459.0L539.8 459.2L540.1 459.3L540.3 459.3L540.8 459.4L541.3 459.5L541.8 459.6L542.3 459.6L542.8 459.7L543.3 459.7L543.8 459.8L544.3 459.8L544.8 459.8L545.3 459.8L545.6 459.8L545.8 459.8L546.3 459.8L546.8 459.7L547.3 459.6L547.5 459.5L547.8 459.4L548.3 459.3L548.8 459.1L549.3 458.9L549.8 458.8L550.0 458.7L550.3 458.6L550.8 458.5L551.3 458.3L551.8 458.2L552.3 458.0L552.8 457.9L553.0 457.8L553.3 457.6L553.8 457.4L554.0 457.2L554.3 457.0L554.8 456.7L555.3 456.3L555.8 455.8L556.3 455.3L556.8 454.9L557.3 454.4L557.4 454.3L557.8 453.9L558.3 453.4L558.8 452.9L559.3 452.3L559.8 451.6L560.0 451.4L560.3 450.9L560.8 449.9L561.1 449.3L561.3 448.8L561.8 447.6L562.3 446.3L562.8 444.9L562.9 444.6L563.3 443.5L563.8 442.0L564.3 440.5L564.8 438.9L565.0 438.2L565.3 437.2L565.8 435.4L566.0 434.7L566.3 433.6L566.8 431.8L567.3 430.1L567.5 429.4L567.8 428.4L568.3 426.8L568.8 425.3L569.3 424.2L569.5 423.9L569.8 423.6L570.3 423.2L570.8 422.9L571.3 422.8L571.8 422.9L572.3 423.1L572.8 423.4L573.3 423.9L573.8 424.4L574.3 425.2L574.8 426.2L575.3 427.4L575.8 428.5L576.0 428.9L576.3 429.6L576.8 430.6L577.3 431.8L577.8 432.9L578.3 434.1L578.5 434.6L578.8 435.3L579.3 436.5L579.8 437.7L580.3 438.8L580.8 440.0L581.3 441.2L581.4 441.4L581.8 442.3L582.3 443.4L582.8 444.4L583.2 445.2L583.3 445.4L583.8 446.4L584.3 447.4L584.8 448.3L585.0 448.7L585.3 449.2L585.8 450.1L586.3 451.0L586.8 451.8L587.3 452.7L587.8 453.5L588.3 454.4L588.7 455.0L588.8 455.2L589.0 455.6L589.3 456.1L589.8 456.9L590.3 457.8L590.8 458.7L591.3 459.5L591.8 460.3L592.0 460.6L592.3 461.1L592.8 461.8L593.3 462.6L593.8 463.3L594.3 464.0L594.8 464.7L595.3 465.3L595.8 465.9L596.1 466.3L596.3 466.5L596.8 467.0L597.3 467.5L597.8 468.0L598.3 468.4L598.8 468.9L599.3 469.3L599.8 469.6L600.0 469.8L600.3 470.0L600.8 470.3L601.3 470.6L601.8 470.9L602.3 471.2L602.8 471.5L603.3 471.6L603.5 471.7L603.8 471.8L604.3 471.9L604.8 472.0L605.3 472.1L605.4 472.1L605.8 472.2L606.3 472.2L606.8 472.2L607.2 472.1L607.3 472.1L607.8 472.0L608.3 471.8L608.8 471.6L609.3 471.3L609.8 471.1L610.0 471.0L610.3 470.8L610.5 470.7L610.8 470.5L611.3 470.1L611.8 469.6L612.3 469.0L612.8 468.5L613.3 468.0L613.8 467.6L614.3 467.4L614.6 467.3L614.8 467.3L615.1 467.3L615.3 467.3L615.8 467.3L616.3 467.3L616.8 467.3L617.3 467.3L617.8 467.3L618.0 467.3L618.3 467.3L618.8 467.3L619.3 467.3L619.8 467.3L620.3 467.3L620.8 467.3L621.3 467.3L621.8 467.3L622.0 467.3L622.3 467.3L622.7 467.3L622.8 467.3L623.3 467.3L623.8 467.4L624.3 467.5L624.8 467.6L625.3 467.7L625.8 467.8L626.3 468.0L626.8 468.1L627.0 468.1L627.3 468.2L627.8 468.3L628.3 468.4L628.8 468.5L629.3 468.6L629.8 468.7L630.3 468.8L630.8 468.9L631.3 469.0L631.8 469.1L632.1 469.2L632.3 469.3L632.8 469.4L633.3 469.6L633.8 469.9L634.3 470.1L634.8 470.4L635.3 470.7L635.8 470.9L636.3 471.2L636.8 471.5L637.3 471.7L637.8 471.9L638.3 472.1L638.8 472.2L639.3 472.3L639.6 472.4L639.8 472.4L640.3 472.4L640.8 472.4L641.3 472.4L641.5 472.4L641.8 472.4L642.3 472.4L642.8 472.4L643.3 472.4L643.8 472.3L644.3 472.3L644.8 472.2L645.3 472.2L645.8 472.1L646.3 472.1L646.8 472.0L647.1 472.0L647.3 471.9L647.8 471.8L648.0 471.8L648.3 471.7L648.8 471.6L649.3 471.4L649.8 471.2L650.3 471.0L650.8 470.8L651.3 470.6L651.8 470.4L652.0 470.4L652.3 470.3L652.8 470.2L653.3 470.0L653.8 469.9L654.3 469.8L654.7 469.8L654.8 469.8L655.3 469.7L655.6 469.7L655.8 469.7L656.3 469.8L656.8 469.9L657.3 470.0L657.8 470.1L658.3 470.2L658.8 470.4L659.0 470.4L659.3 470.5L659.8 470.6L660.0 470.7L660.3 470.7L660.8 470.9L661.3 471.0L661.8 471.1L662.2 471.3L662.3 471.3L662.8 471.5L663.3 471.6L663.8 471.9L664.3 472.1L664.8 472.3L665.3 472.6L665.8 472.8L666.0 472.9L666.3 473.1L666.8 473.4L667.3 473.6L667.8 473.9L668.3 474.1L668.8 474.4L669.3 474.6L669.7 474.8L669.8 474.8L670.3 475.0L670.8 475.2L671.3 475.3L671.8 475.5L672.0 475.5L672.3 475.6L672.8 475.7L673.3 475.9L673.8 476.0L674.3 476.1L674.8 476.2L675.3 476.3L675.8 476.4L676.0 476.4L676.3 476.5L676.8 476.6L677.3 476.6L677.8 476.7L678.3 476.8L678.8 476.8L679.3 476.9L679.8 477.0L680.3 477.0L680.8 477.1L681.3 477.1L681.8 477.1L682.3 477.2L682.8 477.2L683.3 477.2L683.4 477.2" stroke="#800000" stroke-width="1.10" fill="none" stroke-linejoin="round"/>
<path d="M398.3 479.1L398.8 479.2L399.3 479.3L399.8 479.3L400.3 479.4L400.8 479.5L401.3 479.5L401.8 479.6L402.3 479.7L402.8 479.7L403.3 479.8L403.8 479.9L404.3 479.9L404.8 480.0L405.3 480.0L405.8 480.1L406.3 480.1L406.8 480.2L407.3 480.2L407.8 480.3L408.3 480.3L408.8 480.4L409.3 480.4L409.8 480.5L410.3 480.5L410.8 480.5L411.3 480.6L411.8 480.6L412.3 480.6L412.8 480.6L413.3 480.6L413.8 480.7L414.3 480.7L414.8 480.7L415.3 480.7L415.8 480.7L416.3 480.7L416.8 480.7L417.3 480.8L417.8 480.8L418.3 480.8L418.8 480.8L419.3 480.8L419.8 480.8L420.3 480.8L420.8 480.8L421.3 480.8L421.8 480.9L422.3 480.9L422.8 480.9L423.3 480.9L423.8 480.9L424.3 480.9L424.8 480.9L425.3 480.9L425.8 480.9L426.3 480.9L426.8 480.9L427.3 480.9L427.8 481.0L428.3 481.0L428.8 481.0L429.3 481.0L429.8 481.0L430.3 481.0L430.8 481.0L431.3 481.0L431.8 481.0L432.3 481.0L432.8 481.0L433.3 481.0L433.8 481.0L434.3 481.0L434.8 481.0L435.3 481.0L435.7 481.0L435.8 481.0L436.3 481.0L436.8 481.0L437.3 481.0L437.8 481.0L438.3 481.0L438.8 481.0L439.3 481.0L439.8 481.0L440.3 481.0L440.8 480.9L441.3 480.9L441.8 480.9L442.3 480.9L442.8 480.9L443.3 480.9L443.8 480.9L444.3 480.8L444.8 480.8L445.3 480.8L445.8 480.8L446.3 480.8L446.8 480.7L447.3 480.7L447.8 480.7L448.3 480.6L448.8 480.6L449.3 480.6L449.8 480.5L450.3 480.5L450.8 480.4L451.3 480.3L451.8 480.0L452.3 479.7L452.8 479.4L453.3 479.0L453.8 478.7L454.3 478.3L454.8 478.0L455.0 477.8L455.3 477.6L455.8 477.2L456.3 476.8L456.8 476.3L457.3 475.8L457.8 475.3L458.3 474.9L458.8 474.5L459.3 474.2L459.8 474.0L460.3 473.8L460.5 473.8L460.8 473.8L461.3 473.9L461.8 474.0L462.3 474.1L462.8 474.2L463.3 474.3L463.8 474.5L464.3 474.6L464.8 474.8L465.3 474.9L465.8 475.1L466.0 475.1L466.3 475.2L466.8 475.3L467.3 475.5L467.8 475.7L468.3 475.8L468.8 476.0L469.3 476.1L469.8 476.1L470.0 476.1L470.3 476.1L470.8 476.1L471.3 476.1L471.8 476.1L472.3 476.0L472.8 476.0L473.3 476.0L473.8 475.9L474.3 475.9L474.8 475.8L475.0 475.8L475.3 475.7L475.8 475.6L476.3 475.5L476.8 475.3L477.3 475.1L477.4 475.1L477.8 474.9L478.3 474.7L478.8 474.4L479.3 474.2L479.8 473.9L480.0 473.8L480.3 473.7L480.8 473.5L481.3 473.2L481.8 473.0L482.3 472.7L482.8 472.5L482.9 472.4L483.3 472.1L483.8 471.6L484.3 471.0L484.8 470.1L485.3 469.1L485.8 468.0L486.0 467.6L486.3 467.0L486.8 465.9L487.3 464.7L487.8 463.6L488.3 462.3L488.5 461.8L488.8 461.0L489.3 459.6L489.8 458.0L490.3 456.3L490.8 454.6L491.0 453.9L491.3 452.9L491.8 451.3L492.3 449.8L492.8 448.2L493.0 447.6L493.3 446.6L493.8 445.0L494.0 444.3L494.3 443.2L494.8 441.2L495.3 439.1L495.8 436.9L496.3 434.5L496.8 432.2L497.3 429.8L497.7 427.9L497.8 427.5L497.9 427.0L498.3 425.1L498.8 422.8L499.3 420.4L499.8 418.0L500.3 415.5L500.8 413.1L501.3 410.7L501.8 408.3L502.0 407.3L502.3 405.9L502.8 403.4L503.3 401.0L503.8 398.5L504.3 396.2L504.8 394.0L504.9 393.6L505.3 392.0L505.5 391.2L505.8 390.1L506.3 388.4L506.8 386.9L507.0 386.3L507.3 385.6L507.8 384.3L508.2 383.5L508.3 383.3L508.8 382.7L509.3 382.7L509.4 382.7L509.8 383.2L510.3 384.4L510.8 385.8L511.0 386.5L511.3 387.4L511.5 388.0L511.8 388.9L512.3 390.6L512.8 392.4L513.3 394.3L513.8 396.2L514.0 396.9L514.3 398.1L514.8 400.0L515.3 402.1L515.8 404.1L516.3 406.2L516.5 407.0L516.8 408.2L517.3 410.1L517.8 412.0L518.3 414.0L518.8 415.9L519.0 416.6L519.3 417.8L519.8 419.9L520.3 421.9L520.8 423.9L521.3 425.8L521.7 427.0L521.8 427.3L522.3 428.6L522.8 429.8L523.3 431.0L523.5 431.5L523.8 432.3L524.0 432.9L524.3 433.8L524.8 435.4L525.3 436.9L525.8 438.3L526.0 438.9L526.3 439.7L526.8 441.1L527.3 442.4L527.8 443.7L528.3 445.0L528.8 446.2L529.0 446.7L529.3 447.4L529.8 448.5L530.3 449.5L530.8 450.4L530.9 450.6L531.3 451.3L531.8 452.1L532.3 452.8L532.8 453.5L533.3 454.2L533.8 454.8L534.0 455.0L534.3 455.4L534.8 456.0L535.0 456.2L535.3 456.5L535.8 457.1L536.3 457.7L536.8 458.3L537.3 458.9L537.8 459.4L538.3 459.8L538.8 460.2L539.3 460.5L539.8 460.7L540.1 460.7L540.3 460.8L540.8 460.8L541.3 460.9L541.8 460.9L542.3 461.0L542.8 461.0L543.3 461.1L543.8 461.1L544.3 461.1L544.8 461.1L545.3 461.2L545.6 461.2L545.8 461.2L546.3 461.1L546.8 461.0L547.3 461.0L547.5 460.9L547.8 460.8L548.3 460.7L548.8 460.5L549.3 460.4L549.8 460.2L550.0 460.2L550.3 460.1L550.8 459.9L551.3 459.8L551.8 459.7L552.3 459.5L552.8 459.3L553.0 459.3L553.3 459.1L553.8 458.9L554.0 458.8L554.3 458.6L554.8 458.2L555.3 457.9L555.8 457.5L556.3 457.1L556.8 456.6L557.3 456.2L557.4 456.1L557.8 455.8L558.3 455.3L558.8 454.9L559.3 454.3L559.8 453.7L560.0 453.5L560.3 453.0L560.8 452.2L561.1 451.7L561.3 451.3L561.8 450.2L562.3 449.0L562.8 447.7L562.9 447.5L563.3 446.5L563.8 445.1L564.3 443.7L564.8 442.3L565.0 441.7L565.3 440.8L565.8 439.2L566.0 438.6L566.3 437.6L566.8 435.9L567.3 434.4L567.5 433.8L567.8 432.9L568.3 431.4L568.8 430.0L569.3 429.0L569.5 428.7L569.8 428.4L570.3 428.0L570.8 427.8L571.3 427.7L571.8 427.8L572.3 428.0L572.8 428.3L573.3 428.8L573.8 429.3L574.3 430.0L574.8 431.0L575.3 432.0L575.8 433.0L576.0 433.4L576.3 434.0L576.8 435.0L577.3 436.0L577.8 437.1L578.3 438.2L578.5 438.6L578.8 439.3L579.3 440.4L579.8 441.5L580.3 442.6L580.8 443.7L581.3 444.8L581.4 445.0L581.8 445.8L582.3 446.8L582.8 447.7L583.2 448.5L583.3 448.6L583.8 449.5L584.3 450.4L584.8 451.2L585.0 451.5L585.3 452.0L585.8 452.8L586.3 453.6L586.8 454.3L587.3 455.1L587.8 455.8L588.3 456.6L588.7 457.2L588.8 457.3L589.0 457.6L589.3 458.1L589.8 458.8L590.3 459.6L590.8 460.4L591.3 461.1L591.8 461.8L592.0 462.1L592.3 462.5L592.8 463.2L593.3 463.8L593.8 464.5L594.3 465.1L594.8 465.7L595.3 466.3L595.8 466.8L596.1 467.1L596.3 467.3L596.8 467.8L597.3 468.3L597.8 468.7L598.3 469.1L598.8 469.5L599.3 469.9L599.8 470.2L600.0 470.3L600.3 470.5L600.8 470.8L601.3 471.1L601.8 471.4L602.3 471.6L602.8 471.9L603.3 472.0L603.5 472.1L603.8 472.2L604.3 472.3L604.8 472.4L605.3 472.5L605.4 472.5L605.8 472.5L606.3 472.5L606.8 472.5L607.2 472.4L607.3 472.4L607.8 472.3L608.3 472.1L608.8 471.9L609.3 471.6L609.8 471.4L610.0 471.3L610.3 471.2L610.5 471.1L610.8 470.9L611.3 470.5L611.8 470.1L612.3 469.6L612.8 469.2L613.3 468.7L613.8 468.4L614.3 468.2L614.6 468.1L614.8 468.1L615.1 468.1L615.3 468.1L615.8 468.1L616.3 468.1L616.8 468.1L617.3 468.1L617.8 468.2L618.0 468.2L618.3 468.2L618.8 468.2L619.3 468.2L619.8 468.2L620.3 468.2L620.8 468.2L621.3 468.2L621.8 468.2L622.0 468.2L622.3 468.2L622.7 468.2L622.8 468.2L623.3 468.2L623.8 468.3L624.3 468.4L624.8 468.5L625.3 468.6L625.8 468.7L626.3 468.8L626.8 468.9L627.0 468.9L627.3 469.0L627.8 469.0L628.3 469.1L628.8 469.2L629.3 469.3L629.8 469.4L630.3 469.5L630.8 469.6L631.3 469.7L631.8 469.8L632.1 469.9L632.3 469.9L632.8 470.1L633.3 470.2L633.8 470.5L634.3 470.7L634.8 470.9L635.3 471.2L635.8 471.4L636.3 471.7L636.8 471.9L637.3 472.1L637.8 472.3L638.3 472.5L638.8 472.6L639.3 472.7L639.6 472.8L639.8 472.8L640.3 472.8L640.8 472.8L641.3 472.9L641.5 472.9L641.8 472.8L642.3 472.8L642.8 472.8L643.3 472.8L643.8 472.7L644.3 472.7L644.8 472.6L645.3 472.6L645.8 472.5L646.3 472.4L646.8 472.4L647.1 472.3L647.3 472.3L647.8 472.2L648.0 472.2L648.3 472.1L648.8 472.0L649.3 471.8L649.8 471.6L650.3 471.4L650.8 471.3L651.3 471.1L651.8 470.9L652.0 470.9L652.3 470.8L652.8 470.7L653.3 470.6L653.8 470.5L654.3 470.4L654.7 470.3L654.8 470.3L655.3 470.3L655.6 470.3L655.8 470.3L656.3 470.4L656.8 470.5L657.3 470.6L657.8 470.7L658.3 470.8L658.8 470.9L659.0 471.0L659.3 471.1L659.8 471.2L660.0 471.2L660.3 471.3L660.8 471.4L661.3 471.5L661.8 471.7L662.2 471.8L662.3 471.8L662.8 472.0L663.3 472.1L663.8 472.3L664.3 472.5L664.8 472.7L665.3 472.9L665.8 473.2L666.0 473.3L666.3 473.4L666.8 473.6L667.3 473.9L667.8 474.1L668.3 474.3L668.8 474.6L669.3 474.8L669.7 474.9L669.8 474.9L670.3 475.1L670.8 475.3L671.3 475.4L671.8 475.6L672.0 475.6L672.3 475.7L672.8 475.8L673.3 475.9L673.8 476.0L674.3 476.1L674.8 476.2L675.3 476.3L675.8 476.4L676.0 476.4L676.3 476.5L676.8 476.5L677.3 476.6L677.8 476.7L678.3 476.7L678.8 476.8L679.3 476.8L679.8 476.9L680.3 476.9L680.8 477.0L681.3 477.0L681.8 477.1L682.3 477.1L682.8 477.1L683.3 477.1L683.4 477.1" stroke="#008080" stroke-width="1.10" fill="none" stroke-linejoin="round"/>
<path d="M398.3 479.3L398.8 479.3L399.3 479.4L399.8 479.5L400.3 479.5L400.8 479.6L401.3 479.7L401.8 479.7L402.3 479.8L402.8 479.8L403.3 479.9L403.8 480.0L404.3 480.0L404.8 480.1L405.3 480.1L405.8 480.2L406.3 480.2L406.8 480.3L407.3 480.3L407.8 480.4L408.3 480.4L408.8 480.5L409.3 480.5L409.8 480.5L410.3 480.6L410.8 480.6L411.3 480.6L411.8 480.7L412.3 480.7L412.8 480.7L413.3 480.7L413.8 480.7L414.3 480.8L414.8 480.8L415.3 480.8L415.8 480.8L416.3 480.8L416.8 480.8L417.3 480.8L417.8 480.9L418.3 480.9L418.8 480.9L419.3 480.9L419.8 480.9L420.3 480.9L420.8 480.9L421.3 480.9L421.8 480.9L422.3 481.0L422.8 481.0L423.3 481.0L423.8 481.0L424.3 481.0L424.8 481.0L425.3 481.0L425.8 481.0L426.3 481.0L426.8 481.0L427.3 481.0L427.8 481.0L428.3 481.0L428.8 481.1L429.3 481.1L429.8 481.1L430.3 481.1L430.8 481.1L431.3 481.1L431.8 481.1L432.3 481.1L432.8 481.1L433.3 481.1L433.8 481.1L434.3 481.1L434.8 481.1L435.3 481.1L435.7 481.1L435.8 481.1L436.3 481.1L436.8 481.1L437.3 481.1L437.8 481.1L438.3 481.1L438.8 481.1L439.3 481.1L439.8 481.1L440.3 481.1L440.8 481.0L441.3 481.0L441.8 481.0L442.3 481.0L442.8 481.0L443.3 481.0L443.8 481.0L444.3 480.9L444.8 480.9L445.3 480.9L445.8 480.9L446.3 480.9L446.8 480.8L447.3 480.8L447.8 480.8L448.3 480.8L448.8 480.7L449.3 480.7L449.8 480.7L450.3 480.6L450.8 480.5L451.3 480.4L451.8 480.1L452.3 479.8L452.8 479.5L453.3 479.1L453.8 478.7L454.3 478.3L454.8 477.9L455.0 477.8L455.3 477.5L455.8 477.0L456.3 476.4L456.8 475.8L457.3 475.1L457.8 474.3L458.3 473.7L458.8 473.0L459.3 472.5L459.8 472.1L460.3 472.0L460.5 471.9L460.8 472.0L461.3 472.1L461.8 472.3L462.3 472.6L462.8 473.0L463.3 473.4L463.8 473.7L464.3 474.1L464.8 474.4L465.3 474.7L465.8 475.0L466.0 475.0L466.3 475.2L466.8 475.3L467.3 475.5L467.8 475.7L468.3 475.9L468.8 476.0L469.3 476.1L469.8 476.2L470.0 476.2L470.3 476.2L470.8 476.2L471.3 476.2L471.8 476.1L472.3 476.1L472.8 476.1L473.3 476.0L473.8 476.0L474.3 475.9L474.8 475.9L475.0 475.8L475.3 475.8L475.8 475.7L476.3 475.5L476.8 475.3L477.3 475.1L477.4 475.1L477.8 474.9L478.3 474.6L478.8 474.4L479.3 474.1L479.8 473.9L480.0 473.8L480.3 473.6L480.8 473.4L481.3 473.2L481.8 472.9L482.3 472.6L482.8 472.3L482.9 472.3L483.3 472.0L483.8 471.5L484.3 470.8L484.8 469.9L485.3 468.9L485.8 467.8L486.0 467.4L486.3 466.7L486.8 465.6L487.3 464.4L487.8 463.2L488.3 462.0L488.5 461.4L488.8 460.6L489.3 459.1L489.8 457.4L490.3 455.6L490.8 453.9L491.0 453.2L491.3 452.2L491.8 450.5L492.3 448.9L492.8 447.2L493.0 446.6L493.3 445.6L493.8 443.8L494.0 443.1L494.3 441.9L494.8 439.8L495.3 437.5L495.8 435.1L496.3 432.6L496.8 430.0L497.3 427.5L497.7 425.5L497.8 425.0L497.9 424.5L498.3 422.5L498.8 419.9L499.3 417.4L499.8 414.8L500.3 412.3L500.8 409.7L501.3 407.1L501.8 404.5L502.0 403.5L502.3 402.0L502.8 399.4L503.3 396.8L503.8 394.1L504.3 391.6L504.8 389.3L504.9 388.8L505.3 387.2L505.5 386.3L505.8 385.2L506.3 383.3L506.8 381.6L507.0 381.0L507.3 380.2L507.8 378.9L508.2 378.0L508.3 377.8L508.8 377.1L509.3 376.9L509.4 376.9L509.8 377.4L510.3 378.7L510.8 380.3L511.0 380.9L511.3 381.9L511.5 382.6L511.8 383.5L512.3 385.3L512.8 387.2L513.3 389.1L513.8 391.1L514.0 391.9L514.3 393.1L514.8 395.2L515.3 397.4L515.8 399.6L516.3 401.7L516.5 402.6L516.8 403.8L517.3 405.9L517.8 408.0L518.3 410.0L518.8 412.0L519.0 412.9L519.3 414.1L519.8 416.3L520.3 418.6L520.8 420.7L521.3 422.7L521.7 424.0L521.8 424.3L522.3 425.7L522.8 426.9L523.3 428.2L523.5 428.8L523.8 429.6L524.0 430.3L524.3 431.2L524.8 432.9L525.3 434.5L525.8 436.1L526.0 436.7L526.3 437.5L526.8 439.0L527.3 440.4L527.8 441.8L528.3 443.2L528.8 444.5L529.0 445.0L529.3 445.7L529.8 446.9L530.3 448.0L530.8 449.0L530.9 449.2L531.3 449.9L531.8 450.7L532.3 451.5L532.8 452.2L533.3 452.9L533.8 453.6L534.0 453.8L534.3 454.2L534.8 454.8L535.0 455.0L535.3 455.4L535.8 456.0L536.3 456.7L536.8 457.3L537.3 457.8L537.8 458.4L538.3 458.8L538.8 459.2L539.3 459.6L539.8 459.8L540.1 459.8L540.3 459.9L540.8 459.9L541.3 460.0L541.8 460.1L542.3 460.1L542.8 460.2L543.3 460.2L543.8 460.2L544.3 460.3L544.8 460.3L545.3 460.3L545.6 460.3L545.8 460.3L546.3 460.3L546.8 460.2L547.3 460.1L547.5 460.0L547.8 459.9L548.3 459.8L548.8 459.6L549.3 459.5L549.8 459.3L550.0 459.2L550.3 459.1L550.8 459.0L551.3 458.9L551.8 458.7L552.3 458.6L552.8 458.4L553.0 458.3L553.3 458.2L553.8 457.9L554.0 457.8L554.3 457.6L554.8 457.2L555.3 456.8L555.8 456.4L556.3 456.0L556.8 455.5L557.3 455.0L557.4 455.0L557.8 454.6L558.3 454.1L558.8 453.6L559.3 453.0L559.8 452.4L560.0 452.1L560.3 451.7L560.8 450.8L561.1 450.1L561.3 449.7L561.8 448.5L562.3 447.3L562.8 445.9L562.9 445.7L563.3 444.6L563.8 443.1L564.3 441.6L564.8 440.1L565.0 439.5L565.3 438.5L565.8 436.8L566.0 436.1L566.3 435.1L566.8 433.3L567.3 431.6L567.5 431.0L567.8 430.0L568.3 428.5L568.8 427.0L569.3 425.9L569.5 425.7L569.8 425.3L570.3 424.9L570.8 424.7L571.3 424.6L571.8 424.6L572.3 424.8L572.8 425.2L573.3 425.7L573.8 426.2L574.3 426.9L574.8 428.0L575.3 429.1L575.8 430.1L576.0 430.5L576.3 431.2L576.8 432.2L577.3 433.3L577.8 434.4L578.3 435.6L578.5 436.0L578.8 436.7L579.3 437.9L579.8 439.0L580.3 440.2L580.8 441.3L581.3 442.5L581.4 442.7L581.8 443.5L582.3 444.6L582.8 445.6L583.2 446.4L583.3 446.6L583.8 447.5L584.3 448.5L584.8 449.3L585.0 449.7L585.3 450.2L585.8 451.1L586.3 451.9L586.8 452.7L587.3 453.5L587.8 454.3L588.3 455.2L588.7 455.8L588.8 456.0L589.0 456.3L589.3 456.8L589.8 457.6L590.3 458.5L590.8 459.3L591.3 460.1L591.8 460.8L592.0 461.1L592.3 461.6L592.8 462.3L593.3 463.0L593.8 463.7L594.3 464.4L594.8 465.1L595.3 465.7L595.8 466.3L596.1 466.6L596.3 466.8L596.8 467.3L597.3 467.8L597.8 468.3L598.3 468.7L598.8 469.1L599.3 469.5L599.8 469.8L600.0 470.0L600.3 470.2L600.8 470.5L601.3 470.8L601.8 471.1L602.3 471.4L602.8 471.6L603.3 471.8L603.5 471.8L603.8 471.9L604.3 472.0L604.8 472.2L605.3 472.2L605.4 472.2L605.8 472.3L606.3 472.3L606.8 472.3L607.2 472.2L607.3 472.2L607.8 472.1L608.3 471.9L608.8 471.7L609.3 471.4L609.8 471.2L610.0 471.1L610.3 470.9L610.5 470.8L610.8 470.7L611.3 470.3L611.8 469.8L612.3 469.3L612.8 468.7L613.3 468.3L613.8 467.9L614.3 467.7L614.6 467.6L614.8 467.6L615.1 467.6L615.3 467.6L615.8 467.6L616.3 467.6L616.8 467.6L617.3 467.6L617.8 467.6L618.0 467.6L618.3 467.6L618.8 467.6L619.3 467.6L619.8 467.6L620.3 467.6L620.8 467.6L621.3 467.6L621.8 467.6L622.0 467.6L622.3 467.6L622.7 467.6L622.8 467.6L623.3 467.6L623.8 467.7L624.3 467.8L624.8 467.9L625.3 468.0L625.8 468.1L626.3 468.3L626.8 468.4L627.0 468.4L627.3 468.5L627.8 468.6L628.3 468.6L628.8 468.7L629.3 468.8L629.8 468.9L630.3 469.0L630.8 469.1L631.3 469.2L631.8 469.4L632.1 469.4L632.3 469.5L632.8 469.7L633.3 469.9L633.8 470.1L634.3 470.3L634.8 470.6L635.3 470.8L635.8 471.1L636.3 471.4L636.8 471.6L637.3 471.9L637.8 472.1L638.3 472.2L638.8 472.4L639.3 472.5L639.6 472.5L639.8 472.5L640.3 472.6L640.8 472.6L641.3 472.6L641.5 472.6L641.8 472.6L642.3 472.6L642.8 472.5L643.3 472.5L643.8 472.5L644.3 472.4L644.8 472.4L645.3 472.3L645.8 472.3L646.3 472.2L646.8 472.1L647.1 472.1L647.3 472.1L647.8 472.0L648.0 471.9L648.3 471.9L648.8 471.7L649.3 471.5L649.8 471.3L650.3 471.2L650.8 471.0L651.3 470.8L651.8 470.6L652.0 470.6L652.3 470.5L652.8 470.4L653.3 470.2L653.8 470.1L654.3 470.0L654.7 470.0L654.8 470.0L655.3 469.9L655.6 469.9L655.8 470.0L656.3 470.0L656.8 470.1L657.3 470.2L657.8 470.3L658.3 470.4L658.8 470.6L659.0 470.6L659.3 470.7L659.8 470.8L660.0 470.9L660.3 470.9L660.8 471.1L661.3 471.2L661.8 471.3L662.2 471.4L662.3 471.5L662.8 471.6L663.3 471.8L663.8 472.0L664.3 472.2L664.8 472.5L665.3 472.7L665.8 472.9L666.0 473.0L666.3 473.2L666.8 473.5L667.3 473.7L667.8 474.0L668.3 474.2L668.8 474.4L669.3 474.7L669.7 474.8L669.8 474.8L670.3 475.0L670.8 475.2L671.3 475.4L671.8 475.5L672.0 475.6L672.3 475.6L672.8 475.8L673.3 475.9L673.8 476.0L674.3 476.1L674.8 476.2L675.3 476.3L675.8 476.4L676.0 476.4L676.3 476.5L676.8 476.5L677.3 476.6L677.8 476.7L678.3 476.8L678.8 476.8L679.3 476.9L679.8 476.9L680.3 477.0L680.8 477.0L681.3 477.1L681.8 477.1L682.3 477.1L682.8 477.2L683.3 477.2L683.4 477.2" stroke="#0000b0" stroke-width="1.10" fill="none" stroke-linejoin="round"/>
<path d="M398.3 479.3L398.8 479.4L399.3 479.4L399.8 479.5L400.3 479.5L400.8 479.6L401.3 479.7L401.8 479.7L402.3 479.8L402.8 479.9L403.3 479.9L403.8 480.0L404.3 480.0L404.8 480.1L405.3 480.1L405.8 480.2L406.3 480.2L406.8 480.3L407.3 480.3L407.8 480.4L408.3 480.4L408.8 480.5L409.3 480.5L409.8 480.6L410.3 480.6L410.8 480.6L411.3 480.7L411.8 480.7L412.3 480.7L412.8 480.7L413.3 480.7L413.8 480.8L414.3 480.8L414.8 480.8L415.3 480.8L415.8 480.8L416.3 480.8L416.8 480.8L417.3 480.9L417.8 480.9L418.3 480.9L418.8 480.9L419.3 480.9L419.8 480.9L420.3 480.9L420.8 480.9L421.3 480.9L421.8 481.0L422.3 481.0L422.8 481.0L423.3 481.0L423.8 481.0L424.3 481.0L424.8 481.0L425.3 481.0L425.8 481.0L426.3 481.0L426.8 481.0L427.3 481.0L427.8 481.1L428.3 481.1L428.8 481.1L429.3 481.1L429.8 481.1L430.3 481.1L430.8 481.1L431.3 481.1L431.8 481.1L432.3 481.1L432.8 481.1L433.3 481.1L433.8 481.1L434.3 481.1L434.8 481.1L435.3 481.1L435.7 481.1L435.8 481.1L436.3 481.1L436.8 481.1L437.3 481.1L437.8 481.1L438.3 481.1L438.8 481.1L439.3 481.1L439.8 481.1L440.3 481.1L440.8 481.1L441.3 481.0L441.8 481.0L442.3 481.0L442.8 481.0L443.3 481.0L443.8 481.0L444.3 481.0L444.8 480.9L445.3 480.9L445.8 480.9L446.3 480.9L446.8 480.9L447.3 480.8L447.8 480.8L448.3 480.8L448.8 480.7L449.3 480.7L449.8 480.7L450.3 480.6L450.8 480.6L451.3 480.4L451.8 480.2L452.3 479.9L452.8 479.5L453.3 479.2L453.8 478.8L454.3 478.4L454.8 478.1L455.0 477.9L455.3 477.7L455.8 477.3L456.3 476.9L456.8 476.4L457.3 475.9L457.8 475.5L458.3 475.0L458.8 474.6L459.3 474.3L459.8 474.1L460.3 474.0L460.5 473.9L460.8 474.0L461.3 474.0L461.8 474.1L462.3 474.2L462.8 474.3L463.3 474.4L463.8 474.6L464.3 474.7L464.8 474.9L465.3 475.0L465.8 475.2L466.0 475.2L466.3 475.3L466.8 475.4L467.3 475.6L467.8 475.8L468.3 475.9L468.8 476.1L469.3 476.2L469.8 476.2L470.0 476.2L470.3 476.2L470.8 476.2L471.3 476.2L471.8 476.2L472.3 476.1L472.8 476.1L473.3 476.0L473.8 476.0L474.3 475.9L474.8 475.9L475.0 475.8L475.3 475.8L475.8 475.7L476.3 475.5L476.8 475.3L477.3 475.1L477.4 475.1L477.8 474.9L478.3 474.6L478.8 474.4L479.3 474.1L479.8 473.9L480.0 473.8L480.3 473.6L480.8 473.4L481.3 473.1L481.8 472.9L482.3 472.6L482.8 472.3L482.9 472.3L483.3 472.0L483.8 471.5L484.3 470.8L484.8 469.9L485.3 468.9L485.8 467.8L486.0 467.3L486.3 466.7L486.8 465.5L487.3 464.4L487.8 463.2L488.3 461.9L488.5 461.4L488.8 460.5L489.3 459.0L489.8 457.3L490.3 455.5L490.8 453.8L491.0 453.1L491.3 452.1L491.8 450.4L492.3 448.8L492.8 447.1L493.0 446.5L493.3 445.4L493.8 443.7L494.0 442.9L494.3 441.8L494.8 439.6L495.3 437.3L495.8 434.9L496.3 432.4L496.8 429.8L497.3 427.2L497.7 425.1L497.8 424.6L497.9 424.1L498.3 422.1L498.8 419.6L499.3 417.0L499.8 414.4L500.3 411.8L500.8 409.2L501.3 406.6L501.8 404.0L502.0 403.0L502.3 401.5L502.8 398.9L503.3 396.2L503.8 393.6L504.3 391.0L504.8 388.7L504.9 388.2L505.3 386.5L505.5 385.7L505.8 384.5L506.3 382.6L506.8 381.0L507.0 380.4L507.3 379.5L507.8 378.2L508.2 377.3L508.3 377.1L508.8 376.3L509.3 376.2L509.4 376.2L509.8 376.7L510.3 377.9L510.8 379.5L511.0 380.2L511.3 381.2L511.5 381.9L511.8 382.9L512.3 384.6L512.8 386.5L513.3 388.5L513.8 390.5L514.0 391.3L514.3 392.5L514.8 394.6L515.3 396.8L515.8 399.0L516.3 401.2L516.5 402.0L516.8 403.3L517.3 405.4L517.8 407.4L518.3 409.5L518.8 411.6L519.0 412.4L519.3 413.7L519.8 415.9L520.3 418.1L520.8 420.3L521.3 422.3L521.7 423.6L521.8 424.0L522.3 425.3L522.8 426.6L523.3 427.8L523.5 428.4L523.8 429.3L524.0 429.9L524.3 430.9L524.8 432.5L525.3 434.2L525.8 435.8L526.0 436.4L526.3 437.2L526.8 438.7L527.3 440.1L527.8 441.6L528.3 442.9L528.8 444.3L529.0 444.8L529.3 445.5L529.8 446.7L530.3 447.8L530.8 448.8L530.9 449.0L531.3 449.7L531.8 450.5L532.3 451.3L532.8 452.1L533.3 452.8L533.8 453.4L534.0 453.7L534.3 454.0L534.8 454.7L535.0 454.9L535.3 455.3L535.8 455.9L536.3 456.5L536.8 457.1L537.3 457.7L537.8 458.2L538.3 458.7L538.8 459.1L539.3 459.4L539.8 459.6L540.1 459.7L540.3 459.7L540.8 459.8L541.3 459.9L541.8 459.9L542.3 460.0L542.8 460.1L543.3 460.1L543.8 460.1L544.3 460.2L544.8 460.2L545.3 460.2L545.6 460.2L545.8 460.2L546.3 460.1L546.8 460.1L547.3 460.0L547.5 459.9L547.8 459.8L548.3 459.7L548.8 459.5L549.3 459.3L549.8 459.2L550.0 459.1L550.3 459.0L550.8 458.9L551.3 458.7L551.8 458.6L552.3 458.4L552.8 458.3L553.0 458.2L553.3 458.1L553.8 457.8L554.0 457.7L554.3 457.5L554.8 457.1L555.3 456.7L555.8 456.3L556.3 455.8L556.8 455.4L557.3 454.9L557.4 454.8L557.8 454.4L558.3 454.0L558.8 453.4L559.3 452.9L559.8 452.2L560.0 451.9L560.3 451.5L560.8 450.6L561.1 449.9L561.3 449.5L561.8 448.3L562.3 447.0L562.8 445.7L562.9 445.4L563.3 444.3L563.8 442.9L564.3 441.4L564.8 439.8L565.0 439.2L565.3 438.2L565.8 436.5L566.0 435.8L566.3 434.7L566.8 433.0L567.3 431.3L567.5 430.6L567.8 429.7L568.3 428.1L568.8 426.6L569.3 425.6L569.5 425.3L569.8 425.0L570.3 424.5L570.8 424.3L571.3 424.2L571.8 424.2L572.3 424.4L572.8 424.8L573.3 425.3L573.8 425.8L574.3 426.5L574.8 427.6L575.3 428.7L575.8 429.8L576.0 430.2L576.3 430.8L576.8 431.9L577.3 433.0L577.8 434.1L578.3 435.2L578.5 435.7L578.8 436.4L579.3 437.6L579.8 438.7L580.3 439.9L580.8 441.0L581.3 442.2L581.4 442.4L581.8 443.3L582.3 444.3L582.8 445.3L583.2 446.1L583.3 446.3L583.8 447.3L584.3 448.2L584.8 449.1L585.0 449.5L585.3 450.0L585.8 450.8L586.3 451.7L586.8 452.5L587.3 453.3L587.8 454.2L588.3 455.0L588.7 455.6L588.8 455.8L589.0 456.1L589.3 456.6L589.8 457.5L590.3 458.3L590.8 459.1L591.3 460.0L591.8 460.7L592.0 461.0L592.3 461.5L592.8 462.2L593.3 462.9L593.8 463.6L594.3 464.3L594.8 465.0L595.3 465.6L595.8 466.2L596.1 466.5L596.3 466.7L596.8 467.2L597.3 467.7L597.8 468.2L598.3 468.6L598.8 469.0L599.3 469.4L599.8 469.8L600.0 469.9L600.3 470.1L600.8 470.4L601.3 470.8L601.8 471.1L602.3 471.3L602.8 471.6L603.3 471.8L603.5 471.8L603.8 471.9L604.3 472.0L604.8 472.1L605.3 472.2L605.4 472.2L605.8 472.3L606.3 472.3L606.8 472.2L607.2 472.2L607.3 472.2L607.8 472.1L608.3 471.9L608.8 471.7L609.3 471.4L609.8 471.2L610.0 471.1L610.3 470.9L610.5 470.8L610.8 470.6L611.3 470.2L611.8 469.7L612.3 469.2L612.8 468.7L613.3 468.2L613.8 467.8L614.3 467.6L614.6 467.5L614.8 467.5L615.1 467.5L615.3 467.5L615.8 467.5L616.3 467.5L616.8 467.5L617.3 467.5L617.8 467.6L618.0 467.6L618.3 467.6L618.8 467.6L619.3 467.6L619.8 467.6L620.3 467.6L620.8 467.5L621.3 467.5L621.8 467.5L622.0 467.5L622.3 467.5L622.7 467.5L622.8 467.5L623.3 467.6L623.8 467.6L624.3 467.7L624.8 467.8L625.3 468.0L625.8 468.1L626.3 468.2L626.8 468.3L627.0 468.3L627.3 468.4L627.8 468.5L628.3 468.6L628.8 468.7L629.3 468.8L629.8 468.9L630.3 469.0L630.8 469.1L631.3 469.2L631.8 469.3L632.1 469.4L632.3 469.4L632.8 469.6L633.3 469.8L633.8 470.0L634.3 470.3L634.8 470.5L635.3 470.8L635.8 471.1L636.3 471.3L636.8 471.6L637.3 471.8L637.8 472.0L638.3 472.2L638.8 472.3L639.3 472.4L639.6 472.5L639.8 472.5L640.3 472.5L640.8 472.6L641.3 472.6L641.5 472.6L641.8 472.6L642.3 472.5L642.8 472.5L643.3 472.5L643.8 472.4L644.3 472.4L644.8 472.3L645.3 472.3L645.8 472.2L646.3 472.2L646.8 472.1L647.1 472.1L647.3 472.0L647.8 472.0L648.0 471.9L648.3 471.8L648.8 471.7L649.3 471.5L649.8 471.3L650.3 471.1L650.8 470.9L651.3 470.7L651.8 470.6L652.0 470.5L652.3 470.4L652.8 470.3L653.3 470.2L653.8 470.1L654.3 470.0L654.7 469.9L654.8 469.9L655.3 469.9L655.6 469.9L655.8 469.9L656.3 470.0L656.8 470.1L657.3 470.2L657.8 470.3L658.3 470.4L658.8 470.5L659.0 470.6L659.3 470.6L659.8 470.8L660.0 470.8L660.3 470.9L660.8 471.0L661.3 471.1L661.8 471.3L662.2 471.4L662.3 471.4L662.8 471.6L663.3 471.8L663.8 472.0L664.3 472.2L664.8 472.4L665.3 472.7L665.8 472.9L666.0 473.0L666.3 473.2L666.8 473.4L667.3 473.7L667.8 473.9L668.3 474.2L668.8 474.4L669.3 474.6L669.7 474.8L669.8 474.8L670.3 475.0L670.8 475.2L671.3 475.3L671.8 475.5L672.0 475.6L672.3 475.6L672.8 475.8L673.3 475.9L673.8 476.0L674.3 476.1L674.8 476.2L675.3 476.3L675.8 476.4L676.0 476.4L676.3 476.5L676.8 476.6L677.3 476.6L677.8 476.7L678.3 476.8L678.8 476.8L679.3 476.9L679.8 476.9L680.3 477.0L680.8 477.0L681.3 477.1L681.8 477.1L682.3 477.1L682.8 477.2L683.3 477.2L683.4 477.2" stroke="#008000" stroke-width="1.10" fill="none" stroke-linejoin="round"/>
<path d="M398.3 481.4L398.8 481.4L399.3 481.5L399.8 481.5L400.3 481.6L400.8 481.6L401.3 481.7L401.8 481.7L402.3 481.8L402.8 481.8L403.3 481.9L403.8 481.9L404.3 481.9L404.8 482.0L405.3 482.0L405.8 482.1L406.3 482.1L406.8 482.2L407.3 482.2L407.8 482.2L408.3 482.3L408.8 482.3L409.3 482.3L409.8 482.4L410.3 482.4L410.8 482.4L411.3 482.4L411.8 482.5L412.3 482.5L412.8 482.5L413.3 482.5L413.8 482.5L414.3 482.6L414.8 482.6L415.3 482.6L415.8 482.6L416.3 482.6L416.8 482.6L417.3 482.6L417.8 482.7L418.3 482.7L418.8 482.7L419.3 482.7L419.8 482.7L420.3 482.7L420.8 482.7L421.3 482.7L421.8 482.8L422.3 482.8L422.8 482.8L423.3 482.8L423.8 482.8L424.3 482.8L424.8 482.8L425.3 482.8L425.8 482.8L426.3 482.8L426.8 482.9L427.3 482.9L427.8 482.9L428.3 482.9L428.8 482.9L429.3 482.9L429.8 482.9L430.3 482.9L430.8 482.9L431.3 482.9L431.8 482.9L432.3 482.9L432.8 482.9L433.3 482.9L433.8 482.9L434.3 482.9L434.8 482.9L435.3 482.9L435.7 482.9L435.8 482.9L436.3 482.9L436.8 482.9L437.3 482.9L437.8 482.9L438.3 482.9L438.8 482.9L439.3 482.9L439.8 482.9L440.3 482.9L440.8 482.9L441.3 482.9L441.8 482.9L442.3 482.9L442.8 482.9L443.3 482.9L443.8 482.9L444.3 482.9L444.8 482.8L445.3 482.8L445.8 482.8L446.3 482.8L446.8 482.8L447.3 482.8L447.8 482.8L448.3 482.8L448.8 482.7L449.3 482.7L449.8 482.7L450.3 482.7L450.8 482.6L451.3 482.4L451.8 482.2L452.3 481.9L452.8 481.5L453.3 481.2L453.8 480.8L454.3 480.4L454.8 480.0L455.0 479.9L455.3 479.7L455.8 479.3L456.3 478.8L456.8 478.4L457.3 477.9L457.8 477.4L458.3 477.0L458.8 476.6L459.3 476.3L459.8 476.0L460.3 475.9L460.5 475.9L460.8 475.9L461.3 475.9L461.8 476.0L462.3 476.1L462.8 476.2L463.3 476.3L463.8 476.4L464.3 476.5L464.8 476.7L465.3 476.8L465.8 476.9L466.0 477.0L466.3 477.0L466.8 477.2L467.3 477.3L467.8 477.5L468.3 477.7L468.8 477.8L469.3 477.9L469.8 477.9L470.0 478.0L470.3 478.0L470.8 477.9L471.3 477.9L471.8 477.9L472.3 477.8L472.8 477.8L473.3 477.7L473.8 477.7L474.3 477.6L474.8 477.5L475.0 477.5L475.3 477.4L475.8 477.2L476.3 477.0L476.8 476.7L477.3 476.3L477.4 476.2L477.8 475.9L478.3 475.5L478.8 475.1L479.3 474.7L479.8 474.4L480.0 474.2L480.3 474.1L480.8 473.8L481.3 473.5L481.8 473.2L482.3 472.9L482.8 472.6L482.9 472.5L483.3 472.2L483.8 471.7L484.3 470.9L484.8 469.8L485.3 468.4L485.8 467.1L486.0 466.5L486.3 465.7L486.8 464.4L487.3 463.0L487.8 461.6L488.3 460.0L488.5 459.3L488.8 458.2L489.3 456.2L489.8 453.9L490.3 451.6L490.8 449.3L491.0 448.4L491.3 447.1L491.8 445.0L492.3 442.9L492.8 440.7L493.0 439.9L493.3 438.5L493.8 436.0L494.0 434.9L494.3 433.1L494.8 429.9L495.3 426.3L495.8 422.4L496.3 418.4L496.8 414.3L497.3 410.2L497.7 407.1L497.8 406.3L497.9 405.6L498.3 402.5L498.8 398.8L499.3 395.0L499.8 391.2L500.3 387.4L500.8 383.6L501.3 379.7L501.8 375.9L502.0 374.4L502.3 372.1L502.8 368.3L503.3 364.4L503.8 360.6L504.3 356.8L504.8 353.3L504.9 352.6L505.3 350.0L505.5 348.7L505.8 346.8L506.3 343.9L506.8 341.3L507.0 340.4L507.3 339.1L507.8 336.8L508.2 335.2L508.3 334.8L508.8 333.3L509.3 332.6L509.4 332.5L509.8 333.1L510.3 334.8L510.8 337.2L511.0 338.3L511.3 339.8L511.5 340.7L511.8 342.0L512.3 344.3L512.8 346.8L513.3 349.4L513.8 352.1L514.0 353.2L514.3 354.9L514.8 357.9L515.3 361.1L515.8 364.4L516.3 367.6L516.5 368.9L516.8 370.7L517.3 373.8L517.8 376.8L518.3 379.8L518.8 382.9L519.0 384.2L519.3 386.1L519.8 389.5L520.3 393.0L520.8 396.3L521.3 399.4L521.7 401.4L521.8 401.8L522.3 403.8L522.8 405.4L523.3 407.2L523.5 408.0L523.8 409.3L524.0 410.2L524.3 411.7L524.8 414.2L525.3 416.7L525.8 419.2L526.0 420.0L526.3 421.4L526.8 423.6L527.3 425.7L527.8 427.9L528.3 430.0L528.8 432.0L529.0 432.8L529.3 433.9L529.8 435.7L530.3 437.3L530.8 438.7L530.9 439.0L531.3 440.0L531.8 441.2L532.3 442.3L532.8 443.3L533.3 444.2L533.8 445.1L534.0 445.5L534.3 446.0L534.8 446.8L535.0 447.1L535.3 447.6L535.8 448.4L536.3 449.3L536.8 450.1L537.3 450.9L537.8 451.6L538.3 452.3L538.8 452.8L539.3 453.3L539.8 453.6L540.1 453.7L540.3 453.8L540.8 453.9L541.3 454.0L541.8 454.2L542.3 454.3L542.8 454.4L543.3 454.4L543.8 454.5L544.3 454.6L544.8 454.6L545.3 454.6L545.6 454.6L545.8 454.6L546.3 454.5L546.8 454.4L547.3 454.2L547.5 454.1L547.8 453.9L548.3 453.7L548.8 453.4L549.3 453.2L549.8 452.9L550.0 452.9L550.3 452.8L550.8 452.6L551.3 452.5L551.8 452.4L552.3 452.2L552.8 452.0L553.0 452.0L553.3 451.8L553.8 451.4L554.0 451.3L554.3 451.0L554.8 450.4L555.3 449.8L555.8 449.1L556.3 448.4L556.8 447.7L557.3 447.0L557.4 446.9L557.8 446.3L558.3 445.6L558.8 444.8L559.3 443.9L559.8 442.9L560.0 442.5L560.3 441.8L560.8 440.3L561.1 439.3L561.3 438.6L561.8 436.7L562.3 434.7L562.8 432.7L562.9 432.3L563.3 430.7L563.8 428.5L564.3 426.3L564.8 424.0L565.0 423.0L565.3 421.5L565.8 418.9L566.0 417.8L566.3 416.1L566.8 413.4L567.3 410.9L567.5 410.0L567.8 408.7L568.3 406.4L568.8 404.3L569.3 402.8L569.5 402.5L569.8 402.2L570.3 401.7L570.8 401.3L571.3 401.1L571.8 401.0L572.3 401.2L572.8 401.5L573.3 402.0L573.8 402.6L574.3 403.6L574.8 405.0L575.3 406.7L575.8 408.3L576.0 408.9L576.3 409.8L576.8 411.3L577.3 412.9L577.8 414.5L578.3 416.0L578.5 416.7L578.8 417.6L579.3 419.2L579.8 420.7L580.3 422.3L580.8 423.9L581.3 425.4L581.4 425.7L581.8 426.9L582.3 428.5L582.8 430.0L583.2 431.1L583.3 431.4L583.8 432.9L584.3 434.3L584.8 435.8L585.0 436.3L585.3 437.2L585.8 438.5L586.3 439.9L586.8 441.2L587.3 442.5L587.8 443.8L588.3 445.1L588.7 446.2L588.8 446.5L589.0 447.0L589.3 447.8L589.8 449.1L590.3 450.5L590.8 451.8L591.3 453.1L591.8 454.3L592.0 454.8L592.3 455.5L592.8 456.6L593.3 457.8L593.8 458.9L594.3 459.9L594.8 461.0L595.3 461.9L595.8 462.8L596.1 463.3L596.3 463.6L596.8 464.3L597.3 465.1L597.8 465.7L598.3 466.4L598.8 467.0L599.3 467.5L599.8 468.0L600.0 468.2L600.3 468.5L600.8 469.0L601.3 469.5L601.8 469.9L602.3 470.3L602.8 470.7L603.3 470.9L603.5 471.0L603.8 471.1L604.3 471.3L604.8 471.5L605.3 471.6L605.4 471.6L605.8 471.7L606.3 471.8L606.8 471.8L607.2 471.8L607.3 471.8L607.8 471.7L608.3 471.5L608.8 471.3L609.3 470.9L609.8 470.6L610.0 470.4L610.3 470.2L610.5 470.0L610.8 469.7L611.3 469.1L611.8 468.3L612.3 467.4L612.8 466.5L613.3 465.7L613.8 465.1L614.3 464.7L614.6 464.6L614.8 464.6L615.1 464.6L615.3 464.6L615.8 464.6L616.3 464.6L616.8 464.6L617.3 464.6L617.8 464.5L618.0 464.5L618.3 464.5L618.8 464.5L619.3 464.4L619.8 464.4L620.3 464.3L620.8 464.3L621.3 464.2L621.8 464.2L622.0 464.1L622.3 464.1L622.7 464.1L622.8 464.1L623.3 464.2L623.8 464.3L624.3 464.4L624.8 464.6L625.3 464.8L625.8 465.0L626.3 465.2L626.8 465.4L627.0 465.5L627.3 465.6L627.8 465.8L628.3 465.9L628.8 466.1L629.3 466.2L629.8 466.4L630.3 466.6L630.8 466.7L631.3 466.9L631.8 467.1L632.1 467.2L632.3 467.3L632.8 467.6L633.3 467.9L633.8 468.2L634.3 468.6L634.8 469.0L635.3 469.4L635.8 469.8L636.3 470.2L636.8 470.5L637.3 470.8L637.8 471.1L638.3 471.4L638.8 471.5L639.3 471.6L639.6 471.6L639.8 471.6L640.3 471.6L640.8 471.6L641.3 471.6L641.5 471.6L641.8 471.6L642.3 471.6L642.8 471.6L643.3 471.6L643.8 471.6L644.3 471.5L644.8 471.5L645.3 471.5L645.8 471.4L646.3 471.4L646.8 471.3L647.1 471.3L647.3 471.3L647.8 471.2L648.0 471.1L648.3 471.0L648.8 470.8L649.3 470.5L649.8 470.3L650.3 470.0L650.8 469.7L651.3 469.5L651.8 469.2L652.0 469.2L652.3 469.1L652.8 468.9L653.3 468.7L653.8 468.5L654.3 468.3L654.7 468.2L654.8 468.2L655.3 468.2L655.6 468.1L655.8 468.2L656.3 468.2L656.8 468.3L657.3 468.4L657.8 468.5L658.3 468.6L658.8 468.7L659.0 468.8L659.3 468.8L659.8 469.0L660.0 469.0L660.3 469.1L660.8 469.3L661.3 469.5L661.8 469.7L662.2 469.9L662.3 469.9L662.8 470.2L663.3 470.5L663.8 470.8L664.3 471.2L664.8 471.5L665.3 471.9L665.8 472.3L666.0 472.5L666.3 472.8L666.8 473.2L667.3 473.6L667.8 473.9L668.3 474.3L668.8 474.6L669.3 475.0L669.7 475.2L669.8 475.2L670.3 475.5L670.8 475.7L671.3 475.9L671.8 476.2L672.0 476.2L672.3 476.4L672.8 476.6L673.3 476.8L673.8 477.0L674.3 477.1L674.8 477.3L675.3 477.4L675.8 477.5L676.0 477.6L676.3 477.7L676.8 477.8L677.3 477.9L677.8 478.0L678.3 478.1L678.8 478.2L679.3 478.3L679.8 478.3L680.3 478.4L680.8 478.5L681.3 478.6L681.8 478.6L682.3 478.6L682.8 478.7L683.3 478.7L683.4 478.7" stroke="#ff0000" stroke-width="1.10" fill="none" stroke-linejoin="round"/>
<path d="M398.3 480.5L398.8 480.5L399.3 480.6L399.8 480.6L400.3 480.7L400.8 480.7L401.3 480.8L401.8 480.8L402.3 480.9L402.8 480.9L403.3 480.9L403.8 481.0L404.3 481.0L404.8 481.1L405.3 481.1L405.8 481.2L406.3 481.2L406.8 481.2L407.3 481.3L407.8 481.3L408.3 481.3L408.8 481.4L409.3 481.4L409.8 481.4L410.3 481.5L410.8 481.5L411.3 481.5L411.8 481.5L412.3 481.5L412.8 481.6L413.3 481.6L413.8 481.6L414.3 481.6L414.8 481.6L415.3 481.6L415.8 481.7L416.3 481.7L416.8 481.7L417.3 481.7L417.8 481.7L418.3 481.7L418.8 481.7L419.3 481.8L419.8 481.8L420.3 481.8L420.8 481.8L421.3 481.8L421.8 481.8L422.3 481.8L422.8 481.8L423.3 481.9L423.8 481.9L424.3 481.9L424.8 481.9L425.3 481.9L425.8 481.9L426.3 481.9L426.8 481.9L427.3 481.9L427.8 481.9L428.3 481.9L428.8 482.0L429.3 482.0L429.8 482.0L430.3 482.0L430.8 482.0L431.3 482.0L431.8 482.0L432.3 482.0L432.8 482.0L433.3 482.0L433.8 482.0L434.3 482.0L434.8 482.0L435.3 482.0L435.7 482.0L435.8 482.0L436.3 482.0L436.8 482.0L437.3 482.0L437.8 482.0L438.3 482.0L438.8 482.0L439.3 482.0L439.8 482.0L440.3 482.0L440.8 482.0L441.3 482.0L441.8 482.0L442.3 482.0L442.8 482.0L443.3 482.0L443.8 481.9L444.3 481.9L444.8 481.9L445.3 481.9L445.8 481.9L446.3 481.9L446.8 481.9L447.3 481.9L447.8 481.9L448.3 481.9L448.8 481.8L449.3 481.8L449.8 481.8L450.3 481.8L450.8 481.7L451.3 481.6L451.8 481.3L452.3 481.0L452.8 480.7L453.3 480.3L453.8 479.9L454.3 479.5L454.8 479.1L455.0 479.0L455.3 478.8L455.8 478.4L456.3 477.9L456.8 477.5L457.3 477.0L457.8 476.5L458.3 476.1L458.8 475.7L459.3 475.4L459.8 475.1L460.3 475.0L460.5 475.0L460.8 475.0L461.3 475.0L461.8 475.1L462.3 475.2L462.8 475.3L463.3 475.4L463.8 475.5L464.3 475.6L464.8 475.7L465.3 475.8L465.8 476.0L466.0 476.0L466.3 476.1L466.8 476.2L467.3 476.4L467.8 476.5L468.3 476.7L468.8 476.8L469.3 476.9L469.8 477.0L470.0 477.0L470.3 477.0L470.8 477.0L471.3 477.0L471.8 476.9L472.3 476.9L472.8 476.8L473.3 476.8L473.8 476.7L474.3 476.6L474.8 476.5L475.0 476.5L475.3 476.4L475.8 476.2L476.3 476.0L476.8 475.6L477.3 475.2L477.4 475.2L477.8 474.8L478.3 474.4L478.8 473.9L479.3 473.5L479.8 473.1L480.0 473.0L480.3 472.8L480.8 472.5L481.3 472.2L481.8 472.0L482.3 471.7L482.8 471.3L482.9 471.2L483.3 470.9L483.8 470.4L484.3 469.6L484.8 468.4L485.3 467.0L485.8 465.6L486.0 465.0L486.3 464.2L486.8 462.8L487.3 461.4L487.8 459.9L488.3 458.2L488.5 457.5L488.8 456.3L489.3 454.2L489.8 451.8L490.3 449.4L490.8 446.9L491.0 446.0L491.3 444.6L491.8 442.4L492.3 440.2L492.8 438.0L493.0 437.0L493.3 435.5L493.8 432.9L494.0 431.7L494.3 429.8L494.8 426.3L495.3 422.4L495.8 418.2L496.3 413.9L496.8 409.4L497.3 405.0L497.7 401.6L497.8 400.8L497.9 400.0L498.3 396.7L498.8 392.7L499.3 388.6L499.8 384.6L500.3 380.5L500.8 376.4L501.3 372.3L501.8 368.2L502.0 366.5L502.3 364.1L502.8 360.0L503.3 355.9L503.8 351.7L504.3 347.7L504.8 343.9L504.9 343.2L505.3 340.4L505.5 339.0L505.8 337.0L506.3 333.8L506.8 331.0L507.0 330.0L507.3 328.6L507.8 326.1L508.2 324.3L508.3 323.8L508.8 322.1L509.3 321.3L509.4 321.3L509.8 321.8L510.3 323.7L510.8 326.3L511.0 327.4L511.3 329.0L511.5 330.0L511.8 331.4L512.3 333.9L512.8 336.5L513.3 339.2L513.8 342.0L514.0 343.2L514.3 345.0L514.8 348.3L515.3 351.7L515.8 355.2L516.3 358.7L516.5 360.0L516.8 362.0L517.3 365.2L517.8 368.5L518.3 371.8L518.8 375.1L519.0 376.4L519.3 378.5L519.8 382.2L520.3 385.9L520.8 389.6L521.3 392.8L521.7 395.0L521.8 395.5L522.3 397.5L522.8 399.3L523.3 401.2L523.5 402.0L523.8 403.4L524.0 404.4L524.3 406.0L524.8 408.7L525.3 411.4L525.8 414.0L526.0 415.0L526.3 416.4L526.8 418.8L527.3 421.1L527.8 423.5L528.3 425.7L528.8 427.9L529.0 428.7L529.3 429.9L529.8 431.8L530.3 433.6L530.8 435.1L530.9 435.4L531.3 436.5L531.8 437.7L532.3 438.9L532.8 440.0L533.3 441.0L533.8 441.9L534.0 442.3L534.3 442.8L534.8 443.7L535.0 444.0L535.3 444.5L535.8 445.4L536.3 446.3L536.8 447.1L537.3 448.0L537.8 448.7L538.3 449.4L538.8 450.0L539.3 450.5L539.8 450.9L540.1 451.0L540.3 451.1L540.8 451.2L541.3 451.4L541.8 451.5L542.3 451.6L542.8 451.7L543.3 451.8L543.8 451.9L544.3 451.9L544.8 452.0L545.3 452.0L545.6 452.0L545.8 452.0L546.3 451.9L546.8 451.7L547.3 451.5L547.5 451.4L547.8 451.2L548.3 451.0L548.8 450.7L549.3 450.4L549.8 450.2L550.0 450.1L550.3 450.0L550.8 449.9L551.3 449.7L551.8 449.6L552.3 449.5L552.8 449.3L553.0 449.2L553.3 449.0L553.8 448.6L554.0 448.5L554.3 448.1L554.8 447.6L555.3 446.9L555.8 446.2L556.3 445.4L556.8 444.6L557.3 443.9L557.4 443.7L557.8 443.1L558.3 442.3L558.8 441.5L559.3 440.5L559.8 439.5L560.0 439.0L560.3 438.2L560.8 436.6L561.1 435.5L561.3 434.8L561.8 432.7L562.3 430.6L562.8 428.4L562.9 428.0L563.3 426.3L563.8 423.9L564.3 421.5L564.8 419.0L565.0 418.0L565.3 416.4L565.8 413.5L566.0 412.3L566.3 410.5L566.8 407.6L567.3 405.0L567.5 404.0L567.8 402.6L568.3 400.1L568.8 397.9L569.3 396.3L569.5 396.0L569.8 395.7L570.3 395.1L570.8 394.7L571.3 394.5L571.8 394.4L572.3 394.5L572.8 394.9L573.3 395.4L573.8 396.0L574.3 397.0L574.8 398.6L575.3 400.4L575.8 402.1L576.0 402.7L576.3 403.7L576.8 405.3L577.3 407.0L577.8 408.7L578.3 410.3L578.5 411.0L578.8 412.0L579.3 413.7L579.8 415.3L580.3 417.0L580.8 418.6L581.3 420.3L581.4 420.6L581.8 421.9L582.3 423.5L582.8 425.1L583.2 426.4L583.3 426.7L583.8 428.3L584.3 429.9L584.8 431.4L585.0 432.0L585.3 432.9L585.8 434.4L586.3 435.8L586.8 437.3L587.3 438.7L587.8 440.1L588.3 441.6L588.7 442.7L588.8 443.0L589.0 443.6L589.3 444.4L589.8 445.9L590.3 447.3L590.8 448.8L591.3 450.2L591.8 451.5L592.0 452.0L592.3 452.8L592.8 454.0L593.3 455.2L593.8 456.4L594.3 457.6L594.8 458.7L595.3 459.7L595.8 460.7L596.1 461.2L596.3 461.5L596.8 462.3L597.3 463.1L597.8 463.8L598.3 464.5L598.8 465.1L599.3 465.7L599.8 466.3L600.0 466.5L600.3 466.8L600.8 467.3L601.3 467.9L601.8 468.3L602.3 468.8L602.8 469.1L603.3 469.4L603.5 469.5L603.8 469.6L604.3 469.8L604.8 470.0L605.3 470.1L605.4 470.1L605.8 470.2L606.3 470.3L606.8 470.4L607.2 470.4L607.3 470.4L607.8 470.3L608.3 470.1L608.8 469.8L609.3 469.5L609.8 469.1L610.0 468.9L610.3 468.7L610.5 468.5L610.8 468.2L611.3 467.5L611.8 466.6L612.3 465.7L612.8 464.7L613.3 463.8L613.8 463.1L614.3 462.7L614.6 462.6L614.8 462.6L615.1 462.6L615.3 462.6L615.8 462.6L616.3 462.5L616.8 462.5L617.3 462.5L617.8 462.5L618.0 462.5L618.3 462.5L618.8 462.4L619.3 462.4L619.8 462.3L620.3 462.2L620.8 462.2L621.3 462.1L621.8 462.0L622.0 462.0L622.3 462.0L622.7 462.0L622.8 462.0L623.3 462.1L623.8 462.2L624.3 462.3L624.8 462.5L625.3 462.8L625.8 463.0L626.3 463.2L626.8 463.4L627.0 463.5L627.3 463.6L627.8 463.8L628.3 464.0L628.8 464.1L629.3 464.3L629.8 464.5L630.3 464.7L630.8 464.8L631.3 465.1L631.8 465.3L632.1 465.4L632.3 465.5L632.8 465.8L633.3 466.1L633.8 466.5L634.3 466.9L634.8 467.3L635.3 467.7L635.8 468.1L636.3 468.5L636.8 468.9L637.3 469.3L637.8 469.6L638.3 469.8L638.8 470.0L639.3 470.1L639.6 470.1L639.8 470.1L640.3 470.1L640.8 470.1L641.3 470.1L641.5 470.1L641.8 470.1L642.3 470.1L642.8 470.0L643.3 470.0L643.8 470.0L644.3 470.0L644.8 470.0L645.3 469.9L645.8 469.9L646.3 469.9L646.8 469.8L647.1 469.8L647.3 469.8L647.8 469.7L648.0 469.6L648.3 469.5L648.8 469.2L649.3 469.0L649.8 468.7L650.3 468.4L650.8 468.1L651.3 467.8L651.8 467.6L652.0 467.5L652.3 467.4L652.8 467.2L653.3 467.0L653.8 466.8L654.3 466.6L654.7 466.5L654.8 466.5L655.3 466.4L655.6 466.4L655.8 466.4L656.3 466.4L656.8 466.5L657.3 466.6L657.8 466.7L658.3 466.8L658.8 467.0L659.0 467.0L659.3 467.1L659.8 467.2L660.0 467.3L660.3 467.4L660.8 467.6L661.3 467.8L661.8 468.0L662.2 468.2L662.3 468.2L662.8 468.5L663.3 468.8L663.8 469.2L664.3 469.6L664.8 470.0L665.3 470.4L665.8 470.9L666.0 471.0L666.3 471.3L666.8 471.8L667.3 472.2L667.8 472.6L668.3 473.0L668.8 473.3L669.3 473.7L669.7 473.9L669.8 474.0L670.3 474.2L670.8 474.5L671.3 474.7L671.8 475.0L672.0 475.1L672.3 475.2L672.8 475.4L673.3 475.6L673.8 475.8L674.3 476.0L674.8 476.2L675.3 476.3L675.8 476.5L676.0 476.5L676.3 476.6L676.8 476.7L677.3 476.8L677.8 476.9L678.3 477.0L678.8 477.1L679.3 477.2L679.8 477.3L680.3 477.4L680.8 477.5L681.3 477.5L681.8 477.6L682.3 477.6L682.8 477.7L683.3 477.7L683.4 477.7" stroke="#84109c" stroke-width="1.10" fill="none" stroke-linejoin="round"/>
</svg>
</body></html>
